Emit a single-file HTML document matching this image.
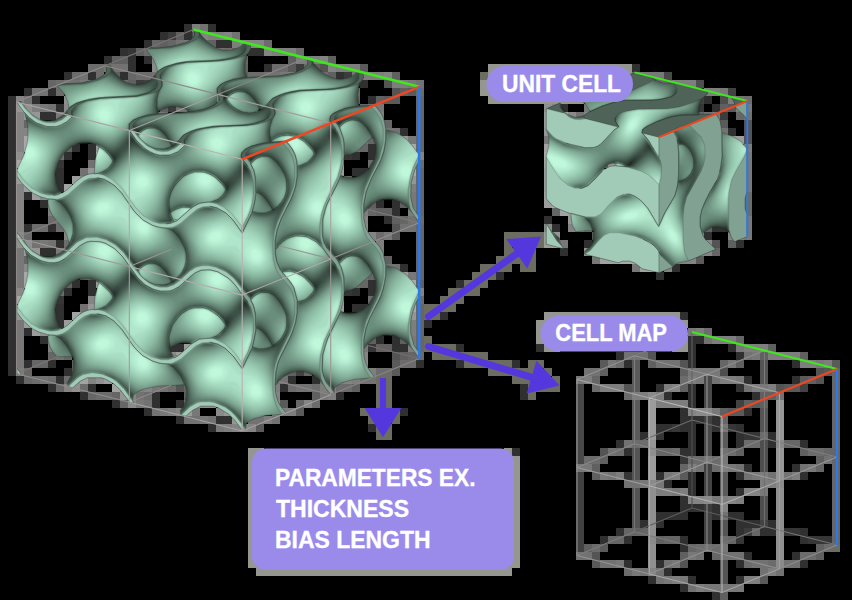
<!DOCTYPE html>
<html><head><meta charset="utf-8"><title>Gyroid lattice</title>
<style>html,body{margin:0;padding:0;background:#000;}body{width:852px;height:600px;overflow:hidden;}svg{display:block}</style>
</head><body>
<svg width="852" height="600" viewBox="0 0 852 600">
<rect width="852" height="600" fill="#000"/>
<g><path fill="#303030" d="M184 24h8v8h-8zM208 24h8v8h-8zM160 32h8v8h-8zM184 32h8v8h-8zM144 40h8v8h-8zM216 40h8v8h-8zM224 40h8v8h-8zM120 48h8v8h-8zM248 48h8v8h-8zM256 48h8v8h-8zM104 56h8v8h-8zM128 56h8v8h-8zM144 56h8v8h-8zM128 64h8v8h-8zM264 64h8v8h-8zM632 64h8v8h-8zM64 72h8v8h-8zM88 72h8v8h-8zM120 72h8v8h-8zM336 72h8v8h-8zM360 80h8v8h-8zM24 88h8v8h-8zM48 88h8v8h-8zM8 96h8v8h-8zM32 96h8v8h-8zM368 96h8v8h-8zM704 96h8v8h-8zM8 104h8v8h-8zM56 104h8v8h-8zM560 104h8v8h-8zM712 104h8v8h-8zM8 112h8v8h-8zM40 112h8v8h-8zM48 112h8v8h-8zM8 120h8v8h-8zM8 128h8v8h-8zM400 128h8v8h-8zM728 128h8v8h-8zM8 136h8v8h-8zM8 144h8v8h-8zM72 144h8v8h-8zM88 144h8v8h-8zM368 144h8v8h-8zM8 152h8v8h-8zM64 152h8v8h-8zM88 152h8v8h-8zM352 152h8v8h-8zM368 152h8v8h-8zM8 160h8v8h-8zM8 168h8v8h-8zM56 168h8v8h-8zM352 168h8v8h-8zM360 168h8v8h-8zM8 176h8v8h-8zM56 176h8v8h-8zM8 184h8v8h-8zM56 184h8v8h-8zM8 192h8v8h-8zM24 192h8v8h-8zM8 200h8v8h-8zM40 200h8v8h-8zM376 200h8v8h-8zM392 200h8v8h-8zM8 208h8v8h-8zM392 208h8v8h-8zM8 216h8v8h-8zM384 216h8v8h-8zM544 216h8v8h-8zM8 224h8v8h-8zM24 224h8v8h-8zM48 224h8v8h-8zM552 224h8v8h-8zM712 224h8v8h-8zM720 224h8v8h-8zM8 232h8v8h-8zM704 232h8v8h-8zM8 240h8v8h-8zM56 240h8v8h-8zM584 240h8v8h-8zM736 240h8v8h-8zM8 248h8v8h-8zM40 248h8v8h-8zM48 248h8v8h-8zM560 248h8v8h-8zM8 256h8v8h-8zM8 264h8v8h-8zM400 264h8v8h-8zM672 264h8v8h-8zM8 272h8v8h-8zM496 272h8v8h-8zM656 272h8v8h-8zM8 280h8v8h-8zM72 280h8v8h-8zM88 280h8v8h-8zM368 280h8v8h-8zM456 280h8v8h-8zM8 288h8v8h-8zM64 288h8v8h-8zM88 288h8v8h-8zM352 288h8v8h-8zM368 288h8v8h-8zM8 296h8v8h-8zM8 304h8v8h-8zM56 304h8v8h-8zM352 304h8v8h-8zM360 304h8v8h-8zM8 312h8v8h-8zM56 312h8v8h-8zM440 312h8v8h-8zM680 312h8v8h-8zM8 320h8v8h-8zM56 320h8v8h-8zM424 320h8v8h-8zM8 328h8v8h-8zM24 328h8v8h-8zM8 336h8v8h-8zM40 336h8v8h-8zM376 336h8v8h-8zM392 336h8v8h-8zM688 336h8v8h-8zM696 336h8v8h-8zM8 344h8v8h-8zM168 344h8v8h-8zM176 344h8v8h-8zM392 344h8v8h-8zM400 344h8v8h-8zM456 344h8v8h-8zM536 344h8v8h-8zM688 344h8v8h-8zM728 344h8v8h-8zM8 352h8v8h-8zM616 352h8v8h-8zM688 352h8v8h-8zM736 352h8v8h-8zM8 360h8v8h-8zM24 360h8v8h-8zM48 360h8v8h-8zM416 360h8v8h-8zM456 360h8v8h-8zM512 360h8v8h-8zM624 360h8v8h-8zM688 360h8v8h-8zM792 360h8v8h-8zM8 368h8v8h-8zM64 368h8v8h-8zM16 376h8v8h-8zM56 376h8v8h-8zM288 376h8v8h-8zM312 376h8v8h-8zM744 376h8v8h-8zM792 376h8v8h-8zM48 384h8v8h-8zM88 384h8v8h-8zM280 384h8v8h-8zM520 384h8v8h-8zM656 384h8v8h-8zM688 384h8v8h-8zM736 384h8v8h-8zM80 392h8v8h-8zM152 392h8v8h-8zM336 392h8v8h-8zM520 392h8v8h-8zM664 392h8v8h-8zM688 392h8v8h-8zM752 392h8v8h-8zM112 400h8v8h-8zM152 400h8v8h-8zM176 400h8v8h-8zM688 400h8v8h-8zM144 408h8v8h-8zM400 408h8v8h-8zM680 408h8v8h-8zM744 408h8v8h-8zM176 416h8v8h-8zM216 416h8v8h-8zM224 416h8v8h-8zM680 416h8v8h-8zM688 416h8v8h-8zM696 416h8v8h-8zM712 416h8v8h-8zM208 424h8v8h-8zM368 424h8v8h-8zM656 424h8v8h-8zM664 424h8v8h-8zM680 424h8v8h-8zM688 424h8v8h-8zM712 424h8v8h-8zM736 424h8v8h-8zM640 432h8v8h-8zM688 432h8v8h-8zM736 432h8v8h-8zM768 432h8v8h-8zM616 440h8v8h-8zM688 440h8v8h-8zM736 440h8v8h-8zM768 440h8v8h-8zM800 440h8v8h-8zM512 448h8v8h-8zM624 448h8v8h-8zM680 448h8v8h-8zM688 448h8v8h-8zM744 464h8v8h-8zM792 464h8v8h-8zM656 472h8v8h-8zM688 472h8v8h-8zM736 472h8v8h-8zM800 472h8v8h-8zM664 480h8v8h-8zM688 480h8v8h-8zM688 488h8v8h-8zM736 488h8v8h-8zM680 496h8v8h-8zM680 504h8v8h-8zM688 504h8v8h-8zM696 504h8v8h-8zM712 504h8v8h-8zM656 512h8v8h-8zM664 512h8v8h-8zM672 512h8v8h-8zM680 512h8v8h-8zM712 512h8v8h-8zM728 512h8v8h-8zM736 512h8v8h-8zM640 520h8v8h-8zM656 520h8v8h-8zM736 520h8v8h-8zM744 520h8v8h-8zM752 520h8v8h-8zM768 520h8v8h-8zM616 528h8v8h-8zM736 528h8v8h-8zM760 528h8v8h-8zM768 528h8v8h-8zM800 528h8v8h-8zM600 536h8v8h-8zM624 536h8v8h-8zM680 536h8v8h-8zM800 536h8v8h-8zM680 544h8v8h-8zM744 552h8v8h-8zM792 552h8v8h-8zM624 560h8v8h-8zM656 560h8v8h-8zM736 560h8v8h-8zM800 560h8v8h-8zM664 568h8v8h-8zM648 576h8v8h-8zM688 576h8v8h-8zM736 576h8v8h-8zM680 584h8v8h-8zM712 592h8v8h-8z"/><path fill="#7e7e7e" d="M192 24h8v8h-8zM208 32h8v8h-8zM216 32h8v8h-8zM232 40h8v8h-8zM272 48h8v8h-8zM280 48h8v8h-8zM288 48h8v8h-8zM296 56h8v8h-8zM304 56h8v8h-8zM312 56h8v8h-8zM336 64h8v8h-8zM344 64h8v8h-8zM352 64h8v8h-8zM288 72h8v8h-8zM360 72h8v8h-8zM368 72h8v8h-8zM376 72h8v8h-8zM88 80h8v8h-8zM392 80h8v8h-8zM400 80h8v8h-8zM672 80h8v8h-8zM680 80h8v8h-8zM688 80h8v8h-8zM704 88h8v8h-8zM712 88h8v8h-8zM728 96h8v8h-8zM32 104h8v8h-8zM736 104h8v8h-8zM376 112h8v8h-8zM408 184h8v8h-8zM48 200h8v8h-8zM48 208h8v8h-8zM360 208h8v8h-8zM408 208h8v8h-8zM64 224h8v8h-8zM576 224h8v8h-8zM376 240h8v8h-8zM376 248h8v8h-8zM672 256h8v8h-8zM408 320h8v8h-8zM408 328h8v8h-8zM696 328h8v8h-8zM48 336h8v8h-8zM712 336h8v8h-8zM720 336h8v8h-8zM728 336h8v8h-8zM48 344h8v8h-8zM408 344h8v8h-8zM744 344h8v8h-8zM752 344h8v8h-8zM760 344h8v8h-8zM768 352h8v8h-8zM776 352h8v8h-8zM784 352h8v8h-8zM792 352h8v8h-8zM800 360h8v8h-8zM808 360h8v8h-8zM824 360h8v8h-8zM16 368h8v8h-8zM368 368h8v8h-8zM336 376h8v8h-8zM352 376h8v8h-8zM584 376h8v8h-8zM688 376h8v8h-8zM720 376h8v8h-8zM728 376h8v8h-8zM136 384h8v8h-8zM272 384h8v8h-8zM320 384h8v8h-8zM328 384h8v8h-8zM600 384h8v8h-8zM608 384h8v8h-8zM616 384h8v8h-8zM664 384h8v8h-8zM752 384h8v8h-8zM768 384h8v8h-8zM328 392h8v8h-8zM632 392h8v8h-8zM640 392h8v8h-8zM656 392h8v8h-8zM184 400h8v8h-8zM656 400h8v8h-8zM664 400h8v8h-8zM672 400h8v8h-8zM680 400h8v8h-8zM168 408h8v8h-8zM272 408h8v8h-8zM280 408h8v8h-8zM288 408h8v8h-8zM264 416h8v8h-8zM224 424h8v8h-8zM688 464h8v8h-8zM720 464h8v8h-8zM616 472h8v8h-8zM672 472h8v8h-8zM760 472h8v8h-8zM792 472h8v8h-8zM760 480h8v8h-8zM768 480h8v8h-8zM656 488h8v8h-8zM664 488h8v8h-8zM680 488h8v8h-8zM720 496h8v8h-8zM736 496h8v8h-8zM768 568h8v8h-8zM672 576h8v8h-8zM744 576h8v8h-8zM752 576h8v8h-8zM696 584h8v8h-8z"/><path fill="#727272" d="M200 24h8v8h-8zM232 32h8v8h-8zM176 40h8v8h-8zM216 48h8v8h-8zM112 64h8v8h-8zM120 64h8v8h-8zM80 72h8v8h-8zM152 72h8v8h-8zM264 72h8v8h-8zM272 72h8v8h-8zM632 72h8v8h-8zM64 80h8v8h-8zM72 80h8v8h-8zM416 80h8v8h-8zM32 88h8v8h-8zM40 88h8v8h-8zM24 96h8v8h-8zM736 96h8v8h-8zM48 104h8v8h-8zM176 104h8v8h-8zM184 104h8v8h-8zM368 104h8v8h-8zM152 112h8v8h-8zM576 112h8v8h-8zM704 112h8v8h-8zM384 128h8v8h-8zM392 128h8v8h-8zM720 128h8v8h-8zM360 136h8v8h-8zM88 160h8v8h-8zM80 168h8v8h-8zM56 216h8v8h-8zM408 216h8v8h-8zM400 224h8v8h-8zM408 224h8v8h-8zM32 240h8v8h-8zM48 240h8v8h-8zM384 264h8v8h-8zM392 264h8v8h-8zM360 272h8v8h-8zM80 304h8v8h-8zM704 336h8v8h-8zM56 352h8v8h-8zM624 352h8v8h-8zM632 352h8v8h-8zM640 352h8v8h-8zM744 352h8v8h-8zM656 360h8v8h-8zM664 360h8v8h-8zM672 360h8v8h-8zM584 368h8v8h-8zM592 368h8v8h-8zM40 376h8v8h-8zM280 376h8v8h-8zM360 376h8v8h-8zM368 376h8v8h-8zM712 376h8v8h-8zM160 384h8v8h-8zM296 384h8v8h-8zM304 384h8v8h-8zM744 384h8v8h-8zM136 392h8v8h-8zM776 392h8v8h-8zM144 400h8v8h-8zM152 408h8v8h-8zM184 416h8v8h-8zM192 416h8v8h-8zM208 416h8v8h-8zM248 416h8v8h-8zM256 416h8v8h-8zM272 416h8v8h-8zM624 440h8v8h-8zM608 448h8v8h-8zM720 448h8v8h-8zM824 456h8v8h-8zM696 464h8v8h-8zM736 464h8v8h-8zM800 464h8v8h-8zM608 472h8v8h-8zM744 472h8v8h-8zM768 472h8v8h-8zM784 472h8v8h-8zM624 480h8v8h-8zM632 480h8v8h-8zM720 512h8v8h-8zM704 544h8v8h-8zM576 552h8v8h-8zM584 552h8v8h-8zM696 552h8v8h-8zM720 552h8v8h-8zM728 552h8v8h-8zM736 552h8v8h-8zM600 560h8v8h-8zM608 560h8v8h-8zM664 560h8v8h-8zM752 560h8v8h-8zM760 560h8v8h-8zM784 560h8v8h-8zM792 560h8v8h-8zM640 568h8v8h-8zM656 568h8v8h-8zM760 568h8v8h-8zM776 568h8v8h-8zM656 576h8v8h-8zM688 584h8v8h-8z"/><path fill="#3c3c3c" d="M168 32h8v8h-8zM296 64h8v8h-8zM344 72h8v8h-8zM136 80h8v8h-8zM168 104h8v8h-8zM720 112h8v8h-8zM704 504h8v8h-8zM744 528h8v8h-8z"/><path fill="#606060" d="M176 32h8v8h-8zM160 40h8v8h-8zM208 40h8v8h-8zM136 48h8v8h-8zM232 48h8v8h-8zM112 56h8v8h-8zM120 56h8v8h-8zM288 56h8v8h-8zM328 56h8v8h-8zM240 64h8v8h-8zM312 64h8v8h-8zM112 72h8v8h-8zM240 72h8v8h-8zM328 72h8v8h-8zM392 72h8v8h-8zM128 80h8v8h-8zM400 88h8v8h-8zM376 96h8v8h-8zM160 104h8v8h-8zM720 104h8v8h-8zM64 144h8v8h-8zM368 200h8v8h-8zM400 200h8v8h-8zM376 208h8v8h-8zM384 208h8v8h-8zM392 216h8v8h-8zM704 224h8v8h-8zM592 232h8v8h-8zM728 240h8v8h-8zM384 256h8v8h-8zM64 280h8v8h-8zM416 280h8v8h-8zM368 336h8v8h-8zM400 336h8v8h-8zM376 344h8v8h-8zM384 344h8v8h-8zM768 344h8v8h-8zM400 352h8v8h-8zM760 352h8v8h-8zM800 352h8v8h-8zM648 360h8v8h-8zM736 360h8v8h-8zM72 368h8v8h-8zM288 368h8v8h-8zM600 368h8v8h-8zM680 368h8v8h-8zM808 376h8v8h-8zM352 384h8v8h-8zM680 384h8v8h-8zM184 392h8v8h-8zM312 392h8v8h-8zM760 392h8v8h-8zM768 392h8v8h-8zM744 400h8v8h-8zM760 400h8v8h-8zM720 408h8v8h-8zM736 448h8v8h-8zM800 448h8v8h-8zM600 456h8v8h-8zM816 456h8v8h-8zM592 464h8v8h-8zM592 472h8v8h-8zM656 536h8v8h-8zM584 544h8v8h-8zM816 544h8v8h-8zM680 552h8v8h-8zM816 552h8v8h-8zM720 592h8v8h-8z"/><path fill="#484848" d="M192 32h8v8h-8zM664 72h8v8h-8zM704 376h8v8h-8zM576 384h8v8h-8zM704 384h8v8h-8zM576 392h8v8h-8zM704 392h8v8h-8zM576 400h8v8h-8zM704 400h8v8h-8zM576 408h8v8h-8zM576 416h8v8h-8zM576 424h8v8h-8zM704 424h8v8h-8zM576 432h8v8h-8zM704 432h8v8h-8zM576 440h8v8h-8zM704 440h8v8h-8zM576 448h8v8h-8zM704 448h8v8h-8zM576 456h8v8h-8z"/><path fill="#848484" d="M200 32h8v8h-8zM224 32h8v8h-8zM240 40h8v8h-8zM248 40h8v8h-8zM256 40h8v8h-8zM264 48h8v8h-8zM152 56h8v8h-8zM320 56h8v8h-8zM328 64h8v8h-8zM384 72h8v8h-8zM16 96h8v8h-8zM552 104h8v8h-8zM16 112h8v8h-8zM584 112h8v8h-8zM16 120h8v8h-8zM16 128h8v8h-8zM24 128h8v8h-8zM16 136h8v8h-8zM16 144h8v8h-8zM16 184h8v8h-8zM16 192h8v8h-8zM16 200h8v8h-8zM16 208h8v8h-8zM16 216h8v8h-8zM360 216h8v8h-8zM16 224h8v8h-8zM568 224h8v8h-8zM64 232h8v8h-8zM368 232h8v8h-8zM696 232h8v8h-8zM728 232h8v8h-8zM736 232h8v8h-8zM696 248h8v8h-8zM704 248h8v8h-8zM680 256h8v8h-8zM688 256h8v8h-8zM664 264h8v8h-8zM88 296h8v8h-8zM360 352h8v8h-8zM88 376h8v8h-8zM344 376h8v8h-8zM64 384h8v8h-8zM144 384h8v8h-8zM672 384h8v8h-8zM128 392h8v8h-8zM272 392h8v8h-8zM304 400h8v8h-8zM176 408h8v8h-8zM688 408h8v8h-8zM232 424h8v8h-8zM248 424h8v8h-8zM744 488h8v8h-8zM752 488h8v8h-8zM688 496h8v8h-8zM696 496h8v8h-8zM728 496h8v8h-8zM720 504h8v8h-8zM648 568h8v8h-8z"/><path fill="#666666" d="M152 40h8v8h-8zM168 40h8v8h-8zM240 56h8v8h-8zM304 64h8v8h-8zM128 72h8v8h-8zM48 80h8v8h-8zM352 96h8v8h-8zM416 96h8v8h-8zM360 104h8v8h-8zM416 104h8v8h-8zM416 112h8v8h-8zM696 112h8v8h-8zM736 112h8v8h-8zM24 120h8v8h-8zM384 120h8v8h-8zM416 120h8v8h-8zM416 128h8v8h-8zM368 136h8v8h-8zM416 136h8v8h-8zM360 144h8v8h-8zM416 144h8v8h-8zM600 160h8v8h-8zM416 168h8v8h-8zM416 176h8v8h-8zM416 184h8v8h-8zM416 192h8v8h-8zM416 200h8v8h-8zM368 208h8v8h-8zM416 208h8v8h-8zM552 208h8v8h-8zM400 216h8v8h-8zM416 224h8v8h-8zM416 232h8v8h-8zM416 240h8v8h-8zM416 248h8v8h-8zM712 248h8v8h-8zM24 256h8v8h-8zM416 256h8v8h-8zM416 264h8v8h-8zM80 272h8v8h-8zM368 272h8v8h-8zM416 272h8v8h-8zM360 280h8v8h-8zM416 304h8v8h-8zM416 312h8v8h-8zM416 320h8v8h-8zM416 328h8v8h-8zM416 336h8v8h-8zM736 336h8v8h-8zM416 344h8v8h-8zM48 352h8v8h-8zM64 352h8v8h-8zM408 352h8v8h-8zM32 360h8v8h-8zM40 360h8v8h-8zM72 360h8v8h-8zM720 360h8v8h-8zM24 368h8v8h-8zM280 368h8v8h-8zM304 368h8v8h-8zM832 368h8v8h-8zM24 376h8v8h-8zM592 376h8v8h-8zM832 376h8v8h-8zM56 384h8v8h-8zM184 384h8v8h-8zM832 384h8v8h-8zM88 392h8v8h-8zM112 392h8v8h-8zM832 392h8v8h-8zM120 400h8v8h-8zM296 400h8v8h-8zM832 400h8v8h-8zM832 408h8v8h-8zM720 416h8v8h-8zM832 416h8v8h-8zM832 424h8v8h-8zM832 432h8v8h-8zM784 440h8v8h-8zM792 440h8v8h-8zM832 440h8v8h-8zM656 448h8v8h-8zM664 448h8v8h-8zM824 448h8v8h-8zM832 448h8v8h-8zM832 456h8v8h-8zM680 464h8v8h-8zM816 464h8v8h-8zM832 464h8v8h-8zM832 472h8v8h-8zM832 480h8v8h-8zM832 488h8v8h-8zM832 496h8v8h-8zM832 504h8v8h-8zM832 512h8v8h-8zM832 520h8v8h-8zM624 528h8v8h-8zM632 528h8v8h-8zM640 528h8v8h-8zM752 528h8v8h-8zM832 528h8v8h-8zM608 536h8v8h-8zM616 536h8v8h-8zM664 536h8v8h-8zM672 536h8v8h-8zM728 536h8v8h-8zM832 536h8v8h-8zM688 544h8v8h-8zM712 552h8v8h-8z"/><path fill="#787878" d="M184 40h8v8h-8zM280 72h8v8h-8zM352 72h8v8h-8zM640 72h8v8h-8zM648 72h8v8h-8zM656 72h8v8h-8zM80 80h8v8h-8zM408 80h8v8h-8zM720 88h8v8h-8zM40 104h8v8h-8zM376 104h8v8h-8zM584 104h8v8h-8zM744 104h8v8h-8zM56 112h8v8h-8zM160 112h8v8h-8zM712 112h8v8h-8zM408 136h8v8h-8zM544 136h8v8h-8zM744 152h8v8h-8zM744 160h8v8h-8zM744 168h8v8h-8zM744 176h8v8h-8zM744 184h8v8h-8zM408 192h8v8h-8zM408 200h8v8h-8zM744 216h8v8h-8zM744 224h8v8h-8zM384 232h8v8h-8zM744 232h8v8h-8zM40 240h8v8h-8zM560 240h8v8h-8zM16 248h8v8h-8zM56 248h8v8h-8zM16 256h8v8h-8zM592 256h8v8h-8zM16 264h8v8h-8zM632 264h8v8h-8zM16 272h8v8h-8zM408 272h8v8h-8zM16 280h8v8h-8zM16 320h8v8h-8zM16 328h8v8h-8zM688 328h8v8h-8zM16 336h8v8h-8zM408 336h8v8h-8zM16 344h8v8h-8zM360 344h8v8h-8zM736 344h8v8h-8zM16 352h8v8h-8zM752 352h8v8h-8zM16 360h8v8h-8zM608 360h8v8h-8zM728 360h8v8h-8zM816 360h8v8h-8zM688 368h8v8h-8zM696 368h8v8h-8zM704 368h8v8h-8zM712 368h8v8h-8zM272 376h8v8h-8zM320 376h8v8h-8zM576 376h8v8h-8zM696 376h8v8h-8zM736 376h8v8h-8zM152 384h8v8h-8zM760 384h8v8h-8zM320 392h8v8h-8zM136 400h8v8h-8zM160 408h8v8h-8zM192 408h8v8h-8zM712 408h8v8h-8zM200 416h8v8h-8zM216 424h8v8h-8zM720 424h8v8h-8zM704 456h8v8h-8zM720 456h8v8h-8zM576 464h8v8h-8zM584 464h8v8h-8zM728 464h8v8h-8zM808 464h8v8h-8zM600 472h8v8h-8zM664 472h8v8h-8zM752 472h8v8h-8zM640 480h8v8h-8zM656 480h8v8h-8zM672 488h8v8h-8zM760 488h8v8h-8zM712 496h8v8h-8zM720 544h8v8h-8zM688 552h8v8h-8zM616 560h8v8h-8zM672 560h8v8h-8zM632 568h8v8h-8zM664 576h8v8h-8zM680 576h8v8h-8zM704 584h8v8h-8zM712 584h8v8h-8zM720 584h8v8h-8zM728 584h8v8h-8zM736 584h8v8h-8z"/><path fill="#6c6c6c" d="M200 40h8v8h-8zM264 40h8v8h-8zM144 48h8v8h-8zM224 48h8v8h-8zM296 48h8v8h-8zM88 64h8v8h-8zM96 64h8v8h-8zM104 64h8v8h-8zM272 64h8v8h-8zM280 64h8v8h-8zM72 72h8v8h-8zM96 72h8v8h-8zM136 72h8v8h-8zM144 72h8v8h-8zM248 72h8v8h-8zM256 72h8v8h-8zM320 72h8v8h-8zM56 80h8v8h-8zM120 80h8v8h-8zM656 80h8v8h-8zM664 80h8v8h-8zM56 88h8v8h-8zM352 88h8v8h-8zM744 96h8v8h-8zM352 144h8v8h-8zM56 152h8v8h-8zM368 160h8v8h-8zM344 176h8v8h-8zM48 216h8v8h-8zM32 224h8v8h-8zM40 224h8v8h-8zM56 224h8v8h-8zM584 224h8v8h-8zM24 232h8v8h-8zM376 232h8v8h-8zM64 240h8v8h-8zM88 272h8v8h-8zM352 280h8v8h-8zM56 288h8v8h-8zM368 296h8v8h-8zM704 328h8v8h-8zM400 360h8v8h-8zM408 360h8v8h-8zM616 360h8v8h-8zM376 368h8v8h-8zM384 368h8v8h-8zM32 376h8v8h-8zM48 376h8v8h-8zM64 376h8v8h-8zM680 376h8v8h-8zM80 384h8v8h-8zM168 384h8v8h-8zM288 384h8v8h-8zM312 384h8v8h-8zM336 384h8v8h-8zM344 384h8v8h-8zM592 384h8v8h-8zM96 392h8v8h-8zM104 392h8v8h-8zM144 392h8v8h-8zM624 392h8v8h-8zM312 400h8v8h-8zM760 432h8v8h-8zM632 440h8v8h-8zM640 440h8v8h-8zM744 440h8v8h-8zM752 440h8v8h-8zM616 448h8v8h-8zM672 448h8v8h-8zM728 448h8v8h-8zM808 448h8v8h-8zM816 448h8v8h-8zM584 456h8v8h-8zM592 456h8v8h-8zM688 456h8v8h-8zM696 456h8v8h-8zM712 456h8v8h-8zM712 464h8v8h-8zM720 536h8v8h-8zM592 544h8v8h-8zM696 544h8v8h-8zM712 544h8v8h-8zM824 544h8v8h-8zM800 552h8v8h-8zM808 552h8v8h-8zM744 560h8v8h-8zM768 560h8v8h-8zM624 568h8v8h-8z"/><path fill="#363636" d="M128 48h8v8h-8zM696 104h8v8h-8zM344 152h8v8h-8zM56 160h8v8h-8zM344 288h8v8h-8zM56 296h8v8h-8zM368 344h8v8h-8zM672 424h8v8h-8zM728 424h8v8h-8zM656 432h8v8h-8zM744 432h8v8h-8zM752 432h8v8h-8zM680 456h8v8h-8zM624 472h8v8h-8zM784 528h8v8h-8zM792 528h8v8h-8zM736 536h8v8h-8zM808 536h8v8h-8zM816 536h8v8h-8zM824 536h8v8h-8z"/><path fill="#8a8a8a" d="M152 64h8v8h-8zM64 104h8v8h-8zM568 112h8v8h-8zM80 176h8v8h-8zM40 192h8v8h-8zM360 224h8v8h-8zM544 224h8v8h-8zM16 232h8v8h-8zM704 240h8v8h-8zM24 264h8v8h-8zM16 288h8v8h-8zM80 312h8v8h-8zM168 352h8v8h-8zM360 360h8v8h-8zM120 384h8v8h-8zM648 392h8v8h-8zM128 400h8v8h-8zM192 400h8v8h-8zM272 400h8v8h-8zM216 408h8v8h-8zM696 408h8v8h-8zM704 408h8v8h-8zM240 424h8v8h-8zM776 440h8v8h-8zM648 480h8v8h-8zM776 480h8v8h-8zM704 496h8v8h-8zM648 536h8v8h-8zM776 560h8v8h-8z"/><path fill="#5a5a5a" d="M288 64h8v8h-8zM360 64h8v8h-8zM408 88h8v8h-8zM384 96h8v8h-8zM392 96h8v8h-8zM728 104h8v8h-8zM720 120h8v8h-8zM392 232h8v8h-8zM696 256h8v8h-8zM392 360h8v8h-8zM600 360h8v8h-8zM632 360h8v8h-8zM832 360h8v8h-8zM392 368h8v8h-8zM632 368h8v8h-8zM824 368h8v8h-8zM632 376h8v8h-8zM800 376h8v8h-8zM632 384h8v8h-8zM784 384h8v8h-8zM792 384h8v8h-8zM280 400h8v8h-8zM632 400h8v8h-8zM752 400h8v8h-8zM296 408h8v8h-8zM632 408h8v8h-8zM728 408h8v8h-8zM736 408h8v8h-8zM632 416h8v8h-8zM256 424h8v8h-8zM632 424h8v8h-8zM632 432h8v8h-8zM720 432h8v8h-8zM720 440h8v8h-8zM680 472h8v8h-8zM720 472h8v8h-8zM720 480h8v8h-8zM720 488h8v8h-8zM600 544h8v8h-8zM592 560h8v8h-8zM760 576h8v8h-8z"/><path fill="#545454" d="M320 64h8v8h-8zM384 80h8v8h-8zM392 88h8v8h-8zM744 120h8v8h-8zM744 128h8v8h-8zM744 136h8v8h-8zM392 224h8v8h-8zM712 240h8v8h-8zM392 352h8v8h-8zM648 352h8v8h-8zM680 360h8v8h-8zM760 360h8v8h-8zM760 368h8v8h-8zM816 368h8v8h-8zM760 376h8v8h-8zM816 376h8v8h-8zM176 384h8v8h-8zM624 384h8v8h-8zM776 384h8v8h-8zM760 408h8v8h-8zM760 416h8v8h-8zM760 424h8v8h-8zM600 448h8v8h-8zM632 448h8v8h-8zM632 456h8v8h-8zM632 464h8v8h-8zM632 472h8v8h-8zM632 488h8v8h-8zM632 496h8v8h-8zM632 504h8v8h-8zM632 512h8v8h-8zM632 520h8v8h-8zM720 520h8v8h-8zM720 528h8v8h-8zM592 552h8v8h-8zM680 560h8v8h-8zM720 560h8v8h-8zM720 568h8v8h-8zM720 576h8v8h-8z"/><path fill="#969690" d="M488 64h8v8h-8zM496 64h8v8h-8zM504 64h8v8h-8zM512 64h8v8h-8zM520 64h8v8h-8zM528 64h8v8h-8zM536 64h8v8h-8zM544 64h8v8h-8zM552 64h8v8h-8zM560 64h8v8h-8zM568 64h8v8h-8zM576 64h8v8h-8zM584 64h8v8h-8zM592 64h8v8h-8zM600 64h8v8h-8zM608 64h8v8h-8zM616 64h8v8h-8zM624 64h8v8h-8zM488 72h8v8h-8zM624 72h8v8h-8zM480 80h8v8h-8zM480 88h8v8h-8zM488 88h8v8h-8zM488 96h8v8h-8zM496 96h8v8h-8zM504 96h8v8h-8zM512 96h8v8h-8zM520 96h8v8h-8zM528 96h8v8h-8zM536 96h8v8h-8zM544 96h8v8h-8zM552 96h8v8h-8zM560 96h8v8h-8zM568 96h8v8h-8zM576 96h8v8h-8zM544 312h8v8h-8zM552 312h8v8h-8zM560 312h8v8h-8zM568 312h8v8h-8zM576 312h8v8h-8zM584 312h8v8h-8zM592 312h8v8h-8zM600 312h8v8h-8zM608 312h8v8h-8zM616 312h8v8h-8zM624 312h8v8h-8zM632 312h8v8h-8zM640 312h8v8h-8zM648 312h8v8h-8zM656 312h8v8h-8zM664 312h8v8h-8zM672 312h8v8h-8zM536 320h8v8h-8zM544 320h8v8h-8zM680 320h8v8h-8zM536 328h8v8h-8zM536 336h8v8h-8zM680 336h8v8h-8zM544 344h8v8h-8zM552 344h8v8h-8zM672 344h8v8h-8zM680 344h8v8h-8zM248 448h8v8h-8zM256 448h8v8h-8zM504 448h8v8h-8zM248 456h8v8h-8zM512 456h8v8h-8zM248 464h8v8h-8zM512 464h8v8h-8zM248 472h8v8h-8zM512 472h8v8h-8zM248 480h8v8h-8zM512 480h8v8h-8zM248 488h8v8h-8zM512 488h8v8h-8zM248 496h8v8h-8zM512 496h8v8h-8zM248 504h8v8h-8zM512 504h8v8h-8zM248 512h8v8h-8zM512 512h8v8h-8zM248 520h8v8h-8zM512 520h8v8h-8zM248 528h8v8h-8zM512 528h8v8h-8zM248 536h8v8h-8zM512 536h8v8h-8zM248 544h8v8h-8zM512 544h8v8h-8zM248 552h8v8h-8zM512 552h8v8h-8zM248 560h8v8h-8zM256 560h8v8h-8zM504 560h8v8h-8zM512 560h8v8h-8zM256 568h8v8h-8zM264 568h8v8h-8zM272 568h8v8h-8zM280 568h8v8h-8zM288 568h8v8h-8zM296 568h8v8h-8zM304 568h8v8h-8zM312 568h8v8h-8zM320 568h8v8h-8zM328 568h8v8h-8zM336 568h8v8h-8zM344 568h8v8h-8zM352 568h8v8h-8zM360 568h8v8h-8zM368 568h8v8h-8zM376 568h8v8h-8zM384 568h8v8h-8zM392 568h8v8h-8zM400 568h8v8h-8zM408 568h8v8h-8zM416 568h8v8h-8zM424 568h8v8h-8zM432 568h8v8h-8zM440 568h8v8h-8zM448 568h8v8h-8zM456 568h8v8h-8zM464 568h8v8h-8zM472 568h8v8h-8zM480 568h8v8h-8zM488 568h8v8h-8zM496 568h8v8h-8zM504 568h8v8h-8z"/><path fill="#6c6c60" d="M480 72h8v8h-8zM416 88h8v8h-8zM744 192h8v8h-8zM744 200h8v8h-8zM504 232h8v8h-8zM512 232h8v8h-8zM520 232h8v8h-8zM528 232h8v8h-8zM536 232h8v8h-8zM504 240h8v8h-8zM536 240h8v8h-8zM504 248h8v8h-8zM512 248h8v8h-8zM528 248h8v8h-8zM496 256h8v8h-8zM504 256h8v8h-8zM512 256h8v8h-8zM520 256h8v8h-8zM528 256h8v8h-8zM480 264h8v8h-8zM488 264h8v8h-8zM496 264h8v8h-8zM504 264h8v8h-8zM520 264h8v8h-8zM528 264h8v8h-8zM472 272h8v8h-8zM480 272h8v8h-8zM488 272h8v8h-8zM464 280h8v8h-8zM472 280h8v8h-8zM480 280h8v8h-8zM448 288h8v8h-8zM456 288h8v8h-8zM464 288h8v8h-8zM472 288h8v8h-8zM440 296h8v8h-8zM448 296h8v8h-8zM456 296h8v8h-8zM424 304h8v8h-8zM432 304h8v8h-8zM440 304h8v8h-8zM448 304h8v8h-8zM424 312h8v8h-8zM432 312h8v8h-8zM424 336h8v8h-8zM424 344h8v8h-8zM432 344h8v8h-8zM440 344h8v8h-8zM448 344h8v8h-8zM432 352h8v8h-8zM440 352h8v8h-8zM448 352h8v8h-8zM456 352h8v8h-8zM464 352h8v8h-8zM472 352h8v8h-8zM480 352h8v8h-8zM464 360h8v8h-8zM472 360h8v8h-8zM480 360h8v8h-8zM488 360h8v8h-8zM496 360h8v8h-8zM504 360h8v8h-8zM528 360h8v8h-8zM536 360h8v8h-8zM488 368h8v8h-8zM496 368h8v8h-8zM504 368h8v8h-8zM512 368h8v8h-8zM520 368h8v8h-8zM528 368h8v8h-8zM544 368h8v8h-8zM376 376h8v8h-8zM384 376h8v8h-8zM512 376h8v8h-8zM520 376h8v8h-8zM528 376h8v8h-8zM552 376h8v8h-8zM376 384h8v8h-8zM384 384h8v8h-8zM528 384h8v8h-8zM536 384h8v8h-8zM544 384h8v8h-8zM552 384h8v8h-8zM376 392h8v8h-8zM384 392h8v8h-8zM528 392h8v8h-8zM376 400h8v8h-8zM384 400h8v8h-8zM360 408h8v8h-8zM368 408h8v8h-8zM392 408h8v8h-8zM368 416h8v8h-8zM392 416h8v8h-8zM376 424h8v8h-8zM384 424h8v8h-8zM376 432h8v8h-8zM384 432h8v8h-8z"/><path fill="#424242" d="M144 80h8v8h-8zM728 88h8v8h-8zM696 96h8v8h-8zM296 368h8v8h-8zM800 384h8v8h-8zM736 400h8v8h-8zM704 416h8v8h-8zM704 464h8v8h-8zM576 472h8v8h-8zM704 472h8v8h-8zM576 480h8v8h-8zM704 480h8v8h-8zM576 488h8v8h-8zM704 488h8v8h-8zM576 496h8v8h-8zM576 504h8v8h-8zM576 512h8v8h-8zM704 512h8v8h-8zM576 520h8v8h-8zM704 520h8v8h-8zM760 520h8v8h-8zM576 528h8v8h-8zM704 528h8v8h-8zM576 536h8v8h-8zM704 536h8v8h-8zM576 544h8v8h-8z"/><path fill="#4e4e4e" d="M696 80h8v8h-8zM720 96h8v8h-8zM720 368h8v8h-8zM760 440h8v8h-8zM760 448h8v8h-8zM760 456h8v8h-8zM760 464h8v8h-8zM760 496h8v8h-8zM760 504h8v8h-8zM760 512h8v8h-8z"/><path fill="#909090" d="M64 96h8v8h-8zM24 104h8v8h-8zM544 104h8v8h-8zM64 112h8v8h-8zM16 152h8v8h-8zM16 240h8v8h-8zM24 240h8v8h-8zM64 248h8v8h-8zM584 248h8v8h-8zM40 328h8v8h-8zM72 376h8v8h-8zM96 376h8v8h-8zM72 384h8v8h-8zM200 400h8v8h-8zM208 400h8v8h-8zM648 448h8v8h-8zM648 488h8v8h-8zM776 488h8v8h-8zM648 496h8v8h-8zM776 496h8v8h-8zM648 504h8v8h-8zM776 504h8v8h-8zM648 512h8v8h-8zM776 512h8v8h-8zM648 520h8v8h-8zM776 520h8v8h-8zM648 528h8v8h-8zM776 528h8v8h-8zM776 536h8v8h-8zM648 544h8v8h-8zM776 544h8v8h-8zM648 552h8v8h-8zM776 552h8v8h-8zM648 560h8v8h-8z"/><path fill="#969696" d="M16 104h8v8h-8zM24 112h8v8h-8zM32 112h8v8h-8zM544 128h8v8h-8zM400 136h8v8h-8zM728 136h8v8h-8zM96 144h8v8h-8zM608 160h8v8h-8zM88 168h8v8h-8zM408 176h8v8h-8zM568 216h8v8h-8zM552 232h8v8h-8zM32 248h8v8h-8zM96 280h8v8h-8zM88 304h8v8h-8zM16 312h8v8h-8zM408 312h8v8h-8zM120 392h8v8h-8zM776 400h8v8h-8zM224 408h8v8h-8zM776 408h8v8h-8zM232 416h8v8h-8zM776 416h8v8h-8zM776 424h8v8h-8zM776 432h8v8h-8zM648 440h8v8h-8zM776 448h8v8h-8zM776 456h8v8h-8zM776 464h8v8h-8zM776 472h8v8h-8z"/><path fill="#9c9c9c" d="M544 112h8v8h-8zM544 120h8v8h-8zM736 136h8v8h-8zM336 168h8v8h-8zM544 168h8v8h-8zM16 176h8v8h-8zM72 176h8v8h-8zM544 176h8v8h-8zM24 184h8v8h-8zM544 184h8v8h-8zM32 192h8v8h-8zM544 200h8v8h-8zM568 208h8v8h-8zM544 232h8v8h-8zM544 240h8v8h-8zM24 248h8v8h-8zM400 272h8v8h-8zM336 304h8v8h-8zM24 320h8v8h-8zM64 320h8v8h-8zM32 328h8v8h-8zM184 344h8v8h-8zM176 352h8v8h-8zM104 376h8v8h-8zM648 400h8v8h-8zM184 408h8v8h-8zM648 408h8v8h-8zM648 416h8v8h-8zM648 424h8v8h-8zM648 432h8v8h-8zM648 456h8v8h-8zM648 464h8v8h-8zM648 472h8v8h-8z"/><path fill="#a2a2a2" d="M560 112h8v8h-8zM544 144h8v8h-8zM336 160h8v8h-8zM544 160h8v8h-8zM64 184h8v8h-8zM544 192h8v8h-8zM560 208h8v8h-8zM552 240h8v8h-8zM600 256h8v8h-8zM608 256h8v8h-8zM640 264h8v8h-8zM336 296h8v8h-8zM72 312h8v8h-8zM80 376h8v8h-8zM112 384h8v8h-8z"/><path fill="#727266" d="M744 112h8v8h-8z"/><path fill="#a8a8a8" d="M24 136h8v8h-8zM24 144h8v8h-8zM408 144h8v8h-8zM96 152h8v8h-8zM544 152h8v8h-8zM16 160h8v8h-8zM408 168h8v8h-8zM552 200h8v8h-8zM616 256h8v8h-8zM624 256h8v8h-8zM632 256h8v8h-8zM648 264h8v8h-8zM24 272h8v8h-8zM24 280h8v8h-8zM408 280h8v8h-8zM16 296h8v8h-8zM408 304h8v8h-8z"/><path fill="#7e7e78" d="M744 144h8v8h-8z"/><path fill="#848478" d="M416 152h8v8h-8zM416 288h8v8h-8z"/><path fill="#6c6c66" d="M416 160h8v8h-8zM744 208h8v8h-8zM416 216h8v8h-8zM416 296h8v8h-8zM416 352h8v8h-8zM832 544h8v8h-8z"/></g>
<defs><filter id="sm" x="-2%" y="-2%" width="104%" height="104%"><feGaussianBlur stdDeviation="1.0"/></filter></defs>
<clipPath id="cb"><path d="M16.8 368.2L16.8 373.8 21.2 374.8 19.8 371.2ZM193.8 29.8L194.8 31.8 194.2 36.2 190.8 39.8 186.2 42.2 172.2 46.2 157.8 47.8 149.2 47.8 145.8 49.2 153.2 58.8 156.8 67.2 157.2 72.2 149.8 80.2 145.2 82.8 140.2 84.2 132.8 84.2 128.8 83.2 123.8 80.8 115.8 73.8 108.8 64.2 105.2 65.8 106.2 68.2 106.2 71.2 105.2 73.2 102.8 75.8 97.2 78.8 81.8 82.8 64.2 83.8 57.2 85.8 62.2 91.2 66.2 97.8 68.2 103.2 68.8 108.2 62.8 115.2 56.2 119.2 49.8 120.8 46.2 120.8 39.8 119.2 32.8 115.2 26.2 108.8 20.8 100.8 16.8 102.2 24.8 113.2 27.8 125.2 27.8 138.2 26.8 144.8 23.2 156.8 16.8 169.8 16.8 176.2 22.2 183.8 31.2 192.2 39.8 196.8 46.2 198.2 47.8 199.2 47.8 202.8 49.8 210.2 52.8 216.2 64.8 230.8 66.8 234.8 68.8 241.8 68.8 244.2 63.8 250.2 59.8 253.2 52.2 256.2 43.8 256.2 38.8 254.8 32.2 250.8 26.8 245.2 23.8 240.2 16.8 232.2 16.8 237.8 25.2 250.2 27.8 261.2 27.8 274.2 26.2 282.8 22.8 293.8 16.8 305.8 16.8 312.2 22.8 320.2 30.8 327.8 37.8 331.8 46.8 334.2 47.8 335.2 48.2 340.8 50.2 347.2 53.2 352.8 56.8 356.8 72.2 356.8 73.2 360.2 73.2 368.8 71.8 374.2 67.2 382.8 68.2 386.8 72.8 387.8 80.2 381.2 87.2 377.8 101.2 377.8 105.8 379.2 114.2 384.2 120.2 389.8 129.8 402.2 134.2 403.2 132.8 400.2 133.2 395.8 136.8 392.2 143.2 389.2 157.8 386.2 184.8 384.8 186.2 389.8 186.2 396.2 184.2 403.8 180.2 410.8 180.8 415.2 185.8 416.2 192.8 410.2 200.8 406.2 213.2 406.2 218.2 407.8 228.2 413.8 234.8 420.2 242.8 430.8 245.8 429.2 246.2 424.2 249.2 421.2 252.8 419.2 264.8 415.8 282.8 414.2 286.2 412.8 281.8 407.8 278.2 401.8 275.8 393.2 275.2 385.8 282.8 377.2 289.8 373.2 295.2 371.8 303.2 371.8 308.8 373.2 318.2 379.2 323.8 385.2 327.8 391.2 330.8 394.2 334.2 393.2 334.2 388.8 335.2 387.2 341.8 382.8 354.8 379.2 370.8 378.2 374.2 376.8 368.8 369.2 366.2 364.2 364.2 357.2 363.8 349.2 367.2 344.8 373.8 339.2 377.8 337.2 385.8 335.2 394.8 336.2 403.2 340.2 411.8 348.2 418.8 357.8 418.8 351.8 413.8 344.8 410.8 333.2 410.8 322.2 411.8 315.8 414.8 305.8 418.8 297.2 418.8 290.2 412.8 281.8 405.8 274.2 396.2 268.2 385.8 265.2 383.2 253.2 379.8 246.8 372.2 238.2 367.8 231.8 365.8 227.2 363.8 217.8 364.2 212.8 373.2 203.8 376.8 201.8 383.2 199.8 392.2 199.8 399.8 202.2 405.8 206.2 410.8 211.2 418.8 221.8 418.8 216.2 413.2 207.8 410.8 197.2 411.2 182.8 414.8 169.8 418.8 161.8 418.8 154.2 408.8 141.2 402.2 135.8 395.8 132.2 385.8 129.8 384.8 122.8 382.8 116.2 379.2 110.2 374.8 105.2 360.2 105.8 359.2 104.8 357.8 95.2 359.2 86.8 363.8 77.2 362.8 72.8 357.8 71.2 353.2 75.2 348.2 77.8 341.2 79.2 335.8 78.8 329.8 76.8 323.8 73.2 316.2 66.2 311.2 59.8 306.8 58.8 307.8 61.2 307.2 64.8 303.2 68.8 294.2 72.8 278.8 75.8 247.2 77.2 245.2 71.8 245.2 62.8 247.2 55.8 250.8 49.2 250.2 44.8 249.2 43.8 244.8 42.8 239.2 47.2 231.8 50.2 223.8 50.2 219.8 49.2 214.2 46.8 209.2 43.2 202.2 36.2 198.2 30.8ZM191.8 343.8L178.8 355.2 174.8 357.8 173.2 356.2 170.2 349.2 171.8 347.2 177.8 344.2 181.8 343.2ZM99.2 282.8L96.8 288.8 94.8 297.8 94.2 309.2 87.8 310.2 82.8 312.2 77.8 315.8 67.8 325.2 61.8 328.8 60.2 327.2 56.8 318.8 55.8 309.8 57.2 301.8 62.8 291.2 70.2 283.8 78.2 279.8 87.8 278.8 92.8 279.8ZM372.8 273.2L375.2 280.8 375.2 289.8 373.2 296.2 368.2 304.2 363.2 308.8 356.2 312.2 345.8 312.8 341.2 311.2 340.8 310.2 343.2 301.8 344.2 291.8 349.2 290.8 355.2 288.2ZM97.8 145.8L98.8 146.8 98.8 148.2 95.2 159.2 94.2 173.2 88.2 174.2 82.2 176.8 76.8 180.8 67.2 189.8 61.8 193.2 58.2 187.2 56.8 182.8 55.8 173.8 58.2 163.2 63.2 154.8 69.8 148.2 78.8 143.8 90.2 143.2ZM372.8 137.8L375.2 144.8 375.2 153.8 373.8 159.2 368.8 167.8 364.2 172.2 355.2 176.8 347.8 177.2 341.8 175.8 340.8 174.2 343.2 165.8 344.2 155.8 349.8 154.8 354.8 152.8 360.2 148.8 367.8 141.2ZM259.8 108.8L260.2 109.8 258.8 110.8 258.2 110.2ZM158.2 113.2L158.2 112.2 161.8 109.8 171.2 106.8 179.8 107.2 185.8 109.2 187.8 110.8 186.8 112.2 168.2 112.8 159.8 113.8Z"/></clipPath><g clip-path="url(#cb)"><g filter="url(#sm)"><path fill="#141b18" d="M16.8 368.2L16.8 373.8 21.2 374.8 19.8 371.2ZM193.8 29.8L194.8 31.8 194.2 36.2 190.8 39.8 186.2 42.2 172.2 46.2 157.8 47.8 149.2 47.8 145.8 49.2 153.2 58.8 156.8 67.2 157.2 72.2 149.8 80.2 145.2 82.8 140.2 84.2 132.8 84.2 128.8 83.2 123.8 80.8 115.8 73.8 108.8 64.2 105.2 65.8 106.2 68.2 106.2 71.2 105.2 73.2 102.8 75.8 97.2 78.8 81.8 82.8 64.2 83.8 57.2 85.8 62.2 91.2 66.2 97.8 68.2 103.2 68.8 108.2 62.8 115.2 56.2 119.2 49.8 120.8 46.2 120.8 39.8 119.2 32.8 115.2 26.2 108.8 20.8 100.8 16.8 102.2 24.8 113.2 27.8 125.2 27.8 138.2 26.8 144.8 23.2 156.8 16.8 169.8 16.8 176.2 22.2 183.8 31.2 192.2 39.8 196.8 46.2 198.2 47.8 199.2 47.8 202.8 49.8 210.2 52.8 216.2 64.8 230.8 66.8 234.8 68.8 241.8 68.8 244.2 63.8 250.2 59.8 253.2 52.2 256.2 43.8 256.2 38.8 254.8 32.2 250.8 26.8 245.2 23.8 240.2 16.8 232.2 16.8 237.8 25.2 250.2 27.8 261.2 27.8 274.2 26.2 282.8 22.8 293.8 16.8 305.8 16.8 312.2 22.8 320.2 30.8 327.8 37.8 331.8 46.8 334.2 47.8 335.2 48.2 340.8 50.2 347.2 53.2 352.8 56.8 356.8 72.2 356.8 73.2 360.2 73.2 368.8 71.8 374.2 67.2 382.8 68.2 386.8 72.8 387.8 80.2 381.2 87.2 377.8 101.2 377.8 105.8 379.2 114.2 384.2 120.2 389.8 129.8 402.2 134.2 403.2 132.8 400.2 133.2 395.8 136.8 392.2 143.2 389.2 157.8 386.2 184.8 384.8 186.2 389.8 186.2 396.2 184.2 403.8 180.2 410.8 180.8 415.2 185.8 416.2 192.8 410.2 200.8 406.2 213.2 406.2 218.2 407.8 228.2 413.8 234.8 420.2 242.8 430.8 245.8 429.2 246.2 424.2 249.2 421.2 252.8 419.2 264.8 415.8 282.8 414.2 286.2 412.8 281.8 407.8 278.2 401.8 275.8 393.2 275.2 385.8 282.8 377.2 289.8 373.2 295.2 371.8 303.2 371.8 308.8 373.2 318.2 379.2 323.8 385.2 327.8 391.2 330.8 394.2 334.2 393.2 334.2 388.8 335.2 387.2 341.8 382.8 354.8 379.2 370.8 378.2 374.2 376.8 368.8 369.2 366.2 364.2 364.2 357.2 363.8 349.2 367.2 344.8 373.8 339.2 377.8 337.2 385.8 335.2 394.8 336.2 403.2 340.2 411.8 348.2 418.8 357.8 418.8 351.8 413.8 344.8 410.8 333.2 410.8 322.2 411.8 315.8 414.8 305.8 418.8 297.2 418.8 290.2 412.8 281.8 405.8 274.2 396.2 268.2 385.8 265.2 383.2 253.2 379.8 246.8 372.2 238.2 367.8 231.8 365.8 227.2 363.8 217.8 364.2 212.8 373.2 203.8 376.8 201.8 383.2 199.8 392.2 199.8 399.8 202.2 405.8 206.2 410.8 211.2 418.8 221.8 418.8 216.2 413.2 207.8 410.8 197.2 411.2 182.8 414.8 169.8 418.8 161.8 418.8 154.2 408.8 141.2 402.2 135.8 395.8 132.2 385.8 129.8 384.8 122.8 382.8 116.2 379.2 110.2 374.8 105.2 360.2 105.8 359.2 104.8 357.8 95.2 359.2 86.8 363.8 77.2 362.8 72.8 357.8 71.2 353.2 75.2 348.2 77.8 341.2 79.2 335.8 78.8 329.8 76.8 323.8 73.2 316.2 66.2 311.2 59.8 306.8 58.8 307.8 61.2 307.2 64.8 303.2 68.8 294.2 72.8 278.8 75.8 247.2 77.2 245.2 71.8 245.2 62.8 247.2 55.8 250.8 49.2 250.2 44.8 249.2 43.8 244.8 42.8 239.2 47.2 231.8 50.2 223.8 50.2 219.8 49.2 214.2 46.8 209.2 43.2 202.2 36.2 198.2 30.8ZM191.8 343.8L178.8 355.2 174.8 357.8 173.2 356.2 170.2 349.2 171.8 347.2 177.8 344.2 181.8 343.2ZM99.2 282.8L96.8 288.8 94.8 297.8 94.2 309.2 87.8 310.2 82.8 312.2 77.8 315.8 67.8 325.2 61.8 328.8 60.2 327.2 56.8 318.8 55.8 309.8 57.2 301.8 62.8 291.2 70.2 283.8 78.2 279.8 87.8 278.8 92.8 279.8ZM372.8 273.2L375.2 280.8 375.2 289.8 373.2 296.2 368.2 304.2 363.2 308.8 356.2 312.2 345.8 312.8 341.2 311.2 340.8 310.2 343.2 301.8 344.2 291.8 349.2 290.8 355.2 288.2ZM97.8 145.8L98.8 146.8 98.8 148.2 95.2 159.2 94.2 173.2 88.2 174.2 82.2 176.8 76.8 180.8 67.2 189.8 61.8 193.2 58.2 187.2 56.8 182.8 55.8 173.8 58.2 163.2 63.2 154.8 69.8 148.2 78.8 143.8 90.2 143.2ZM372.8 137.8L375.2 144.8 375.2 153.8 373.8 159.2 368.8 167.8 364.2 172.2 355.2 176.8 347.8 177.2 341.8 175.8 340.8 174.2 343.2 165.8 344.2 155.8 349.8 154.8 354.8 152.8 360.2 148.8 367.8 141.2ZM259.8 108.8L260.2 109.8 258.8 110.8 258.2 110.2ZM158.2 113.2L158.2 112.2 161.8 109.8 171.2 106.8 179.8 107.2 185.8 109.2 187.8 110.8 186.8 112.2 168.2 112.8 159.8 113.8Z"/><path fill="#1b2420" d="M16.8 368.2L16.8 373.8 21.2 374.8 19.8 371.2ZM193.8 29.8L194.8 31.8 194.2 36.2 186.2 42.2 172.2 46.2 149.2 47.8 145.8 49.2 153.2 58.8 156.8 67.2 157.2 72.2 152.8 77.8 145.2 82.8 140.2 84.2 132.8 84.2 125.2 81.8 114.8 72.8 108.8 64.2 105.2 65.8 106.2 68.2 105.2 73.2 97.2 78.8 81.8 82.8 64.2 83.8 57.8 85.2 66.2 97.8 68.8 108.2 62.2 115.8 56.2 119.2 45.8 120.8 37.2 118.2 27.8 110.8 20.8 100.8 16.8 102.2 24.8 113.2 27.8 125.2 26.8 144.8 23.2 156.8 16.8 169.8 16.8 176.2 22.2 183.8 31.2 192.2 39.8 196.8 47.8 199.2 49.8 210.2 52.8 216.2 64.8 230.8 68.8 241.8 68.8 244.2 66.2 247.8 59.8 253.2 52.2 256.2 43.8 256.2 32.8 251.2 25.8 244.2 23.8 240.2 16.8 232.2 16.8 237.8 25.2 250.2 27.8 261.2 27.8 274.2 26.2 282.8 22.8 293.8 16.8 305.8 16.8 312.2 22.8 320.2 30.8 327.8 37.8 331.8 47.8 335.2 50.2 347.2 56.8 356.8 72.2 356.8 73.2 368.8 70.8 376.8 67.2 382.8 68.2 386.8 72.8 387.8 80.2 381.2 87.2 377.8 101.2 377.8 114.2 384.2 120.2 389.8 129.8 402.2 134.2 403.2 132.8 400.2 133.2 395.8 136.8 392.2 143.2 389.2 157.8 386.2 184.8 384.8 186.2 389.8 186.2 396.8 184.8 402.8 180.2 410.8 180.8 415.2 185.8 416.2 192.8 410.2 200.8 406.2 213.2 406.2 218.2 407.8 228.2 413.8 242.8 430.8 245.8 429.2 246.2 424.2 252.8 419.2 264.8 415.8 282.8 414.2 286.2 412.8 278.2 401.8 275.8 393.2 275.2 385.8 282.8 377.2 289.8 373.2 295.2 371.8 303.2 371.8 308.8 373.2 317.8 378.8 327.8 391.2 331.8 394.2 334.2 393.2 335.2 387.2 341.8 382.8 354.8 379.2 370.8 378.2 374.2 376.8 366.2 364.2 364.2 357.2 363.8 349.2 373.8 339.2 378.8 336.8 385.8 335.2 393.2 335.8 404.8 341.2 412.2 348.8 418.8 357.8 418.8 351.8 413.8 344.8 410.8 333.2 411.8 315.8 418.8 297.2 418.8 290.2 405.8 274.2 396.2 268.2 385.8 265.2 383.2 253.2 379.8 246.8 367.8 231.8 363.8 217.8 363.8 213.8 365.2 211.2 374.8 202.8 383.2 199.8 392.2 199.8 398.8 201.8 405.8 206.2 418.8 221.8 418.8 216.2 413.2 207.8 410.8 197.2 411.2 182.8 414.8 169.8 418.8 161.8 418.8 154.2 408.8 141.2 402.2 135.8 395.8 132.2 385.8 129.8 382.8 116.2 374.8 105.2 359.2 105.2 357.8 94.8 359.8 85.2 363.8 77.2 362.8 72.8 357.8 71.2 353.2 75.2 348.2 77.8 341.2 79.2 335.8 78.8 323.8 73.2 311.2 59.8 306.8 58.8 307.8 61.2 307.2 64.8 303.2 68.8 294.2 72.8 278.8 75.8 247.2 77.2 245.2 71.8 245.2 62.8 247.2 55.8 250.8 49.2 249.2 43.8 244.8 42.8 239.2 47.2 231.8 50.2 219.8 49.2 209.2 43.2 198.2 30.8ZM191.8 343.8L180.8 353.8 174.8 357.8 173.8 357.2 170.2 349.2 171.8 347.2 181.2 343.2 186.8 342.8ZM112.2 295.2L113.2 295.8 112.8 297.8ZM98.8 282.2L94.8 297.8 94.2 309.2 82.8 312.2 67.8 325.2 61.2 328.8 56.8 318.8 55.8 309.2 57.8 300.2 64.8 288.8 71.8 282.8 80.2 279.2 88.2 278.8ZM372.8 273.2L375.2 280.2 375.2 289.8 373.2 296.2 368.2 304.2 362.8 309.2 354.8 312.8 349.8 313.2 341.2 311.2 344.2 291.8 355.2 288.2ZM137.8 269.8L138.8 270.8 138.2 272.2ZM334.8 264.8L336.2 265.2 335.2 265.8ZM250.2 163.2L251.2 162.8 251.8 163.8ZM98.8 146.2L95.2 159.2 94.2 173.2 82.2 176.8 61.8 193.2 56.8 182.8 55.8 173.2 58.2 163.2 63.2 154.8 72.8 146.2 80.8 143.2 90.2 143.2ZM372.8 137.8L375.2 144.8 375.2 153.8 373.8 159.2 369.2 167.2 362.2 173.8 355.2 176.8 347.8 177.2 341.8 175.8 340.8 174.2 343.2 165.8 344.2 155.8 354.8 152.8ZM137.8 133.8L139.2 134.8 138.2 136.2ZM259.8 108.8L260.2 109.8 258.8 110.8ZM158.2 113.2L160.8 110.2 170.8 106.8 180.2 107.2 187.8 110.8 186.8 112.2ZM225.8 98.8L226.2 97.8 227.8 98.2 226.8 99.8Z"/><path fill="#222d27" d="M16.8 368.2L16.8 373.8 21.2 374.8 19.8 371.2ZM193.8 29.8L194.8 31.8 194.2 36.2 186.2 42.2 172.2 46.2 149.2 47.8 145.8 49.2 153.2 58.8 157.2 69.8 157.2 72.2 155.2 75.2 146.8 82.2 140.8 84.2 132.2 84.2 127.2 82.8 118.8 77.2 112.8 70.8 108.8 64.2 105.2 65.8 106.2 68.2 105.2 73.2 97.2 78.8 81.8 82.8 64.2 83.8 57.8 85.2 64.8 94.8 68.8 105.8 67.8 110.2 57.8 118.8 50.8 120.8 44.8 120.8 39.2 119.2 31.8 114.8 25.2 108.2 20.8 100.8 16.8 102.2 24.8 113.2 27.8 125.2 26.8 144.8 23.2 156.8 16.8 169.8 16.8 176.2 22.2 183.8 31.2 192.2 39.8 196.8 47.8 199.2 49.8 210.2 52.8 216.2 64.8 230.8 69.2 243.8 62.2 251.8 56.2 255.2 49.8 256.8 43.2 256.2 34.8 252.8 30.8 249.8 16.8 232.2 16.8 237.8 25.2 250.2 27.8 261.2 27.8 274.2 26.2 282.8 22.8 293.8 16.8 305.8 16.8 312.2 22.8 320.2 30.8 327.8 37.8 331.8 47.8 335.2 50.2 347.2 56.8 356.8 71.8 356.2 72.8 357.2 73.8 363.2 73.2 369.8 67.2 382.8 68.2 386.8 72.8 387.8 80.2 381.2 87.2 377.8 101.2 377.8 114.2 384.2 120.2 389.8 129.8 402.2 134.2 403.2 132.8 400.2 133.2 395.8 136.8 392.2 143.2 389.2 157.8 386.2 184.2 385.2 184.8 384.2 186.2 388.8 186.2 397.2 184.2 404.2 180.2 410.8 180.8 415.2 185.8 416.2 192.8 410.2 200.8 406.2 213.2 406.2 218.2 407.8 228.2 413.8 242.8 430.8 245.8 429.2 246.2 424.2 252.8 419.2 264.8 415.8 282.8 414.2 286.2 412.8 278.2 401.8 275.8 393.2 275.2 385.2 283.2 376.8 288.2 373.8 294.8 371.8 303.8 371.8 310.2 373.8 316.8 377.8 323.8 384.8 327.8 391.2 331.8 394.2 334.2 393.2 335.2 387.2 341.8 382.8 354.8 379.2 370.8 378.2 374.2 376.8 366.2 364.2 364.2 357.2 363.8 349.2 372.8 339.8 377.2 337.2 384.8 335.2 393.2 335.8 402.8 339.8 411.8 347.8 418.8 357.8 418.8 352.2 413.8 344.8 410.8 333.2 411.8 315.8 418.8 297.2 418.8 290.2 405.8 274.2 396.2 268.2 385.8 265.2 383.2 253.2 379.8 246.8 367.8 231.8 363.8 217.8 363.8 213.2 372.2 204.2 380.8 200.2 388.8 199.2 397.8 201.2 404.8 205.2 412.8 213.2 418.8 221.8 418.8 216.2 413.2 207.8 410.8 197.2 411.2 182.8 414.8 169.8 418.8 161.8 418.8 154.2 408.8 141.2 402.2 135.8 395.8 132.2 385.8 129.8 382.8 116.2 374.8 105.2 359.2 105.2 357.8 93.2 359.2 86.2 363.8 77.2 362.8 72.8 357.8 71.2 353.2 75.2 348.2 77.8 341.2 79.2 335.8 78.8 323.8 73.2 311.2 59.8 306.8 58.8 307.8 61.2 307.2 64.8 303.2 68.8 294.2 72.8 278.8 75.8 247.2 77.2 245.2 72.2 245.2 62.2 247.8 54.2 250.8 49.2 249.2 43.8 244.8 42.8 239.2 47.2 231.8 50.2 219.8 49.2 209.2 43.2 198.2 30.8ZM191.8 343.8L178.8 355.2 174.8 357.8 173.2 356.8 170.2 349.8 171.8 347.2 181.2 343.2 188.2 342.8ZM223.2 320.8L226.8 323.8 225.8 326.8 222.8 321.8ZM246.2 299.8L248.8 303.2 248.2 304.2 245.8 302.2ZM249.2 297.2L251.8 297.8 252.8 296.8 253.2 297.8 251.2 300.2ZM111.2 293.2L113.8 294.8 112.8 298.2 110.8 294.2ZM312.2 285.2L315.2 287.2 314.2 290.8 311.8 286.2ZM99.2 282.2L94.8 297.8 94.2 309.2 82.8 312.2 67.8 325.2 61.2 329.2 56.8 319.2 55.8 308.2 58.2 298.8 63.8 289.8 72.2 282.2 79.8 279.2 88.8 278.8ZM372.8 273.2L375.2 279.8 375.8 286.8 373.8 295.2 369.2 303.2 362.2 309.8 356.8 312.2 348.2 313.2 341.8 311.8 340.8 310.2 343.2 301.8 344.2 291.8 355.2 288.2ZM132.8 272.2L135.2 274.2 133.2 274.2ZM135.2 266.8L137.8 268.8 140.2 268.8 138.8 270.8 138.8 273.2 134.8 268.2ZM334.8 263.2L337.2 266.8 336.8 267.8 334.2 266.2ZM336.8 260.2L341.8 261.2 339.8 263.8ZM224.2 186.2L226.8 187.8 225.8 190.8 223.8 187.2ZM246.2 163.8L248.8 167.2 248.2 168.2 245.8 166.8ZM248.8 160.8L253.8 161.2 251.2 164.2ZM110.8 156.8L113.8 158.8 112.8 162.8 110.2 157.8ZM311.8 148.8L315.2 151.8 314.2 154.8 311.2 149.8ZM98.8 146.2L95.2 159.2 94.2 173.2 82.2 176.8 67.2 189.8 61.2 193.2 56.8 183.2 55.8 172.2 57.8 164.2 62.8 155.2 70.2 147.8 78.2 143.8 87.2 142.8ZM372.8 137.2L374.8 141.8 375.8 150.8 374.2 158.2 369.8 166.8 363.8 172.8 355.8 176.8 346.8 177.2 341.2 175.8 344.2 155.8 354.8 152.8ZM133.2 135.8L135.2 138.2 134.8 139.2 132.8 137.8ZM135.2 131.2L138.8 133.2 140.8 132.8 138.2 136.8 134.8 132.2ZM334.8 127.8L336.8 131.8 334.2 130.2ZM337.8 124.2L341.2 125.8 339.8 128.2ZM261.2 109.8L257.8 111.8 256.8 111.2 259.8 108.2ZM157.8 112.8L164.8 108.2 170.2 106.8 180.2 107.2 188.2 110.8 186.8 112.2 159.8 113.8ZM223.8 94.8L228.2 97.2 226.8 100.2 223.8 96.8Z"/><path fill="#28362f" d="M16.8 368.2L16.8 373.8 21.2 374.8ZM193.8 29.8L194.8 31.8 194.2 36.2 186.2 42.2 172.2 46.2 149.2 47.8 145.8 49.2 153.2 58.8 156.8 67.2 157.2 72.2 153.2 77.8 144.8 83.2 134.2 84.8 124.8 81.8 120.2 78.8 110.8 69.2 108.8 64.2 105.2 65.8 106.2 68.2 105.2 73.2 97.2 78.8 81.8 82.8 64.2 83.8 57.8 85.2 66.2 97.8 68.8 108.2 62.8 115.8 55.8 119.8 44.2 120.8 38.8 119.2 30.8 114.2 25.2 108.8 20.2 100.8 16.8 102.2 25.2 113.2 27.8 125.2 26.8 144.8 23.2 156.8 16.8 169.8 16.8 176.2 22.2 183.8 31.2 192.2 39.8 196.8 47.8 199.2 49.8 210.2 52.8 216.2 64.8 230.8 69.2 243.8 63.8 250.8 57.8 254.8 51.2 256.8 42.2 256.2 35.2 253.2 29.8 249.2 16.8 232.2 16.8 237.8 25.2 249.2 27.8 261.2 27.8 274.2 26.2 282.8 22.8 293.8 16.8 305.8 16.8 312.2 22.8 320.2 30.8 327.8 37.8 331.8 47.8 335.2 50.2 347.2 56.8 356.8 72.8 356.8 73.8 367.8 71.8 375.2 67.2 382.8 68.2 386.8 72.8 387.8 80.2 381.2 87.2 377.8 101.2 377.8 114.2 384.2 120.2 389.8 129.8 402.2 133.8 403.2 128.2 395.2 128.8 394.2 132.8 399.2 133.2 395.8 136.8 392.2 143.2 389.2 157.8 386.2 184.2 385.2 184.8 383.8 186.2 387.8 186.8 394.8 185.2 402.2 180.2 411.2 180.8 415.2 185.8 416.2 192.8 410.2 200.8 406.2 213.2 406.2 218.2 407.8 228.2 413.8 242.8 430.8 245.8 429.2 244.2 427.2 245.8 427.8 246.2 424.2 252.8 419.2 264.8 415.8 282.8 414.2 286.2 412.8 278.2 401.8 275.8 393.2 275.2 385.2 281.8 377.8 290.2 372.8 297.2 371.2 308.2 372.8 317.8 378.2 323.2 383.8 326.2 389.2 330.8 394.2 334.2 393.2 335.2 387.2 341.8 382.8 354.8 379.2 370.8 378.2 374.2 376.8 366.2 364.2 364.2 357.2 363.8 348.8 371.8 340.2 383.8 335.2 394.2 335.8 402.2 339.2 411.8 347.2 418.8 357.8 418.8 352.2 413.8 344.8 410.8 333.2 411.8 315.8 418.8 297.2 418.8 290.2 405.8 274.2 396.2 268.2 385.8 265.2 383.2 253.2 379.8 246.8 367.8 231.8 363.8 217.8 364.2 212.2 372.8 203.8 381.8 199.8 390.8 199.2 398.2 201.2 405.8 205.8 412.2 212.2 414.8 217.2 418.8 221.8 418.8 216.2 413.2 207.8 410.8 197.2 411.2 182.8 414.8 169.8 418.8 161.8 418.8 154.2 408.8 141.2 402.2 135.8 395.8 132.2 385.8 129.8 382.8 116.2 374.8 105.2 359.2 105.8 357.8 99.8 357.8 92.2 360.2 83.2 363.8 77.2 362.8 72.8 357.8 71.2 353.2 75.2 348.2 77.8 341.2 79.2 335.8 78.8 323.8 73.2 311.2 59.8 306.8 58.8 307.8 61.2 307.2 64.8 303.2 68.8 294.2 72.8 278.8 75.8 246.8 77.2 244.8 70.2 244.8 64.8 246.8 56.2 250.8 49.2 249.2 43.8 244.8 42.8 239.2 47.2 231.8 50.2 219.8 49.2 209.2 43.2 198.2 30.8ZM328.2 384.2L331.2 387.8 330.8 388.8 327.8 385.2ZM271.8 345.2L273.2 346.2 272.2 346.8ZM191.8 343.8L178.8 355.2 174.8 357.8 173.2 357.2 169.8 348.8 170.2 347.8 182.8 342.8 189.8 342.8ZM261.2 330.8L262.2 330.2 263.8 331.8 262.8 332.2ZM223.2 329.8L223.8 330.8 220.8 333.2ZM220.2 317.2L223.8 320.8 227.8 322.8 224.2 329.8 225.2 325.2 219.8 318.2ZM110.2 301.2L110.8 302.2 107.8 304.8ZM245.8 299.8L248.2 302.2 248.8 305.2 244.8 303.2ZM245.8 293.2L246.8 292.8 250.8 296.2 256.2 293.8 257.2 294.2 251.2 300.2ZM312.8 292.2L313.2 293.2 311.8 294.8 311.2 293.8ZM105.8 287.2L111.2 292.2 114.8 293.8 112.2 299.8 111.8 295.2ZM171.2 282.2L171.8 280.8 173.2 281.8ZM307.8 280.2L316.2 286.8 313.2 292.8 313.8 288.8ZM99.2 282.2L94.8 297.8 94.2 309.2 82.8 312.2 67.8 325.2 61.2 329.2 56.8 319.8 55.8 307.2 57.8 299.8 62.8 290.8 72.8 281.8 81.2 278.8 89.8 278.8ZM372.8 272.8L375.8 281.8 375.8 288.2 373.2 297.2 368.8 304.2 361.8 310.2 355.8 312.8 346.8 313.2 341.2 311.8 344.2 291.8 355.2 288.2ZM132.8 271.2L137.8 277.2 137.2 278.2 131.8 274.8ZM160.8 266.8L161.8 266.2 165.8 270.8ZM334.2 263.2L337.2 266.8 337.8 269.8 333.2 267.2ZM129.8 259.8L138.2 267.8 143.2 265.2 144.2 265.8 138.8 270.8 140.8 274.2 140.2 275.2 129.2 260.8ZM362.8 259.8L363.8 259.2 366.8 262.8ZM333.8 256.2L339.8 260.2 345.2 257.2 346.2 257.8 339.8 263.8ZM327.8 247.8L330.8 251.2 330.2 252.2 327.2 248.8ZM317.8 243.8L318.8 243.2 323.2 248.2ZM170.8 211.8L170.2 213.8 169.8 212.2ZM60.8 203.2L61.8 202.8 64.8 206.2ZM56.8 200.8L58.2 200.2 59.2 201.2ZM262.2 195.8L263.2 195.2 265.8 198.2ZM218.2 179.8L224.2 185.2 227.8 186.8 224.2 193.8 225.2 189.2ZM245.8 163.8L248.8 167.2 249.2 170.2 244.8 167.8ZM256.2 158.2L257.2 157.2 258.8 157.8ZM246.2 157.8L250.8 160.2 256.8 158.8 251.2 164.2ZM108.8 154.2L114.8 157.8 114.8 159.8 111.8 164.8 112.2 160.2 108.2 155.2ZM309.8 146.2L316.2 150.8 315.2 154.2 312.2 158.2 311.8 157.2 313.8 153.2 309.2 147.2ZM171.2 145.8L172.8 146.2 171.8 146.8ZM99.2 146.2L95.2 159.2 94.2 173.2 82.2 176.8 67.2 189.8 60.8 193.2 56.2 182.2 55.8 171.2 57.8 163.8 63.2 154.2 69.2 148.2 79.8 143.2 88.8 142.8ZM270.2 140.2L271.8 140.8 270.8 141.2ZM372.8 136.8L375.8 145.8 375.8 152.8 373.8 160.2 369.2 167.8 364.2 172.8 356.2 176.8 345.8 177.2 341.2 175.8 344.2 155.8 354.8 152.8ZM132.8 135.2L136.8 140.2 136.2 141.2 131.8 138.8ZM161.8 131.8L162.8 131.2 164.2 133.2ZM133.8 128.2L138.2 131.8 145.2 128.2 146.8 128.8 142.2 131.2 138.8 135.2 142.2 141.2 134.2 132.2ZM334.2 127.2L337.8 131.8 337.8 133.8 333.2 131.2ZM344.2 122.2L345.2 121.2 346.8 121.8ZM334.2 120.8L339.8 124.2 343.8 122.2 344.8 122.8 339.8 128.2ZM259.8 107.8L261.2 109.8 257.2 111.8ZM157.8 113.2L160.2 110.2 169.2 106.8 181.2 107.2 188.8 110.8 186.8 112.2ZM266.2 104.8L266.8 105.8 265.2 106.8ZM248.8 94.2L249.8 93.8 251.2 95.2 250.2 95.8ZM222.2 92.2L227.2 95.8 233.2 92.2 234.8 92.8 229.8 95.8 227.2 98.8 230.2 103.2 229.8 104.2 223.2 97.2 221.8 93.8ZM234.2 92.2L235.8 91.2 238.2 91.8Z"/><path fill="#2f3e37" d="M16.8 368.2L16.8 373.8 21.2 374.8ZM193.8 29.8L194.8 31.8 194.2 36.2 186.2 42.2 172.2 46.2 149.2 47.8 145.8 49.2 153.2 58.8 157.2 69.8 157.2 72.2 154.8 76.8 146.8 82.8 140.2 84.8 132.8 84.8 127.2 83.2 119.8 78.8 110.8 70.2 108.8 64.2 105.2 65.8 106.2 68.2 105.2 73.2 97.2 78.8 81.8 82.8 64.2 83.8 57.8 85.2 64.8 94.8 68.8 105.8 67.2 111.8 57.8 119.2 49.8 121.2 38.2 119.2 32.2 115.8 25.2 108.8 20.2 100.8 16.8 102.2 27.2 115.8 25.2 115.2 27.8 125.2 26.8 144.8 23.2 156.8 16.8 169.8 16.8 176.2 22.2 183.8 31.2 192.2 39.8 196.8 47.8 199.2 49.8 210.2 52.8 216.2 64.8 230.8 68.8 243.2 72.8 232.8 72.2 221.8 73.2 221.8 73.8 233.8 69.8 244.2 61.8 252.8 52.2 256.8 41.8 256.2 31.8 251.2 24.2 243.2 16.8 232.2 17.2 238.8 29.2 253.2 28.2 253.8 25.2 250.8 27.8 261.2 27.8 274.2 23.8 291.2 16.8 305.8 16.8 312.2 22.8 320.2 30.8 327.8 37.8 331.8 47.8 335.2 50.2 347.2 56.8 356.8 71.8 356.2 68.2 348.2 63.2 341.2 59.2 337.8 54.8 335.8 58.2 335.8 66.8 343.8 71.8 352.8 73.8 359.8 73.2 371.8 70.2 379.2 67.2 383.2 68.2 386.8 72.8 387.8 80.2 381.2 87.2 377.8 101.2 377.8 114.2 384.2 120.2 389.8 129.8 402.2 133.8 403.2 124.2 389.8 124.8 388.8 132.8 397.8 133.2 395.8 136.8 392.2 148.8 387.8 163.2 385.8 184.2 385.2 183.8 382.2 177.2 371.2 173.2 367.2 166.8 364.2 169.8 363.8 173.2 365.8 180.2 373.2 186.2 386.8 186.8 397.2 185.2 403.2 180.2 411.8 180.8 415.2 185.8 416.2 192.8 410.2 200.8 406.2 213.2 406.2 218.2 407.8 228.2 413.8 242.8 430.8 245.8 429.2 235.2 416.2 235.8 415.2 245.8 426.8 246.2 424.2 249.2 421.2 255.2 418.2 264.8 415.8 282.8 414.2 286.2 412.8 281.8 407.8 277.2 399.2 275.2 384.8 280.2 378.8 287.2 373.8 295.2 371.2 302.8 371.2 311.2 373.8 321.8 381.2 327.8 391.2 331.8 394.2 334.2 392.8 328.8 386.8 326.2 382.8 326.8 381.8 334.2 390.2 335.2 387.2 341.8 382.8 354.8 379.2 370.8 378.2 374.2 376.8 366.2 364.2 364.2 357.2 363.8 348.8 373.8 338.8 380.2 335.8 386.2 334.8 394.8 335.8 405.8 341.2 411.2 346.2 413.2 350.8 418.8 357.8 418.8 352.2 413.8 344.8 410.8 333.2 411.8 315.8 418.8 297.2 418.8 290.2 410.2 278.8 401.8 271.2 396.2 268.2 385.8 265.8 383.2 253.2 379.8 246.8 367.8 231.8 363.8 217.8 364.2 211.8 372.2 203.8 380.8 199.8 392.2 199.2 401.8 202.8 409.2 208.2 418.8 221.8 418.8 216.2 413.2 207.8 410.8 197.2 411.2 182.8 414.8 169.8 418.8 161.8 418.8 154.2 408.8 141.2 402.2 135.8 395.8 132.2 385.8 129.8 382.8 116.2 374.8 105.2 358.8 105.8 357.2 96.8 357.8 90.8 360.2 82.8 363.8 77.2 362.8 72.8 357.8 71.2 353.2 75.2 348.2 77.8 341.2 79.2 335.8 78.8 323.8 73.2 311.8 62.2 311.2 59.8 306.8 58.8 307.8 61.2 307.2 64.8 303.2 68.8 294.2 72.8 278.8 75.8 246.8 77.2 244.8 71.8 244.8 63.2 246.8 55.8 250.8 49.2 249.2 43.8 244.8 42.8 239.2 47.2 231.8 50.2 219.8 49.2 207.2 41.8 199.2 33.8 198.2 30.8ZM117.8 382.8L118.8 382.2 124.8 388.8ZM269.2 348.2L264.8 349.8 258.2 349.2ZM253.8 348.2L258.8 348.8 255.8 349.2ZM252.2 347.2L254.2 347.8 252.8 348.2ZM215.8 336.8L210.2 338.2 214.2 336.2ZM168.2 336.8L169.2 336.8 170.2 347.8 175.2 344.8 181.8 342.8 191.2 342.8 191.8 343.8 180.8 353.8 173.2 358.2 168.8 346.2ZM219.2 334.8L217.2 336.2 216.2 335.8 218.2 334.2ZM49.2 330.8L50.2 329.8 54.2 330.2 53.8 331.2ZM177.8 316.8L178.2 317.8 176.8 319.2 176.2 318.2ZM212.8 311.2L223.2 319.2 228.8 321.2 226.8 327.2 219.8 334.8 218.8 334.2 223.8 329.2 225.2 325.2 219.8 317.8 213.2 312.8ZM285.2 310.8L287.2 316.2 287.2 326.8 285.2 333.2 281.8 339.2 275.8 345.2 269.2 348.2 269.2 347.2 271.8 346.2 271.8 344.8 268.8 339.2 263.2 332.2 255.8 327.8 258.8 327.8 262.8 330.2 268.2 336.2 272.8 345.2 273.8 345.2 280.2 339.2 284.8 331.2 286.2 325.8ZM208.2 309.8L209.8 309.2 212.8 311.2 211.8 311.8ZM101.2 308.8L99.2 309.8 96.2 309.2ZM302.2 301.2L297.2 302.2 297.8 301.2ZM245.2 299.2L248.2 302.2 250.2 306.2 249.8 307.2 243.8 305.2 243.2 303.8ZM308.8 297.8L306.2 299.8 305.2 299.2 307.8 297.2ZM101.8 283.8L110.8 290.8 115.8 292.2 115.2 296.2 110.8 302.8 102.2 308.8 101.2 307.8 106.2 305.2 110.8 300.8 112.2 296.2ZM150.8 283.2L152.2 282.8 155.8 284.2 153.8 284.8ZM237.2 282.2L251.2 295.2 261.8 291.2 267.8 291.2 272.8 293.2 280.8 301.2 285.2 310.8 284.2 310.8 277.8 299.2 274.2 295.8 268.2 292.8 258.2 293.8 253.8 296.8 251.2 300.2ZM143.8 278.8L144.8 278.2 149.2 281.8 147.2 281.8ZM99.8 282.2L95.8 292.8 94.2 309.2 82.8 312.2 67.8 325.2 60.2 329.8 56.2 319.2 55.2 310.2 56.8 301.8 63.2 289.8 70.8 282.8 80.2 278.8 90.8 278.8ZM303.2 276.2L312.2 283.2 317.2 284.8 315.8 290.2 309.2 297.8 308.2 297.2 312.8 292.2 313.8 288.8ZM141.2 276.2L143.2 277.2 142.2 277.8ZM230.2 275.2L231.2 274.8 232.8 276.2 231.8 276.8ZM297.2 273.8L298.8 273.2 301.8 275.2 300.8 275.8ZM132.2 270.8L140.8 281.8 136.8 278.2 130.8 276.2ZM334.2 262.8L337.2 266.8 338.8 271.2 332.2 268.8 331.8 267.2ZM123.2 252.2L137.8 266.2 140.2 266.2 148.2 262.8 155.2 262.8 160.2 264.8 167.2 271.8 172.2 281.2 174.2 281.2 171.8 282.8 165.8 271.8 160.2 266.2 153.8 263.8 146.2 264.8 140.8 268.2 138.8 270.8 140.8 274.2 140.2 275.2ZM119.2 248.2L120.2 247.8 123.2 251.2ZM326.8 245.8L338.2 258.2 341.8 258.8 351.8 254.8 357.2 255.2 363.8 258.8 371.2 268.2 375.2 277.8 375.8 290.2 370.8 302.2 362.2 310.2 354.8 313.2 345.8 313.2 340.8 311.2 343.2 301.8 344.2 291.2 352.2 289.8 361.2 283.8 372.2 273.8 370.2 268.8 361.8 258.8 355.8 256.2 350.8 256.2 346.2 257.8 339.8 263.8 328.2 250.2 326.2 246.8ZM278.2 245.2L278.8 246.2 277.2 247.8 276.8 246.8ZM314.2 240.8L315.2 240.2 319.2 243.2 323.2 248.2ZM308.2 237.8L309.8 237.2 314.8 240.2 313.8 240.8ZM291.2 236.8L293.2 235.8 296.2 236.2ZM166.2 227.8L172.2 229.2 178.2 234.8 184.2 244.8 186.8 253.2 186.8 261.2 184.2 269.8 179.8 276.8 174.8 281.2 173.8 280.8 180.2 274.2 184.2 266.8 185.8 260.8 185.8 253.8 184.2 247.8 179.8 238.8 173.8 231.8 166.2 228.8ZM168.8 200.8L169.8 209.8 174.2 220.8 173.8 222.2 171.8 219.8 168.8 210.2ZM54.2 199.2L59.8 200.8 64.8 205.2 71.2 215.8 72.8 219.8 72.2 221.8 65.2 207.8 59.8 202.2 54.2 200.2ZM218.8 199.2L213.2 202.2 208.8 202.2 217.8 198.8ZM256.2 191.2L261.2 193.2 265.8 197.2 273.8 210.2 265.8 213.8 257.2 213.2 265.2 212.8 272.2 210.2 266.2 199.8 261.2 194.8 256.2 192.8ZM181.2 177.8L177.2 182.8 176.8 181.8ZM214.2 176.2L223.8 183.8 228.8 185.2 227.8 189.8 221.2 197.8 220.2 197.2 224.8 191.8 225.2 189.2ZM211.2 175.2L212.2 174.8 214.2 176.2 213.2 176.8ZM189.2 173.8L185.8 175.8 184.8 175.2 187.8 173.2ZM104.8 171.2L102.8 172.8 97.2 173.8 97.8 172.8ZM302.8 165.2L298.8 166.8 297.2 166.2 300.8 164.8ZM245.8 163.2L248.8 167.2 249.8 171.2 243.8 169.2 243.2 167.8ZM308.2 162.2L303.8 165.2 302.2 164.8 307.2 161.8ZM246.2 155.8L250.8 159.2 262.8 155.2 269.2 155.8 274.8 158.8 282.2 167.8 286.8 178.2 287.2 190.8 282.2 202.8 275.2 209.8 273.2 209.8 281.8 201.2 286.2 189.8 285.8 178.8 281.8 169.2 276.8 162.2 270.8 157.8 261.8 156.8 255.2 159.8 251.2 164.2 246.2 158.2ZM102.2 148.2L111.2 155.2 115.8 156.2 115.8 158.8 113.2 163.8 105.2 171.2 104.2 170.8 111.2 164.2 112.2 160.2ZM151.8 147.8L155.2 148.2 153.2 148.8ZM147.8 145.8L148.8 145.2 152.2 147.2 150.8 147.8ZM100.8 147.2L98.8 147.2 95.8 156.8 94.2 173.2 82.2 176.8 67.2 189.8 60.2 193.8 56.8 185.2 55.2 174.2 57.8 163.2 64.2 152.8 71.8 146.2 81.2 142.8 90.2 142.8ZM303.8 140.8L312.8 147.8 317.2 148.8 315.2 155.2 308.8 162.2 307.8 161.8 311.8 157.8 313.8 153.2ZM299.2 138.8L300.2 138.2 302.2 139.8 301.2 140.2ZM277.2 137.8L273.8 139.8 272.8 139.2 275.8 137.2ZM132.2 135.2L141.2 146.2 135.8 141.8 130.8 140.2ZM269.8 132.8L271.2 142.2 269.2 137.8ZM334.2 126.8L338.8 133.8 338.2 135.2 331.8 132.2ZM132.8 127.2L138.8 130.8 148.8 126.8 156.8 127.2 164.2 132.2 169.8 139.8 172.2 145.8 179.8 138.8 180.2 140.2 175.8 144.8 169.8 148.2 164.2 149.8 157.8 149.8 157.8 148.8 163.8 148.8 171.2 146.2 166.8 137.2 160.8 130.8 155.2 128.2 148.2 128.2 143.8 130.2 139.2 134.2 138.8 136.2 148.2 145.2 147.2 145.8 137.2 136.2 134.2 132.2ZM334.8 119.2L340.2 123.2 349.8 119.2 358.2 119.8 362.2 121.8 368.2 127.8 373.2 136.2 375.8 144.2 375.8 154.2 374.2 159.8 369.8 167.8 364.8 172.8 359.8 175.8 347.8 177.8 340.8 175.2 343.2 165.8 344.2 155.2 347.8 155.2 354.8 152.8 371.2 138.8 372.2 136.8 366.8 127.8 358.8 121.2 354.8 120.2 347.8 121.2 342.8 124.2 339.8 128.2 334.2 121.2ZM269.8 114.2L269.2 116.8 268.8 115.2ZM235.8 109.2L236.8 108.8 241.2 111.2 239.8 111.8ZM156.2 99.2L157.2 99.2 158.2 111.8 163.8 108.2 171.2 106.2 181.8 107.2 189.8 111.2 187.2 111.2 186.8 112.2 158.2 113.8 156.2 108.2ZM221.2 90.8L226.2 94.2 239.2 90.2 245.8 91.2 250.2 93.8 254.8 98.2 260.8 109.2 268.2 102.8 268.8 103.8 263.2 109.2 256.2 112.2 259.2 109.2 259.2 107.8 252.8 97.8 246.2 92.8 238.2 91.8 231.8 94.2 227.2 98.8 230.2 103.8 236.2 108.8 235.2 109.2 223.2 98.2ZM157.2 84.8L157.8 86.2 156.8 87.2ZM358.8 76.8L359.2 78.2 357.8 80.2 357.2 79.2ZM245.8 48.8L246.2 49.8 244.8 51.8 244.2 50.8Z"/><path fill="#36473e" d="M16.8 368.2L16.8 373.8 21.2 374.8ZM138.8 135.2L144.8 142.8 152.2 147.2 157.8 148.8 163.8 148.8 171.2 146.2 165.2 135.2 158.2 129.2 148.2 128.2 142.2 131.2ZM227.2 98.8L231.8 105.2 242.8 111.8 253.8 112.2 259.2 109.2 258.8 106.8 252.8 97.8 244.8 92.2 238.2 91.8 234.8 92.8 229.8 95.8ZM193.8 29.8L194.8 31.8 194.2 36.2 186.2 42.2 172.2 46.2 149.2 47.8 145.8 49.2 153.2 58.8 156.8 67.2 157.2 72.2 155.8 76.2 152.2 79.8 145.2 83.8 134.2 85.2 122.8 81.2 110.8 70.8 108.8 64.2 105.2 65.8 106.2 68.2 105.2 73.2 97.2 78.8 84.8 82.2 60.2 84.2 57.2 85.8 64.8 94.8 68.8 105.8 67.2 112.8 57.2 119.8 52.2 121.2 44.2 121.2 38.8 119.8 32.2 115.8 25.2 108.8 20.2 100.8 16.8 102.2 23.2 111.2 31.8 119.8 30.8 120.2 25.8 116.2 27.8 125.2 27.2 141.8 23.2 156.8 16.8 169.8 16.8 176.2 22.2 183.8 31.2 192.2 39.8 196.8 47.8 199.2 49.8 210.2 52.8 216.2 64.8 230.8 68.8 243.2 72.8 232.8 72.8 224.2 71.2 218.8 65.2 207.8 59.8 202.2 53.8 199.8 57.8 199.2 65.2 205.2 70.8 213.8 74.2 224.8 73.8 235.8 68.8 246.8 60.2 254.2 51.2 257.2 42.2 256.8 33.8 252.8 26.2 245.8 16.8 232.2 17.2 238.8 23.8 247.8 31.2 255.2 30.2 255.8 25.8 252.2 27.8 261.2 27.2 277.8 23.8 291.2 16.8 305.8 16.8 312.2 22.8 320.2 30.8 327.8 37.8 331.8 47.8 335.2 50.2 347.2 56.8 356.8 71.8 356.2 68.2 348.2 63.2 341.2 59.2 337.8 54.8 335.8 56.2 334.8 59.2 335.8 67.2 343.8 71.2 350.8 74.2 360.8 73.8 371.2 72.2 376.2 67.2 384.2 68.2 386.8 72.8 387.8 80.2 381.2 87.2 377.8 101.2 377.8 114.2 384.2 120.2 389.8 129.8 402.2 133.8 403.2 124.2 389.2 116.2 381.2 117.2 380.8 132.8 396.8 136.8 392.2 148.8 387.8 163.2 385.8 184.2 385.2 183.8 382.2 177.2 371.2 173.2 367.2 166.8 364.2 170.8 363.8 179.2 371.2 184.2 379.8 186.8 387.2 186.8 399.2 184.8 405.8 180.2 412.8 180.8 415.2 185.8 416.2 192.8 410.2 200.8 406.2 213.2 406.2 218.2 407.8 228.2 413.8 242.8 430.8 245.8 429.2 235.2 415.8 228.2 409.2 229.2 408.8 245.8 425.8 249.2 421.2 258.2 417.2 271.8 414.8 282.8 414.2 286.2 412.8 281.8 407.8 277.2 399.2 275.2 384.2 282.8 376.2 288.8 372.8 301.2 370.8 310.8 373.2 322.2 381.2 325.2 387.8 330.8 394.2 334.2 393.2 326.8 383.8 326.2 380.8 334.2 389.2 338.8 384.2 347.8 380.8 358.2 378.8 370.8 378.2 374.2 376.8 366.2 364.2 364.2 357.2 363.8 348.2 372.2 339.2 383.2 334.8 394.2 335.2 402.8 338.8 410.8 344.8 413.2 350.8 418.8 357.8 418.8 352.2 413.8 344.8 410.8 333.2 411.8 315.8 418.8 297.2 418.8 290.2 410.2 278.8 401.8 271.2 391.8 266.8 385.8 266.2 383.2 253.2 379.8 246.8 367.8 231.8 363.8 217.8 363.8 212.2 371.8 203.8 379.8 199.8 390.8 198.8 398.2 200.8 408.2 206.8 418.8 221.8 418.8 216.2 413.2 207.8 410.8 197.2 411.2 182.8 414.8 169.8 418.8 161.8 418.8 154.2 408.8 141.2 402.2 135.8 395.8 132.2 385.8 130.2 382.8 116.2 374.8 105.2 359.8 106.2 358.2 105.2 357.2 92.2 359.8 83.2 363.8 77.2 362.8 72.8 357.8 71.2 353.2 75.2 348.2 77.8 341.2 79.2 335.8 78.8 329.8 76.8 321.2 71.8 311.8 63.2 311.2 59.8 306.8 58.8 307.8 61.2 307.2 64.8 303.2 68.8 294.2 72.8 278.8 75.8 246.2 77.2 244.8 73.8 244.2 64.8 246.2 56.2 250.8 49.2 249.2 43.8 244.8 42.8 239.2 47.2 231.8 50.2 219.8 49.2 209.2 43.8 199.2 34.8 198.2 30.8ZM160.8 359.2L161.8 358.2 170.8 358.8 168.2 359.8ZM204.2 342.8L211.8 342.8 208.8 343.8 205.2 343.8ZM47.2 330.2L51.8 329.2 57.8 330.2 53.8 331.2ZM230.2 319.2L230.2 321.8 224.2 331.2 217.2 336.8 210.8 338.8 210.8 337.2 218.8 334.2 225.2 326.2 219.8 317.8 212.2 311.8 203.2 308.2 193.8 308.2 184.8 311.8 178.2 317.2 172.8 325.2 169.2 336.8 170.2 347.8 180.2 342.8 189.8 342.2 192.2 343.2 178.8 355.2 172.2 358.8 170.8 358.2 171.2 355.8 168.2 345.2 169.2 330.8 174.8 319.8 183.2 311.2 192.2 307.2 201.8 306.8 213.2 310.8 224.8 318.8 229.2 318.2ZM245.2 298.2L248.2 302.2 250.8 308.8 248.2 307.2 242.8 307.2 241.8 306.2ZM117.2 290.2L117.8 291.8 115.8 296.8 109.8 304.2 101.8 309.2 96.8 309.8 96.8 308.8 100.8 308.2 106.2 305.2 112.2 298.2 112.2 296.2 109.2 291.8 103.2 285.8 98.8 283.2 94.8 297.8 94.2 309.2 82.8 312.2 65.8 326.8 60.2 329.8 57.2 329.8 58.2 329.2 58.2 326.2 55.2 315.8 56.2 302.8 60.8 292.8 71.8 281.8 81.2 278.2 89.8 278.2 100.8 282.2 110.8 289.8ZM141.2 276.2L143.2 277.2 142.2 277.8ZM227.8 272.2L232.2 275.2 249.8 293.2 253.8 293.8 261.8 290.8 269.8 291.2 274.2 293.8 282.8 303.8 287.2 314.8 287.8 325.8 283.8 337.2 274.2 346.8 268.2 349.2 261.8 350.2 254.8 349.2 252.2 347.2 264.2 348.8 271.8 346.2 266.8 336.2 260.8 330.2 256.8 328.8 256.2 326.8 262.2 329.2 267.2 334.2 273.2 345.2 280.2 339.2 284.8 331.2 286.2 325.8 286.2 316.8 281.2 304.2 274.2 295.8 268.2 292.8 258.2 293.8 253.8 296.8 251.2 300.2 237.2 282.2ZM281.8 271.2L291.8 270.8 297.2 272.2 312.8 282.2 318.2 282.2 318.2 286.8 314.2 293.2 309.2 298.2 301.8 302.2 297.8 302.8 297.8 301.2 301.8 300.8 308.2 297.2 312.8 292.2 313.8 288.8 310.2 283.8 301.2 275.8 292.8 272.2 282.2 272.2ZM132.2 270.2L144.8 285.2 135.8 278.8 129.2 278.2 129.8 273.8ZM333.8 262.2L339.2 270.8 338.8 272.2 335.8 270.8 331.2 271.2 330.2 270.2ZM326.2 244.8L334.8 254.2 339.8 257.8 351.8 254.2 357.2 254.8 361.8 256.8 367.2 261.8 372.2 269.2 376.2 281.2 375.8 292.2 370.8 303.2 362.2 310.8 353.2 313.8 346.8 313.8 340.8 311.8 343.2 301.8 344.2 290.8 352.2 289.8 361.2 283.8 372.2 273.8 370.2 268.8 361.8 258.8 355.8 256.2 350.8 256.2 346.2 257.8 339.8 263.8 328.2 250.2 325.8 245.8ZM275.2 249.2L276.8 246.2 283.8 239.8 294.2 235.2 303.8 235.2 309.2 236.8 320.8 243.8 323.2 247.8 322.8 248.8 316.2 242.2 308.2 237.8 296.2 236.2 286.8 239.2ZM170.2 227.8L178.8 234.8 185.2 246.2 187.2 254.8 186.2 265.8 181.8 275.2 174.2 282.2 165.2 285.8 154.8 285.2 149.2 283.2 143.8 278.8 144.8 278.2 149.2 281.8 155.8 284.2 162.8 284.8 171.2 282.2 165.8 271.8 160.2 266.2 156.2 264.2 150.2 263.8 146.2 264.8 140.2 268.8 138.8 270.8 140.8 274.2 140.2 275.2 123.2 252.2 115.2 244.8 116.2 244.2 121.8 248.8 138.2 265.2 147.8 262.2 155.8 262.2 160.2 264.2 167.8 271.8 172.8 281.2 180.2 274.2 184.2 266.8 185.8 260.8 185.8 253.8 183.2 245.2 176.8 234.8 170.8 229.8 165.8 228.2ZM203.2 207.2L205.8 206.2 210.8 206.8 210.2 207.8ZM47.8 194.8L48.8 193.8 58.2 194.2 55.2 195.2ZM91.2 178.2L99.2 178.2 96.2 179.2 92.2 179.2ZM230.2 183.2L228.8 189.2 221.2 198.2 214.2 202.2 209.2 202.8 209.2 201.8 218.2 198.8 222.8 194.8 225.2 189.2 222.2 184.8 213.8 176.8 204.8 172.8 194.8 172.2 184.2 176.2 176.8 183.2 171.2 192.8 169.2 200.8 170.2 211.8 174.8 208.8 180.8 206.8 188.2 206.2 192.2 207.2 191.2 208.2 182.2 207.8 171.2 212.2 171.8 216.2 174.2 220.8 172.8 222.8 168.8 223.8 159.8 223.2 171.2 221.8 168.2 209.8 168.8 196.8 171.2 189.8 175.2 183.2 184.2 174.8 193.2 171.2 203.8 171.2 214.8 175.8 224.2 182.8 228.8 182.2ZM245.2 162.8L250.8 171.2 250.2 172.8 247.8 171.2 243.2 171.8 241.8 170.8 242.8 166.2ZM246.2 154.2L251.8 158.2 262.2 154.8 271.8 156.2 279.2 162.8 284.8 171.8 287.8 181.8 287.2 192.8 282.2 203.8 272.8 211.8 264.2 214.2 259.2 214.2 252.2 212.2 253.2 211.2 257.8 212.8 265.2 212.8 272.2 210.2 266.2 199.8 261.2 194.8 256.2 192.8 255.8 191.2 261.2 192.8 266.2 197.2 270.2 202.8 273.2 209.8 280.8 202.8 285.8 192.2 286.2 181.2 284.2 174.2 278.8 164.8 271.8 158.2 267.8 156.8 261.8 156.8 255.2 159.8 251.2 164.2 246.2 158.2ZM117.8 155.2L115.2 161.8 108.8 169.2 102.2 173.2 97.8 174.2 97.8 172.8 102.2 171.8 107.8 168.2 112.2 162.2 112.2 160.2 108.2 154.8 98.8 147.2 95.2 159.2 94.2 173.2 82.2 176.8 65.2 191.2 60.8 193.8 57.8 193.8 58.2 190.8 55.2 179.8 56.2 166.8 62.2 154.8 71.2 146.2 82.2 142.2 91.8 142.8 101.2 146.8 110.8 153.8 116.2 153.8ZM186.8 136.2L187.2 137.2 185.2 140.2 184.8 138.8ZM131.2 135.2L132.2 134.8 136.8 140.8 145.8 149.2 144.8 149.8 135.2 142.8 129.8 142.8 128.8 141.2ZM333.8 126.2L337.8 131.8 339.2 136.8 336.8 135.2 331.2 135.2 330.2 134.2ZM132.8 126.2L137.8 129.2 140.8 129.2 148.8 126.2 156.8 126.8 165.2 132.8 172.8 145.2 179.8 138.8 180.2 141.2 175.2 145.8 167.8 149.2 161.8 150.2 154.2 149.2 146.8 145.8 139.2 138.8 134.2 132.2ZM334.8 118.2L339.2 121.8 349.8 118.8 359.8 119.8 368.8 127.8 373.8 136.8 376.2 145.2 375.2 158.2 369.8 168.8 360.8 175.8 354.2 177.8 345.8 177.8 340.2 175.8 343.2 165.8 344.2 154.8 347.8 155.2 354.8 152.8 371.2 138.8 372.2 136.8 366.8 127.8 358.8 121.2 354.8 120.2 347.8 121.2 342.8 124.2 339.8 128.2 334.2 121.2ZM273.2 116.8L269.8 131.2 270.8 139.8 278.8 135.8 290.8 134.8 302.8 139.2 312.2 146.2 317.8 146.2 318.8 147.2 316.8 153.8 308.8 162.8 303.2 165.8 297.2 166.8 298.2 165.2 302.2 164.8 307.8 161.8 313.8 154.2 309.2 146.8 299.2 138.8 292.2 136.2 285.8 135.8 278.2 137.2 271.8 140.8 271.2 142.2 269.8 141.8 268.8 128.8 270.8 120.8ZM270.2 112.2L270.8 114.2 268.2 117.8 268.2 115.2ZM73.8 107.8L74.2 108.8 72.2 111.8 71.8 110.2ZM274.8 100.8L275.2 101.8 273.8 103.8 273.2 102.8ZM221.2 89.8L227.2 93.2 238.8 89.8 245.8 90.8 250.2 93.2 255.2 98.2 261.2 109.2 268.2 102.8 268.8 104.8 264.8 108.8 257.2 112.8 252.8 113.8 241.8 112.8 233.8 108.8 223.2 99.2ZM159.2 89.2L160.2 88.2 160.8 89.2 157.2 99.2 158.2 111.2 169.2 106.2 181.2 106.8 190.8 111.2 157.8 113.8 156.2 110.2 155.8 101.2ZM157.8 82.8L157.8 86.2 155.2 89.2 154.8 88.2ZM358.8 75.8L359.2 78.2 356.8 81.2 356.2 80.2ZM162.2 71.8L162.8 72.8 160.8 75.8 160.2 74.2ZM246.2 46.8L246.2 49.8 243.8 52.8 243.2 51.8Z"/><path fill="#3c5046" d="M16.8 368.2L16.8 373.8 21.2 374.8ZM138.8 135.2L144.8 142.8 152.2 147.2 157.8 148.8 163.8 148.8 171.2 146.2 165.2 135.2 158.2 129.2 148.2 128.2 142.2 131.2ZM227.2 98.8L231.8 105.2 242.8 111.8 253.8 112.2 259.2 109.2 258.8 106.8 252.8 97.8 244.8 92.2 238.2 91.8 234.8 92.8 229.8 95.8ZM193.8 29.8L194.8 31.8 194.2 36.2 186.2 42.2 172.2 46.2 149.2 47.8 145.8 49.2 153.2 58.8 157.2 69.8 155.8 74.8 156.2 77.2 146.8 83.8 141.2 85.2 132.2 85.2 122.8 81.8 110.2 71.8 110.8 69.8 108.8 64.2 105.2 65.8 106.2 68.2 105.2 73.2 97.2 78.8 84.8 82.2 60.2 84.2 57.2 85.8 64.8 94.8 68.8 105.8 67.2 110.8 67.8 113.8 58.8 119.8 51.2 121.8 39.2 120.2 32.2 115.8 25.2 108.8 20.2 100.8 16.8 102.2 26.2 114.8 36.2 122.8 35.2 123.2 26.2 117.8 27.8 125.2 27.2 141.8 23.2 156.8 16.8 169.8 16.8 176.2 22.2 183.8 31.2 192.2 39.8 196.8 47.8 199.2 49.8 210.2 52.8 216.2 64.8 230.8 68.8 243.2 72.8 232.8 72.8 224.2 71.2 218.8 65.2 207.8 59.8 202.2 53.8 199.8 58.2 198.8 66.2 205.8 72.2 216.2 74.8 225.8 74.2 235.8 69.8 247.2 63.2 253.2 50.2 257.8 39.8 256.2 31.8 251.2 24.2 243.2 16.8 232.2 16.8 237.8 23.8 247.8 31.2 255.2 37.8 259.2 36.2 259.8 26.2 253.2 27.8 261.2 27.2 277.8 23.8 291.2 16.8 305.8 16.8 312.2 22.8 320.2 30.8 327.8 37.8 331.8 47.8 335.2 50.2 347.2 56.8 356.8 71.8 356.2 68.2 348.2 63.2 341.2 59.2 337.8 54.8 335.8 56.2 334.8 60.2 335.8 66.8 342.2 72.8 353.2 74.8 361.8 73.2 375.8 67.8 385.2 68.2 386.8 72.8 387.8 80.2 381.2 87.2 377.8 101.2 377.8 114.2 384.2 120.2 389.8 129.8 402.2 133.8 403.2 124.2 389.2 116.2 381.2 109.8 377.2 113.2 377.8 120.2 382.8 133.2 396.2 136.8 392.2 148.8 387.8 163.2 385.8 184.2 385.2 183.8 382.2 177.2 371.2 173.2 367.2 166.8 364.2 171.2 363.2 181.2 373.2 187.2 387.8 187.2 399.8 185.2 406.8 180.8 415.2 185.8 416.2 192.8 410.2 200.8 406.2 213.2 406.2 218.2 407.8 228.2 413.8 242.8 430.8 245.8 429.2 237.8 418.8 230.8 411.2 222.2 405.8 223.8 405.2 231.8 410.2 245.8 424.8 250.8 420.2 258.2 417.2 271.8 414.8 282.8 414.2 286.2 412.8 281.8 407.8 277.2 399.2 275.2 389.8 275.2 383.8 282.2 376.2 287.8 372.8 294.2 370.8 303.8 370.8 311.8 373.2 321.8 379.8 326.2 389.2 331.8 394.2 334.2 392.8 326.8 383.8 324.8 379.8 325.2 378.8 334.8 388.2 338.8 384.2 347.8 380.8 358.2 378.8 370.8 378.2 374.2 376.8 366.2 364.2 364.2 357.2 363.8 347.8 369.8 340.8 374.8 337.2 384.2 334.2 395.8 335.2 408.8 342.2 410.8 344.2 413.2 350.8 418.8 357.8 418.8 352.2 413.8 344.8 410.8 333.2 411.8 315.8 418.8 297.2 418.8 290.2 410.2 278.8 401.8 271.2 391.8 266.8 385.8 266.8 383.2 253.2 379.8 246.8 367.8 231.8 363.8 217.8 364.2 210.8 371.2 203.8 380.2 199.2 389.2 198.2 398.2 200.2 409.2 206.8 413.8 215.8 418.8 221.8 418.8 216.2 413.2 207.8 410.8 197.2 411.2 182.8 414.8 169.8 418.8 161.8 418.8 154.2 408.8 141.2 402.2 135.8 391.2 130.8 385.8 130.8 382.8 116.2 374.8 105.2 357.8 105.8 356.8 99.8 357.2 90.2 359.2 83.8 363.8 77.2 362.8 72.8 357.8 71.2 353.2 75.2 348.2 77.8 341.2 79.2 335.8 78.8 321.2 72.2 311.8 64.2 311.2 59.8 306.8 58.8 307.8 61.2 307.2 64.8 303.2 68.8 294.2 72.8 278.8 75.8 245.8 77.2 244.2 73.8 244.2 62.8 246.8 54.2 250.8 49.2 249.2 43.8 244.8 42.8 239.2 47.2 231.8 50.2 219.8 49.2 209.2 44.2 198.8 35.2 198.2 30.8ZM201.8 343.2L204.8 342.2 211.2 342.2 212.2 343.2 207.2 344.2ZM89.8 314.8L90.8 313.8 99.8 314.2 97.8 315.2ZM232.8 316.2L231.8 321.2 226.2 329.8 218.8 336.2 213.8 338.8 210.8 338.8 210.8 337.2 218.8 334.2 225.2 326.2 219.8 317.8 212.2 311.8 203.2 308.2 193.8 308.2 184.8 311.8 178.2 317.2 172.8 325.2 169.2 336.8 170.2 347.2 175.8 343.8 183.8 341.8 191.8 342.2 192.2 343.2 174.8 357.8 168.2 359.8 161.2 359.8 159.2 358.8 169.8 356.2 167.8 344.8 168.8 331.2 174.8 319.2 184.2 310.2 190.8 307.2 200.2 306.2 210.2 308.8 224.2 317.2 230.2 315.8ZM244.8 297.8L248.2 302.2 251.2 308.2 250.8 309.8 244.8 308.8 240.2 310.2 239.2 309.2 239.8 306.2ZM120.2 287.8L117.8 294.8 113.2 301.2 105.8 307.8 98.8 310.2 96.8 309.8 96.8 308.8 100.8 308.2 106.2 305.2 112.2 298.2 112.2 296.2 109.2 291.8 103.2 285.8 98.8 283.2 94.8 297.8 93.8 309.8 89.8 309.8 82.8 312.2 67.8 325.2 60.2 329.8 53.8 331.2 45.8 330.2 56.8 327.8 54.8 308.8 57.2 298.8 63.8 288.2 72.8 280.8 79.2 278.2 88.8 277.8 97.8 280.2 111.8 288.8 117.2 287.2ZM141.2 276.2L143.2 277.2 142.2 277.8ZM281.2 271.2L282.8 270.2 295.2 271.2 302.2 274.2 311.8 280.8 320.8 279.8 321.8 280.8 315.8 292.2 309.2 298.8 302.8 302.2 297.8 303.2 297.8 301.2 301.8 300.8 308.2 297.2 312.8 292.2 313.8 288.8 310.2 283.8 301.2 275.8 292.8 272.2 282.2 272.2ZM130.2 271.2L131.8 269.8 142.8 282.8 150.2 287.8 146.8 287.2 134.8 279.8 127.2 281.2 126.2 279.8ZM222.8 269.2L232.8 275.2 249.2 291.8 253.8 292.8 260.8 290.2 268.2 290.2 275.2 293.8 280.8 299.8 287.2 313.2 288.2 325.8 286.8 332.8 283.8 339.2 277.2 345.8 265.8 350.2 257.8 350.2 251.8 348.2 252.8 346.8 258.8 348.8 264.2 348.8 271.8 346.2 266.8 336.2 260.8 330.2 255.8 327.8 256.2 325.8 260.2 327.2 265.8 331.8 273.8 345.2 282.2 336.2 285.8 328.2 286.2 316.8 284.8 311.2 279.2 301.2 274.2 295.8 268.2 292.8 258.2 293.8 253.8 296.8 251.2 300.2 233.8 278.2 223.2 270.8ZM333.2 261.8L337.2 266.8 339.8 272.2 339.2 273.8 336.8 272.2 330.2 273.8 327.8 273.2 328.8 268.8ZM325.2 242.8L338.2 255.8 342.8 256.2 350.8 253.8 357.8 254.2 362.8 256.8 370.8 265.8 376.2 279.2 376.2 292.8 371.8 303.8 362.8 311.2 352.2 314.2 344.8 313.8 340.2 311.8 343.2 301.8 344.2 290.2 349.2 290.8 358.2 286.2 372.2 273.8 370.2 268.8 361.8 258.8 355.8 256.2 350.8 256.2 346.2 257.8 339.8 263.8 328.2 250.2 324.8 243.8ZM275.2 249.2L276.8 245.8 283.8 239.2 289.2 236.2 295.2 234.8 303.2 234.8 310.2 236.8 319.8 242.2 322.2 244.8 323.2 247.8 322.8 248.8 316.2 242.2 308.2 237.8 296.2 236.2 286.8 239.2ZM185.2 270.8L182.8 275.8 177.8 280.8 172.8 283.8 164.2 286.2 153.2 285.2 145.8 280.8 144.2 278.2 151.2 282.8 158.8 284.8 165.8 284.2 171.2 282.2 167.2 273.8 160.2 266.2 153.8 263.8 146.2 264.8 138.8 270.8 140.8 274.2 140.2 275.2 123.2 252.2 117.2 246.2 108.2 240.8 109.8 240.2 118.2 245.2 137.8 263.8 139.8 264.2 149.8 261.2 153.8 261.2 159.8 263.2 167.2 270.2 172.8 280.8 173.8 280.8 180.2 274.2 184.2 266.8 185.8 260.8 185.8 253.8 183.2 245.2 176.8 234.8 170.8 229.8 165.8 228.2 171.8 227.8 179.8 235.2 186.8 249.8 187.8 259.8ZM202.2 207.2L205.8 206.2 212.8 207.2 209.2 208.2ZM88.8 178.8L91.8 177.8 99.2 178.2 98.8 179.2 94.8 179.8ZM232.8 180.2L232.2 184.2 229.2 189.8 221.2 198.8 215.2 202.2 209.2 202.8 209.2 201.8 218.2 198.8 222.8 194.8 225.2 189.2 222.2 184.8 213.8 176.8 204.8 172.8 194.8 172.2 184.2 176.2 176.8 183.2 171.2 192.8 169.2 200.8 170.2 211.2 181.2 206.2 191.2 206.2 192.2 207.2 191.2 208.2 182.2 207.8 171.2 212.2 171.8 216.2 174.2 220.8 172.8 222.8 168.8 223.8 159.8 223.2 160.2 222.2 166.8 221.8 169.8 220.2 167.8 209.2 168.8 195.8 173.8 184.8 179.8 177.8 185.2 173.8 193.8 170.8 203.2 170.8 214.8 175.2 223.8 181.2ZM244.8 162.2L248.8 167.2 251.2 172.8 250.8 174.2 248.2 172.8 241.2 174.2 239.2 173.2 239.8 170.2ZM246.2 153.2L250.8 156.8 254.2 156.8 261.2 154.2 269.8 154.8 277.8 160.2 284.8 170.8 288.2 182.2 287.2 195.2 283.2 204.2 278.8 208.8 271.8 212.8 261.8 214.8 251.8 212.2 253.2 211.2 257.8 212.8 265.2 212.8 272.2 210.2 266.2 199.8 261.2 194.8 256.2 192.8 255.8 190.8 257.2 190.2 262.2 192.8 268.8 199.8 273.2 208.8 274.8 208.8 280.8 202.8 285.8 192.2 286.2 181.2 284.2 174.2 278.8 164.8 271.8 158.2 267.8 156.8 261.8 156.8 255.2 159.8 251.2 164.2 245.8 157.2ZM120.2 152.2L117.2 159.8 108.8 169.8 103.2 173.2 97.8 174.2 97.8 172.8 102.2 171.8 107.8 168.2 112.2 162.2 112.2 160.2 108.2 154.8 98.8 147.2 95.2 159.2 93.8 173.8 88.2 174.2 82.2 176.8 67.2 189.8 60.8 193.8 55.2 195.2 48.2 195.2 46.2 194.2 56.8 191.8 54.8 179.2 56.2 165.8 62.2 154.2 71.2 145.8 80.2 142.2 87.8 141.8 96.2 143.8 111.2 152.8 117.8 151.2ZM187.2 135.8L187.8 136.8 185.2 140.8 184.8 138.8ZM131.8 133.8L136.8 140.8 143.8 147.8 149.8 151.8 148.8 152.2 135.8 144.2 126.8 145.2 126.8 142.2ZM333.2 125.8L337.8 131.8 339.8 136.2 339.2 137.8 335.8 136.2 330.8 137.8 327.8 137.2 328.2 134.2ZM132.8 125.2L133.8 124.8 138.8 128.2 147.8 125.8 157.2 126.2 161.8 128.8 166.8 133.8 172.8 144.8 175.2 143.8 179.8 138.8 180.2 142.8 175.8 146.2 167.8 149.8 156.8 150.2 151.8 148.8 146.8 145.8 139.2 138.8 133.8 131.2ZM334.8 117.2L340.2 120.8 351.8 117.8 358.8 118.8 363.2 121.2 367.8 125.8 374.2 136.8 376.8 146.2 376.8 153.8 374.2 163.2 368.2 171.8 360.8 176.2 353.8 178.2 346.8 178.2 340.2 175.8 343.2 165.8 344.2 154.2 349.8 154.8 354.8 152.8 371.2 138.8 372.2 136.8 366.8 127.8 360.8 122.2 354.8 120.2 349.2 120.8 342.8 124.2 339.8 128.2 334.2 121.2ZM273.2 116.8L269.8 131.2 270.8 139.8 280.8 134.8 289.8 134.2 297.8 136.2 312.8 145.2 318.8 143.8 321.8 144.8 318.2 152.8 311.2 161.2 303.2 166.2 297.2 167.2 298.2 165.2 302.2 164.8 307.8 161.8 313.8 154.2 309.2 146.8 298.2 138.2 292.2 136.2 285.8 135.8 278.2 137.2 271.8 140.8 271.2 142.2 269.2 141.8 268.2 135.8 268.8 126.8 271.2 118.8ZM270.2 110.2L270.8 114.2 267.2 118.2 266.8 117.2ZM74.8 106.8L75.2 107.8 72.2 112.2 71.8 110.2ZM275.8 99.8L276.2 100.8 273.2 105.2 273.2 102.8ZM221.2 88.8L226.2 91.8 230.2 91.8 237.8 89.2 246.2 90.2 253.8 95.8 258.8 102.8 261.2 108.8 268.2 102.8 268.8 106.2 263.8 110.2 255.2 113.8 247.2 114.2 240.8 112.8 233.8 109.2 223.2 100.2ZM158.8 89.8L160.2 88.2 160.8 89.2 157.2 99.2 158.2 110.8 167.2 106.2 178.2 105.8 185.2 107.8 191.2 111.2 157.2 113.8 155.8 109.8 155.8 98.8ZM157.2 81.8L158.2 84.8 154.8 89.2 154.2 87.8ZM358.8 74.2L359.2 78.2 355.8 82.2 355.8 79.8ZM162.8 71.2L163.2 72.2 160.8 76.2 160.2 74.2ZM245.8 45.8L246.8 47.2 246.2 49.8 242.8 53.8 242.2 52.8Z"/><path fill="#43594e" d="M16.8 368.2L16.8 373.8 21.2 374.8ZM138.8 135.2L144.8 142.8 152.2 147.2 157.8 148.8 163.8 148.8 171.2 146.2 166.8 137.2 158.2 129.2 148.2 128.2 142.2 131.2ZM227.2 98.8L231.8 105.2 242.8 111.8 253.8 112.2 259.2 109.2 256.8 103.2 251.8 96.8 244.8 92.2 238.2 91.8 234.8 92.8 229.8 95.8ZM193.8 29.8L194.8 31.8 194.2 36.2 186.2 42.2 172.2 46.2 149.2 47.8 145.8 49.2 153.2 58.8 157.2 69.8 155.8 76.8 158.2 84.8 153.8 90.2 152.8 89.8 154.8 83.8 154.2 81.8 141.8 85.8 132.8 85.8 122.8 82.2 110.2 72.8 110.8 69.8 108.8 64.2 105.2 65.8 106.2 68.2 105.2 73.2 97.2 78.8 84.8 82.2 60.2 84.2 57.2 85.8 64.8 94.8 68.8 105.8 67.2 110.8 67.8 115.2 62.2 119.2 51.2 122.2 42.8 121.8 32.2 115.8 25.2 108.8 20.2 100.8 16.8 102.2 28.8 117.2 36.2 122.8 42.2 125.2 37.2 124.8 26.2 118.8 27.8 125.2 27.2 141.8 23.2 156.8 16.8 169.8 16.8 176.2 22.2 183.8 31.2 192.2 39.8 196.8 47.8 199.2 49.8 210.2 52.8 216.2 64.8 230.8 68.8 243.2 72.8 232.8 72.8 224.2 71.2 218.8 63.8 206.2 59.8 202.2 53.8 199.8 59.8 198.8 65.8 204.2 71.2 212.8 75.2 225.8 74.2 245.2 64.2 254.2 53.8 257.8 43.8 257.8 33.8 252.8 26.2 245.8 16.8 232.2 16.8 237.8 23.8 247.8 31.2 255.2 42.2 261.2 36.2 260.2 26.2 254.2 27.8 261.2 27.2 277.8 23.8 291.2 16.8 305.8 16.8 312.2 22.8 320.2 30.8 327.8 37.8 331.8 47.8 335.2 50.2 347.2 56.8 356.8 71.8 356.2 64.8 343.2 61.2 339.2 54.8 335.8 59.2 334.2 67.8 342.8 72.2 350.8 75.2 361.8 74.2 380.8 68.2 386.8 72.8 387.8 80.2 381.2 87.2 377.8 101.2 377.8 114.2 384.2 120.2 389.8 129.8 402.2 133.8 403.2 124.2 389.2 116.2 381.2 105.2 375.2 109.8 375.8 117.8 380.2 133.8 395.2 140.8 390.2 151.2 387.2 163.2 385.8 184.2 385.2 183.8 382.2 178.8 373.2 173.2 367.2 166.8 364.2 172.8 363.2 178.2 368.2 182.8 374.8 187.8 388.2 188.2 397.2 186.2 407.2 186.8 409.8 181.2 415.2 185.8 416.2 192.8 410.2 200.8 406.2 210.8 405.8 215.2 406.8 228.2 413.8 242.8 430.8 245.8 429.2 235.2 415.8 228.2 409.2 217.8 403.8 222.2 404.2 231.8 409.8 246.2 423.8 250.8 420.2 258.2 417.2 284.2 413.8 286.2 412.8 279.8 404.8 276.8 397.8 275.2 383.2 279.8 377.8 287.8 372.2 294.2 370.2 303.8 370.2 311.8 372.8 321.8 379.2 325.2 387.8 331.8 394.2 334.2 392.8 326.8 383.8 324.8 379.8 325.2 378.2 335.2 387.8 338.8 384.2 347.8 380.8 358.2 378.8 370.8 378.2 374.2 376.8 366.2 364.2 364.2 357.2 363.8 346.8 372.2 338.2 376.8 335.8 384.2 333.8 395.2 334.8 409.2 341.8 413.2 350.8 418.8 357.8 418.8 352.2 413.8 344.8 410.8 333.2 411.8 315.8 418.8 297.2 418.8 290.2 410.2 278.8 401.8 271.2 391.8 266.8 385.8 267.2 383.2 253.2 379.8 246.8 367.8 231.8 363.8 217.8 363.8 210.8 369.2 204.8 377.2 199.8 388.2 197.8 396.8 199.2 409.2 205.8 413.8 215.8 418.8 221.8 418.8 216.2 413.2 207.8 410.8 197.2 411.2 182.8 414.8 169.8 418.8 161.8 418.8 154.2 408.8 141.2 402.2 135.8 391.2 130.8 385.8 131.2 382.8 116.2 374.8 105.2 357.2 105.8 356.2 99.2 356.8 91.2 359.2 82.8 362.8 79.8 363.8 77.2 362.8 72.8 357.8 71.2 359.2 74.2 359.2 78.2 354.8 82.8 355.8 74.2 345.2 78.8 335.8 78.8 321.8 73.2 311.2 64.8 311.2 59.8 306.8 58.8 307.8 61.2 307.2 64.8 303.2 68.8 294.2 72.8 278.8 75.8 244.8 77.8 243.8 74.2 243.8 63.2 245.8 55.8 250.8 49.2 249.2 43.8 245.2 42.8 246.8 48.2 245.8 50.8 241.8 54.2 243.2 45.8 231.8 50.2 223.8 50.2 217.8 48.8 206.2 42.8 198.8 36.2 198.8 31.2ZM201.2 343.8L204.8 342.2 214.2 343.2 207.2 344.8ZM88.2 314.8L90.8 313.8 99.2 313.8 100.8 314.8 97.8 315.8 89.8 315.8ZM248.2 302.2L251.8 310.8 246.8 309.8 239.2 313.2 235.2 317.2 227.8 328.8 221.8 334.8 213.8 339.2 210.2 337.8 218.8 334.2 225.2 326.2 222.8 321.2 218.2 316.2 212.2 311.8 203.2 308.2 193.8 308.2 184.8 311.8 178.2 317.2 172.8 325.2 169.2 336.8 170.2 346.8 175.8 343.2 184.2 341.2 191.8 341.8 192.8 342.8 180.8 353.8 174.8 357.8 168.2 359.8 158.2 358.8 168.2 355.2 167.2 345.2 168.2 331.8 174.2 319.2 183.2 310.2 192.8 306.2 203.8 306.2 210.2 308.2 223.2 315.8 226.8 315.8 232.8 312.8 236.8 308.8 244.2 297.8ZM141.2 276.2L143.2 277.2 142.2 277.8ZM154.8 289.8L148.8 288.8 135.8 281.2 130.2 282.2 122.2 288.8 115.2 299.8 108.8 306.2 101.8 310.2 96.8 309.8 96.8 308.8 100.8 308.2 106.2 305.2 112.2 298.2 112.2 296.2 109.2 291.8 103.2 285.8 98.8 283.2 94.8 297.8 93.8 309.8 89.8 309.8 82.8 312.2 67.8 325.2 60.2 329.8 53.8 331.2 45.8 330.2 46.2 329.2 55.2 326.8 54.2 309.8 57.8 296.8 62.8 288.8 68.2 283.2 74.8 279.2 82.2 277.2 91.2 277.8 97.8 279.8 110.8 287.2 113.2 287.2 119.8 284.2 124.2 279.8 131.2 269.2 142.8 282.8ZM219.2 267.8L225.2 269.8 232.8 274.8 248.8 290.2 255.2 291.2 261.8 289.2 269.2 289.8 273.8 291.8 280.2 298.2 287.8 313.2 288.8 327.2 287.2 337.8 278.8 354.8 279.8 346.8 265.8 350.8 258.2 350.8 251.8 348.2 252.8 346.8 258.8 348.8 264.2 348.8 271.8 346.2 270.2 341.8 263.8 332.8 255.8 327.8 256.2 325.2 262.2 327.8 267.8 333.2 274.2 344.8 282.2 336.2 285.8 328.2 286.2 316.8 284.8 311.2 279.2 301.2 274.2 295.8 268.2 292.8 258.2 293.8 253.8 296.8 251.2 300.2 233.8 278.2 225.8 271.8 219.2 268.8ZM332.8 261.2L337.2 266.8 340.2 274.8 334.2 273.8 327.2 277.2 311.2 297.8 302.8 302.8 297.8 303.8 297.8 301.2 301.8 300.8 308.2 297.2 312.8 292.2 313.8 288.8 310.2 283.8 301.2 275.8 294.8 272.8 290.2 271.8 282.2 272.2 281.2 270.8 282.8 269.8 295.2 270.8 311.2 279.2 314.2 279.8 322.2 275.8ZM324.8 241.8L336.2 253.2 339.8 255.2 348.8 253.2 357.2 253.2 361.8 255.2 367.8 260.8 372.8 268.2 376.8 279.2 377.2 290.8 375.8 301.8 367.2 318.2 367.8 310.2 351.8 314.8 343.2 313.8 340.2 311.8 343.2 301.8 344.2 289.2 345.2 288.8 349.2 290.8 358.2 286.2 372.2 273.8 370.2 268.8 361.8 258.8 355.8 256.2 350.8 256.2 346.2 257.8 339.8 263.8 328.2 250.2 324.2 242.8ZM275.2 249.2L276.2 245.8 282.2 239.8 289.2 235.8 295.2 234.2 302.8 234.2 310.2 236.2 320.2 241.8 323.2 247.8 322.8 248.8 316.2 242.2 308.2 237.8 296.2 236.2 286.8 239.2ZM187.2 273.8L179.2 281.2 173.8 284.2 164.2 286.8 154.2 285.8 147.8 282.2 144.2 278.2 151.2 282.8 158.8 284.8 165.8 284.2 171.2 282.2 167.2 273.8 160.2 266.2 153.8 263.8 146.2 264.8 138.8 270.8 140.8 274.2 140.2 275.2 123.2 252.2 115.2 244.8 106.2 239.8 109.2 239.8 118.2 244.8 134.8 260.8 138.2 262.8 148.2 260.8 155.2 260.8 160.2 262.8 166.8 268.8 173.8 280.8 180.2 274.2 184.2 266.8 185.8 260.8 185.8 253.8 183.2 245.2 178.2 236.8 173.8 231.8 165.8 228.2 172.2 227.2 180.8 235.8 186.8 248.2 188.2 255.8 186.2 271.2ZM200.8 207.8L205.8 206.2 213.8 207.2 209.2 208.8ZM88.2 179.2L91.8 177.8 101.2 178.8 94.2 180.2ZM248.8 167.2L251.8 174.8 245.2 174.2 238.8 177.8 225.8 195.2 221.2 199.2 213.8 203.2 208.8 202.2 218.2 198.8 222.8 194.8 225.2 190.2 222.2 184.8 215.8 178.2 209.2 174.2 202.2 172.2 192.2 172.8 184.2 176.2 176.8 183.2 171.2 192.8 169.2 200.8 170.2 210.8 181.2 205.8 190.8 205.8 193.2 206.8 191.2 208.2 182.2 207.8 171.2 212.2 171.8 216.2 174.2 220.8 172.8 222.8 168.8 223.8 160.2 223.8 157.8 222.8 166.2 220.8 168.2 219.2 167.2 201.2 169.2 192.8 176.2 180.8 184.2 173.8 193.8 170.2 202.8 170.2 209.8 172.2 222.8 179.8 227.2 179.8 235.8 174.2 244.2 161.8ZM246.2 152.8L251.8 155.8 263.2 153.2 271.8 154.8 279.8 161.8 285.2 170.8 288.2 179.8 288.8 191.2 287.2 202.2 278.8 218.8 279.2 210.8 266.8 214.8 257.2 214.8 251.8 212.2 253.2 211.2 257.8 212.8 265.2 212.8 272.2 210.2 264.8 198.2 261.2 194.8 255.8 192.2 256.2 189.2 262.8 192.2 267.2 196.8 273.8 208.8 278.2 205.8 283.2 198.8 286.2 189.8 286.2 181.2 284.2 174.2 280.2 166.8 271.8 158.2 267.8 156.8 261.8 156.8 255.2 159.8 251.2 164.2 245.8 157.2ZM188.2 135.2L187.2 138.8 184.8 141.2 185.2 137.8ZM154.2 153.8L149.8 153.2 136.8 145.8 131.8 145.8 126.2 148.8 122.8 152.2 111.2 168.2 100.8 174.8 97.2 173.2 102.2 171.8 107.8 168.2 111.2 164.2 112.2 160.2 103.8 150.2 98.8 147.2 95.2 159.2 93.8 173.8 88.2 174.2 82.2 176.8 67.2 189.8 60.8 193.8 55.2 195.2 45.2 194.2 55.2 190.8 54.2 174.2 56.8 163.2 63.8 151.8 69.8 146.2 75.2 143.2 83.8 141.2 90.8 141.8 96.2 143.2 110.2 151.2 113.8 151.2 122.8 145.8 131.2 133.2 143.8 147.8ZM132.8 125.2L133.8 123.8 137.8 126.8 142.2 126.8 149.2 124.8 156.8 125.2 162.2 128.2 166.2 132.2 173.2 144.8 179.8 138.8 180.8 143.8 176.8 147.2 165.2 150.8 155.2 150.2 146.8 145.8 139.2 138.8 133.8 131.2ZM268.2 127.2L270.2 120.2 273.2 116.8 273.8 117.8 270.2 126.8 270.8 139.2 280.8 134.2 289.2 133.8 297.8 135.8 310.8 143.2 314.8 143.8 320.2 141.2 325.2 136.8 332.8 125.2 337.8 131.8 340.2 138.8 334.8 137.8 328.2 140.8 310.8 162.2 303.2 166.8 297.8 168.2 297.2 166.2 298.2 165.2 306.2 162.8 311.8 157.8 313.8 154.2 312.8 151.2 303.2 141.2 292.2 136.2 285.8 135.8 279.8 136.8 273.2 139.8 271.2 142.2 269.2 142.2 267.8 135.8ZM335.2 116.2L339.2 119.2 349.8 117.2 356.2 117.2 360.8 118.8 369.2 126.8 374.8 136.8 377.2 146.2 375.8 165.8 367.2 182.2 368.2 174.8 353.2 178.8 344.8 178.2 341.2 177.2 340.2 175.8 343.2 165.8 344.2 153.8 346.2 153.2 349.8 154.8 354.8 152.8 371.2 138.8 372.2 136.8 365.2 126.2 362.2 123.2 357.2 120.8 351.8 120.2 347.8 121.2 342.8 124.2 339.8 128.2 334.2 121.2 334.2 117.2ZM75.2 106.2L75.8 107.2 72.2 113.2 71.8 110.2ZM276.2 99.2L276.8 100.2 273.2 105.2 273.2 102.8ZM218.8 98.2L219.2 99.8 215.8 104.2 215.2 103.2ZM157.8 90.8L160.8 88.8 157.2 99.2 157.8 110.2 167.2 105.8 177.8 105.2 185.2 107.2 192.2 111.2 156.2 113.8 155.2 99.8ZM221.2 88.8L222.2 87.8 227.2 90.8 236.2 88.8 244.2 88.8 248.2 90.2 255.8 97.2 261.8 108.8 268.8 103.2 270.8 110.8 269.8 116.2 266.8 118.8 265.8 118.2 267.2 110.2 251.2 114.8 244.8 114.2 236.2 111.2 223.2 101.2ZM163.8 70.2L164.2 71.2 160.8 76.8 160.2 74.2Z"/><path fill="#4a6256" d="M16.8 368.2L16.8 373.8 21.2 374.8ZM138.8 135.2L144.8 142.8 152.2 147.2 157.8 148.8 163.8 148.8 171.2 146.2 168.8 140.2 161.2 131.2 158.2 129.2 148.2 128.2 142.2 131.2ZM264.8 113.8L261.8 113.2 252.2 115.2 242.8 114.2 235.2 111.2 222.8 102.2 213.8 108.2 202.8 111.8 188.8 113.8 152.8 115.8 140.2 119.2 134.2 123.2 138.8 125.8 154.2 123.8 160.2 125.8 168.2 133.8 173.8 144.8 183.2 134.8 190.8 130.8 208.8 126.2 241.2 124.8 255.2 122.8 264.2 119.8ZM227.2 98.8L231.8 105.2 242.8 111.8 253.8 112.2 259.2 109.2 256.8 103.2 248.8 94.2 244.8 92.2 238.2 91.8 234.8 92.8 229.8 95.8ZM408.8 141.2L402.2 135.8 392.8 131.2 385.8 132.2 385.2 125.2 382.8 116.2 374.8 105.2 371.2 106.8 348.8 109.2 337.8 113.8 335.8 115.8 340.2 118.2 350.8 116.2 356.2 116.2 361.8 118.2 369.2 125.8 375.2 136.8 377.8 145.8 377.8 161.8 365.2 187.2 365.2 177.8 347.8 179.2 341.2 177.8 340.2 175.8 343.2 165.8 344.2 152.8 346.2 152.2 349.8 154.2 354.8 152.8 372.2 137.8 371.2 134.8 362.2 123.2 358.8 121.2 354.8 120.2 347.8 121.2 342.8 124.2 339.8 128.2 334.8 121.8 330.8 123.2 329.2 119.8 330.2 115.8 334.2 112.2 345.2 107.8 356.2 105.8 355.8 95.2 358.8 83.2 354.2 85.8 341.2 89.2 300.8 91.8 287.8 94.2 279.8 97.2 277.8 98.8 273.8 106.2 275.8 113.2 270.2 126.8 269.8 132.8 270.8 138.2 280.2 133.8 289.8 133.2 299.2 135.8 311.2 142.2 315.2 142.2 322.2 137.8 332.8 125.2 337.8 131.8 340.8 139.8 334.2 139.2 330.2 141.2 324.2 146.8 312.8 161.2 308.2 164.8 298.8 168.8 297.2 168.2 297.2 166.2 307.8 161.8 311.8 157.8 313.8 153.2 305.8 143.2 294.2 136.8 288.2 135.8 279.8 136.8 273.2 139.8 271.8 141.8 286.2 140.8 286.2 141.8 282.2 143.2 270.2 143.8 257.8 146.2 251.2 148.8 247.2 151.8 251.2 154.2 260.8 152.8 268.8 152.8 272.8 154.2 280.2 161.2 286.2 171.8 289.2 182.2 289.2 197.8 276.8 223.8 277.2 214.8 276.2 213.8 267.8 215.2 257.8 215.2 252.2 213.8 251.8 212.2 253.2 211.2 257.8 212.8 265.2 212.8 272.2 210.2 269.2 204.2 261.8 195.2 255.8 192.2 256.2 188.2 262.2 190.8 267.2 195.8 274.8 208.8 280.8 202.8 284.2 196.8 286.2 189.8 285.8 178.8 281.8 169.2 273.2 159.2 267.8 156.8 258.8 157.8 255.2 159.8 251.2 164.2 246.2 157.8 242.2 159.8 240.8 155.8 241.2 152.8 245.2 148.8 254.2 144.8 267.8 142.2 267.2 131.8 270.2 119.8 262.2 123.2 251.2 125.8 214.8 127.8 200.2 130.2 190.8 133.8 185.2 142.2 185.2 145.2 180.8 143.8 171.2 150.2 158.8 151.2 146.8 145.8 134.2 132.2 129.8 131.2 128.2 128.8 128.8 123.8 133.8 119.2 142.8 115.8 155.2 113.2 154.8 99.8 157.8 90.8 147.2 95.2 137.2 97.2 100.2 99.2 86.8 101.8 76.8 105.8 72.2 113.8 72.2 116.2 67.8 115.2 59.2 121.2 51.8 122.8 46.8 122.8 37.2 119.2 32.2 115.8 21.2 103.2 16.8 102.2 28.8 117.2 36.2 122.8 45.2 126.2 42.2 126.8 35.8 124.8 26.8 119.8 27.8 125.2 26.8 144.8 23.2 156.8 16.8 169.8 16.8 176.2 22.2 183.8 31.2 192.2 39.8 196.8 47.8 199.2 49.8 210.2 52.8 216.2 64.8 230.8 68.8 243.2 72.8 232.8 72.8 224.2 71.2 218.8 67.8 211.8 60.8 203.2 53.8 199.8 60.8 198.2 66.2 203.8 70.2 209.8 74.8 220.8 75.8 225.2 75.8 240.2 78.2 241.8 66.2 252.8 60.2 256.8 48.2 258.8 41.8 257.2 31.8 251.2 24.2 243.2 16.8 232.2 16.8 237.8 23.8 247.8 35.8 258.2 46.2 262.2 40.8 262.2 26.8 255.8 27.8 261.2 27.2 277.8 23.8 291.2 16.8 305.8 16.8 312.2 22.8 320.2 30.8 327.8 37.8 331.8 47.8 335.2 50.2 347.2 56.8 356.8 71.8 356.2 67.2 346.8 59.2 337.8 54.8 335.8 60.8 334.2 66.8 340.2 74.2 354.8 75.8 361.2 75.8 376.2 77.8 377.8 68.2 386.8 72.8 387.8 80.2 381.2 87.2 377.8 101.2 377.8 114.2 384.2 120.2 389.8 129.8 402.2 133.8 403.2 124.2 389.2 116.2 381.2 102.2 374.2 106.2 374.2 116.2 378.8 134.2 394.8 140.8 390.2 151.2 387.2 163.2 385.8 184.2 385.2 180.8 376.2 173.2 367.2 166.8 364.2 173.2 362.8 180.2 369.8 185.8 379.8 188.8 391.2 188.8 405.2 191.2 406.2 181.2 415.2 185.8 416.2 192.8 410.2 200.8 406.2 213.2 406.2 226.2 412.2 234.8 420.2 242.2 430.8 245.2 429.8 237.8 418.8 230.8 411.2 225.2 407.2 216.2 403.2 218.8 402.8 227.2 406.2 234.2 411.2 246.8 423.2 250.8 420.2 258.2 417.2 284.2 413.8 286.2 412.8 279.8 404.8 276.8 397.8 275.2 382.2 281.8 375.2 289.8 370.8 303.8 369.8 318.8 375.8 321.2 377.8 323.2 384.2 326.2 389.2 331.8 394.2 334.2 392.8 326.8 383.8 324.2 378.2 324.8 376.8 334.8 386.8 347.8 380.8 358.2 378.8 370.8 378.2 374.2 376.8 366.2 364.2 363.8 353.8 363.8 346.2 372.8 337.2 383.8 333.2 395.8 334.2 409.2 340.8 413.2 350.8 418.8 357.8 418.8 352.2 413.8 344.8 410.8 333.2 411.8 315.8 418.8 297.2 418.8 290.2 410.2 278.8 401.8 271.2 391.8 266.8 385.8 268.2 383.2 253.2 379.8 246.8 367.8 231.8 363.8 217.8 363.8 210.2 370.2 203.2 379.8 198.2 389.2 197.2 398.2 199.2 408.2 204.2 413.8 215.8 418.8 221.8 418.8 216.2 413.2 207.8 410.8 197.2 410.8 186.2 412.2 177.8 418.8 161.8 418.8 154.2ZM200.2 344.2L204.8 342.2 214.2 343.2 213.8 344.2 208.2 345.2ZM87.2 315.2L90.8 313.8 99.2 313.8 101.8 314.8 98.2 316.2 88.8 316.2ZM248.2 302.2L252.2 312.2 246.2 311.2 241.2 313.8 236.2 318.2 223.2 334.2 215.2 339.2 210.8 338.8 210.2 337.8 218.8 334.2 225.2 326.2 222.8 321.2 218.2 316.2 212.2 311.8 203.2 308.2 193.8 308.2 184.8 311.8 178.2 317.2 172.8 325.2 169.2 336.8 169.8 345.8 175.2 342.8 183.2 340.8 193.8 342.2 174.8 357.8 168.2 359.8 161.2 359.8 157.2 358.2 166.8 354.2 166.8 337.2 168.8 328.8 174.8 317.8 183.8 309.2 192.2 305.8 200.2 305.2 209.2 307.2 221.2 313.8 226.8 314.2 232.8 310.8 243.8 297.2ZM141.2 276.2L143.2 277.2 142.2 277.8ZM160.8 291.2L157.8 291.8 151.2 290.2 137.8 283.2 132.8 282.8 123.2 289.8 110.2 305.8 101.2 310.8 96.2 309.2 106.2 305.2 110.8 300.8 112.2 296.2 103.2 285.8 98.8 283.2 94.8 297.8 93.8 309.8 89.8 309.8 82.8 312.2 67.8 325.2 60.2 329.8 53.8 331.2 44.2 329.8 51.8 327.2 54.2 325.2 54.2 306.2 59.8 292.2 69.2 281.8 78.8 277.2 91.8 277.2 96.8 278.8 108.8 285.2 113.8 285.8 119.8 282.2 130.8 268.8 137.8 277.8 145.2 284.8 152.2 288.8ZM216.2 266.8L222.8 268.2 232.2 273.8 245.2 286.2 251.2 290.2 262.8 288.2 272.2 289.8 278.8 295.2 282.8 300.8 288.8 315.2 289.2 333.8 276.8 359.8 276.8 349.8 258.8 351.2 252.8 349.8 251.8 348.2 252.8 346.8 258.8 348.8 264.2 348.8 271.8 346.2 268.8 339.2 260.8 330.2 255.8 327.8 256.2 324.2 261.8 326.2 265.2 329.2 270.2 335.8 274.2 344.2 280.2 339.2 284.8 331.2 286.2 325.8 286.2 316.8 281.2 304.2 272.8 294.8 268.2 292.8 258.2 293.8 253.8 296.8 251.2 300.2 232.2 276.8 222.2 269.8 216.2 267.8ZM332.8 260.8L337.2 266.8 340.8 275.8 333.8 275.2 329.2 277.8 310.8 298.8 304.2 302.8 297.8 304.8 297.2 301.8 304.2 299.8 308.2 297.2 312.8 292.2 313.8 288.8 310.2 283.8 301.2 275.8 290.2 271.8 282.2 272.2 280.8 270.2 282.2 269.2 293.2 269.8 300.8 272.2 310.2 277.8 314.8 278.2 320.2 275.2ZM324.8 241.2L339.2 253.8 356.8 252.2 362.8 254.8 369.8 262.2 374.8 271.2 377.8 281.8 377.8 297.2 365.2 323.2 365.8 314.8 364.8 313.2 349.8 315.2 341.8 313.8 340.2 311.8 343.2 301.8 344.2 288.2 346.8 288.2 350.2 290.2 355.2 288.2 371.8 274.2 372.2 272.8 362.8 259.8 357.8 256.8 348.8 256.8 343.2 259.8 339.8 263.8 328.2 250.2 324.2 242.8ZM275.2 246.2L280.8 240.2 287.8 235.8 294.8 233.8 302.8 233.8 311.8 236.2 320.2 240.8 323.2 248.2 314.2 240.8 308.2 237.8 301.8 236.2 296.2 236.2 286.8 239.2 281.8 242.8 275.8 249.8ZM190.8 270.8L179.2 281.2 172.2 285.8 164.8 287.2 154.2 285.8 147.8 282.2 144.2 278.2 151.2 282.8 158.8 284.8 165.8 284.2 171.2 282.2 168.8 276.2 160.2 266.2 153.8 263.8 146.2 264.8 138.8 270.8 140.8 274.2 140.2 275.2 125.2 254.8 117.2 246.2 112.2 242.8 101.8 238.2 105.8 238.2 115.2 242.2 137.8 261.2 141.2 261.8 148.8 259.8 155.2 259.8 161.2 262.2 167.2 268.2 173.8 280.8 180.2 274.2 184.2 266.8 185.8 260.8 185.8 253.8 184.2 247.8 180.2 239.8 172.2 230.8 165.8 228.2 173.2 226.8 179.8 233.2 186.2 245.2 188.8 255.2 188.8 269.2ZM199.8 208.2L205.8 206.2 214.8 207.8 209.8 209.2ZM87.2 179.8L91.8 177.8 101.2 178.8 100.8 179.8 95.8 180.8ZM248.8 167.2L252.2 176.2 247.2 175.2 240.8 178.2 222.8 198.8 215.2 203.2 208.8 202.2 218.2 198.8 222.8 194.8 225.2 190.2 222.2 184.8 215.8 178.2 209.2 174.2 202.2 172.2 192.2 172.8 184.2 176.2 176.8 183.2 171.2 192.8 169.2 200.8 169.8 209.8 180.8 205.2 190.8 205.2 193.8 206.2 191.2 208.2 182.2 207.8 178.2 208.8 171.2 212.2 171.8 216.2 174.2 220.8 172.8 222.8 168.8 223.8 157.2 222.8 166.8 218.2 166.8 201.8 169.2 191.8 175.2 181.2 184.8 172.8 193.2 169.8 202.8 169.8 211.2 172.2 222.2 178.2 225.8 178.8 232.2 175.2 243.8 161.2ZM159.8 155.2L156.8 155.8 150.8 154.2 137.2 147.2 133.2 146.8 125.2 151.8 109.8 170.2 100.8 174.8 97.2 173.2 102.2 171.8 107.8 168.2 111.2 164.2 112.2 160.2 103.8 150.2 98.8 147.2 95.2 159.2 93.8 173.8 88.2 174.2 82.2 176.8 67.2 189.8 60.8 193.8 55.2 195.2 48.2 195.2 44.2 193.8 52.2 191.2 54.2 189.2 53.8 174.2 56.8 162.2 62.8 152.2 68.8 146.2 74.8 142.8 82.8 140.8 90.8 141.2 98.8 143.8 108.2 149.2 113.8 149.8 119.2 146.8 130.8 132.8 143.8 147.8 150.8 152.2ZM152.2 88.2L151.2 84.8 142.2 86.2 132.8 86.2 125.8 84.2 110.2 73.8 101.8 79.2 91.2 82.8 79.8 84.8 57.2 85.8 64.8 94.8 68.2 103.2 68.8 107.8 76.2 102.8 89.2 98.8 105.2 96.8 136.2 95.2 151.8 90.8ZM353.2 77.8L349.2 77.2 341.2 79.2 330.2 77.8 320.8 73.2 311.2 65.8 307.8 69.2 292.2 75.2 280.2 77.2 242.8 79.2 229.2 82.8 223.2 87.2 228.8 89.8 236.8 87.8 244.2 87.8 248.2 89.2 255.8 96.2 262.8 108.2 270.8 99.2 281.2 93.8 299.2 89.8 326.2 88.8 344.8 86.2 352.8 83.2ZM245.8 54.8L239.8 57.8 230.2 60.2 186.8 63.2 176.2 65.2 165.8 69.2 160.8 77.8 162.8 85.2 157.8 96.8 157.8 109.8 163.8 106.2 169.2 104.8 180.8 105.2 192.8 110.8 204.8 108.8 212.2 105.8 218.2 97.8 216.8 88.2 220.2 84.2 230.2 79.8 243.8 77.2 243.2 63.8ZM240.8 49.8L239.2 48.2 231.8 50.2 223.2 50.2 216.2 48.8 209.8 45.8 198.2 37.2 189.8 43.2 178.8 46.8 165.8 48.8 145.8 49.2 153.2 58.8 157.2 71.2 164.2 66.8 176.8 62.8 190.2 60.8 226.2 58.8 237.8 55.8 240.2 54.2Z"/><path fill="#506b5d" d="M16.8 368.2L16.8 373.8 21.2 374.8ZM138.8 135.2L144.8 142.8 152.2 147.2 157.8 148.8 163.8 148.8 171.2 146.2 169.8 142.2 158.2 129.2 148.2 128.2 142.2 131.2ZM263.2 117.2L261.8 115.2 247.8 115.8 239.2 113.8 221.8 103.2 213.8 108.2 202.8 111.8 188.8 113.8 152.8 115.8 142.8 118.2 135.2 122.8 140.2 124.8 150.2 122.8 154.8 122.8 160.8 124.8 167.8 131.8 174.2 144.2 183.2 134.8 196.8 128.8 213.2 125.8 241.2 124.8 252.8 123.2 262.8 120.2ZM227.2 98.8L231.8 105.2 242.8 111.8 253.8 112.2 259.2 109.2 257.8 105.2 253.2 101.2 249.2 95.2 244.8 92.2 238.2 91.8 234.8 92.8 229.8 95.8ZM408.8 141.2L399.8 134.2 392.8 131.2 385.8 133.2 383.8 118.8 381.2 113.2 374.8 105.2 371.2 106.8 348.8 109.2 337.8 113.8 336.8 115.2 339.8 116.8 356.8 115.2 363.8 118.2 371.8 128.2 377.2 140.8 379.2 158.2 367.2 182.2 363.8 192.2 363.8 180.8 362.8 179.8 347.2 179.8 339.8 177.2 343.2 165.8 344.2 151.2 348.2 151.8 351.2 153.8 354.8 152.8 371.2 138.8 372.2 136.8 361.2 122.8 354.8 120.2 347.8 121.2 342.8 124.2 339.8 128.2 334.8 121.8 330.8 123.2 329.2 119.8 330.2 115.8 334.2 112.2 345.2 107.8 355.2 106.2 355.2 94.8 358.2 83.8 341.2 89.2 300.8 91.8 287.8 94.2 279.8 97.2 273.8 106.8 275.8 113.2 270.2 126.8 270.2 137.2 279.2 133.2 290.8 132.8 300.8 135.8 310.2 140.8 315.2 140.8 320.2 137.8 332.2 124.8 337.8 131.8 340.8 141.2 334.2 140.8 329.8 143.2 311.2 163.2 298.8 169.8 297.2 169.2 297.2 166.2 307.8 161.8 311.8 157.8 313.8 153.2 305.8 143.2 295.8 137.2 288.2 135.8 279.8 136.8 273.2 139.8 271.8 141.8 286.2 140.8 286.2 141.8 282.2 143.2 263.8 144.8 252.2 148.2 247.8 151.2 251.8 153.2 269.8 151.8 274.2 153.8 279.8 159.2 287.2 172.8 289.8 181.2 290.8 194.2 279.8 216.2 275.2 228.2 274.8 216.2 261.8 216.2 251.2 213.8 252.8 211.2 257.8 212.8 265.2 212.8 272.2 210.2 270.8 206.8 264.2 200.2 260.8 194.8 255.8 192.2 256.2 187.2 261.2 188.8 266.8 193.8 271.2 200.2 274.8 208.2 278.2 205.8 283.2 198.8 286.2 189.8 286.2 181.2 282.2 170.2 270.8 157.8 261.8 156.8 255.2 159.8 251.2 164.2 246.2 157.8 242.2 159.8 240.8 155.8 241.2 152.8 245.2 148.8 254.2 144.8 266.8 142.2 266.8 131.2 269.8 119.8 262.2 123.2 251.2 125.8 214.8 127.8 196.8 131.2 190.2 134.2 185.2 143.2 185.2 145.2 180.8 143.8 171.2 150.2 162.8 151.8 155.2 150.2 148.2 146.8 139.2 138.8 134.2 132.2 129.8 131.2 128.2 128.8 128.8 123.8 133.8 119.2 142.8 115.8 153.8 113.8 154.2 99.8 156.8 91.2 147.2 95.2 137.2 97.2 100.2 99.2 86.8 101.8 77.8 105.2 72.2 116.2 67.8 115.2 62.2 119.8 54.8 122.8 46.8 122.8 37.2 119.2 32.2 115.8 21.2 103.2 16.8 102.2 23.2 111.2 31.8 119.8 40.8 124.8 53.8 127.2 41.8 127.2 26.8 120.8 27.8 125.2 26.8 144.8 23.2 156.8 16.8 169.8 16.8 176.2 22.2 183.8 31.2 192.2 39.8 196.8 47.8 199.2 49.8 210.2 52.8 216.2 64.8 230.8 68.8 243.2 72.8 232.8 72.8 224.2 68.8 213.2 63.2 208.2 59.8 202.8 53.8 199.8 61.8 197.8 67.2 203.8 72.2 212.2 75.8 222.2 77.2 237.2 78.8 239.2 81.2 239.8 60.2 256.8 53.8 258.8 47.8 258.8 41.8 257.2 31.8 251.2 24.2 243.2 16.8 232.2 17.2 238.8 23.8 247.8 31.2 255.2 42.2 261.2 52.8 263.2 42.2 263.2 26.8 256.8 27.8 261.2 27.2 277.8 23.8 291.2 16.8 305.8 16.8 312.2 22.8 320.2 30.8 327.8 37.8 331.8 47.8 335.2 50.2 347.2 56.8 356.8 71.8 356.2 68.8 349.2 63.8 344.8 58.2 337.2 54.8 335.8 61.8 333.8 66.2 338.2 70.8 345.2 75.2 356.2 77.2 373.2 80.8 375.8 68.2 386.8 72.8 387.8 80.2 381.2 87.2 377.8 101.2 377.8 114.2 384.2 120.2 389.8 129.8 402.2 133.8 403.2 124.2 389.2 116.2 381.2 107.8 376.2 97.8 373.2 106.2 373.8 113.8 376.8 135.2 393.8 140.8 390.2 151.2 387.2 163.2 385.8 184.2 385.2 181.8 378.2 175.8 372.2 172.2 366.8 166.8 364.2 174.8 362.2 179.8 367.8 185.8 378.2 189.2 389.8 190.2 402.2 194.2 404.2 187.8 408.8 181.2 415.2 185.8 416.2 192.8 410.2 200.8 406.2 213.2 406.2 226.2 412.2 234.8 420.2 242.2 430.8 245.2 429.8 237.8 418.8 230.8 411.2 225.2 407.2 217.8 403.8 212.8 402.8 212.8 401.8 220.2 402.8 227.2 405.8 233.2 409.8 247.8 422.8 252.8 419.2 262.2 416.2 284.2 413.8 286.2 412.8 279.8 404.8 276.8 397.8 275.2 389.8 275.2 381.2 284.8 372.2 295.8 368.8 306.8 369.8 320.2 375.8 323.2 384.2 327.8 391.2 330.8 394.2 334.2 393.2 326.8 383.8 323.8 376.8 324.2 375.8 335.8 386.2 341.8 382.8 349.8 380.2 370.8 378.2 374.2 376.8 366.2 364.2 363.8 353.8 363.8 345.2 370.8 337.8 379.8 333.2 394.2 333.2 408.2 339.2 409.8 340.8 413.2 350.8 418.8 357.8 418.8 352.2 413.8 344.8 410.8 333.2 411.8 315.8 418.8 297.2 418.8 290.2 410.2 278.8 401.8 271.2 393.2 267.2 385.8 269.2 385.2 260.8 383.2 253.2 379.8 246.8 367.8 231.8 363.8 217.8 363.8 209.2 369.8 202.8 378.8 197.8 390.2 196.8 398.8 198.8 408.2 203.2 409.8 204.8 410.8 209.8 413.8 215.8 418.8 221.8 418.8 216.2 413.2 207.8 410.8 197.2 410.8 186.2 412.2 177.8 418.8 161.8 418.8 154.2ZM198.8 344.8L204.8 342.2 211.2 342.2 215.8 343.8 209.8 345.8ZM85.8 315.8L90.8 313.8 99.2 313.8 102.8 315.2 95.8 317.2 89.8 317.2ZM248.2 302.2L251.2 308.2 252.2 313.2 246.2 312.8 240.8 315.8 224.8 333.8 215.2 339.8 210.2 337.8 218.8 334.2 225.2 326.2 222.8 321.2 218.2 316.2 212.2 311.8 203.2 308.2 193.8 308.2 184.8 311.8 178.2 317.2 172.8 325.2 169.2 336.8 169.8 345.2 175.8 341.8 181.8 340.2 189.2 340.2 194.2 341.8 174.8 357.8 168.2 359.8 161.2 359.8 156.2 358.2 165.2 353.8 166.2 351.2 166.2 337.2 169.2 326.2 175.2 316.2 184.8 307.8 193.8 304.8 201.2 304.8 210.8 307.2 220.2 312.2 225.2 313.2 231.2 310.2 243.2 296.8ZM141.2 276.2L143.2 277.2 142.2 277.8ZM166.8 291.8L154.2 291.8 138.8 284.8 132.8 284.2 127.8 287.2 112.2 304.8 106.2 309.2 101.2 310.8 96.2 309.2 106.2 305.2 110.8 300.8 112.2 296.2 103.2 285.8 98.8 283.2 94.8 297.8 93.8 309.8 89.8 309.8 82.8 312.2 67.8 325.2 60.2 329.8 53.8 331.2 43.8 329.8 51.8 325.8 53.2 323.2 53.8 306.2 59.8 291.2 68.8 281.2 77.8 276.8 92.2 276.8 107.8 283.8 113.8 284.2 118.8 281.2 130.8 268.2 137.8 277.8 148.2 286.8 156.2 290.2ZM212.2 265.8L219.8 266.8 228.8 270.8 250.8 288.8 253.8 289.2 263.2 287.2 271.8 288.2 275.8 290.8 282.2 298.8 288.8 312.8 290.8 330.2 279.2 353.2 275.2 364.2 275.2 352.8 274.2 351.8 258.2 351.8 251.2 349.2 252.8 346.8 258.8 348.8 264.2 348.8 271.8 346.2 270.2 341.8 265.2 337.2 261.2 331.2 255.8 327.8 256.2 323.2 262.2 325.2 267.2 330.2 274.8 344.2 280.2 339.2 284.8 331.2 286.2 325.8 286.2 316.8 282.2 306.2 275.8 299.8 272.8 294.8 268.2 292.8 258.2 293.8 253.8 296.8 251.2 300.2 232.2 276.8 222.2 269.8 212.2 266.8ZM332.2 260.2L337.2 266.8 340.8 276.8 335.8 276.2 330.2 278.8 311.8 298.8 297.8 305.8 297.2 301.8 304.2 299.8 308.2 297.2 312.8 292.2 313.8 288.8 310.2 283.8 301.2 275.8 290.2 271.8 282.2 272.2 280.2 269.2 285.2 268.2 291.8 268.8 298.8 270.8 310.8 276.8 314.8 276.8 321.2 272.8ZM324.2 239.8L338.8 252.2 344.2 252.8 349.8 251.2 357.8 251.2 361.8 252.8 367.8 258.2 374.2 268.8 378.2 280.8 379.2 293.8 368.8 314.8 363.8 327.8 363.2 315.8 348.8 315.8 339.8 313.2 343.2 301.8 344.2 287.2 347.2 287.2 351.2 289.8 355.2 288.2 371.8 274.2 372.2 272.8 361.8 259.2 357.8 256.8 348.8 256.8 343.2 259.8 339.8 263.8 327.2 248.8 324.2 242.8ZM275.2 245.8L282.8 237.8 288.2 234.8 293.2 233.2 303.8 233.2 320.2 239.8 323.2 248.2 314.2 240.8 308.2 237.8 301.8 236.2 296.2 236.2 286.8 239.2 281.8 242.8 275.8 249.8ZM193.2 268.8L174.2 284.8 167.2 287.2 157.2 286.8 149.2 283.2 143.8 278.8 144.8 278.2 151.2 282.8 158.8 284.8 165.8 284.2 171.2 282.2 169.2 277.2 164.2 272.8 159.2 265.8 153.8 263.8 146.2 264.8 138.8 270.8 140.8 274.2 140.2 275.2 125.2 254.8 117.2 246.2 106.2 239.8 99.8 237.8 107.2 238.2 115.2 241.8 138.2 260.2 149.2 258.8 155.8 258.8 160.2 260.2 167.8 267.8 174.2 280.2 181.2 272.8 185.8 260.8 185.2 251.2 181.8 242.2 170.8 229.8 165.8 228.2 174.8 226.8 179.2 231.2 185.2 241.2 188.2 249.2 190.2 266.2ZM198.2 208.8L205.8 206.2 215.8 207.8 210.8 209.8 200.8 209.8ZM85.8 180.2L91.8 177.8 98.8 177.8 103.2 179.2 96.8 181.2ZM248.8 167.2L252.2 177.2 246.8 176.8 242.2 178.8 223.8 198.8 215.8 203.8 208.8 202.2 218.2 198.8 222.8 194.8 225.2 190.2 222.2 184.8 215.8 178.2 209.2 174.2 202.2 172.2 192.2 172.8 184.2 176.2 176.8 183.2 171.2 192.8 169.2 200.8 169.8 209.2 176.2 205.8 182.8 204.2 194.2 205.8 191.2 208.2 182.2 207.8 171.2 212.2 171.8 216.2 174.2 220.8 172.8 222.8 160.2 223.8 155.8 222.2 165.2 217.8 166.2 215.2 166.2 201.2 169.8 189.2 175.8 179.8 184.2 172.2 191.8 169.2 200.2 168.8 207.8 170.2 221.2 176.8 225.8 177.2 230.8 174.8 243.2 160.8ZM167.8 155.8L163.2 156.8 153.8 155.8 138.2 148.8 133.2 148.2 127.2 151.8 110.8 170.2 102.8 175.2 97.8 174.2 97.2 173.2 102.2 171.8 107.8 168.2 111.2 164.2 112.2 160.2 103.8 150.2 98.8 147.2 95.2 159.2 93.8 173.8 88.2 174.2 82.2 176.8 67.2 189.8 60.8 193.8 55.2 195.2 48.2 195.2 43.2 193.8 52.8 188.8 53.8 170.8 59.2 156.2 68.2 145.8 78.2 140.8 91.2 140.8 99.2 143.2 108.8 148.2 112.2 148.8 117.8 146.2 130.8 132.2 136.8 140.8 147.2 150.2 155.8 154.2ZM150.2 91.2L150.2 88.2 148.8 86.8 137.2 87.2 128.2 85.8 119.8 81.8 109.2 74.2 101.8 79.2 86.8 83.8 57.2 85.8 64.8 94.8 68.2 103.2 68.8 107.8 76.2 102.8 89.2 98.8 105.2 96.8 132.2 95.8 141.8 94.2ZM351.8 80.8L348.8 78.8 334.2 79.2 327.2 77.2 310.8 66.8 301.8 72.2 292.2 75.2 280.2 77.2 242.8 79.2 229.2 82.8 223.8 86.2 227.2 88.2 244.8 86.8 249.8 88.8 256.8 96.2 262.8 108.2 272.8 97.8 284.2 92.8 299.2 89.8 339.8 87.2 351.8 83.8ZM245.2 55.2L234.8 59.2 223.8 61.2 183.2 63.8 172.8 66.2 165.8 69.2 161.2 77.8 162.8 85.2 157.8 96.8 157.8 108.8 164.2 105.2 172.2 103.8 181.2 104.8 194.8 110.8 209.2 107.2 218.2 96.8 216.8 88.2 220.2 84.2 227.2 80.8 242.8 76.8 242.8 63.8ZM238.8 55.2L238.8 51.8 236.8 50.2 222.8 50.8 217.8 49.8 208.8 45.8 198.2 38.2 189.8 43.2 178.8 46.8 165.8 48.8 145.8 49.2 153.2 58.8 157.2 71.2 166.8 65.8 181.8 61.8 222.8 59.2Z"/><path fill="#577365" d="M16.8 368.2L16.8 373.8 21.2 374.8ZM138.8 135.2L144.8 142.8 152.2 147.2 157.8 148.8 163.8 148.8 171.2 146.2 170.8 144.2 163.8 137.8 158.2 129.2 148.2 128.2 142.2 131.2ZM261.8 119.2L259.2 116.8 246.8 116.2 237.8 113.8 221.2 103.8 213.8 108.2 202.8 111.8 188.8 113.8 152.8 115.8 142.8 118.2 136.2 121.8 138.8 123.2 156.8 121.8 161.8 123.8 166.8 128.8 175.2 143.8 183.2 134.8 196.8 128.8 213.2 125.8 249.8 123.8 261.8 120.8ZM227.2 98.8L231.8 105.2 242.8 111.8 253.8 112.2 259.2 109.2 259.2 107.8 253.2 102.8 247.8 94.2 244.8 92.2 238.2 91.8 234.8 92.8 229.8 95.8ZM408.8 141.2L399.8 134.2 392.8 131.8 385.8 134.8 383.8 118.8 381.2 113.2 374.8 105.2 371.2 106.8 348.8 109.2 337.8 113.8 340.8 115.8 350.2 114.2 361.8 115.2 365.8 118.2 370.2 124.2 377.8 140.2 380.2 155.2 367.2 182.2 363.2 194.2 362.8 185.2 360.8 181.2 346.8 180.2 340.8 178.8 339.8 177.2 343.2 165.8 344.2 150.2 348.2 150.2 353.8 153.2 360.2 148.8 372.2 136.8 367.2 132.8 358.8 121.2 354.8 120.2 347.8 121.2 342.8 124.2 339.8 128.2 334.8 121.8 330.8 123.2 329.2 119.8 330.2 115.8 334.2 112.2 345.2 107.8 354.2 106.2 354.8 93.8 357.8 83.8 354.2 85.8 341.2 89.2 300.8 91.8 287.8 94.2 279.8 97.2 274.2 107.2 275.8 113.2 270.2 126.8 270.2 136.8 277.8 132.8 288.8 131.8 294.2 132.8 308.2 138.8 313.2 139.8 321.2 135.2 331.8 123.8 337.8 131.8 341.2 142.2 336.2 141.8 331.2 143.8 311.8 163.8 297.8 171.2 297.2 166.2 307.8 161.8 313.8 154.2 309.2 146.8 298.2 138.2 288.2 135.8 281.8 136.2 271.2 141.2 286.2 140.8 286.2 141.8 282.2 143.2 263.8 144.8 254.8 147.2 249.2 150.2 251.2 151.8 268.2 150.2 275.2 152.8 284.2 164.8 289.8 178.2 291.8 191.8 279.8 216.2 274.8 230.2 274.2 221.2 272.8 217.8 269.8 216.8 259.8 216.8 251.2 214.2 252.8 211.2 257.8 212.8 265.2 212.8 272.2 210.2 264.8 202.2 259.8 194.2 255.8 192.2 255.8 186.2 260.2 186.8 265.8 190.8 275.8 207.8 281.8 201.2 285.8 192.2 286.2 181.2 284.2 174.2 277.2 167.2 270.8 157.8 261.8 156.8 255.2 159.8 251.2 164.2 246.2 157.8 242.2 159.8 240.8 155.8 241.2 152.8 245.2 148.8 254.2 144.8 265.8 142.2 266.2 130.2 268.8 120.2 262.2 123.2 251.2 125.8 214.8 127.8 196.8 131.2 190.8 133.8 185.2 145.2 180.8 143.8 171.2 150.2 162.8 151.8 155.2 150.2 148.2 146.8 139.2 138.8 134.2 132.2 129.8 131.2 128.2 128.8 128.8 123.8 133.8 119.2 142.8 115.8 152.8 113.8 153.8 99.2 156.2 91.8 147.2 95.2 137.2 97.2 100.2 99.2 86.8 101.8 78.8 104.8 72.2 116.2 67.8 115.2 62.2 119.8 54.8 122.8 46.8 122.8 37.2 119.2 32.2 115.8 21.2 103.2 16.8 102.2 26.2 114.8 36.2 122.8 47.8 126.8 55.8 126.8 62.2 125.2 55.8 128.2 46.2 128.8 34.8 125.8 27.2 122.2 27.8 138.2 26.8 144.8 23.2 156.8 16.8 169.8 16.8 176.2 22.2 183.8 31.2 192.2 39.8 196.8 47.8 199.2 49.8 210.2 52.8 216.2 64.8 230.8 68.8 243.2 72.8 232.8 72.8 224.2 70.2 216.2 63.2 209.8 58.2 201.8 53.8 199.8 63.2 197.2 69.2 205.2 74.2 215.2 78.8 235.8 81.2 237.8 84.8 238.2 77.2 242.2 66.2 252.8 60.2 256.8 53.8 258.8 47.8 258.8 41.8 257.2 31.8 251.2 24.2 243.2 16.8 232.2 16.8 237.8 23.8 247.8 35.8 258.2 42.2 261.2 49.2 262.8 54.8 262.8 63.8 260.2 56.8 263.8 48.2 264.8 37.8 262.8 27.2 257.8 27.2 277.8 23.8 291.2 16.8 305.8 16.8 312.2 22.8 320.2 30.8 327.8 37.8 331.8 47.8 335.2 50.2 347.2 56.8 356.8 71.8 356.2 69.8 351.2 63.8 346.2 58.8 338.2 54.8 335.8 63.2 333.2 66.8 337.2 74.2 351.2 78.8 371.8 84.2 374.2 77.8 377.8 68.2 386.8 72.8 387.8 80.2 381.2 87.2 377.8 101.2 377.8 114.2 384.2 120.2 389.8 129.8 402.2 133.8 403.2 124.2 389.2 116.2 381.2 105.2 375.2 93.2 373.2 93.2 372.2 100.8 372.2 111.8 375.2 120.2 380.2 135.8 393.2 143.2 389.2 154.2 386.8 184.2 385.2 182.8 380.2 177.8 376.2 170.8 365.8 166.8 364.2 176.2 361.8 186.2 377.8 192.2 401.2 197.2 402.8 190.2 406.8 181.2 415.2 185.8 416.2 192.8 410.2 200.8 406.2 213.2 406.2 226.2 412.2 234.8 420.2 242.2 430.8 245.2 429.8 237.8 418.8 228.2 409.2 217.8 403.8 206.8 401.8 206.8 400.8 218.2 401.8 228.2 405.8 248.2 421.8 262.2 416.2 284.2 413.8 286.2 412.8 278.2 401.8 275.2 389.8 275.2 380.2 281.2 373.8 287.8 369.8 292.8 368.2 302.8 368.2 314.2 371.8 320.8 375.2 323.8 385.2 330.8 394.2 334.2 392.8 326.8 383.8 323.8 374.8 336.8 385.8 341.8 382.8 349.8 380.2 373.2 377.2 374.2 376.2 368.8 369.2 365.2 361.2 363.8 353.8 363.8 344.2 371.2 336.2 380.2 332.2 392.8 332.2 408.8 338.2 413.2 350.8 418.8 357.8 418.8 352.2 413.8 344.8 410.8 333.2 411.8 315.8 418.8 297.2 418.8 290.2 410.2 278.8 401.8 271.2 394.8 267.8 385.8 270.2 385.2 260.8 383.2 253.2 379.8 246.8 367.8 231.8 363.8 217.8 363.8 208.2 370.2 201.2 378.8 196.8 387.2 195.8 396.2 197.2 408.2 202.2 413.8 215.8 418.8 221.8 418.8 216.2 413.2 207.8 410.8 197.2 410.8 186.2 412.2 177.8 418.8 161.8 418.8 154.2ZM197.2 345.2L204.8 342.2 211.2 342.2 216.8 344.2 207.8 346.8 201.8 346.8ZM84.2 316.8L90.8 313.8 99.2 313.8 103.8 315.2 99.8 317.2 92.2 318.2ZM248.2 302.2L252.8 314.2 246.2 314.2 242.2 316.2 226.2 333.2 217.2 339.8 210.8 338.8 210.2 337.8 218.8 334.2 225.2 326.2 222.8 321.2 218.2 316.2 212.2 311.8 203.2 308.2 193.8 308.2 184.8 311.8 178.2 317.2 172.8 325.2 169.2 336.8 169.8 344.2 175.8 340.8 182.8 339.2 190.8 339.8 195.2 341.2 174.8 357.8 168.2 359.8 161.2 359.8 154.8 357.8 164.2 352.2 165.8 336.8 168.2 327.2 175.2 315.2 183.8 307.2 189.2 304.8 198.8 303.8 207.2 305.2 220.8 311.2 225.2 311.8 231.8 308.2 242.8 296.2ZM141.2 276.2L143.2 277.2 142.2 277.8ZM174.2 290.2L168.2 292.8 159.2 293.2 150.2 291.2 138.2 285.8 132.8 285.8 127.2 289.2 113.2 304.8 103.2 311.2 96.2 309.2 106.2 305.2 110.8 300.8 112.2 296.2 103.2 285.8 98.8 283.2 94.8 297.8 93.8 309.8 89.8 309.8 82.8 312.2 67.8 325.2 60.2 329.8 49.8 331.2 42.2 329.2 49.2 325.8 51.8 322.8 53.8 303.8 59.8 290.2 69.2 279.8 77.8 275.8 90.8 275.8 111.8 283.2 119.2 279.2 130.2 267.8 137.8 277.8 148.2 286.8 160.8 291.2ZM209.2 265.2L219.8 266.2 229.8 270.8 250.2 287.2 256.2 287.8 262.8 286.2 272.8 287.2 279.2 292.8 282.2 297.2 289.2 312.2 291.8 327.2 279.2 353.2 274.8 366.2 274.2 357.2 272.2 353.2 257.8 352.2 252.2 350.8 251.2 349.2 252.8 346.8 258.8 348.8 264.2 348.8 271.8 346.2 271.2 343.8 265.2 338.8 259.8 330.2 255.8 327.8 256.2 321.8 261.8 323.2 266.8 327.8 275.2 343.8 280.2 339.2 284.8 331.2 286.2 325.8 286.2 316.8 283.2 308.2 277.8 303.8 272.2 295.2 268.2 292.8 258.2 293.8 253.8 296.8 251.2 300.2 232.2 276.8 222.2 269.8 209.2 266.2ZM331.8 259.8L337.2 266.8 341.2 278.2 335.2 277.8 331.8 279.2 312.8 298.8 297.8 307.2 297.2 301.8 304.2 299.8 308.2 297.2 312.8 292.2 313.8 288.8 310.2 283.8 301.2 275.8 290.2 271.8 282.2 272.2 279.8 268.8 281.2 267.8 292.8 268.2 310.2 275.2 314.8 275.2 319.2 272.8ZM324.2 239.2L339.2 251.2 342.8 251.8 355.8 249.8 362.8 251.8 368.2 257.2 374.8 268.2 378.8 279.8 380.2 291.2 366.8 319.2 363.2 329.8 362.8 320.8 360.2 316.8 344.8 315.8 339.8 313.2 343.2 301.8 344.2 286.2 347.2 285.8 353.2 289.2 361.2 283.8 372.2 272.8 365.2 266.2 360.2 258.2 357.8 256.8 348.8 256.8 343.2 259.8 339.8 263.8 327.2 248.8 323.8 241.2ZM275.2 244.8L280.2 238.8 286.8 234.2 293.8 232.2 301.8 232.2 312.8 235.2 320.2 238.8 323.2 248.2 314.2 240.8 308.2 237.8 301.8 236.2 296.2 236.2 286.8 239.2 281.8 242.8 275.8 249.8ZM197.8 266.8L191.8 269.8 179.2 281.2 172.2 285.8 167.2 287.2 157.2 286.8 149.2 283.2 143.8 278.8 144.8 278.2 151.2 282.8 158.8 284.8 165.8 284.2 171.2 282.2 170.8 280.2 164.2 274.2 158.2 265.2 150.2 263.8 144.2 265.8 138.8 270.8 140.8 274.2 140.2 275.2 125.2 254.8 117.2 246.2 106.2 239.8 93.2 236.8 99.2 236.2 110.2 238.8 119.2 243.8 137.8 258.8 142.8 259.2 148.8 257.8 157.2 257.8 161.2 259.2 169.2 268.2 174.8 279.8 181.2 272.8 185.8 260.8 185.8 253.8 182.8 244.2 177.2 239.8 170.8 229.8 165.8 228.2 176.2 226.2 180.8 231.8 187.2 244.2 191.8 264.8 193.8 266.2ZM197.2 209.2L205.8 206.2 213.2 206.8 217.2 208.2 208.8 210.8 200.8 210.8ZM84.2 180.8L91.8 177.8 98.8 177.8 103.8 179.8 94.8 182.2 88.8 182.2ZM248.8 167.2L252.8 178.8 246.2 178.2 241.8 180.8 224.8 198.8 217.2 203.8 208.8 202.2 214.2 200.8 220.2 197.2 224.8 191.8 225.2 189.2 215.8 178.2 209.2 174.2 202.2 172.2 192.2 172.8 184.2 176.2 176.8 183.2 171.2 192.8 169.2 200.8 169.8 208.2 179.8 203.8 189.8 203.8 194.8 205.8 191.2 208.2 182.2 207.8 178.2 208.8 171.2 212.2 171.8 216.2 174.2 220.8 172.8 222.8 160.2 223.8 155.2 221.8 163.8 217.2 165.2 213.2 165.8 200.8 168.8 190.2 175.8 178.8 183.2 171.8 192.2 168.2 201.8 168.2 209.8 170.2 221.8 175.8 225.8 175.8 231.2 172.8 242.8 160.2ZM176.2 153.2L169.2 156.8 157.8 157.2 149.8 155.2 137.8 149.8 133.2 149.8 126.2 154.2 111.8 170.2 105.2 174.8 102.8 175.2 97.8 174.2 97.2 173.2 102.2 171.8 107.8 168.2 111.2 164.2 112.2 160.2 103.8 150.2 98.8 147.2 95.2 159.2 93.8 173.8 88.2 174.2 82.2 176.8 67.2 189.8 60.8 193.8 55.2 195.2 48.2 195.2 42.2 193.2 48.8 190.2 51.8 187.2 53.2 170.2 59.2 155.2 68.8 144.2 76.8 140.2 82.2 139.2 90.2 139.8 107.8 146.8 112.8 147.2 118.2 144.2 130.2 131.8 136.8 140.8 143.8 147.8 150.8 152.2 159.8 155.2 169.2 155.2 175.2 152.8ZM148.8 91.8L148.2 89.2 146.8 88.2 135.2 87.8 125.2 85.2 108.8 75.2 99.2 80.2 86.8 83.8 57.2 85.8 64.8 94.8 68.2 103.2 68.8 107.8 76.2 102.8 89.2 98.8 105.2 96.8 132.2 95.8 141.8 94.2ZM350.2 83.2L349.2 81.2 346.8 80.2 337.2 80.2 326.8 77.8 309.2 67.8 301.8 72.2 292.2 75.2 280.2 77.2 242.8 79.2 229.2 82.8 224.8 85.8 230.2 87.2 242.8 85.2 250.8 87.8 257.8 96.2 263.2 107.8 272.8 97.8 284.2 92.8 299.2 89.8 336.8 87.8 348.2 85.2ZM244.8 55.2L230.2 60.2 186.8 63.2 176.2 65.2 166.8 68.8 161.2 78.8 162.8 85.2 157.8 96.8 157.2 107.8 166.2 103.8 176.8 103.2 185.2 105.2 195.8 110.2 206.2 108.2 217.8 96.2 216.8 88.2 220.2 84.2 230.2 79.8 241.2 77.8 241.8 66.2ZM237.2 55.8L236.8 53.2 234.8 51.8 221.8 51.2 213.2 48.8 196.8 38.8 189.8 43.2 178.8 46.8 165.8 48.8 145.8 49.2 153.2 58.8 157.2 71.2 166.8 65.8 181.8 61.8 218.2 59.8Z"/><path fill="#5e7c6d" d="M181.2 415.2L185.8 416.2 192.8 410.2 200.8 406.2 213.2 406.2 218.2 407.8 228.2 413.8 234.8 420.2 242.2 430.8 245.8 429.2 230.8 411.2 225.2 407.2 214.8 402.8 209.8 401.8 197.2 402.8 190.2 406.8ZM68.2 386.8L72.8 387.8 80.2 381.2 87.2 377.8 101.2 377.8 114.2 384.2 120.2 389.8 129.8 402.2 133.8 403.2 124.2 389.2 116.2 381.2 102.2 374.2 92.2 372.8 82.8 374.8 77.8 377.8ZM16.8 368.2L16.8 373.8 21.2 374.8ZM138.8 135.2L144.8 142.8 152.2 147.2 157.8 148.8 163.8 148.8 171.2 146.2 165.2 141.8 156.8 128.8 146.8 128.8 142.2 131.2ZM260.2 120.8L256.2 117.8 239.8 115.2 219.8 104.8 213.8 108.2 202.8 111.8 188.8 113.8 152.8 115.8 142.8 118.2 137.2 121.2 141.8 122.2 156.2 120.2 162.8 122.2 167.8 127.8 175.8 143.2 183.2 134.8 196.8 128.8 213.2 125.8 246.2 124.2ZM227.2 98.8L231.8 105.2 242.8 111.8 253.8 112.2 259.2 109.2 252.8 104.2 244.8 92.2 238.2 91.8 234.8 92.8 229.8 95.8ZM418.8 154.2L408.8 141.2 399.8 134.2 393.8 132.2 385.8 136.2 385.8 128.8 383.8 118.8 381.2 113.2 374.8 105.2 371.2 106.8 348.8 109.2 338.8 113.2 339.8 114.2 358.8 112.8 364.2 114.8 368.2 118.8 372.2 125.8 379.2 142.8 381.2 152.2 377.8 161.8 367.2 182.2 362.8 196.2 361.8 195.2 361.2 185.8 359.2 182.8 340.2 179.2 339.8 177.2 343.8 162.8 344.2 148.8 350.2 149.2 354.8 152.8 371.8 137.8 366.2 133.8 358.8 121.2 354.8 120.2 347.8 121.2 342.8 124.2 339.8 128.2 334.8 121.8 330.8 123.2 329.2 119.8 330.2 115.8 334.2 112.2 345.2 107.8 352.8 106.2 354.2 92.8 356.8 84.2 341.2 89.2 300.8 91.8 287.8 94.2 280.2 97.2 274.8 107.8 275.8 113.2 270.8 124.8 270.2 135.2 276.8 131.8 287.2 130.8 295.2 132.2 310.2 138.2 313.8 138.2 318.8 135.8 331.2 123.2 338.8 133.8 341.2 143.8 335.8 143.2 330.8 145.8 312.2 164.2 297.8 173.2 297.2 166.2 307.8 161.8 313.8 154.2 309.2 146.8 298.2 138.2 288.2 135.8 281.8 136.2 271.2 141.2 286.2 140.8 286.2 141.8 282.2 143.2 263.8 144.8 249.8 149.8 256.2 150.8 262.8 149.2 271.8 149.2 276.2 151.2 282.2 159.2 290.2 177.2 292.8 187.8 292.2 190.2 279.8 216.2 274.2 232.2 273.2 231.2 272.8 222.2 270.2 218.8 255.8 216.8 250.8 214.8 252.8 211.2 257.8 212.8 265.2 212.8 272.2 210.2 266.2 206.2 258.2 193.2 255.8 192.2 255.8 185.2 261.2 185.2 266.2 188.8 276.2 207.2 281.8 201.2 285.8 192.2 286.2 181.2 284.2 174.2 281.2 173.2 277.2 169.2 269.2 157.2 261.8 156.8 255.2 159.8 251.2 164.2 246.2 157.8 242.2 159.8 240.8 155.8 241.2 152.8 245.2 148.8 251.2 145.8 264.2 142.2 265.8 129.2 268.2 120.8 251.2 125.8 214.8 127.8 196.8 131.2 191.8 133.2 185.2 145.2 180.8 143.8 171.2 150.2 164.2 151.8 156.8 150.8 148.2 146.8 139.2 138.8 134.2 132.2 130.2 131.2 136.8 140.8 143.8 147.8 149.8 151.8 159.8 155.2 169.2 155.2 177.8 151.8 182.8 147.8 181.8 150.2 176.8 154.8 169.8 157.8 159.2 158.2 147.8 155.2 138.8 151.2 133.2 151.2 128.8 153.8 112.2 170.8 104.2 175.8 97.8 174.2 97.2 173.2 102.2 171.8 107.8 168.2 111.2 164.2 112.2 160.2 103.8 150.2 98.8 147.2 95.2 159.2 93.8 173.8 88.2 174.2 82.2 176.8 67.2 189.8 60.8 193.8 55.2 195.2 48.2 195.2 41.2 192.8 50.2 186.8 52.2 171.8 55.2 161.8 61.8 150.2 68.2 143.2 75.8 139.2 83.8 138.2 95.2 140.2 108.8 145.8 115.2 144.8 129.2 131.2 128.2 124.8 132.2 120.2 142.8 115.8 151.2 114.2 152.8 101.2 155.2 92.2 137.2 97.2 100.2 99.2 86.8 101.8 78.8 104.8 72.8 116.8 67.8 115.2 62.2 119.8 54.8 122.8 46.8 122.8 37.2 119.2 32.2 115.8 21.2 103.2 16.8 102.2 28.8 117.2 36.2 122.8 45.2 126.2 57.8 126.2 63.8 123.8 69.2 119.2 70.2 119.8 62.8 126.8 53.2 129.8 43.8 129.2 27.2 123.2 27.8 138.2 25.8 149.2 21.8 160.2 16.8 169.8 16.8 176.2 29.2 190.8 39.8 196.8 47.8 199.2 49.8 210.2 52.8 216.2 64.8 230.8 68.8 243.2 72.8 232.8 72.8 224.2 71.2 218.8 63.2 211.8 57.2 201.2 53.8 199.8 61.2 198.2 64.8 196.2 73.8 212.2 79.8 233.8 81.8 235.8 99.8 235.8 111.8 238.8 121.8 244.8 133.2 254.8 138.8 257.8 151.2 256.2 161.2 257.2 167.2 262.8 175.2 279.2 180.2 274.2 184.2 266.8 185.8 260.8 185.8 253.8 183.8 246.8 176.8 241.2 170.2 230.2 165.8 228.2 177.8 225.2 186.8 241.2 191.8 259.8 194.2 264.2 210.8 264.2 224.2 267.2 232.2 271.8 245.2 282.8 251.2 286.2 254.8 286.8 268.8 284.8 275.8 286.8 280.2 291.8 286.2 302.8 292.8 323.8 289.8 332.8 277.8 356.8 274.2 368.2 273.2 367.2 272.8 358.2 271.2 355.2 250.8 350.8 252.8 346.8 258.8 348.8 264.2 348.8 271.8 346.2 264.8 340.2 258.8 329.8 255.8 327.8 256.2 320.2 261.8 321.2 266.8 325.2 276.2 343.2 282.2 336.2 285.8 328.2 286.2 316.8 284.8 311.2 277.8 305.8 269.8 293.2 261.2 292.8 253.8 296.8 251.2 300.2 237.2 282.2 229.2 274.2 218.8 268.2 208.8 265.8 202.2 265.8 193.2 268.8 179.2 281.2 172.2 285.8 167.2 287.2 157.2 286.8 149.2 283.2 144.2 278.2 151.2 282.8 158.8 284.8 165.8 284.2 171.2 282.2 164.2 276.2 157.2 264.8 150.2 263.8 144.2 265.8 138.8 270.8 140.8 274.2 140.2 275.2 123.2 252.2 115.2 244.8 106.2 239.8 96.8 237.2 86.2 237.8 77.2 242.2 66.2 252.8 60.2 256.8 53.8 258.8 47.8 258.8 41.8 257.2 31.8 251.2 24.2 243.2 16.8 232.2 16.8 237.8 23.8 247.8 31.2 255.2 39.8 260.2 46.2 262.2 54.8 262.8 59.2 261.8 70.8 254.8 64.8 261.2 55.8 265.2 42.2 264.8 27.2 259.2 27.2 277.8 23.8 291.2 16.8 305.8 16.8 312.2 22.8 320.2 30.8 327.8 37.8 331.8 47.8 335.2 50.2 347.2 56.8 356.8 71.8 356.2 70.8 353.2 67.2 351.8 63.8 348.2 57.2 337.2 54.8 335.8 64.8 332.2 74.2 349.2 78.8 366.8 81.2 371.2 83.8 372.2 101.2 371.8 110.8 374.2 121.2 380.2 135.8 392.2 154.2 386.8 184.2 385.2 183.8 382.2 177.2 377.8 169.8 365.2 166.8 364.2 177.8 361.2 187.2 378.2 192.2 397.2 195.8 400.8 212.8 400.2 223.2 402.8 233.2 408.2 249.2 421.2 262.2 416.2 284.2 413.8 286.2 412.8 279.8 404.8 276.8 397.8 275.2 389.8 275.2 379.2 281.2 372.2 286.8 368.8 291.8 367.2 301.8 367.2 319.8 373.2 323.8 385.2 327.8 391.2 331.8 394.2 334.2 392.8 326.8 383.8 323.2 375.2 323.8 373.8 337.2 384.8 349.8 380.2 370.8 378.2 374.2 376.8 368.8 369.2 365.2 361.2 363.8 353.8 363.8 342.8 372.8 333.8 382.2 330.8 394.2 331.8 408.8 337.2 411.2 346.8 418.8 357.8 418.8 352.2 413.8 344.8 410.8 333.2 411.8 315.8 418.8 297.2 418.8 290.2 410.2 278.8 399.2 269.8 394.2 267.8 385.8 272.2 385.2 260.8 383.2 253.2 379.8 246.8 367.8 231.8 363.8 217.8 363.8 206.8 370.2 199.8 379.8 195.2 390.8 195.2 408.2 201.2 413.8 215.8 418.8 221.8 418.8 216.2 413.2 207.8 410.8 197.2 411.2 182.8 414.8 169.8 418.8 161.8ZM195.2 346.2L204.8 342.2 211.2 342.2 217.8 344.8 206.2 347.8ZM82.8 317.8L90.8 313.8 99.2 313.8 104.8 315.8 96.2 318.8 85.2 318.8ZM248.2 302.2L251.2 308.2 252.8 315.8 247.8 315.2 242.2 317.8 226.2 334.2 217.8 340.2 210.8 338.8 210.2 337.8 218.8 334.2 225.2 326.2 222.8 321.2 218.2 316.2 212.2 311.8 203.2 308.2 193.8 308.2 184.8 311.8 178.2 317.2 172.8 325.2 169.8 333.8 169.2 342.8 174.8 339.8 182.2 338.2 189.8 338.8 196.2 340.8 190.8 344.2 180.8 353.8 172.2 358.8 161.2 359.8 154.2 357.2 162.8 351.8 164.2 347.2 165.8 333.2 168.2 325.8 175.8 313.2 184.8 305.2 190.8 303.2 201.8 303.2 209.8 305.2 221.2 310.2 225.8 310.2 232.8 305.8 242.2 295.2ZM141.2 276.2L143.2 277.2 142.2 277.8ZM183.8 283.2L175.8 291.2 166.2 294.2 154.2 293.2 139.2 287.2 132.8 287.2 126.8 291.2 113.2 305.8 104.8 311.8 96.2 309.2 106.2 305.2 110.8 300.8 112.2 296.2 103.2 285.8 98.8 283.2 94.8 297.8 93.8 309.8 89.8 309.8 82.8 312.2 67.8 325.2 60.2 329.8 49.8 331.2 41.2 328.8 47.8 325.2 50.8 321.2 53.2 303.2 59.2 289.8 69.2 278.2 75.2 275.2 80.2 274.2 89.8 274.8 107.2 281.2 112.2 281.8 119.8 277.2 129.8 266.8 142.8 282.8 148.2 286.8 156.2 290.2 160.8 291.2 170.8 290.8 175.8 288.8ZM331.2 259.2L337.2 266.8 341.2 279.2 335.2 279.2 329.8 282.2 313.2 299.2 297.8 309.2 297.2 301.8 304.2 299.8 308.2 297.2 312.8 292.2 313.8 288.8 310.2 283.8 301.2 275.8 290.2 271.8 282.2 272.2 279.2 267.8 280.8 266.8 291.8 267.2 312.8 274.2 319.8 270.8ZM323.8 237.8L334.8 247.2 340.8 250.2 351.8 248.8 359.8 248.8 363.8 250.2 369.2 256.2 375.8 268.8 381.2 287.8 377.2 298.8 366.8 319.2 362.8 332.2 361.8 330.8 361.2 321.8 358.8 318.2 343.8 316.2 339.8 314.2 343.8 298.8 344.2 284.8 349.2 284.8 355.2 288.2 372.2 273.8 369.8 272.8 365.2 268.2 357.8 256.8 348.8 256.8 343.2 259.8 339.8 263.8 327.2 248.8 323.8 241.2ZM275.2 243.2L282.8 235.2 287.2 232.8 292.8 231.2 300.8 231.2 307.8 232.8 320.2 237.8 323.2 248.2 314.2 240.8 308.2 237.8 301.8 236.2 296.2 236.2 286.8 239.2 281.8 242.8 275.8 249.8ZM195.8 210.2L199.8 207.8 205.8 206.2 213.2 206.8 217.8 208.8 207.8 211.8 199.2 211.8ZM82.8 181.8L91.8 177.8 98.8 177.8 104.8 179.8 101.2 181.8 93.2 183.2 87.8 183.2ZM248.8 167.2L252.8 179.8 246.2 179.8 241.8 182.2 225.2 199.2 217.8 204.2 208.8 202.2 218.2 198.8 222.8 194.8 225.2 190.2 222.2 184.8 215.8 178.2 209.2 174.2 202.2 172.2 192.2 172.8 184.2 176.2 176.8 183.2 171.2 192.8 169.2 200.8 169.2 206.8 179.2 202.8 188.8 202.8 195.8 204.8 191.2 208.2 182.2 207.8 171.2 212.2 171.8 216.2 174.2 220.8 172.8 222.8 160.2 223.8 154.2 221.8 162.8 215.8 164.2 211.8 165.2 199.8 168.8 188.8 176.2 176.8 183.2 170.2 191.2 167.2 200.8 167.2 209.2 169.2 220.8 174.2 226.2 174.2 231.8 170.8 242.2 159.8ZM147.2 92.8L144.2 89.2 133.2 88.2 124.8 85.8 108.2 76.2 99.2 80.2 86.8 83.8 57.2 85.8 64.8 94.8 68.2 103.2 68.8 107.8 76.2 102.8 91.8 98.2 132.2 95.8ZM348.8 84.8L345.8 81.8 335.2 80.8 326.2 78.2 308.8 68.2 301.8 72.2 287.2 76.2 242.8 79.2 233.8 81.2 225.8 84.8 232.8 85.8 239.2 84.2 246.8 84.2 251.8 86.2 257.2 93.2 263.8 107.2 272.8 97.8 284.2 92.8 299.2 89.8 332.8 88.2ZM243.8 55.8L238.2 58.2 227.2 60.8 186.8 63.2 167.8 68.2 161.8 79.2 162.8 85.2 158.2 94.8 157.2 106.8 165.2 102.8 175.8 102.2 181.2 103.2 198.2 109.8 203.2 108.8 209.8 103.8 217.8 94.8 216.8 88.2 220.2 84.2 227.2 80.8 239.8 77.8 241.8 62.2ZM235.8 56.2L234.2 53.8 231.8 52.8 223.2 52.2 213.8 49.8 196.2 39.8 187.2 44.2 173.8 47.8 145.8 49.2 153.2 58.8 157.2 71.2 166.8 65.8 181.8 61.8 218.2 59.8Z"/><path fill="#648575" d="M181.2 415.2L185.8 416.2 192.8 410.2 200.8 406.2 213.2 406.2 218.2 407.8 228.2 413.8 234.8 420.2 242.2 430.8 245.8 429.2 230.8 411.2 225.2 407.2 214.8 402.8 209.8 401.8 197.2 402.8 190.2 406.8ZM68.2 386.8L72.8 387.8 80.2 381.2 87.2 377.8 101.2 377.8 114.2 384.2 120.2 389.8 129.8 402.2 133.8 403.2 124.2 389.2 116.2 381.2 102.2 374.2 92.2 372.8 82.8 374.8 77.8 377.8ZM16.8 368.2L16.8 373.8 21.2 374.8ZM130.2 131.2L136.8 140.8 143.8 147.8 155.8 154.2 159.8 155.2 171.2 154.8 177.8 151.8 185.2 145.2 180.8 143.8 175.2 148.2 168.2 151.2 156.8 150.8 146.8 145.8 134.2 132.2ZM138.8 135.2L144.8 142.8 152.2 147.2 157.8 148.8 163.8 148.8 169.2 147.2 166.2 145.8 163.2 142.2 158.8 132.8 155.2 128.2 146.8 128.8 142.2 131.2ZM258.2 121.8L254.2 118.8 246.2 117.8 235.2 114.2 219.8 105.8 200.2 112.2 156.2 115.2 144.2 117.8 138.2 120.2 144.2 120.8 155.8 118.8 164.2 120.2 168.2 124.8 175.8 142.8 183.2 134.8 196.8 128.8 208.8 126.2 241.2 124.8ZM16.8 102.2L28.8 117.2 36.2 122.8 45.2 126.2 55.8 126.8 60.8 125.2 66.8 121.8 72.2 116.8 67.8 115.2 62.2 119.8 54.8 122.8 42.8 121.8 32.2 115.8 21.2 103.2ZM27.2 124.2L27.8 138.2 26.8 144.8 23.2 156.8 16.8 169.8 16.8 176.2 22.2 183.8 31.2 192.2 39.8 196.8 47.8 199.2 49.8 210.2 52.8 216.2 64.8 230.8 68.8 243.2 72.8 232.8 71.8 220.2 66.8 218.2 62.8 214.2 55.8 200.2 53.8 199.8 61.2 198.2 66.8 195.8 75.2 213.8 80.2 230.8 82.2 233.8 86.2 235.2 101.2 235.2 113.2 238.8 138.2 256.2 143.2 256.8 153.8 254.8 162.2 255.2 167.8 259.8 176.2 278.8 181.2 272.8 184.8 265.2 185.8 260.8 185.2 251.2 184.2 248.2 178.8 246.2 176.2 243.8 168.8 229.2 165.8 228.2 172.8 227.2 179.8 224.2 188.2 242.8 193.2 259.8 195.8 262.8 198.2 263.8 212.8 263.8 223.2 266.2 231.2 270.2 246.2 282.2 252.2 285.2 268.8 283.2 277.8 285.2 280.2 287.8 288.2 305.2 293.2 320.8 289.8 332.8 277.8 356.8 273.8 370.8 272.8 369.8 271.8 360.2 269.2 356.2 255.2 353.2 250.8 351.2 252.8 346.8 258.8 348.8 269.8 347.2 264.2 342.8 257.2 328.8 255.8 327.8 256.2 318.8 263.8 319.8 267.8 322.8 276.8 342.8 282.2 336.2 285.8 328.2 286.2 316.8 285.2 312.8 280.8 311.2 276.8 307.8 269.2 293.2 261.2 292.8 253.8 296.8 251.2 300.2 237.2 282.2 229.2 274.2 218.8 268.2 208.8 265.8 202.2 265.8 193.2 268.8 179.2 281.2 172.2 285.8 167.2 287.2 157.2 286.8 149.2 283.2 143.8 278.8 144.8 278.2 151.2 282.8 158.8 284.8 165.8 284.2 169.2 282.8 167.2 282.2 163.8 278.8 156.2 264.2 150.2 263.8 142.8 266.8 138.8 270.8 140.8 274.2 140.2 275.2 123.2 252.2 115.2 244.8 106.2 239.8 96.8 237.2 86.2 237.8 77.2 242.2 66.2 252.8 60.2 256.8 53.8 258.8 47.8 258.8 41.8 257.2 31.8 251.2 24.2 243.2 16.8 232.2 16.8 237.8 23.8 247.8 31.2 255.2 42.2 261.2 49.2 262.8 59.2 261.8 73.2 252.8 69.8 258.2 64.2 263.8 55.8 266.8 42.8 265.8 27.2 260.2 27.8 274.2 26.2 282.8 22.8 293.8 16.8 305.8 16.8 312.2 28.2 325.8 37.8 331.8 47.8 335.2 50.2 347.2 56.8 356.8 71.8 356.2 66.2 353.8 63.2 350.8 54.8 335.8 62.2 333.8 66.8 331.2 76.2 352.2 80.2 366.8 83.2 370.2 102.2 371.2 111.2 373.8 121.8 379.8 137.2 391.8 146.8 388.2 157.8 386.2 184.2 385.2 184.2 383.8 180.8 383.2 176.8 380.2 169.8 366.8 166.8 364.2 175.2 362.2 179.2 359.8 189.2 381.2 193.2 395.8 195.8 398.8 199.2 399.8 213.8 399.8 223.8 402.2 233.8 407.8 249.8 420.2 262.2 416.2 282.8 414.2 286.2 412.8 278.2 401.8 275.2 389.8 275.2 377.2 281.8 369.8 285.8 367.2 292.8 365.8 301.2 366.2 319.8 372.2 323.2 384.2 330.8 394.2 334.2 392.8 326.8 383.8 323.2 375.2 323.8 372.8 335.2 382.2 339.2 384.2 349.8 380.2 370.8 378.2 374.2 376.8 366.2 364.2 363.8 353.8 363.8 341.2 373.8 331.2 378.8 329.8 388.2 329.8 395.8 331.2 407.8 335.8 409.2 337.8 411.2 346.8 418.8 357.8 418.8 352.2 413.8 344.8 410.8 333.2 411.8 315.8 418.8 297.2 418.8 290.2 405.8 274.2 396.2 268.2 391.8 270.2 385.8 275.2 385.8 264.8 383.2 253.2 379.8 246.8 367.8 231.8 363.8 217.8 363.8 205.2 366.8 201.2 375.2 194.8 386.8 193.8 395.2 195.2 407.8 199.8 410.8 209.8 413.8 215.8 418.8 221.8 418.8 216.2 413.2 207.8 410.8 197.2 411.2 182.8 414.8 169.8 418.8 161.8 418.8 154.2 408.8 141.2 402.2 135.8 395.8 132.2 385.8 139.2 385.8 128.8 383.8 118.8 381.2 113.2 374.8 105.2 371.2 106.8 348.8 109.2 339.8 112.8 344.8 113.2 355.8 111.2 365.8 112.8 368.8 115.8 375.2 129.8 381.8 148.8 379.2 158.2 365.2 187.2 362.2 198.8 361.2 197.8 360.2 188.2 357.8 184.2 339.2 179.2 343.8 162.8 344.2 147.2 351.2 147.2 356.8 151.2 370.2 139.2 365.8 136.2 357.2 120.8 351.8 120.2 347.8 121.2 342.8 124.2 339.8 128.2 334.8 121.8 331.8 122.8 338.8 133.8 341.8 144.8 335.8 144.8 330.8 147.2 315.2 162.8 300.8 172.2 297.8 176.2 297.2 166.2 307.8 161.8 313.8 154.2 309.2 146.8 299.2 138.8 292.2 136.2 281.8 136.2 271.2 141.2 286.2 140.8 286.2 141.8 282.2 143.2 263.8 144.8 251.2 148.8 258.2 149.2 264.8 147.8 273.8 147.8 277.8 149.2 281.2 153.8 292.2 181.2 293.2 186.8 291.8 191.8 278.2 219.8 273.8 235.2 271.8 224.8 269.8 220.8 264.8 218.8 254.8 217.2 250.8 215.2 252.8 211.2 257.8 212.8 265.2 212.8 270.2 211.2 265.2 208.2 257.2 192.8 255.8 192.2 256.2 183.2 264.8 184.2 268.2 187.8 276.8 206.8 281.8 201.2 285.8 192.2 286.2 181.2 284.8 176.2 279.8 174.8 276.8 171.8 269.2 157.2 267.8 156.8 258.8 157.8 255.2 159.8 251.2 164.2 246.2 157.8 242.8 159.2 250.8 171.2 253.2 181.2 249.2 180.8 243.2 182.8 225.2 200.2 218.8 204.8 208.8 202.2 218.2 198.8 222.8 194.8 225.2 190.2 222.2 184.8 215.8 178.2 209.2 174.2 202.2 172.2 192.2 172.8 184.2 176.2 174.2 186.8 170.2 195.8 169.2 205.2 174.2 202.2 179.8 201.2 188.8 201.8 197.2 204.2 191.2 208.2 182.2 207.8 171.2 212.2 171.8 216.2 174.2 220.8 172.8 222.8 160.2 223.8 152.8 221.2 161.2 215.2 163.2 210.2 165.2 196.8 168.2 188.2 174.2 177.8 181.8 169.2 188.8 166.2 196.2 165.8 207.2 167.8 222.2 173.2 228.2 171.8 241.8 158.8 241.2 152.8 245.2 148.8 262.8 142.2 267.2 121.2 251.2 125.8 214.8 127.8 196.8 131.2 192.2 133.8 188.2 142.8 181.2 152.8 176.8 156.8 170.8 159.2 156.2 158.8 139.8 152.8 133.2 152.8 128.8 155.2 112.2 171.8 105.8 176.2 97.8 174.2 97.2 173.2 102.2 171.8 107.8 168.2 111.2 164.2 112.2 160.2 103.8 150.2 98.8 147.2 95.2 159.2 94.2 173.2 82.2 176.8 65.2 191.2 55.2 195.2 48.2 195.2 40.8 193.2 40.2 192.2 48.8 186.2 54.2 162.2 64.2 145.2 70.2 139.8 77.8 137.2 91.2 138.2 107.8 144.2 114.2 143.8 119.2 140.2 128.8 130.2 128.2 124.8 132.2 120.2 149.8 113.8 154.8 92.2 147.2 95.2 137.2 97.2 100.2 99.2 79.8 104.2 74.8 115.2 68.2 124.2 63.8 128.2 59.2 130.2 44.2 130.2ZM193.8 347.8L195.8 345.8 204.8 342.2 211.2 342.2 218.8 344.8 213.8 347.2 205.8 348.8ZM293.8 328.8L294.2 330.8 291.8 337.2 286.8 345.8 286.2 344.8ZM80.8 318.8L90.8 313.8 99.2 313.8 106.2 316.2 100.2 318.8 91.8 320.2 85.2 320.2ZM248.2 302.2L251.2 308.2 253.2 317.2 247.8 316.8 241.8 319.8 225.8 335.8 218.8 340.8 210.2 338.2 218.8 334.2 225.2 326.2 222.8 321.2 218.2 316.2 212.2 311.8 203.2 308.2 193.8 308.2 184.8 311.8 178.2 317.2 172.8 325.2 169.8 333.8 169.2 341.2 173.8 338.2 178.2 337.2 186.2 337.2 197.2 340.2 190.8 344.2 178.8 355.2 172.2 358.8 161.2 359.8 153.2 357.2 161.2 351.2 167.8 325.2 175.2 312.2 183.8 303.8 190.8 301.8 197.8 301.8 207.8 303.8 218.8 308.2 225.8 308.8 233.2 303.8 241.8 294.8ZM382.8 290.8L383.2 292.8 381.2 298.8 374.8 310.2 374.2 309.2ZM141.2 276.2L143.2 277.2 142.2 277.8ZM186.2 281.2L182.8 286.8 177.2 292.2 169.8 295.2 157.2 294.8 138.2 288.2 132.8 288.8 126.2 293.2 113.2 306.8 106.2 311.8 96.2 309.2 106.2 305.2 110.8 300.8 112.2 296.2 103.2 285.8 98.8 283.2 94.8 297.8 93.8 309.8 89.8 309.8 82.8 312.2 67.8 325.2 60.2 329.8 49.8 331.2 40.2 328.2 46.8 324.2 49.8 319.8 52.8 302.8 59.2 288.2 69.2 276.2 74.2 273.8 89.2 273.8 106.2 279.8 112.2 280.2 117.2 277.8 129.2 266.2 137.8 277.8 145.2 284.8 152.2 288.8 160.8 291.2 168.8 291.2 173.8 289.8ZM330.2 258.2L337.2 266.8 341.8 280.8 335.2 280.8 331.2 282.8 317.2 296.8 309.2 303.2 301.2 307.8 297.8 312.2 297.2 301.8 304.2 299.8 308.2 297.2 312.8 292.2 313.8 288.8 310.2 283.8 301.2 275.8 290.2 271.8 282.2 272.2 278.8 266.2 291.2 266.2 308.2 272.2 313.2 272.8 319.8 269.2ZM323.2 236.8L339.8 248.8 347.2 248.8 354.2 247.2 365.2 248.2 368.8 251.8 378.2 272.8 381.8 286.2 377.2 298.8 366.8 319.2 362.2 334.8 360.2 324.2 357.2 319.8 342.8 316.8 339.2 314.8 343.8 298.8 344.2 283.2 351.8 283.2 356.8 287.2 370.2 275.2 364.8 270.8 357.8 256.8 348.8 256.8 343.2 259.8 339.8 263.8 327.2 248.8 324.2 242.8ZM275.2 241.8L283.2 232.8 286.2 231.2 300.2 230.2 319.8 236.2 323.2 248.2 314.2 240.8 308.2 237.8 301.8 236.2 296.2 236.2 286.8 239.2 281.8 242.8 275.8 249.8ZM193.8 211.8L199.8 207.8 205.8 206.2 213.2 206.8 218.8 209.2 207.2 212.8 195.8 212.8ZM293.8 192.8L294.2 194.8 292.2 200.2 286.8 209.8 286.2 208.8ZM81.2 183.2L83.8 180.8 91.8 177.8 98.8 177.8 105.8 180.2 100.8 182.8 93.2 184.2 83.8 184.2ZM382.8 154.8L383.2 156.8 381.2 162.8 375.8 172.8 375.2 171.8ZM227.2 98.8L231.8 105.2 241.2 111.2 249.8 112.8 257.2 110.8 252.2 106.8 244.8 92.2 238.2 91.8 234.8 92.8 229.8 95.8ZM355.8 84.8L341.2 89.2 300.8 91.8 287.8 94.2 281.2 96.8 274.8 109.2 275.8 113.2 270.8 124.8 269.8 132.8 278.2 129.8 287.2 129.8 294.8 131.2 309.2 136.8 316.2 135.8 330.2 122.8 329.2 118.2 332.8 113.2 339.2 109.8 350.8 106.8ZM145.2 93.2L143.2 90.8 131.8 88.8 122.8 85.8 107.2 77.2 86.8 83.8 57.2 85.8 64.8 94.8 68.2 103.2 68.8 107.8 76.2 102.8 91.8 98.2 132.2 95.8ZM346.8 85.2L341.8 82.2 326.8 79.2 307.2 69.2 301.8 72.2 287.2 76.2 246.8 78.8 233.8 81.2 227.2 83.8 234.2 84.2 241.2 82.8 248.8 82.8 253.2 84.2 255.8 86.8 264.2 106.2 272.8 97.8 284.2 92.8 299.2 89.8 332.8 88.2ZM242.8 56.2L227.2 60.8 186.8 63.2 168.8 67.8 161.8 80.8 162.8 85.2 158.2 94.8 157.2 104.8 164.8 101.2 175.8 101.2 197.2 108.2 203.2 107.2 217.2 94.2 216.8 88.2 220.2 84.2 227.2 80.8 237.8 78.2ZM234.2 56.8L229.2 53.8 214.2 50.8 195.2 40.8 184.2 45.2 173.8 47.8 145.8 49.2 153.2 58.8 157.2 71.2 166.8 65.8 181.8 61.8 218.2 59.8Z"/><path fill="#6b8e7c" d="M181.2 415.2L185.8 416.2 192.8 410.2 200.8 406.2 213.2 406.2 218.2 407.8 228.2 413.8 234.8 420.2 242.2 430.8 245.8 429.2 230.8 411.2 225.2 407.2 214.8 402.8 209.8 401.8 197.2 402.8 190.2 406.8ZM68.2 386.8L72.8 387.8 80.2 381.2 87.2 377.8 101.2 377.8 114.2 384.2 120.2 389.8 129.8 402.2 133.8 403.2 124.2 389.2 116.2 381.2 102.2 374.2 92.2 372.8 82.8 374.8 77.8 377.8ZM16.8 368.2L16.8 373.8 21.2 374.8ZM130.2 131.2L136.8 140.8 143.8 147.8 155.8 154.2 159.8 155.2 171.2 154.8 177.8 151.8 185.2 145.2 180.8 143.8 175.2 148.2 168.2 151.2 156.8 150.8 146.8 145.8 134.2 132.2ZM139.2 134.2L138.8 136.2 148.2 145.2 157.8 148.8 164.2 148.2 161.8 145.8 159.8 137.8 155.2 128.2 146.8 128.8ZM256.2 122.2L253.8 120.2 236.8 115.8 221.8 107.8 217.8 106.8 204.8 111.2 192.8 113.8 160.8 114.8 150.2 116.2 140.2 119.2 155.2 117.2 167.2 117.8 169.8 120.2 171.8 130.2 176.8 142.2 183.2 134.8 196.8 128.8 213.2 125.8 241.2 124.8ZM16.8 102.2L28.8 117.2 36.2 122.8 45.2 126.2 55.8 126.8 60.8 125.2 66.8 121.8 72.2 116.8 67.8 115.2 62.2 119.8 54.8 122.8 42.8 121.8 32.2 115.8 21.2 103.2ZM27.8 125.8L26.8 144.8 23.2 156.8 16.8 169.8 16.8 176.2 22.2 183.8 31.2 192.2 39.8 196.8 47.8 199.2 49.8 210.2 52.8 216.2 64.8 230.8 68.8 243.2 72.8 232.8 72.2 221.8 64.2 220.8 61.8 218.8 57.8 206.2 53.8 199.8 61.2 198.2 69.2 193.8 70.8 200.8 80.8 228.2 84.2 232.8 89.8 234.2 102.8 234.8 112.8 237.8 120.8 242.2 135.8 253.8 139.8 255.2 158.8 252.8 166.2 253.2 169.8 256.2 171.2 264.2 176.8 278.2 181.2 272.8 184.8 265.2 185.8 260.8 184.8 250.2 176.8 249.2 174.2 246.8 170.8 235.2 167.8 229.2 165.8 228.2 175.8 226.2 181.8 222.2 192.8 254.8 196.8 261.2 201.2 262.8 217.2 263.8 225.2 266.2 251.8 283.8 258.8 283.8 268.2 281.8 280.2 282.2 282.8 285.2 284.8 295.2 293.8 318.8 289.8 332.8 276.2 360.8 273.2 374.2 270.2 360.8 267.2 357.2 250.2 352.2 252.8 346.8 258.8 348.8 264.8 348.2 262.2 345.2 260.2 337.2 255.8 328.2 256.2 317.2 266.8 317.2 269.8 319.2 272.8 331.2 277.2 342.2 282.2 336.2 285.8 328.2 285.8 314.8 278.8 313.8 275.2 311.2 268.2 292.8 258.2 293.8 253.8 296.8 251.2 300.2 237.2 282.2 229.2 274.2 218.8 268.2 208.8 265.8 202.2 265.8 193.2 268.8 179.2 281.2 172.2 285.8 167.2 287.2 157.2 286.8 149.2 283.2 143.8 278.8 144.8 278.2 149.2 281.8 155.8 284.2 164.2 284.2 161.8 281.8 159.8 273.8 155.2 264.2 150.2 263.8 142.8 266.8 138.8 270.8 140.8 274.2 140.2 275.2 123.2 252.2 115.2 244.8 106.2 239.8 96.8 237.2 86.2 237.8 77.2 242.2 66.2 252.8 60.2 256.8 53.8 258.8 47.8 258.8 41.8 257.2 31.8 251.2 24.2 243.2 16.8 232.2 16.8 237.8 23.8 247.8 31.2 255.2 42.2 261.2 49.2 262.8 59.2 261.8 65.8 258.2 76.2 249.8 67.2 264.8 61.2 268.2 47.2 267.8 27.8 261.8 27.8 274.2 26.2 282.8 22.8 293.8 16.8 305.8 16.8 312.2 28.2 325.8 37.8 331.8 47.8 335.2 50.2 347.2 56.8 356.8 66.8 356.8 63.8 356.2 61.2 353.8 54.8 335.8 62.2 333.8 69.2 329.8 70.8 336.8 80.2 362.8 84.2 368.8 100.2 370.2 110.8 372.8 120.2 377.8 138.2 390.8 157.8 386.2 178.8 385.2 176.2 384.8 174.2 382.8 171.2 372.2 166.8 364.2 175.2 362.2 181.8 358.2 193.2 391.8 196.2 396.8 202.2 398.8 215.2 399.2 226.8 402.8 250.8 419.2 264.8 415.8 282.8 414.2 286.2 412.8 278.2 401.8 275.2 389.8 275.8 374.2 279.2 368.8 284.2 364.8 299.2 364.8 319.2 370.8 323.2 384.2 330.8 394.2 334.2 392.8 326.8 383.8 323.2 375.2 323.2 371.8 335.8 381.2 340.2 383.2 354.8 379.2 370.8 378.2 374.2 376.8 366.2 364.2 363.8 353.8 364.2 337.8 372.2 328.8 377.8 327.8 386.2 328.2 395.8 330.2 408.2 334.8 411.2 346.8 418.8 357.8 418.8 352.2 413.8 344.8 410.8 333.2 411.8 315.8 418.8 297.2 418.8 290.2 405.8 274.2 396.2 268.8 388.2 275.2 380.8 301.8 372.8 316.2 370.2 318.2 383.2 289.2 385.8 275.8 385.8 264.8 384.2 256.2 380.8 248.2 369.2 234.2 365.8 227.2 363.8 217.8 363.8 204.8 364.8 201.2 370.8 193.8 374.8 192.2 388.2 192.8 408.2 198.8 410.8 209.8 413.8 215.8 418.8 221.8 418.8 216.2 413.2 207.8 410.8 197.2 411.2 182.8 414.8 169.8 418.8 161.8 418.8 154.2 412.2 145.2 404.2 137.2 396.8 132.8 388.8 138.8 386.8 142.8 384.8 154.2 381.2 164.8 372.2 181.2 369.8 183.2 381.2 159.2 385.8 140.2 385.8 128.8 383.8 118.8 381.2 113.2 374.8 105.2 371.2 106.8 353.8 108.2 341.8 111.8 361.2 109.2 368.8 110.2 371.2 113.2 372.8 121.2 382.2 146.8 379.2 158.2 365.2 187.2 361.8 202.2 359.2 190.2 356.8 185.8 338.8 179.8 341.8 172.2 343.8 162.8 344.2 145.8 348.2 144.8 355.8 145.2 359.2 149.2 367.2 141.8 363.8 139.2 356.8 120.8 351.8 120.2 347.8 121.2 342.8 124.2 339.8 128.2 334.8 121.8 331.2 123.2 338.8 133.8 341.8 146.2 335.8 146.2 330.8 148.8 314.2 164.8 301.2 173.8 298.2 179.2 293.2 199.8 281.8 220.2 281.2 218.8 291.2 199.2 294.8 189.8 297.2 176.2 297.2 166.2 307.8 161.8 311.8 157.8 313.8 153.2 309.2 146.8 303.2 141.2 295.8 137.2 288.2 135.8 279.8 136.8 271.2 141.2 286.2 140.8 286.2 141.8 283.8 142.8 266.8 144.2 253.8 147.8 269.8 145.8 278.2 145.8 280.8 146.8 282.8 149.2 284.2 157.8 293.8 182.8 290.2 195.8 277.2 222.2 273.2 238.2 271.2 228.2 267.8 221.8 250.2 216.2 252.8 211.2 257.8 212.8 265.2 212.8 262.2 209.2 259.8 200.2 255.8 192.2 256.2 181.8 266.2 181.2 269.8 183.2 272.2 193.8 277.2 206.2 281.8 201.2 285.8 192.2 285.8 178.8 280.2 178.2 275.8 176.2 271.8 164.2 267.8 156.8 258.8 157.8 255.2 159.8 251.2 164.2 246.2 157.8 242.8 159.2 250.8 171.2 253.2 182.2 248.2 182.2 242.8 184.8 227.2 199.8 219.8 205.2 208.8 202.2 218.2 198.8 222.8 194.8 225.2 190.2 222.2 184.8 215.8 178.2 209.2 174.2 202.2 172.2 192.2 172.8 184.2 176.2 174.2 186.8 171.2 192.8 169.2 201.8 173.8 199.8 182.8 199.8 198.8 203.8 191.2 208.2 182.2 207.8 171.2 212.2 171.8 216.2 174.2 220.8 172.8 222.8 160.2 223.8 151.8 220.8 159.8 214.8 161.8 210.8 163.8 199.2 167.2 188.8 175.2 173.8 181.8 165.8 186.2 164.2 194.2 164.2 207.2 166.8 221.2 171.8 227.2 170.8 241.2 158.2 241.2 152.8 245.2 148.8 251.2 145.8 260.2 143.2 262.8 137.8 266.2 121.8 251.2 125.8 214.8 127.8 196.8 131.2 193.2 132.8 186.8 147.2 180.8 156.8 176.8 160.2 172.8 161.2 161.2 160.8 150.8 158.2 140.8 154.2 134.8 153.8 128.2 157.2 114.8 170.8 106.8 176.8 97.8 174.2 97.2 173.2 102.2 171.8 107.8 168.2 111.2 164.2 112.2 160.2 103.8 150.2 98.8 147.2 95.2 159.2 94.2 173.2 82.2 176.8 65.2 191.2 55.2 195.2 45.8 194.8 39.2 191.8 47.8 184.8 52.8 164.2 58.2 152.2 65.2 140.8 68.8 137.2 72.2 135.8 83.2 135.8 93.2 137.8 106.8 142.8 110.2 143.2 115.8 141.2 128.8 129.2 128.2 124.8 132.2 120.2 138.2 117.2 147.2 114.8 149.8 109.8 153.8 92.8 137.2 97.2 100.2 99.2 82.2 103.2 80.2 104.8 75.2 116.2 69.2 126.2 65.2 130.8 61.8 132.2 46.8 131.8ZM190.8 349.8L195.8 345.8 204.8 342.2 211.2 342.2 219.8 345.2 216.8 347.2 206.8 349.8ZM78.2 320.8L84.2 316.2 90.8 313.8 99.2 313.8 107.2 316.8 101.8 319.2 92.8 321.2 79.2 321.8ZM248.2 302.2L251.8 309.8 253.2 318.2 247.8 318.2 241.8 321.2 229.2 333.8 219.8 341.2 210.2 338.2 218.8 334.2 225.2 326.2 222.8 321.2 218.2 316.2 212.2 311.8 203.2 308.2 193.8 308.2 184.8 311.8 178.2 317.2 174.2 322.8 171.2 328.8 169.2 337.2 172.8 335.8 183.8 335.8 198.2 339.8 190.8 344.2 178.8 355.2 172.2 358.8 161.2 359.8 152.2 356.8 160.2 349.8 165.2 329.8 168.2 322.2 176.8 307.2 182.2 301.2 185.2 300.2 199.2 300.8 222.8 307.8 230.8 304.2 241.2 293.8ZM141.2 276.2L143.2 277.2 142.2 277.8ZM188.8 278.8L181.8 291.2 176.2 296.2 170.8 297.2 162.2 296.8 151.2 294.2 141.2 290.2 134.2 289.8 128.8 292.8 116.2 305.2 107.2 312.2 96.2 309.2 106.2 305.2 112.2 298.2 112.2 296.2 109.2 291.8 103.2 285.8 98.8 283.2 94.8 297.8 93.8 309.8 89.8 309.8 82.8 312.2 65.8 326.8 57.2 330.8 46.2 330.8 39.2 327.8 47.2 321.2 54.2 296.2 64.8 277.2 67.8 273.8 71.8 271.8 87.2 272.2 107.2 278.8 112.2 278.8 117.8 275.8 128.8 265.2 133.8 272.8 142.8 282.8 152.2 288.8 160.8 291.2 168.8 291.2 173.8 289.8ZM329.8 257.8L337.2 266.8 340.8 275.2 341.8 281.8 335.2 282.2 331.2 284.2 315.2 299.8 300.2 310.8 298.2 314.8 293.2 335.8 281.8 355.8 281.2 354.8 294.2 327.2 297.2 312.2 297.2 301.8 304.2 299.8 308.2 297.2 312.8 292.2 313.8 288.8 310.2 283.8 301.2 275.8 290.2 271.8 282.2 272.2 277.8 264.2 289.2 264.8 307.2 270.8 313.2 271.2 320.2 267.2ZM323.2 235.8L339.8 247.2 345.2 247.8 354.8 245.8 366.2 245.2 369.8 246.8 371.2 248.8 372.8 257.2 378.8 271.8 382.2 284.2 377.2 298.8 365.8 321.8 361.8 337.8 359.2 326.2 356.2 321.2 338.8 315.8 341.8 308.2 343.8 298.8 344.2 281.8 354.2 280.8 356.8 281.8 359.2 285.2 367.8 277.2 363.8 275.2 359.8 262.8 355.8 256.2 350.8 256.2 346.2 257.8 339.8 263.8 327.2 248.8 323.8 241.2ZM275.2 240.8L277.2 235.8 281.8 230.2 287.8 228.2 298.2 228.8 319.8 235.2 323.2 248.2 314.2 240.8 308.2 237.8 296.2 236.2 286.8 239.2 281.8 242.8 275.8 249.8ZM220.2 209.8L204.2 214.2 194.2 214.8 191.2 213.8 196.8 209.2 205.8 206.2 213.2 206.8ZM78.2 185.2L83.8 180.8 91.8 177.8 98.8 177.8 106.8 180.8 105.2 182.2 93.8 185.2ZM227.2 98.8L230.2 103.8 236.2 108.8 244.8 112.2 253.2 112.2 249.8 108.2 247.8 100.2 243.8 92.2 238.2 91.8 234.8 92.8 229.8 95.8ZM354.8 85.2L341.2 89.2 300.8 91.8 282.2 96.2 275.2 110.2 275.2 115.2 272.2 120.2 270.2 129.8 273.2 128.2 285.2 128.2 294.8 130.2 308.2 135.2 316.2 134.2 329.8 121.8 329.8 116.8 332.8 113.2 349.2 106.2ZM143.8 93.8L141.2 91.8 121.8 86.2 106.2 78.2 103.2 78.2 93.2 82.2 82.2 84.8 57.2 85.8 64.8 94.8 68.2 103.2 68.8 107.8 76.2 102.8 91.8 98.2 126.8 96.2ZM344.8 86.2L342.8 84.2 325.8 79.8 307.8 70.8 304.2 70.8 294.2 74.8 283.2 77.2 246.8 78.8 228.8 83.2 246.2 80.8 256.2 81.8 258.8 85.2 259.8 92.2 265.2 105.8 272.8 97.8 281.2 93.8 290.2 91.2 304.8 89.2 332.8 88.2ZM241.8 56.8L223.8 61.2 183.2 63.8 169.2 67.8 162.2 82.2 162.8 85.2 158.8 93.2 157.2 101.2 159.8 99.8 168.8 99.2 180.8 101.2 196.2 106.8 200.2 106.8 204.8 104.8 217.2 92.8 216.8 88.2 220.2 84.2 236.2 77.8 238.2 73.2ZM232.2 57.2L227.8 54.8 213.2 51.2 195.8 42.2 191.2 42.2 184.2 45.2 169.2 48.8 145.8 49.2 153.2 58.8 157.2 71.2 166.8 65.8 181.8 61.8 218.2 59.8Z"/><path fill="#729784" d="M181.2 415.2L185.8 416.2 192.8 410.2 200.8 406.2 213.2 406.2 218.2 407.8 228.2 413.8 234.8 420.2 241.8 430.2 241.8 424.2 235.2 415.8 225.2 407.2 214.8 402.8 209.8 401.8 197.2 402.8 190.2 406.8ZM68.2 386.8L72.8 387.8 80.2 381.2 87.2 377.8 101.2 377.8 114.2 384.2 120.2 389.8 129.8 402.2 133.8 403.2 124.2 389.2 116.2 381.2 102.2 374.2 92.2 372.8 82.8 374.8 77.8 377.8ZM16.8 368.2L16.8 373.8 21.2 374.8ZM256.2 330.8L252.8 346.2 254.2 347.8 256.2 347.8 258.8 343.8 258.8 338.2ZM338.8 317.2L325.2 346.2 322.8 358.8 322.8 369.8 335.8 379.8 342.2 382.2 366.8 377.8 368.8 375.8 364.8 370.2 361.8 361.2 360.8 353.2 361.2 339.2 358.2 327.8 353.8 321.8ZM285.8 316.2L276.8 318.8 274.2 323.2 274.2 330.8 278.2 341.2 282.2 336.2 285.8 328.2ZM267.2 292.8L258.2 293.8 251.2 300.2 254.8 307.8 255.8 315.8 265.8 313.8 270.2 310.2 270.8 302.2ZM287.2 285.2L286.2 294.2 293.8 316.2 293.8 298.2 292.2 292.8ZM341.2 283.8L335.2 283.8 330.8 286.2 317.2 299.2 301.2 312.2 295.2 332.8 285.8 353.8 285.2 357.8 286.8 360.2 319.8 369.8 319.2 361.8 320.8 350.8 324.8 338.2 333.8 320.8 338.8 308.2 341.2 296.2ZM282.8 272.2L293.8 286.2 297.8 301.2 305.2 299.2 312.8 292.2 313.8 288.8 310.2 283.8 302.8 276.8 292.8 272.2ZM397.8 269.2L393.2 272.2 388.2 278.8 383.2 297.8 375.2 314.8 373.8 321.8 377.8 325.2 394.2 328.8 408.2 333.8 407.8 325.2 409.8 312.2 418.8 290.2 410.2 278.8 405.8 274.2ZM27.8 262.8L27.8 274.2 26.2 282.8 22.8 293.8 16.8 305.8 16.8 312.2 22.8 320.2 30.8 327.8 37.8 331.8 47.8 335.2 50.2 347.2 54.8 354.8 57.2 351.8 57.2 345.2 53.8 336.8 54.2 335.2 65.2 332.2 78.8 320.2 86.2 315.2 90.8 313.8 103.2 314.8 107.8 316.8 107.8 318.2 96.2 321.8 80.2 324.2 76.2 325.8 73.2 329.8 73.2 339.8 82.2 363.8 85.2 367.2 89.2 368.8 102.2 369.8 112.8 372.8 121.8 377.8 134.2 387.2 138.2 389.2 142.8 389.8 166.8 384.8 170.2 379.8 170.2 374.8 166.8 363.8 172.2 363.2 178.2 360.8 193.8 347.2 200.8 343.2 204.8 342.2 213.8 342.8 220.2 345.2 220.8 346.8 209.8 350.2 191.8 353.2 186.2 357.8 185.2 362.8 186.2 368.8 196.2 394.2 201.8 397.2 217.2 398.8 225.2 401.2 237.2 408.2 246.8 415.8 252.2 418.2 275.8 414.8 280.2 412.8 275.2 404.2 273.2 397.2 272.2 389.8 272.8 375.8 268.2 360.8 264.8 357.8 250.2 353.2 242.8 368.8 241.8 368.8 241.8 363.2 248.2 350.2 251.8 338.8 253.2 325.8 252.2 319.8 247.8 319.8 243.2 321.8 220.8 341.8 210.2 338.2 218.8 334.2 225.2 326.2 219.8 317.8 212.2 311.8 205.2 308.8 193.8 308.2 188.8 309.8 183.2 312.8 176.2 319.8 172.8 325.8 172.8 330.2 176.2 332.8 190.8 335.8 199.2 339.2 190.8 344.2 180.8 353.8 174.8 357.8 168.2 359.8 158.8 359.2 150.8 355.8 155.2 352.8 160.2 346.2 165.2 327.2 174.2 307.8 174.2 302.2 170.8 299.8 154.2 296.2 140.2 291.2 134.2 291.2 128.2 294.8 113.8 308.8 107.2 312.8 96.2 309.2 106.2 305.2 112.2 298.2 112.2 296.2 109.2 291.8 103.2 285.8 98.8 283.2 94.8 297.8 93.8 309.8 89.8 309.8 82.8 312.2 67.8 325.2 60.2 329.8 53.8 331.2 44.2 330.2 37.8 327.2 45.8 320.8 47.8 316.8 50.8 303.8 60.8 280.8 61.8 274.2 58.2 271.2 43.8 268.2ZM355.2 256.2L346.2 257.8 339.8 263.8 343.2 271.8 344.2 279.8 354.8 277.2 359.2 272.8 359.2 265.8ZM185.2 251.8L176.8 254.2 173.8 258.2 173.2 264.8 177.2 277.2 181.2 272.8 184.8 265.2 185.8 260.8ZM376.2 248.8L374.8 252.2 374.8 258.2 382.2 279.8 382.2 261.8 379.8 254.2ZM275.8 249.8L276.2 257.2 277.8 261.2 292.2 264.2 308.2 269.8 313.2 269.8 318.2 267.2 328.8 257.2 322.8 248.8 316.2 242.2 308.2 237.8 301.8 236.2 296.2 236.2 286.8 239.2 281.8 242.8ZM16.8 232.2L16.8 237.8 23.8 247.8 31.2 255.2 42.2 261.2 49.2 262.8 59.2 261.8 67.8 256.8 77.8 247.8 71.8 263.2 72.2 266.2 75.8 268.8 92.2 272.2 106.2 277.2 112.2 277.2 118.2 273.8 128.2 264.8 137.8 277.8 142.8 282.8 152.2 288.8 160.8 291.2 168.8 291.2 173.8 289.8 180.2 285.8 190.8 276.2 184.8 291.2 184.8 294.2 186.2 296.2 204.8 300.8 221.2 306.2 227.8 304.8 240.8 293.2 241.8 294.2 241.8 288.8 233.8 278.2 225.8 271.8 215.8 267.2 208.8 265.8 202.2 265.8 196.2 267.2 189.8 271.2 174.2 284.8 167.2 287.2 159.8 287.2 149.2 283.2 143.8 278.8 144.8 278.2 149.2 281.8 154.2 283.8 157.2 281.8 158.2 275.2 153.8 263.8 146.2 264.8 140.8 268.2 138.8 270.8 140.8 274.2 140.2 275.2 123.2 252.2 115.2 244.8 106.2 239.8 96.8 237.2 86.2 237.8 77.2 242.2 66.2 252.8 60.2 256.8 53.8 258.8 47.8 258.8 41.8 257.2 31.8 251.2 24.2 243.2ZM141.2 276.2L143.2 277.2 142.2 277.8ZM72.2 223.2L65.2 224.8 62.2 227.2 66.8 234.8 68.8 243.2 72.8 232.8ZM256.2 195.2L252.8 210.8 255.2 212.2 258.8 207.8 258.8 202.8ZM338.8 181.2L325.8 208.8 322.8 222.8 322.8 233.8 333.2 242.2 341.2 246.2 349.8 245.8 367.2 241.8 368.8 240.2 364.2 233.2 361.8 225.2 360.8 217.2 361.2 203.8 358.2 191.8 354.2 186.2ZM285.8 180.2L277.8 182.2 274.2 187.2 274.2 194.8 278.2 205.8 283.2 198.8 285.8 192.2ZM267.2 156.8L258.8 157.8 255.2 159.8 251.2 164.2 254.2 170.2 255.8 180.2 266.2 177.8 270.2 174.2 270.8 166.2ZM287.8 149.2L286.2 152.2 286.2 158.2 293.8 180.2 293.8 162.2 291.8 155.8ZM341.2 147.8L335.8 147.8 330.2 150.8 315.8 164.8 301.8 175.8 298.8 182.2 294.8 198.2 285.8 218.2 285.2 221.8 287.2 224.8 319.8 233.8 319.2 225.8 320.8 214.8 325.2 201.2 334.8 182.8 339.2 170.8 341.2 160.8ZM271.2 141.2L286.2 140.8 290.8 145.8 295.2 153.8 297.8 165.8 307.8 161.8 313.8 154.2 312.8 151.2 305.8 143.2 294.2 136.8 288.2 135.8 281.8 136.2ZM397.8 133.2L392.2 137.2 388.8 141.8 382.8 163.2 375.8 177.8 373.8 185.8 377.2 189.2 393.8 192.8 408.2 197.8 407.8 189.8 409.2 178.8 412.8 167.2 418.8 154.2 408.8 141.2ZM130.2 131.2L136.8 140.8 143.8 147.8 155.8 154.2 159.8 155.2 171.2 154.8 177.8 151.8 185.2 145.2 180.8 143.8 175.2 148.2 168.2 151.2 156.8 150.8 146.8 145.8 134.2 132.2ZM142.2 131.2L138.8 135.2 140.2 138.2 148.2 145.2 155.8 147.8 157.8 144.8 158.2 139.2 154.2 128.2 148.2 128.2ZM27.8 127.2L27.8 138.2 25.8 149.2 21.8 160.2 16.8 169.8 16.8 176.2 22.2 183.8 31.2 192.2 39.8 196.8 47.8 199.2 49.8 210.2 55.2 219.2 57.2 215.8 57.2 209.2 53.8 199.2 61.2 198.2 66.2 195.8 80.8 182.8 87.8 178.8 98.8 177.8 108.2 181.2 108.2 182.2 94.8 186.2 79.2 188.8 75.8 190.2 73.2 193.8 73.2 203.8 82.8 228.8 88.8 232.8 101.2 233.8 111.2 236.2 119.2 240.2 134.8 251.8 139.2 253.8 145.8 253.8 164.8 249.8 168.8 247.2 170.2 244.2 170.2 238.8 166.2 227.8 170.8 227.8 177.8 225.2 193.2 211.8 199.8 207.8 205.8 206.2 215.2 207.2 220.8 209.8 220.8 210.8 208.2 214.8 190.8 217.8 187.2 220.2 185.8 223.2 185.2 227.2 186.8 234.8 195.8 257.8 201.2 261.2 216.2 262.8 227.2 266.2 247.2 280.2 251.8 282.2 259.8 282.2 276.2 278.8 280.8 276.8 277.8 273.2 273.8 263.8 272.2 253.8 272.8 239.8 267.8 224.2 263.2 221.2 250.2 217.8 242.8 233.2 241.8 233.2 241.8 227.2 247.2 216.8 251.8 202.8 253.2 189.8 252.8 184.2 248.2 183.8 242.8 186.2 225.8 202.2 220.2 205.8 208.8 202.2 218.2 198.8 222.8 194.8 225.2 189.2 222.2 184.8 215.8 178.2 209.2 174.2 202.2 172.2 194.8 172.2 189.2 173.8 182.8 177.2 176.8 183.2 172.8 189.8 172.8 194.2 175.8 196.8 190.2 199.8 199.8 203.2 191.2 208.2 182.2 207.8 171.2 212.2 171.8 216.2 174.2 220.8 172.8 222.8 168.8 223.8 157.8 223.2 150.8 220.2 158.8 213.2 160.2 210.2 165.8 190.2 174.2 171.8 174.8 167.2 172.8 164.8 153.8 160.2 143.2 156.2 134.8 155.2 127.8 159.2 116.8 170.2 107.8 177.2 102.2 174.8 97.8 174.2 97.2 173.2 102.2 171.8 107.8 168.2 111.2 164.2 112.2 160.2 103.8 150.2 98.8 147.2 95.2 159.2 93.8 173.8 88.2 174.2 82.2 176.8 67.2 189.8 60.8 193.8 55.2 195.2 43.8 194.2 38.2 191.2 47.2 182.2 50.8 167.8 60.2 146.2 61.8 138.2 59.2 135.8 43.2 132.2ZM265.2 122.2L251.2 125.8 214.8 127.8 196.8 131.2 193.8 133.8 185.8 151.8 184.8 158.2 189.2 161.8 202.2 164.2 220.2 170.2 225.8 169.8 233.2 164.8 241.2 156.8 241.2 152.8 245.2 148.8 255.8 144.8 259.2 141.8 261.8 136.2ZM354.8 120.2L347.8 121.2 342.8 124.2 340.2 127.2 343.8 137.8 344.2 143.8 355.2 141.2 359.2 136.8 359.2 129.8ZM376.2 112.8L374.8 116.2 374.8 122.2 382.2 143.8 382.8 128.8 380.8 120.8ZM254.2 122.8L250.8 120.8 237.8 117.2 221.8 109.2 215.2 108.2 198.8 113.8 177.8 117.8 173.8 122.2 173.2 128.8 177.8 141.2 184.8 133.8 190.8 130.8 202.8 127.2 220.8 125.2 241.2 124.8ZM16.8 102.2L28.8 117.2 36.2 122.8 45.2 126.2 55.8 126.8 60.8 125.2 66.8 121.8 72.2 116.8 67.8 115.2 62.2 119.8 54.8 122.8 42.8 121.8 32.2 115.8 21.2 103.2ZM152.8 93.2L137.2 97.2 100.2 99.2 82.2 103.2 73.2 122.2 71.8 129.2 72.8 131.2 77.2 133.2 91.8 136.2 105.8 141.2 112.8 141.2 120.2 136.2 128.2 128.2 128.2 124.8 132.2 120.2 143.8 115.8 146.2 113.2 148.8 108.2ZM229.8 95.8L227.2 99.8 230.2 103.8 236.2 108.8 243.8 111.8 245.8 109.8 246.8 103.2 242.8 91.8 236.2 92.2ZM353.8 85.8L337.8 89.8 300.8 91.8 283.2 95.8 273.8 117.2 273.2 122.2 275.8 124.8 291.8 128.2 307.8 133.8 313.8 133.8 320.2 129.8 329.8 120.2 329.8 116.8 332.8 113.2 347.2 106.2 349.8 101.8ZM141.8 94.2L121.8 87.2 106.2 79.8 101.8 79.8 85.2 85.2 67.2 88.2 62.2 91.2 67.2 100.2 68.8 107.8 76.2 102.8 91.8 98.2 126.8 96.2ZM342.2 86.2L323.2 79.8 309.8 72.8 302.8 72.2 286.2 77.8 266.8 81.2 262.2 86.2 261.8 92.8 265.8 105.2 272.8 97.8 281.2 93.8 290.2 91.2 304.8 89.2 332.8 88.2ZM241.2 56.8L227.2 60.8 191.2 62.8 171.2 66.8 162.8 83.8 160.2 93.2 163.2 96.2 181.2 100.2 193.2 104.8 201.8 104.8 207.2 101.2 216.8 91.8 216.8 88.2 220.2 84.2 231.8 79.8 234.2 77.8 236.8 73.2ZM229.8 57.8L213.2 52.2 193.2 43.2 172.8 49.2 156.8 51.8 150.8 55.2 155.2 62.8 157.2 71.2 166.8 65.8 181.8 61.8 218.2 59.8Z"/><path fill="#78a08c" d="M181.2 415.2L185.8 416.2 192.8 410.2 200.8 406.2 213.2 406.2 218.2 407.8 228.2 413.8 234.8 420.2 241.8 430.2 241.8 424.2 235.2 415.8 225.2 407.2 214.8 402.8 209.8 401.8 197.2 402.8 190.2 406.8ZM68.2 386.8L72.8 387.8 80.2 381.2 87.2 377.8 101.2 377.8 114.2 384.2 120.2 389.8 129.8 402.2 133.8 403.2 124.2 389.2 116.2 381.2 102.2 374.2 92.2 372.8 82.8 374.8 77.8 377.8ZM16.8 368.2L16.8 373.8 21.2 374.8ZM255.8 332.8L253.2 345.8 255.8 342.8 256.8 338.8ZM338.2 318.2L325.2 346.2 322.8 358.8 322.8 368.8 334.8 377.8 341.8 380.8 349.2 380.2 361.8 376.8 366.8 373.2 361.8 361.2 360.8 353.2 361.2 342.2 357.2 329.2 352.8 323.2ZM286.2 318.2L280.8 320.2 276.8 325.2 276.2 332.2 278.8 340.8 284.8 331.2 286.2 325.8ZM266.2 292.8L258.2 293.8 253.8 296.8 251.2 300.2 254.8 307.8 255.8 314.2 264.8 310.8 268.2 306.2 268.8 300.8ZM289.8 288.2L288.2 295.8 294.2 313.8 293.8 298.2ZM341.2 285.2L335.8 285.2 330.2 288.2 302.2 313.8 288.8 351.8 289.2 356.2 292.8 359.8 319.2 368.2 319.8 356.2 321.8 346.8 326.8 333.8 336.2 315.2 339.8 304.8 341.2 296.2ZM282.8 272.2L293.8 286.2 297.8 301.2 305.2 299.2 312.8 292.2 313.8 288.8 310.2 283.8 302.8 276.8 292.8 272.2ZM398.8 269.8L391.2 276.8 388.8 281.8 384.2 297.8 377.8 313.2 377.2 318.8 381.8 323.8 407.8 332.2 409.8 312.2 418.8 290.2 410.2 278.8 405.8 274.2ZM27.8 264.2L27.8 274.2 26.2 282.8 22.8 293.8 16.8 305.8 16.8 312.2 22.8 320.2 30.8 327.8 37.8 331.8 47.8 335.2 48.8 342.8 52.8 351.8 55.2 347.8 52.8 335.2 58.8 334.8 65.2 332.2 78.8 320.2 86.2 315.2 90.8 313.8 103.2 314.8 108.8 317.2 109.2 318.8 83.8 325.8 78.8 328.2 75.8 331.8 74.8 334.8 75.2 341.8 82.2 360.8 88.2 366.8 104.8 369.2 112.8 371.8 121.2 376.2 135.8 386.8 139.8 388.2 145.8 388.2 160.8 384.2 166.8 379.8 168.2 374.2 165.8 363.8 172.2 363.2 178.2 360.8 193.8 347.2 200.8 343.2 204.8 342.2 213.8 342.8 222.2 346.8 221.2 347.8 195.8 354.8 191.8 356.8 187.8 362.8 188.2 370.8 193.8 386.2 197.2 392.8 201.8 395.8 214.2 397.2 225.2 400.2 252.2 416.8 259.2 416.8 269.8 414.2 278.2 409.8 273.2 397.2 272.2 389.8 272.8 378.8 268.8 365.8 266.2 361.2 261.8 358.2 249.8 354.2 242.8 368.8 241.8 368.8 241.8 363.2 248.2 350.2 251.8 338.8 253.2 325.8 252.8 321.2 248.2 321.2 242.8 323.8 221.8 342.2 210.2 338.2 218.8 334.2 225.2 326.2 222.8 321.2 218.2 316.2 212.2 311.8 203.2 308.2 193.8 308.2 188.8 309.8 183.2 312.8 178.2 317.2 176.2 321.8 176.2 327.2 181.2 331.8 200.8 337.8 201.2 338.8 192.8 342.8 180.8 353.8 174.8 357.8 168.2 359.8 156.8 358.8 149.8 355.2 158.8 345.8 163.8 328.8 169.8 314.8 171.2 306.2 167.8 301.8 142.8 293.2 134.8 292.8 127.8 296.8 109.2 313.8 96.2 309.2 106.2 305.2 112.2 298.2 112.2 296.2 109.2 291.8 103.2 285.8 98.8 283.2 94.8 297.8 93.8 309.8 89.8 309.8 82.8 312.2 67.8 325.2 60.2 329.8 53.8 331.2 44.2 330.2 36.8 326.8 44.2 319.8 46.2 316.2 51.8 297.8 57.8 283.8 58.2 277.2 54.2 272.8ZM354.2 256.2L346.2 257.8 339.8 263.8 343.2 271.8 344.2 277.8 352.8 274.8 356.8 270.2 357.2 264.8ZM185.8 253.8L179.8 256.2 175.8 261.8 175.8 269.2 178.2 276.8 184.8 265.2ZM378.2 251.8L376.8 259.8 382.8 277.8 382.2 261.8ZM276.8 250.8L276.8 255.2 279.8 258.8 307.8 268.2 312.8 268.2 317.2 266.2 328.2 256.2 316.2 242.2 308.2 237.8 301.8 236.2 296.2 236.2 286.8 239.2 278.8 245.8ZM16.8 232.2L16.8 237.8 23.8 247.8 31.2 255.2 42.2 261.2 49.2 262.8 59.2 261.8 67.8 256.8 79.2 246.2 79.8 247.2 75.2 258.8 75.8 263.8 79.8 267.2 103.8 275.2 113.2 275.2 127.8 263.8 133.8 272.8 142.8 282.8 148.2 286.8 156.2 290.2 168.8 291.2 173.8 289.8 180.2 285.8 192.2 274.8 192.8 275.8 188.2 286.8 188.2 291.2 190.8 294.8 194.8 296.8 216.2 303.8 222.8 304.8 229.8 301.8 240.2 292.2 241.8 294.2 241.8 288.8 233.8 278.2 225.8 271.8 215.8 267.2 208.8 265.8 202.2 265.8 196.2 267.2 189.8 271.2 174.2 284.8 167.2 287.2 159.8 287.2 149.2 283.2 143.8 278.8 144.8 278.2 150.2 282.2 151.8 282.2 154.8 279.2 155.8 271.2 153.2 263.8 146.2 264.8 140.8 268.2 138.8 270.8 140.8 274.2 140.2 275.2 123.2 252.2 115.2 244.8 106.2 239.8 96.8 237.2 86.2 237.8 77.2 242.2 66.2 252.8 60.2 256.8 53.8 258.8 47.8 258.8 41.8 257.2 31.8 251.2 24.2 243.2ZM141.2 276.2L143.2 277.2 142.2 277.8ZM72.8 225.2L66.8 227.8 64.2 230.2 66.8 234.8 68.8 243.2 72.2 235.2ZM255.8 197.2L253.2 209.8 256.2 205.8ZM338.2 182.2L325.8 208.8 322.8 222.8 322.8 233.2 335.2 242.2 341.2 244.8 347.2 244.8 362.2 240.8 366.8 237.2 364.2 233.2 361.8 225.2 360.8 217.2 361.2 206.8 356.8 192.2 353.2 187.8ZM286.2 182.2L280.2 184.8 276.8 189.2 276.2 196.8 278.8 204.8 284.2 196.8 286.2 189.8ZM265.8 156.8L261.8 156.8 256.8 158.8 251.2 164.2 254.2 170.2 255.8 178.2 264.2 175.2 268.2 170.8 268.8 164.8ZM289.8 152.2L288.2 159.8 294.2 178.2 293.8 162.2ZM341.2 149.2L336.2 149.2 331.2 151.8 302.8 177.2 289.2 213.8 288.8 219.2 291.8 223.2 319.2 232.2 319.8 220.8 321.8 210.8 339.2 170.8 341.2 160.8ZM271.2 141.2L286.2 140.8 290.8 145.8 295.2 153.8 297.8 165.8 307.8 161.8 313.8 154.2 312.8 151.2 305.8 143.2 294.2 136.8 288.2 135.8 281.8 136.2ZM398.8 134.2L391.8 140.2 389.2 144.8 383.8 163.2 377.8 177.8 377.2 182.8 379.2 186.2 383.8 188.8 407.8 196.2 408.2 184.2 410.2 174.8 418.8 154.2 408.8 141.2 402.2 135.8ZM130.2 131.2L136.8 140.8 143.8 147.8 155.8 154.2 159.8 155.2 171.2 154.8 177.8 151.8 185.2 145.2 180.8 143.8 175.2 148.2 168.2 151.2 156.8 150.8 146.8 145.8 134.2 132.2ZM148.2 128.2L142.2 131.2 138.8 136.2 144.8 142.8 151.2 146.8 155.2 142.2 155.8 135.8 153.2 128.2ZM27.8 128.2L27.8 138.2 25.8 149.2 21.8 160.2 16.8 169.8 16.8 176.2 22.2 183.8 31.2 192.2 39.8 196.8 47.8 199.2 48.8 207.2 52.8 216.2 55.2 211.8 52.8 199.2 57.2 199.2 63.8 197.2 70.2 192.8 80.8 182.8 87.8 178.8 98.8 177.8 104.2 179.2 109.2 181.8 108.8 183.2 82.8 190.2 78.2 192.8 75.2 197.2 75.2 205.8 82.8 225.8 87.8 230.8 106.2 233.8 114.8 236.8 137.8 251.8 146.2 252.2 159.8 248.8 166.2 244.8 168.2 238.2 165.8 227.8 170.8 227.8 177.8 225.2 193.2 211.8 199.8 207.8 205.8 206.2 215.2 207.2 221.8 210.2 221.8 211.8 194.8 219.2 191.2 221.2 188.2 225.2 187.8 232.8 196.8 256.2 203.2 260.2 216.2 261.8 227.2 265.2 251.8 280.8 256.8 281.2 264.8 279.8 274.2 276.8 278.2 274.2 273.8 263.8 272.2 253.8 272.8 242.8 267.2 226.8 260.2 221.8 249.8 218.8 242.8 233.2 241.8 233.2 241.8 227.2 247.2 216.8 251.8 202.8 253.2 189.8 252.2 185.2 246.8 185.8 242.2 188.2 226.2 203.2 221.2 206.2 216.2 203.8 208.8 202.2 218.2 198.8 222.8 194.8 225.2 189.2 222.2 184.8 215.8 178.2 209.2 174.2 202.2 172.2 194.8 172.2 189.2 173.8 182.8 177.2 177.2 182.8 175.8 188.8 177.8 193.8 182.2 196.2 201.8 202.8 195.2 205.2 191.2 208.2 182.2 207.8 171.2 212.2 171.8 216.2 174.2 220.8 172.8 222.8 168.8 223.8 157.8 223.2 149.8 219.2 157.8 211.8 164.8 190.2 169.2 180.2 171.2 170.2 168.2 166.2 142.2 157.2 135.2 156.8 129.2 159.8 108.8 177.8 97.2 173.8 107.8 168.2 112.2 162.2 112.2 160.2 108.2 154.8 98.8 147.2 95.2 159.2 93.8 173.8 88.2 174.2 82.2 176.8 67.2 189.8 60.8 193.8 55.2 195.2 43.8 194.2 36.8 190.8 43.8 184.8 46.8 179.2 51.2 163.2 57.8 147.8 58.2 141.2 56.2 138.2 52.8 136.2ZM264.2 122.2L251.2 125.8 214.8 127.8 196.8 131.2 195.2 132.2 189.8 146.2 188.2 155.8 191.2 159.2 217.2 168.2 225.8 168.2 234.8 161.8 240.8 155.8 241.2 152.8 245.2 148.8 253.2 145.2 256.8 142.2 260.2 136.2ZM354.2 120.2L347.8 121.2 342.8 124.2 340.2 127.2 344.2 142.2 352.2 139.2 356.8 134.2 357.2 128.8ZM378.2 115.8L376.8 123.8 382.8 141.8 382.8 128.8ZM251.8 123.2L233.8 116.8 223.2 111.2 214.8 109.8 180.8 119.8 176.8 123.8 175.2 129.8 178.2 140.8 184.8 133.8 190.8 130.8 202.8 127.2ZM16.8 102.2L28.8 117.2 36.2 122.8 45.2 126.2 55.8 126.8 60.8 125.2 66.8 121.8 72.2 116.8 67.8 115.2 62.2 119.8 54.8 122.8 42.8 121.8 32.2 115.8 21.2 103.2ZM151.2 93.8L137.2 97.2 100.2 99.2 83.8 102.8 82.2 104.2 75.8 120.8 75.8 127.8 78.8 130.8 105.2 139.8 112.2 139.8 121.8 133.2 128.2 126.8 128.8 123.8 132.2 120.2 140.2 116.8 143.8 113.8 147.2 107.8ZM241.8 91.8L234.8 92.8 229.8 95.8 227.2 98.8 231.8 105.2 239.2 110.2 242.8 107.8 244.2 104.8 244.2 99.2ZM352.8 86.2L337.8 89.8 300.8 91.8 284.8 95.2 277.8 111.2 276.8 119.2 278.8 122.2 282.2 124.2 306.8 132.2 314.8 131.8 320.8 127.8 329.2 119.2 330.2 115.8 332.8 113.2 341.8 109.2 346.2 104.8ZM139.2 94.8L121.2 88.2 106.2 81.2 101.2 81.2 74.2 88.8 67.8 91.2 64.8 93.8 68.2 103.2 68.8 107.8 76.2 102.8 91.8 98.2ZM339.8 86.8L325.2 81.8 309.8 74.2 301.8 73.8 269.8 83.2 264.8 88.2 263.8 93.2 266.8 104.2 272.8 97.8 281.2 93.8 290.2 91.2 304.8 89.2 332.8 88.2ZM239.8 57.8L223.8 61.2 186.8 63.2 171.2 66.8 164.2 84.8 163.8 90.2 166.8 94.2 194.8 103.8 201.2 103.2 208.2 98.8 216.8 90.8 217.2 87.2 220.2 84.2 229.2 80.2 233.2 76.2 235.8 71.8ZM227.2 58.2L193.2 44.8 161.8 52.8 155.8 55.2 152.8 58.2 155.2 62.8 157.2 71.2 166.8 65.8 181.8 61.8 218.2 59.8Z"/><path fill="#7fa894" d="M181.2 415.2L185.8 416.2 192.8 410.2 200.8 406.2 213.2 406.2 218.2 407.8 228.2 413.8 234.8 420.2 241.8 430.2 241.8 424.2 235.2 415.8 225.2 407.2 214.8 402.8 209.8 401.8 197.2 402.8 190.2 406.8ZM68.2 386.8L72.8 387.8 80.2 381.2 87.2 377.8 101.2 377.8 114.2 384.2 120.2 389.8 129.8 402.2 133.8 403.2 124.2 389.2 116.2 381.2 102.2 374.2 92.2 372.8 82.8 374.8 77.8 377.8ZM16.8 368.2L16.8 373.8 21.2 374.8ZM286.2 320.2L281.8 322.8 278.2 328.2 278.2 334.2 279.8 339.8 284.8 331.2ZM337.8 319.2L325.2 346.2 322.8 358.8 322.8 367.8 338.8 378.2 342.2 379.2 349.2 378.8 358.8 375.8 365.2 371.2 361.2 358.2 360.8 343.8 353.8 326.8 346.8 322.2ZM264.8 292.8L257.2 294.2 251.2 300.2 253.8 304.8 255.2 312.2 261.8 309.8 266.2 304.2 266.8 299.2ZM291.2 290.8L290.2 297.8 294.2 310.8 294.2 301.2ZM341.2 286.8L336.2 286.8 331.2 289.2 303.8 314.8 291.8 347.2 291.8 354.2 295.2 358.2 311.2 364.8 319.2 366.8 319.8 356.2 321.8 346.8 326.8 333.8 336.2 315.2 339.8 304.8 341.2 296.2ZM282.8 272.2L293.8 286.2 297.8 301.2 305.2 299.2 312.8 292.2 313.8 288.8 310.2 283.8 302.8 276.8 292.8 272.2ZM399.8 270.8L394.8 275.2 390.2 282.2 380.8 309.2 379.8 315.8 381.8 320.2 384.2 322.2 407.8 330.8 409.8 312.2 418.8 290.2 410.2 278.8 405.8 274.2ZM27.8 265.8L26.2 282.8 22.8 293.8 16.8 305.8 16.8 312.2 22.8 320.2 30.8 327.8 37.8 331.8 47.8 335.2 48.2 340.8 51.2 349.2 53.2 345.8 51.8 335.2 58.8 334.8 65.2 332.2 81.2 318.2 88.8 314.2 99.2 313.8 108.8 317.2 110.8 319.8 85.8 327.2 81.2 329.8 77.2 334.8 77.2 343.8 83.8 360.2 87.2 364.2 90.2 365.8 111.8 370.2 119.2 373.8 138.2 386.2 145.8 386.8 157.8 383.2 163.8 379.2 166.2 372.8 164.8 363.8 172.2 363.2 178.2 360.8 193.8 347.2 200.8 343.2 204.8 342.2 213.8 342.8 221.2 345.8 223.8 348.2 197.8 356.2 191.2 361.2 189.8 364.8 189.8 370.8 191.2 376.2 198.2 391.2 204.2 394.8 217.2 396.8 226.8 399.8 252.2 415.2 263.8 414.2 269.8 412.2 276.8 407.8 272.8 394.2 272.2 380.2 265.8 363.8 262.8 360.8 249.2 355.2 242.8 368.8 241.8 368.8 241.8 363.2 248.2 350.2 251.8 338.8 252.8 322.8 246.8 323.2 241.8 326.2 223.2 343.2 219.2 340.8 210.2 338.2 218.8 334.2 225.2 326.2 222.8 321.2 218.2 316.2 212.2 311.8 203.2 308.2 193.8 308.2 188.8 309.8 179.8 315.8 178.8 319.2 179.2 326.2 182.8 329.8 187.8 332.2 203.2 337.2 203.8 338.2 199.2 339.2 192.8 342.8 180.8 353.8 174.8 357.8 168.2 359.8 156.8 358.8 148.2 354.8 156.8 345.8 166.2 320.2 168.8 308.8 165.8 303.8 143.2 294.8 135.2 294.2 128.8 297.8 109.8 314.2 104.2 311.2 96.2 309.2 106.2 305.2 112.2 298.2 112.2 296.2 109.2 291.8 103.2 285.8 98.8 283.2 94.8 297.8 93.8 309.8 89.8 309.8 82.8 312.2 67.8 325.2 60.2 329.8 53.8 331.2 44.2 330.2 36.8 327.2 35.8 325.8 41.2 320.8 45.8 313.2 54.8 287.8 55.8 279.8 51.8 274.2 42.8 270.2ZM353.2 256.2L346.2 257.8 339.8 263.8 344.2 276.2 351.2 272.8 354.8 268.2 355.2 262.8ZM185.8 255.8L182.2 257.8 178.2 262.2 177.2 267.8 179.2 275.2 184.2 266.8ZM379.8 254.8L378.8 261.8 382.8 274.2 382.8 264.8ZM279.2 248.2L279.8 254.2 283.8 258.2 307.2 266.8 312.2 266.8 316.8 264.8 327.2 255.8 322.8 248.8 316.2 242.2 308.2 237.8 301.8 236.2 296.2 236.2 286.8 239.2 280.8 243.8ZM16.8 232.2L16.8 237.8 23.8 247.8 31.2 255.2 42.2 261.2 49.2 262.8 59.2 261.8 67.8 256.8 80.8 245.2 81.2 246.8 78.2 254.2 77.8 259.2 79.2 263.2 82.2 265.8 103.2 273.8 111.2 274.2 117.8 270.8 126.8 262.2 133.8 272.8 142.8 282.8 148.2 286.8 156.2 290.2 168.8 291.2 173.8 289.8 180.2 285.8 193.8 273.8 190.8 284.8 190.8 288.8 194.2 293.8 198.8 296.2 215.8 302.2 222.2 303.2 230.2 299.8 239.2 291.2 241.8 294.2 241.8 288.8 233.8 278.2 225.8 271.8 215.8 267.2 208.8 265.8 202.2 265.8 196.2 267.2 189.8 271.2 174.2 284.8 167.2 287.2 159.8 287.2 149.2 283.2 143.8 278.8 144.8 278.2 149.2 280.8 152.8 277.2 153.8 269.8 151.8 263.8 146.2 264.8 140.8 268.2 138.8 270.8 140.8 274.2 140.2 275.2 123.2 252.2 115.2 244.8 106.2 239.8 96.8 237.2 86.2 237.8 77.2 242.2 66.2 252.8 60.2 256.8 53.8 258.8 47.8 258.8 41.8 257.2 31.8 251.2 24.2 243.2ZM141.2 276.2L143.2 277.2 142.2 277.8ZM72.8 227.2L69.2 229.2 65.8 233.2 68.8 243.2 72.2 235.2ZM286.2 184.2L283.2 185.8 278.8 191.2 278.2 198.8 279.8 203.8 284.2 196.8 286.2 189.8ZM337.8 183.2L325.8 208.8 323.2 218.8 322.8 231.8 338.2 242.2 347.2 243.2 359.2 239.8 365.2 234.8 361.8 225.2 360.8 208.2 354.8 192.2 349.8 187.8ZM264.8 156.8L256.8 158.8 251.2 164.2 254.2 170.2 255.2 176.2 262.8 173.2 266.2 168.8 266.8 163.2ZM291.2 154.8L290.2 162.2 294.2 174.8 294.2 165.2ZM341.2 150.8L336.8 150.8 330.8 153.8 308.2 173.8 303.2 179.8 291.2 214.2 292.2 219.2 296.8 223.2 319.2 231.2 319.8 220.8 321.8 210.8 339.2 170.8 341.2 160.8ZM271.2 141.2L286.2 140.8 290.8 145.8 295.2 153.8 297.8 165.8 307.8 161.8 313.8 154.2 312.8 151.2 305.8 143.2 294.2 136.8 288.2 135.8 281.8 136.2ZM400.2 134.8L393.2 141.2 389.8 147.8 381.2 171.8 379.8 179.8 381.2 183.8 384.8 186.8 407.8 194.8 408.2 184.2 410.2 174.8 418.8 154.2 408.8 141.2ZM130.2 131.2L136.8 140.8 143.8 147.8 155.8 154.2 159.8 155.2 171.2 154.8 177.8 151.8 185.2 145.2 180.8 143.8 175.2 148.2 168.2 151.2 156.8 150.8 146.8 145.8 134.2 132.2ZM27.8 129.8L27.8 138.2 25.8 149.2 21.8 160.2 16.8 169.8 16.8 176.2 22.2 183.8 31.2 192.2 39.8 196.8 47.8 199.2 48.8 207.2 51.2 213.2 53.2 209.8 51.8 199.2 57.2 199.2 63.8 197.2 70.2 192.8 80.8 182.8 87.8 178.8 98.8 177.8 104.2 179.2 110.8 182.8 110.8 183.8 83.8 192.2 78.8 196.2 77.2 199.2 77.2 207.8 84.2 225.2 89.8 229.8 112.8 234.8 122.2 239.8 136.8 249.8 146.2 250.8 156.8 247.8 164.2 242.8 165.8 239.8 164.8 227.8 170.8 227.8 177.8 225.2 193.2 211.8 199.8 207.8 205.8 206.2 215.2 207.2 222.8 210.8 223.2 212.8 199.2 219.8 193.8 222.8 190.2 227.2 189.8 234.8 190.8 238.8 197.8 254.8 201.2 257.8 205.2 259.2 218.8 261.2 228.8 264.8 251.8 279.2 256.8 279.8 264.2 278.2 272.2 275.2 276.8 271.8 272.8 258.8 272.2 244.2 265.8 227.8 260.8 223.8 249.2 219.8 242.8 233.2 241.8 233.2 241.8 227.2 247.2 216.8 251.8 202.8 253.2 189.8 252.2 186.8 247.2 187.2 241.2 190.8 223.2 207.2 216.2 203.8 208.8 202.2 218.2 198.8 222.8 194.8 225.2 190.2 222.2 184.8 215.8 178.2 209.2 174.2 202.2 172.2 194.8 172.2 189.2 173.8 182.8 177.2 179.8 180.2 178.8 183.2 179.8 191.2 186.2 195.8 204.8 202.2 197.2 204.2 191.2 208.2 182.2 207.8 171.2 212.2 171.8 216.2 174.2 220.8 172.8 222.8 168.8 223.8 157.8 223.2 148.2 218.8 154.8 212.8 158.8 205.8 168.2 178.2 168.2 171.2 164.8 167.2 142.8 158.8 135.8 158.2 128.2 162.2 112.2 177.2 109.8 178.2 103.8 175.2 97.2 173.8 107.8 168.2 112.2 162.2 112.2 160.2 108.2 154.8 98.8 147.2 95.2 159.2 93.8 173.8 88.2 174.2 82.2 176.8 67.2 189.8 60.8 193.8 55.2 195.2 43.8 194.2 35.2 190.2 42.2 183.8 44.8 179.8 55.2 150.2 55.8 143.8 54.8 141.2 49.8 137.2ZM151.8 128.2L148.2 128.2 143.8 130.2 138.8 135.2 140.2 138.2 148.2 145.2 151.8 142.8 153.8 138.8 153.8 133.8ZM262.8 122.8L251.2 125.8 214.8 127.8 196.8 131.2 191.2 146.8 190.8 153.2 193.2 157.2 200.8 161.2 216.8 166.8 225.2 166.8 232.2 162.2 245.2 148.8 248.8 147.2 255.2 141.2 258.2 136.8ZM353.2 120.2L344.8 122.8 340.2 127.2 343.8 140.2 350.8 137.2 354.8 132.2 355.2 126.8ZM379.8 118.8L378.8 125.8 382.8 138.8 382.8 128.8ZM249.2 123.8L221.8 112.2 214.8 111.2 191.8 117.8 183.2 121.2 179.2 124.8 177.2 131.8 179.2 139.2 184.8 133.8 190.8 130.8 202.8 127.2ZM16.8 102.2L28.8 117.2 36.2 122.8 45.2 126.2 55.8 126.8 60.8 125.2 66.8 121.8 72.2 116.8 67.8 115.2 62.2 119.8 54.8 122.8 42.8 121.8 32.2 115.8 21.2 103.2ZM150.2 94.2L133.2 97.8 100.2 99.2 85.2 102.2 83.8 103.2 78.8 116.8 78.2 125.2 82.8 130.2 95.2 135.2 107.8 138.8 113.2 137.8 119.2 133.8 132.2 120.2 136.2 118.2 142.8 112.2 145.8 107.2ZM240.2 91.8L231.8 94.2 227.2 98.8 230.2 103.8 236.2 108.8 237.8 108.8 242.2 102.8 242.2 97.2ZM351.8 86.2L337.8 89.8 300.8 91.8 286.2 94.8 279.8 110.2 279.8 118.2 285.2 123.2 306.2 130.8 314.2 130.2 322.8 124.2 332.8 113.2 338.8 109.8 344.8 103.8ZM136.2 95.2L109.2 83.8 100.8 82.8 74.2 90.8 68.8 93.8 65.8 97.2 68.2 103.2 68.8 107.8 76.2 102.8 91.8 98.2ZM337.2 87.2L323.2 82.2 307.8 75.2 301.8 75.2 271.2 85.2 267.2 89.2 265.8 95.8 267.8 103.2 272.8 97.8 281.2 93.8 290.2 91.2 304.8 89.2 326.2 88.8ZM238.8 57.8L223.8 61.2 191.2 62.8 172.8 66.2 166.8 82.2 166.8 89.2 171.8 94.2 194.2 102.2 202.2 101.2 209.8 95.8 220.2 84.2 225.8 81.2 231.8 75.2ZM224.8 58.8L210.8 53.8 197.2 47.2 188.2 46.8 163.2 54.2 158.2 56.8 154.2 61.2 157.2 71.2 166.8 65.8 181.8 61.8Z"/><path fill="#86b19b" d="M181.2 415.2L185.8 416.2 192.8 410.2 200.8 406.2 213.2 406.2 218.2 407.8 228.2 413.8 234.8 420.2 241.8 430.2 241.8 424.2 235.2 415.8 225.2 407.2 214.8 402.8 209.8 401.8 197.2 402.8 190.2 406.8ZM68.2 386.8L72.8 387.8 80.2 381.2 87.2 377.8 101.2 377.8 114.2 384.2 120.2 389.8 129.8 402.2 133.8 403.2 124.2 389.2 116.2 381.2 102.2 374.2 92.2 372.8 82.8 374.8 77.8 377.8ZM16.8 368.2L16.8 373.8 21.2 374.8ZM286.2 322.8L280.8 328.2 280.8 338.2 284.8 331.2ZM337.2 320.8L325.2 346.2 323.2 354.8 322.8 366.2 337.8 376.2 343.8 377.8 348.8 377.2 359.2 373.2 364.2 368.2 361.8 361.2 360.8 347.2 353.2 329.2 348.8 325.2ZM181.8 314.2L180.8 321.8 182.2 325.8 188.8 330.8 203.2 336.2 213.2 336.2 218.2 333.2 225.2 326.2 222.8 321.2 218.2 316.2 212.2 311.8 205.2 308.8 193.8 308.2 188.8 309.8ZM292.8 294.2L292.2 299.8 294.2 307.2ZM263.8 292.8L257.2 294.2 251.2 300.2 255.2 310.8 261.2 307.2 264.2 303.2 264.8 296.8ZM341.8 288.2L336.8 288.2 330.2 291.8 312.2 308.2 304.8 316.8 293.8 346.8 294.2 352.8 298.8 357.8 309.8 362.8 319.2 365.2 321.8 346.8 326.8 333.8 337.2 312.8 340.8 299.8ZM99.8 283.2L98.2 284.2 95.8 292.8 94.2 308.2 101.2 307.2 112.2 298.2 112.2 296.2 109.2 291.8ZM282.8 272.2L293.8 286.2 297.8 300.8 304.2 298.8 313.2 291.2 313.8 288.8 310.2 283.8 301.2 275.8 290.2 271.8ZM401.8 271.2L394.8 278.2 391.2 284.2 383.2 306.2 382.2 314.8 383.8 318.2 387.8 321.8 398.8 326.8 407.8 329.2 409.8 312.2 418.8 290.2 410.2 278.8ZM27.8 267.2L26.2 282.8 22.8 293.8 16.8 305.8 16.8 312.2 22.8 320.2 30.8 327.8 37.8 331.8 47.8 335.2 50.2 347.2 51.2 344.2 50.2 334.8 55.8 335.2 65.2 332.2 81.2 318.2 88.8 314.2 99.2 313.8 105.8 315.8 111.8 319.2 112.2 320.8 89.2 327.8 83.8 330.8 80.2 334.2 78.8 338.2 78.8 343.2 83.8 357.2 88.2 362.8 92.2 364.8 112.8 369.2 123.2 374.8 135.2 383.2 144.8 385.2 155.2 382.2 162.2 377.2 164.2 372.2 163.2 363.8 169.8 363.8 178.2 360.8 193.8 347.2 200.8 343.2 204.8 342.2 213.8 342.8 221.2 345.8 225.8 349.2 200.2 357.2 193.2 362.8 191.8 366.2 192.2 374.8 195.8 384.2 199.8 390.2 206.2 393.8 216.2 395.2 228.8 399.2 248.8 412.2 253.2 413.8 258.8 413.8 267.2 411.2 273.2 407.8 275.8 404.8 272.8 394.2 272.2 383.2 268.2 372.2 263.8 364.2 260.8 361.8 248.8 356.8 242.8 368.8 241.8 368.8 241.8 363.2 246.8 353.8 250.8 342.8 253.2 324.2 247.8 324.8 242.2 327.8 224.8 343.8 212.8 338.8 201.2 338.8 192.8 342.8 180.8 353.8 174.8 357.8 168.2 359.8 156.8 358.8 146.8 353.8 155.8 343.8 165.8 317.2 166.2 309.8 161.8 303.8 145.2 296.8 136.2 295.8 129.8 298.8 111.8 315.2 102.8 310.8 89.8 309.8 79.8 314.2 67.8 325.2 60.2 329.8 53.8 331.2 44.2 330.2 33.8 325.2 40.8 318.2 44.8 311.2 52.2 290.8 53.2 280.8 51.8 277.8 48.2 274.8 37.2 269.8ZM381.2 258.2L380.8 263.8 382.8 270.8ZM185.8 258.2L180.2 263.8 179.2 267.2 180.2 274.2 184.2 266.8ZM351.8 256.2L346.2 257.8 339.8 263.8 343.8 274.2 348.8 271.8 352.8 266.8 353.2 260.8ZM281.8 245.2L281.8 251.8 285.8 256.8 304.8 264.8 313.2 264.8 319.2 261.2 326.8 254.2 316.2 242.2 304.8 236.8 296.2 236.2 290.2 237.8 283.8 241.2ZM16.8 232.2L16.8 237.8 23.8 247.8 31.2 255.2 42.2 261.2 49.2 262.8 59.2 261.8 65.8 258.2 77.2 247.8 82.8 244.2 80.2 253.8 80.2 258.8 81.8 261.8 85.8 265.2 101.2 271.8 110.2 272.8 116.8 269.8 126.2 261.8 133.8 272.8 142.8 282.8 148.2 286.8 156.2 290.2 168.8 291.2 173.8 289.8 180.2 285.8 190.2 276.2 195.8 272.8 193.2 281.8 193.2 287.8 196.2 292.2 204.2 296.8 217.2 301.2 223.8 301.2 229.8 298.2 238.8 290.2 241.8 294.2 241.8 288.8 233.8 278.2 225.8 271.8 215.8 267.2 208.8 265.8 202.2 265.8 196.2 267.2 189.8 271.2 174.2 284.8 167.2 287.2 159.8 287.2 149.2 283.2 143.8 278.8 144.8 278.2 146.8 279.8 151.2 274.8 151.8 267.2 150.8 263.8 146.2 264.8 140.2 268.8 138.8 270.8 140.8 274.2 140.2 275.2 123.2 252.2 115.2 244.8 106.2 239.8 96.8 237.2 86.2 237.8 77.2 242.2 66.2 252.8 60.2 256.8 53.8 258.8 47.8 258.8 41.8 257.2 31.8 251.2 24.2 243.2ZM141.2 276.2L143.2 277.2 142.2 277.8ZM72.8 229.8L67.2 235.8 68.8 243.2 72.2 235.2ZM286.2 186.8L281.8 190.8 280.2 193.8 280.8 202.8 284.2 196.8ZM337.2 184.8L325.8 208.8 323.2 218.8 322.8 230.2 338.8 240.8 342.2 241.8 349.2 241.2 358.8 237.8 364.2 232.8 361.2 222.2 360.8 211.2 355.8 197.8 352.8 192.8 349.2 189.8ZM181.2 180.2L181.2 187.8 185.2 192.8 191.8 196.2 204.8 200.8 209.8 201.2 216.2 198.8 225.2 190.2 222.2 184.8 215.8 178.2 204.8 172.8 192.2 172.8 182.8 177.2ZM292.8 158.8L292.2 164.2 294.2 171.2ZM263.2 156.8L256.8 158.8 251.2 164.2 255.2 174.8 260.8 171.8 264.2 167.2 264.8 161.2ZM341.8 152.2L335.8 152.8 329.2 156.8 310.2 174.2 304.2 181.8 293.8 210.8 294.2 216.8 299.2 222.2 319.2 229.8 321.8 210.8 325.2 201.2 337.2 176.8 340.2 166.8ZM99.2 147.2L95.8 156.8 94.2 172.2 98.8 172.2 103.2 170.2 112.2 162.2 112.2 160.2 108.2 154.8ZM401.2 135.8L394.2 143.2 390.2 150.8 382.8 172.2 382.2 179.2 383.2 181.8 388.2 186.2 399.8 191.2 407.8 193.2 410.2 174.8 418.8 154.2 408.8 141.2ZM271.2 141.2L286.2 140.8 290.8 145.8 295.2 153.8 297.2 164.8 305.2 162.2 313.8 154.2 312.8 151.2 305.8 143.2 294.2 136.8 288.2 135.8 281.8 136.2ZM130.2 131.2L136.8 140.8 143.8 147.8 155.8 154.2 159.8 155.2 171.2 154.8 177.8 151.8 185.2 145.2 180.8 143.8 175.2 148.2 168.2 151.2 156.8 150.8 146.8 145.8 134.2 132.2ZM27.8 131.2L27.8 138.2 25.8 149.2 21.8 160.2 16.8 169.8 16.8 176.2 22.2 183.8 31.2 192.2 39.8 196.8 47.8 199.2 50.2 211.2 51.2 208.8 50.2 199.2 57.2 199.2 63.8 197.2 70.2 192.8 80.8 182.8 87.8 178.8 98.8 177.8 104.2 179.2 112.2 183.8 112.2 185.2 89.8 191.8 83.2 195.2 79.8 199.2 78.8 207.2 84.2 222.2 90.8 228.2 112.2 233.2 119.8 236.8 137.2 248.2 145.8 249.2 153.2 247.2 162.2 241.2 164.2 236.2 163.2 227.8 170.8 227.8 177.8 225.2 193.2 211.8 199.8 207.8 205.8 206.2 215.2 207.2 222.8 210.8 225.2 213.8 201.8 220.8 196.2 223.8 192.2 228.8 192.2 238.8 198.8 253.2 204.2 257.2 227.2 262.8 246.8 275.2 252.8 277.8 259.8 277.8 266.2 275.8 275.2 269.8 272.8 258.8 272.2 247.2 264.8 229.8 261.2 226.2 248.8 220.8 242.8 233.2 241.8 233.2 241.8 227.2 250.2 208.8 253.2 188.8 248.2 188.8 243.8 190.8 225.2 207.8 216.2 203.8 204.8 202.2 197.2 204.2 191.2 208.2 182.2 207.8 175.8 209.8 170.8 212.8 174.2 221.8 168.8 223.8 157.8 223.2 146.8 217.8 154.2 210.2 157.8 203.8 165.8 181.2 166.2 173.8 164.8 170.8 160.8 167.2 142.8 160.2 136.8 159.8 130.8 162.2 112.2 179.2 100.2 174.2 88.2 174.2 79.2 178.8 67.2 189.8 60.8 193.8 55.2 195.2 43.8 194.2 33.8 189.2 41.2 181.8 45.2 174.2 52.8 153.2 53.2 144.8 51.2 141.2 47.2 138.2ZM150.8 128.2L143.8 130.2 138.8 135.2 140.2 138.2 146.2 143.8 150.2 140.8 151.8 137.8ZM261.8 123.2L247.2 126.2 214.8 127.8 198.8 130.8 193.2 145.8 193.8 153.2 198.8 158.2 210.2 163.2 219.8 165.8 225.8 164.8 234.8 158.2 252.8 141.2 255.8 137.2ZM381.2 122.2L380.8 127.8 382.8 134.8ZM351.8 120.2L344.8 122.8 340.2 127.2 343.8 138.2 348.2 136.2 352.8 130.8 353.2 124.8ZM246.2 124.2L219.2 113.2 212.2 113.2 193.8 118.8 184.2 123.2 179.8 129.2 180.2 138.2 183.2 134.8 190.8 130.8 202.8 127.2 213.2 125.8ZM16.8 102.2L28.8 117.2 36.2 122.8 45.2 126.2 55.8 126.8 60.8 125.2 66.8 121.8 72.2 116.8 67.8 115.2 62.2 119.8 54.8 122.8 42.8 121.8 32.2 115.8 21.2 103.2ZM148.8 94.8L133.2 97.8 100.2 99.2 86.8 101.8 84.8 103.8 80.2 117.8 80.8 124.2 86.2 129.8 99.2 135.2 104.8 136.8 113.8 135.8 122.2 129.2 139.8 112.8 143.8 107.2ZM239.2 91.8L231.8 94.2 227.2 98.8 230.2 103.8 235.2 107.8 240.2 101.2ZM350.2 86.8L337.8 89.8 306.2 91.2 287.8 94.2 286.2 95.8 281.8 109.2 281.8 115.8 284.2 119.8 291.8 124.2 306.2 129.2 313.8 128.8 321.2 123.8 342.2 103.8 346.8 96.2ZM132.2 95.2L108.8 85.2 101.8 84.2 77.8 91.2 71.2 94.8 68.2 97.8 67.2 101.2 68.8 107.8 76.2 102.8 91.8 98.2ZM334.2 87.8L311.8 78.2 302.2 76.8 274.8 85.8 269.2 90.8 267.8 98.2 268.8 101.8 272.8 97.8 278.8 94.8 290.2 91.2 304.8 89.2ZM237.2 58.2L223.8 61.2 191.2 62.8 174.8 65.8 169.2 79.2 169.2 87.8 172.8 92.2 184.2 97.8 194.2 100.8 201.8 99.8 208.2 95.2 229.8 74.8 234.2 66.8ZM221.2 59.2L194.2 48.2 188.2 48.2 168.2 54.2 160.8 57.8 157.8 60.2 155.8 65.2 157.2 71.2 166.8 65.8 181.8 61.8Z"/><path fill="#8cbaa3" d="M194.8 364.8L193.8 374.2 196.2 381.8 198.8 386.2 205.8 391.8 226.8 396.8 252.2 411.8 256.2 412.2 264.8 410.2 270.2 407.2 274.2 402.8 272.2 386.8 267.2 373.8 261.8 365.2 248.2 358.2 242.2 369.2 233.2 356.8 227.8 351.2 223.8 351.2 205.8 356.8 197.8 361.2ZM47.8 335.2L49.2 343.2 49.2 338.2ZM252.8 326.2L248.8 326.2 242.8 329.2 226.2 344.8 234.2 351.8 242.2 362.8 250.8 342.8 252.8 332.8ZM286.2 325.2L282.8 329.8 282.2 336.2ZM336.2 322.2L325.2 346.2 323.2 354.8 322.8 364.2 338.8 374.8 347.2 375.8 357.8 371.8 362.2 367.2 362.8 363.8 360.8 350.2 352.2 331.2 347.2 326.8ZM82.2 335.8L80.8 339.2 82.2 350.2 87.2 359.2 92.2 362.8 114.2 368.2 121.2 371.8 133.2 380.2 140.2 383.2 146.2 383.2 152.8 381.2 157.2 378.8 161.8 373.2 162.2 367.8 161.2 363.8 150.2 360.8 139.8 353.8 133.8 347.2 121.8 329.8 114.8 322.2 105.8 323.8 92.8 328.2 86.8 331.2ZM183.8 313.2L183.2 321.8 184.8 324.8 191.8 330.2 205.8 335.2 212.2 334.8 218.2 331.2 224.8 325.2 218.2 316.2 212.2 311.8 205.2 308.8 193.8 308.2 188.8 309.8ZM137.8 297.2L127.8 302.2 113.8 316.2 122.8 324.8 138.2 346.2 145.8 352.2 153.2 343.8 157.8 335.2 163.2 320.2 164.2 312.2 162.8 308.2 155.2 302.2 145.2 298.2ZM262.2 292.8L255.8 295.2 251.2 300.2 254.8 308.8 258.2 306.8 262.2 301.8ZM341.2 289.8L336.2 290.2 327.2 296.2 309.2 314.2 304.2 321.8 299.2 333.8 295.8 346.2 297.2 352.8 301.8 357.2 311.2 361.8 319.2 363.8 320.2 353.2 323.8 340.8 338.8 308.2 341.2 296.2ZM99.8 283.2L98.2 284.2 95.8 292.8 94.2 306.8 102.2 304.8 112.2 296.2 109.2 291.8ZM402.8 272.8L395.2 281.2 391.2 288.8 385.8 303.2 384.2 312.2 385.8 316.8 390.8 321.2 401.8 326.2 407.8 327.2 410.8 308.8 418.8 290.2 410.2 278.8ZM282.8 272.2L293.8 286.2 297.2 298.8 304.2 296.8 313.8 288.8 310.2 283.8 301.2 275.8 290.2 271.8ZM195.2 280.8L195.8 287.2 199.2 291.8 208.2 296.8 217.8 299.8 222.8 299.8 229.8 296.2 237.2 289.2 229.2 279.2 217.8 272.2 209.8 270.2 204.2 270.2 198.2 271.8ZM27.8 268.8L27.8 274.2 25.2 286.8 16.8 305.8 24.2 316.2 32.8 323.8 39.2 316.8 43.2 310.2 50.2 292.2 51.2 282.8 49.2 278.8 45.2 275.2 35.8 270.8ZM149.2 264.2L144.2 265.8 138.8 270.8 139.2 272.8 144.2 278.2 148.2 275.2 149.8 272.2ZM185.8 260.8L181.8 266.2 181.2 271.8 184.2 266.8ZM350.8 256.2L343.2 259.8 339.8 263.8 343.2 272.2 347.8 269.8 350.8 265.8ZM84.8 243.8L82.2 253.2 82.8 258.2 87.2 263.8 95.8 268.2 106.2 271.2 111.2 270.8 118.8 266.2 124.8 260.2 114.8 249.2 105.2 243.8 97.8 241.8 90.2 241.8ZM283.8 244.2L284.2 250.8 288.8 256.2 296.2 260.2 305.2 263.2 313.8 262.8 325.8 253.2 316.2 242.2 304.8 236.8 296.2 236.2 290.2 237.8 285.2 240.2ZM72.8 232.2L69.2 236.8 68.8 243.2ZM195.2 228.2L193.8 231.2 193.8 238.2 195.8 244.8 200.2 252.2 206.8 256.2 228.8 261.8 247.2 273.8 253.8 276.2 258.2 276.2 265.2 274.2 271.8 270.2 274.2 266.8 272.2 250.8 266.8 236.8 263.8 231.8 256.2 225.8 247.8 222.8 242.2 233.8 232.8 220.2 227.8 215.2 224.2 215.2 202.8 222.2ZM190.8 208.2L182.2 207.8 172.2 211.8 171.2 214.8 174.2 221.2 180.2 217.8ZM47.8 199.2L49.2 207.2 49.2 202.2ZM252.8 190.2L249.2 190.2 242.2 193.8 226.8 208.8 232.8 214.2 242.2 226.8 250.2 208.8 252.8 196.8ZM286.2 189.2L282.8 193.8 282.2 200.2ZM82.2 199.8L80.8 203.2 82.2 214.2 86.8 222.8 91.8 226.8 116.2 233.2 139.2 247.2 143.8 247.8 153.2 245.2 158.8 241.8 161.8 237.2 162.2 231.8 161.2 228.2 152.2 225.8 140.8 218.8 133.2 210.8 122.8 195.2 115.2 186.8 108.2 187.2 94.2 191.8 86.2 195.8ZM336.8 186.2L325.8 208.8 323.2 218.8 322.8 228.8 338.2 238.8 348.2 239.8 357.2 236.2 362.8 230.2 360.8 214.2 351.8 194.8 345.2 189.8ZM183.8 177.2L183.2 185.8 184.2 188.2 189.8 193.2 205.2 199.2 212.8 198.8 219.8 194.2 224.8 189.2 222.2 184.8 215.8 178.2 204.8 172.8 192.2 172.8ZM135.8 161.8L126.8 167.2 113.8 180.2 122.2 188.2 137.2 209.2 145.2 216.8 150.8 211.2 156.2 202.8 163.2 184.2 164.2 176.8 162.2 171.8 156.8 167.2 144.8 162.2ZM262.2 156.8L255.2 159.8 251.2 164.2 254.8 172.8 257.8 171.2 262.2 165.8ZM341.2 153.8L336.8 154.2 329.8 158.2 310.2 177.2 305.8 183.2 298.8 199.2 295.8 210.2 296.8 216.2 303.2 222.2 310.8 225.8 319.2 227.8 320.2 217.2 323.2 206.2 334.8 182.8 339.2 170.8 341.2 160.8ZM99.2 147.2L95.8 156.8 94.2 170.8 101.8 169.2 112.2 160.2 108.2 154.8ZM403.2 136.8L397.2 142.8 391.8 151.8 386.2 165.8 384.2 176.2 386.8 182.2 391.2 185.8 401.2 190.2 407.8 191.8 410.2 174.8 418.8 154.2 408.8 141.2ZM272.2 141.2L286.2 140.8 290.8 145.8 295.2 153.8 297.2 163.2 303.8 161.2 313.2 153.2 312.8 151.2 305.8 143.2 294.2 136.8 288.2 135.8 281.8 136.2 273.2 139.8ZM27.8 132.8L25.8 149.2 16.8 170.2 23.8 179.8 32.8 187.8 39.8 180.2 44.2 172.2 50.2 156.2 51.2 147.2 48.8 142.2 44.2 138.8ZM149.2 128.2L143.8 130.2 138.8 135.2 144.8 142.8 149.8 136.2ZM259.8 123.8L247.2 126.2 214.8 127.8 200.2 130.2 195.2 144.8 195.8 151.2 199.8 156.2 206.8 160.2 217.2 163.8 224.8 163.2 234.8 156.2 250.8 140.2 255.8 133.2ZM350.8 120.8L344.8 122.8 340.2 127.2 343.2 136.8 346.8 134.8 350.8 129.8ZM241.2 124.2L219.8 115.2 210.2 115.2 194.2 120.2 186.8 124.2 182.2 129.2 181.2 136.2 190.8 130.8 202.8 127.2ZM146.8 95.2L133.2 97.8 100.2 99.2 87.2 101.8 82.8 114.2 82.8 122.2 85.8 126.8 94.2 131.8 105.2 135.2 111.8 134.8 122.2 127.2 138.2 111.2 142.2 105.8ZM237.8 92.2L231.8 94.2 227.2 98.8 227.8 100.8 233.2 106.2 236.8 103.2 238.2 100.2ZM348.2 87.8L333.2 90.2 306.2 91.2 289.8 93.8 287.8 95.8 284.2 106.2 283.8 113.2 284.8 116.2 289.2 120.8 298.2 125.2 307.2 127.8 312.8 127.2 320.8 122.2 340.8 102.2ZM128.8 95.8L107.2 86.8 99.2 86.2 83.8 90.8 74.2 95.2 68.8 102.2 68.8 107.8 76.2 102.8 89.2 98.8 105.2 96.8ZM330.2 88.2L308.8 79.2 300.2 78.8 284.8 83.2 274.8 88.2 270.2 94.2 269.8 99.8 281.2 93.8 292.8 90.8ZM235.8 58.8L223.8 61.2 191.2 62.8 176.2 65.2 171.2 78.2 170.8 83.8 171.8 87.2 175.2 91.2 185.8 96.8 192.2 98.8 200.8 98.2 208.2 93.2 227.8 73.8ZM217.8 59.8L196.8 50.8 186.2 50.2 170.2 55.2 161.8 59.8 157.8 64.8 157.2 71.2 166.8 65.8 181.8 61.8Z"/><path fill="#93c3ab" d="M197.2 365.2L195.8 368.8 195.8 375.2 197.2 379.8 200.8 385.8 207.2 390.2 227.8 395.2 234.8 398.8 245.8 406.8 254.2 410.2 260.2 409.8 267.2 406.8 271.2 403.2 272.8 400.2 272.2 390.8 264.8 372.8 258.8 365.8 247.2 360.2 242.2 369.2 229.8 353.2 222.2 353.2 206.8 358.2ZM252.8 327.8L247.2 328.8 242.2 331.8 228.2 345.8 234.2 351.8 242.2 362.8 250.8 342.8ZM84.2 336.8L82.8 340.2 82.8 345.8 84.2 350.8 87.2 356.2 94.8 361.8 114.2 366.2 139.8 381.2 150.2 380.2 155.8 377.2 159.2 373.2 160.2 370.2 159.8 363.8 150.2 360.8 139.8 353.8 133.8 347.2 117.2 324.8 108.8 324.8 97.2 328.2 89.8 331.8ZM335.8 323.8L326.2 343.2 323.2 354.8 322.8 362.2 339.8 373.2 349.8 373.2 356.2 370.2 360.2 366.2 361.8 361.8 361.2 356.2 357.2 344.8 352.2 334.8 346.8 329.2ZM185.8 312.2L185.2 319.8 188.2 325.2 193.8 329.2 202.2 332.8 212.2 332.8 218.8 328.8 223.8 323.8 222.8 321.2 215.2 313.8 205.2 308.8 193.8 308.2 188.8 309.8ZM137.2 299.2L129.2 303.2 115.2 317.2 124.8 327.2 138.2 346.2 143.8 351.2 151.8 341.8 158.2 329.8 161.8 319.2 161.8 312.2 159.8 308.2 153.2 303.2 146.2 300.2ZM260.8 293.2L255.8 295.2 251.2 300.2 254.2 306.8 260.2 300.8ZM341.2 291.8L336.2 292.2 329.2 296.8 310.8 316.2 303.2 328.2 298.2 342.2 298.2 348.8 299.8 352.2 308.2 358.8 316.8 361.8 319.8 361.2 320.2 353.2 323.8 340.8 338.8 308.2ZM99.8 283.2L98.8 283.2 96.8 288.8 94.2 304.8 102.2 302.8 111.2 294.8ZM404.8 273.8L395.8 284.8 390.8 294.2 386.8 306.2 386.8 312.8 389.2 317.2 393.8 320.8 399.8 323.8 407.8 325.8 410.8 308.8 418.8 290.2 410.2 278.8ZM282.8 272.2L293.8 286.2 297.2 297.2 304.2 294.8 312.8 287.2 301.2 275.8 290.2 271.8ZM27.8 270.8L25.2 286.8 16.8 305.8 24.2 316.2 30.8 322.8 38.8 313.2 44.2 303.8 48.8 291.2 49.2 285.2 48.2 281.8 43.8 276.8 35.2 272.2ZM199.2 272.2L197.2 280.2 198.2 286.8 202.8 291.8 210.2 295.8 216.8 297.8 222.8 297.8 229.8 294.2 236.8 287.8 229.2 279.2 217.8 272.2 209.8 270.2 201.2 270.8ZM147.8 264.2L142.8 266.8 138.8 270.8 142.8 276.8 145.8 274.8 147.8 271.2ZM349.2 256.8L343.2 259.8 339.8 263.8 342.8 270.2 347.8 266.2 349.2 263.2ZM86.8 242.8L84.8 249.8 85.2 257.8 88.2 261.8 97.8 267.2 104.2 269.2 111.2 268.8 117.2 265.2 123.8 259.2 114.8 249.2 105.2 243.8 97.8 241.8ZM286.8 239.2L285.8 246.8 288.2 252.8 293.2 256.8 303.8 261.2 310.2 261.8 313.8 260.8 324.8 251.8 316.2 242.2 306.8 237.2 296.2 236.2ZM196.8 230.2L195.8 232.8 196.8 242.8 200.2 249.2 205.8 253.8 228.8 259.8 247.2 271.8 253.8 274.2 263.8 272.8 268.2 270.2 272.2 265.8 273.2 262.2 272.8 256.8 267.8 242.8 262.2 233.2 253.2 226.8 247.2 224.2 242.2 233.8 229.8 217.2 223.2 217.2 208.2 221.8 202.2 224.8ZM190.8 208.2L182.2 207.8 174.8 210.2 173.2 213.2 174.2 221.2 180.2 217.8ZM252.8 192.2L249.2 192.2 243.8 194.8 228.2 210.2 235.8 217.8 242.2 226.8 250.2 208.8ZM83.8 201.8L82.8 204.8 83.8 213.8 86.8 219.8 93.2 225.2 116.2 231.2 133.8 242.8 141.8 245.8 147.2 245.2 153.8 242.8 159.8 236.2 159.8 227.8 152.2 225.8 140.8 218.8 133.2 210.8 117.2 188.8 109.8 188.8 96.2 192.8 87.8 197.2ZM335.8 188.2L325.8 208.8 323.2 218.8 322.8 226.8 339.2 237.2 344.2 238.2 350.2 237.2 355.8 234.8 360.2 230.2 361.8 225.8 360.8 218.8 356.8 207.8 351.8 198.2 344.2 191.8ZM185.8 176.2L185.2 183.8 187.2 188.2 192.8 192.8 201.8 196.8 206.8 197.8 212.8 196.8 224.2 187.8 215.8 178.2 204.8 172.8 194.8 172.2 189.2 173.8ZM137.8 163.2L128.8 167.8 115.8 181.8 124.2 190.8 137.2 209.2 143.8 215.2 150.8 207.2 156.8 197.2 161.8 183.2 161.8 176.2 160.2 173.2 154.8 168.2 145.8 164.2ZM260.8 157.2L255.2 159.8 251.2 164.2 254.2 170.8 260.2 164.8ZM341.2 155.8L336.8 156.2 328.2 161.8 315.2 175.2 306.2 186.8 301.8 195.8 298.2 206.8 298.2 213.2 299.8 216.2 305.2 221.2 312.8 224.8 319.2 226.2 320.2 217.2 323.2 206.2 334.8 182.8 339.2 170.8ZM99.2 147.2L95.8 156.8 94.2 168.8 97.8 168.8 103.2 166.2 111.2 159.2 108.2 154.8ZM404.8 138.2L397.2 146.8 391.2 157.2 386.8 170.2 386.8 176.8 388.8 180.8 394.2 185.2 399.2 187.8 407.8 189.8 410.2 174.8 418.8 154.2 412.2 145.2ZM274.2 141.8L286.2 140.8 292.8 148.8 297.2 161.2 302.8 159.8 312.8 151.2 303.2 141.2 294.2 136.8 288.2 135.8 281.8 136.2 275.2 138.8ZM27.8 134.8L25.8 149.2 16.8 170.2 23.8 179.8 30.8 186.8 39.2 176.8 44.8 166.8 48.2 157.2 49.2 149.2 47.2 144.2 44.2 141.2 34.8 136.2ZM147.8 128.8L142.2 131.2 138.8 135.2 143.2 141.2 147.8 135.2ZM257.8 124.2L247.2 126.2 214.8 127.8 202.2 129.8 197.8 141.8 197.2 147.2 198.2 150.8 203.2 156.2 209.8 159.8 218.8 162.2 224.8 161.2 231.8 156.8 246.2 141.8 253.8 132.2ZM349.2 120.8L344.8 122.8 340.2 127.2 342.8 134.8 348.8 128.8ZM237.2 124.8L219.2 117.2 209.2 117.2 195.2 121.8 188.2 125.8 185.2 128.8 183.2 134.8 190.8 130.8 202.8 127.2ZM144.8 95.8L133.2 97.8 100.2 99.2 89.2 101.2 84.8 113.8 85.2 121.8 89.2 126.8 97.2 131.2 103.8 133.2 111.8 132.8 119.2 127.8 133.2 113.2 141.8 102.2ZM236.2 92.2L231.8 94.2 227.2 98.8 231.2 104.8 233.8 103.2 236.2 99.2ZM346.2 88.2L333.2 90.2 306.2 91.2 291.8 93.2 290.2 94.2 286.8 103.2 286.2 113.2 290.8 119.2 297.8 123.2 305.8 125.8 312.8 125.2 318.8 121.8 332.2 108.2 341.8 96.8ZM124.8 96.2L106.8 88.8 98.2 88.2 85.8 91.8 77.2 95.8 72.2 100.2 70.8 105.8 78.8 101.8 91.8 98.2ZM326.2 88.8L308.8 81.2 298.8 80.8 286.8 84.2 279.2 87.8 273.2 93.2 271.8 98.8 281.2 93.8 292.8 90.8 304.8 89.2ZM233.2 59.2L223.8 61.2 191.2 62.8 178.2 64.8 173.8 75.2 173.2 84.2 178.8 91.2 185.2 94.8 193.8 97.2 200.8 96.2 206.2 92.8 223.8 74.8 229.8 66.8ZM212.8 59.8L196.2 52.8 191.2 51.8 185.2 52.2 172.2 56.2 164.8 60.2 159.8 65.8 159.2 69.8 166.8 65.8 181.8 61.8Z"/><path fill="#9accb3" d="M198.8 367.2L197.8 369.8 198.8 378.8 201.2 383.2 206.8 387.8 227.8 392.8 234.8 396.2 247.8 405.8 254.8 408.2 260.2 407.8 265.8 405.2 270.8 399.2 270.8 391.2 265.2 377.2 257.8 368.2 246.2 362.2 242.2 369.2 233.2 356.8 228.8 355.2 222.2 355.2 207.8 359.8 202.8 362.8ZM252.8 329.8L248.8 330.2 242.8 333.8 230.2 347.2 242.2 362.8 250.8 342.8ZM86.8 337.2L84.8 341.8 85.8 349.8 88.2 354.2 94.2 359.2 115.2 364.2 121.2 367.2 132.8 375.8 140.2 379.2 149.8 378.2 155.2 374.8 157.8 370.8 157.8 363.2 148.2 359.8 139.8 353.8 133.8 347.2 121.8 329.8 118.8 327.2 108.2 326.8 102.2 328.2 92.8 332.2ZM334.2 326.2L326.2 343.2 322.8 359.8 338.8 370.8 347.8 371.8 353.8 369.2 357.8 365.8 359.8 360.8 359.2 354.8 356.2 346.2 350.2 335.8 343.8 330.2ZM187.8 311.8L187.2 317.2 189.2 322.8 194.2 327.2 201.8 330.8 210.2 331.2 213.2 330.2 222.8 322.2 215.2 313.8 205.2 308.8 193.8 308.2 188.8 309.8ZM137.2 301.2L130.2 304.8 117.2 319.2 124.8 327.2 135.8 343.2 141.8 349.2 153.8 334.2 159.2 321.8 159.8 314.2 158.2 310.2 152.8 305.2 144.8 301.8ZM341.2 293.8L338.2 293.8 333.8 295.8 325.2 303.2 307.8 324.8 303.2 332.8 300.2 342.2 300.8 348.8 304.8 354.2 312.8 358.8 319.8 360.2 321.8 346.8 326.8 333.8 337.2 312.8 339.8 304.8ZM258.8 293.8L253.8 296.8 251.2 300.2 253.8 304.8 258.2 299.8ZM99.8 283.2L98.8 283.2 96.8 288.8 94.2 302.8 101.8 300.8 110.2 293.2ZM406.8 275.8L394.2 291.8 389.8 301.8 388.8 310.8 390.8 315.2 394.2 318.8 400.8 322.2 408.2 323.8 410.8 308.8 418.8 290.2 412.8 281.8ZM30.8 272.8L27.8 272.8 25.2 286.8 16.8 305.8 28.8 320.8 40.8 305.8 46.8 291.2 46.8 284.8 44.8 280.8 40.2 276.8ZM282.8 272.2L292.2 283.8 296.8 295.2 302.2 293.8 311.2 285.8 304.8 278.2 296.2 273.2 290.2 271.8ZM201.8 270.8L199.8 277.2 200.8 286.2 204.2 290.2 211.2 294.2 215.8 295.8 222.8 295.8 229.2 292.2 235.2 286.2 229.2 279.2 217.8 272.2 209.8 270.2ZM146.2 265.2L142.8 266.8 138.8 270.8 141.2 275.2 144.8 272.2ZM347.2 257.8L343.2 259.8 339.8 263.8 341.8 268.2 345.8 265.2 347.2 261.8ZM88.2 243.8L86.8 249.2 87.8 257.2 92.2 262.2 98.8 265.8 103.8 267.2 112.2 266.2 122.2 257.8 114.8 249.2 105.2 243.8 97.8 241.8 90.2 241.8ZM288.8 238.8L288.2 247.2 289.8 250.8 295.2 255.8 303.2 259.2 310.2 259.8 313.2 258.8 323.8 250.2 316.2 242.2 306.8 237.2 296.2 236.2ZM199.2 230.8L197.8 234.2 198.8 242.8 201.2 247.2 204.8 250.8 208.8 252.8 229.8 257.8 246.8 269.2 253.8 272.2 258.8 272.2 265.2 269.8 269.2 266.2 270.8 263.2 270.8 255.2 264.2 239.8 258.2 232.8 248.2 227.2 245.8 226.8 242.2 233.8 232.2 220.2 223.2 219.2 209.2 223.2 203.8 226.2ZM190.8 208.2L182.2 207.8 176.2 209.8 175.2 213.2 175.8 219.8 176.8 220.2ZM252.8 193.8L247.8 194.8 242.2 198.2 230.2 211.8 242.2 226.8 250.2 208.8ZM86.2 202.2L84.8 206.2 85.8 213.8 89.2 219.8 96.2 224.2 117.2 229.2 133.2 240.2 141.8 243.8 151.2 241.8 157.8 235.2 157.8 227.2 152.2 225.8 140.8 218.8 133.2 210.8 119.8 191.8 109.2 190.8 102.8 192.2 92.2 196.8ZM334.2 190.2L325.8 208.8 322.8 224.2 339.8 235.2 348.2 235.8 354.8 232.8 359.2 227.2 359.8 221.8 357.2 212.8 353.2 204.2 348.2 197.8 344.2 194.8ZM188.2 174.2L187.2 179.2 188.2 185.2 193.2 190.8 201.2 194.8 205.8 195.8 212.2 194.8 217.2 191.8 222.8 186.2 215.8 178.2 209.2 174.2 202.2 172.2 194.8 172.2ZM137.8 165.2L129.2 169.8 117.2 183.2 122.2 188.2 135.2 206.8 141.8 213.8 155.2 195.8 159.2 185.8 159.8 178.2 157.8 173.8 151.8 168.8 146.2 166.2ZM341.2 157.8L334.8 159.2 326.8 165.8 308.2 188.2 302.8 198.2 300.2 206.2 300.8 212.8 305.2 218.8 311.2 222.2 319.8 224.2 321.8 210.8 325.2 201.2 337.2 176.8 340.2 166.8ZM258.8 157.8L251.8 163.2 253.2 168.8 257.8 164.8ZM99.2 147.2L96.2 154.8 94.2 166.8 101.2 165.2 110.2 157.2 103.8 150.2ZM406.8 139.8L393.8 156.8 389.2 167.8 388.8 174.8 390.2 178.8 394.8 183.2 400.2 186.2 408.2 188.2 410.2 174.8 418.8 154.2ZM27.8 136.8L25.8 149.2 16.8 170.2 23.8 179.8 29.2 184.8 39.2 172.2 44.2 163.2 46.8 155.8 46.8 148.8 44.2 144.2 40.8 141.2 33.8 137.8ZM276.2 141.2L286.2 140.8 292.8 148.8 296.8 159.2 303.2 157.2 311.2 150.2 309.2 146.8 303.2 141.2 294.2 136.8 288.2 135.8 281.8 136.2 277.2 137.8ZM146.2 129.2L139.2 134.2 138.8 136.2 141.2 139.2 144.8 136.2ZM255.2 124.8L241.8 126.8 221.2 127.2 204.8 129.2 199.8 141.2 200.2 149.2 204.8 154.8 210.8 158.2 217.8 160.2 224.8 159.2 234.8 151.2 249.8 133.2ZM347.2 121.8L342.8 124.2 340.2 127.2 341.8 132.2 345.8 129.2 347.2 126.2ZM232.2 125.2L217.8 119.2 208.8 119.2 199.8 121.8 191.8 125.8 187.8 129.2 185.8 133.2 202.8 127.2 213.2 125.8ZM142.2 96.2L91.8 100.8 87.2 111.2 87.2 120.2 90.2 124.8 98.2 129.8 102.8 131.2 111.2 130.8 121.8 122.8 136.8 104.8ZM234.8 93.2L231.8 94.2 227.2 98.8 230.2 103.2 233.8 99.2ZM118.8 96.2L105.2 90.8 95.2 90.8 80.2 96.2 74.8 100.8 72.8 104.8 78.8 101.8 91.8 98.2ZM343.8 88.8L326.2 90.8 306.2 91.2 292.8 93.2 288.2 105.2 288.8 112.8 292.2 117.8 298.8 121.8 304.8 123.8 313.8 122.8 325.2 112.8ZM320.2 88.8L307.2 83.2 295.8 83.2 282.2 88.2 275.8 93.8 274.2 97.2 281.2 93.8 292.8 90.8ZM231.2 59.8L218.8 61.8 198.8 62.2 180.8 64.2 175.8 74.8 175.8 83.8 180.2 89.8 186.2 93.2 192.8 95.2 199.2 94.8 205.2 91.2 212.2 84.2ZM207.8 60.2L194.8 54.8 184.8 54.2 168.2 60.2 162.8 65.2 161.8 68.2 172.8 63.8 181.8 61.8Z"/><path fill="#a1d4bb" d="M201.8 366.8L199.8 371.2 200.8 378.2 202.8 381.8 208.8 386.2 230.2 390.8 249.2 404.2 253.2 405.8 261.2 405.2 264.8 403.2 268.8 398.2 269.2 392.8 268.2 388.2 262.2 376.2 255.8 370.2 244.2 365.2 242.2 369.2 236.2 360.8 224.8 357.2 219.2 357.8 207.2 362.2ZM252.8 331.8L249.2 332.2 242.2 336.8 232.2 349.8 242.2 362.8 248.2 350.2ZM333.2 328.8L326.2 343.2 323.2 357.2 339.2 368.8 342.8 369.8 350.2 368.8 355.8 364.8 357.8 360.2 355.8 349.2 352.2 342.2 346.8 335.8ZM88.2 339.2L86.8 343.8 87.8 349.2 89.2 352.2 96.2 357.8 117.8 362.2 135.8 375.2 140.8 377.2 149.2 376.2 155.8 369.8 156.2 362.8 148.2 359.8 139.8 353.8 121.8 331.2 113.8 328.8 105.8 329.2 93.2 334.2ZM190.2 310.2L189.8 317.8 190.8 320.8 194.2 324.8 203.2 329.2 211.2 328.8 215.8 326.2 221.2 320.8 218.2 316.2 208.2 309.8 203.2 308.2 193.8 308.2ZM143.2 303.2L137.8 303.2 132.2 305.8 127.8 309.8 119.8 320.8 139.2 347.2 153.8 329.8 157.8 318.2 155.8 310.8 150.8 306.2ZM341.2 295.8L334.2 297.8 327.2 304.2 319.2 316.2 307.8 329.2 303.8 336.8 302.2 343.8 302.8 347.2 305.8 352.2 312.8 356.8 319.8 358.2 323.8 340.8 337.2 312.8ZM256.8 294.8L251.2 300.2 252.8 302.8 256.2 298.8ZM99.8 283.2L98.8 283.2 96.8 288.8 94.8 300.8 98.2 300.2 102.8 297.8 108.8 291.2ZM409.2 277.8L394.8 295.2 390.8 307.2 393.2 314.8 397.8 318.8 405.2 321.8 408.2 321.8 411.8 305.8 418.8 291.2ZM27.8 274.2L23.8 291.2 16.8 305.8 26.2 318.2 40.2 302.2 44.8 290.8 44.2 284.8 40.2 279.2 34.2 275.8ZM282.8 272.2L292.2 283.8 296.2 293.2 303.2 290.8 310.2 283.8 304.8 278.2 296.2 273.2 290.2 271.8ZM201.8 277.8L202.2 283.8 205.8 288.8 212.2 292.8 215.8 293.8 223.8 293.2 229.8 289.2 233.8 284.8 226.8 277.2 217.8 272.2 209.8 270.2 204.2 270.2ZM144.2 265.8L138.8 270.8 140.2 273.8 142.8 271.2ZM345.2 258.8L339.8 263.8 341.2 266.2 344.2 263.2ZM89.8 245.2L88.8 251.8 90.2 256.8 93.8 260.8 101.2 264.8 108.8 265.2 111.8 264.2 121.2 255.8 114.8 249.2 105.2 243.8 97.8 241.8 91.2 241.8ZM290.8 239.2L290.2 245.2 292.2 250.2 298.2 255.2 303.2 257.2 309.8 257.8 316.8 254.2 322.2 248.2 314.2 240.8 306.8 237.2 296.2 236.2 291.8 237.2ZM201.2 231.8L199.8 235.2 200.2 241.2 202.2 245.2 205.8 248.8 209.8 250.8 231.2 255.2 248.2 267.8 254.8 270.2 262.8 268.8 266.8 265.8 268.8 262.2 269.2 256.8 268.2 252.2 261.8 239.8 254.8 233.8 244.8 229.2 242.2 233.8 237.2 226.2 232.8 223.2 227.8 221.8 215.8 222.8 205.8 227.2ZM190.8 208.2L182.2 207.8 178.8 208.8 177.2 214.2 178.2 219.2ZM252.8 195.8L248.2 196.8 244.2 199.2 238.8 204.8 232.8 213.2 232.8 214.8 242.2 226.8 249.2 211.8ZM332.8 193.2L325.8 208.8 323.2 221.2 340.2 233.2 349.2 233.2 353.2 231.2 357.2 226.2 357.8 220.2 355.8 213.2 348.2 201.2 342.8 197.2ZM88.2 203.2L86.8 207.8 87.8 213.2 90.2 217.8 94.8 221.2 118.8 226.8 133.2 237.8 140.2 241.2 148.2 240.8 155.2 235.2 156.2 227.2 146.2 222.8 140.8 218.8 133.2 210.8 123.8 196.8 120.2 194.8 111.8 192.8 104.2 193.8 94.2 197.8ZM190.2 174.2L189.8 182.2 190.8 184.8 194.8 189.2 202.8 193.2 208.2 193.8 211.8 192.8 218.2 188.2 221.8 184.2 213.8 176.8 204.8 172.8 194.8 172.2ZM142.8 167.2L136.2 167.8 131.8 170.2 125.8 176.2 119.8 184.8 139.2 211.2 153.2 194.8 157.8 182.8 157.2 178.2 155.2 174.2 151.2 170.8ZM341.2 159.8L335.2 161.2 328.2 167.2 317.8 182.2 308.2 192.8 304.2 199.8 302.2 207.8 303.2 212.8 307.2 217.8 311.2 220.2 319.8 222.2 323.2 206.2 337.2 176.8ZM256.8 158.8L251.2 164.2 252.8 166.8 255.8 163.8ZM99.2 147.2L96.2 154.8 94.8 164.8 100.8 163.2 108.8 155.8 103.8 150.2ZM409.2 142.2L395.2 158.8 392.2 164.8 390.8 171.2 392.8 178.2 396.8 182.2 402.8 185.2 408.2 186.2 409.2 178.8 412.8 167.2 418.8 155.2ZM30.2 138.8L27.2 138.8 26.8 144.8 23.2 156.8 16.8 169.8 26.8 182.8 40.2 166.2 44.8 155.2 44.8 150.8 43.2 146.8 37.8 141.8ZM278.2 141.2L286.2 140.8 292.8 148.8 296.2 157.2 302.8 155.2 309.8 148.2 303.2 141.2 294.2 136.8 285.8 135.8 279.8 136.8ZM144.2 130.2L139.2 134.2 138.8 136.2 140.2 137.8 142.8 135.2ZM252.2 125.2L207.8 128.8 202.2 139.2 202.2 147.8 206.8 153.8 213.2 157.2 217.2 158.2 222.8 157.8 226.8 155.8 232.8 150.2 241.2 137.8ZM345.2 122.8L340.2 127.2 341.2 130.8 343.8 128.2ZM225.2 125.2L217.2 121.8 208.8 121.2 199.8 123.8 193.8 126.8 188.8 131.8 202.8 127.2ZM139.2 96.8L94.8 100.2 89.2 111.2 89.2 118.8 90.8 121.8 97.2 127.2 102.8 129.2 110.8 128.8 119.8 121.8 130.2 106.8ZM232.8 93.8L227.2 98.8 228.8 101.8 231.8 98.2ZM112.8 96.8L102.8 92.8 95.2 92.8 83.2 96.8 76.2 102.8 94.8 97.8ZM340.8 89.2L295.8 92.8 290.8 103.2 290.2 109.8 291.2 112.8 295.8 117.8 304.2 121.8 313.2 120.8 322.2 112.8 330.8 100.2ZM314.2 89.2L304.8 85.2 295.8 85.2 282.8 90.2 277.2 95.8 292.8 90.8ZM227.8 60.2L218.8 61.8 183.2 63.8 178.2 73.2 177.2 78.2 178.2 83.8 181.8 88.2 186.2 91.2 192.2 93.2 198.8 92.8 203.2 90.2 209.8 83.8 217.8 71.8ZM200.8 60.2L189.8 56.2 182.2 56.8 171.2 60.8 164.8 66.8 181.8 61.8Z"/><path fill="#a8ddc3" d="M202.2 370.8L202.8 377.8 207.8 383.2 212.8 385.2 231.8 387.2 236.8 390.2 247.8 400.8 252.2 403.2 260.2 403.2 263.2 401.8 266.8 397.2 267.2 391.2 263.2 381.2 257.2 374.8 243.8 368.8 242.2 369.2 230.2 361.2 219.8 359.8 212.2 361.8 206.2 365.2ZM252.2 333.8L246.8 335.8 243.2 338.8 235.2 352.2 242.2 362.8 248.2 350.2ZM331.2 332.2L326.2 343.2 323.8 353.2 335.2 363.8 340.2 366.8 345.8 367.8 351.2 365.8 353.8 363.8 355.8 359.2 355.2 352.8 352.8 346.8 346.8 339.2ZM89.2 342.2L89.8 348.8 94.2 354.2 100.8 356.8 119.2 358.8 125.2 362.8 133.8 371.2 139.8 374.8 147.2 374.8 150.2 373.2 154.2 367.8 153.8 361.8 142.8 356.2 136.8 350.8 127.8 338.8 117.8 332.8 112.8 331.2 101.8 332.2 93.8 336.2ZM192.2 310.8L191.8 316.2 193.8 321.2 199.2 325.8 203.2 327.2 209.2 327.2 212.8 325.8 219.8 318.8 215.2 313.8 205.2 308.8 193.8 308.2ZM143.2 305.2L138.2 305.2 131.2 309.2 126.2 315.8 122.2 324.2 136.8 344.2 138.2 341.2 151.2 329.2 155.2 320.8 155.2 315.2 153.8 311.8 150.2 308.2ZM340.8 297.8L335.8 299.2 330.2 304.2 320.8 321.2 312.2 328.2 306.8 335.2 304.8 340.8 304.8 345.8 306.2 349.2 310.2 353.2 315.8 355.8 320.2 355.8 323.8 340.8 337.2 312.8ZM254.8 296.2L251.8 299.2 251.8 300.8ZM99.8 283.2L98.8 283.2 96.8 288.8 94.8 298.8 101.2 296.2 106.8 290.2ZM411.8 280.8L410.2 283.8 397.8 295.2 393.2 304.2 393.2 309.8 395.2 313.8 399.2 317.2 405.2 319.8 408.8 319.8 411.8 305.8 418.8 291.2ZM31.2 276.8L27.2 276.8 23.8 291.2 16.8 305.8 23.8 315.2 38.2 300.8 42.2 292.8 42.8 288.8 40.2 282.2ZM282.8 272.2L291.2 282.2 295.8 291.2 301.8 289.2 308.2 282.2 304.8 278.2 296.2 273.2 290.2 271.8ZM204.2 275.8L205.2 284.8 209.8 289.2 215.2 291.8 224.2 290.8 232.2 282.8 223.8 275.2 214.8 271.2 206.8 270.2ZM91.2 247.8L91.2 253.2 93.2 257.2 97.2 260.8 103.2 263.2 108.2 263.2 112.8 261.2 119.2 254.2 111.2 246.8 100.2 242.2 93.8 241.8ZM293.2 237.8L292.8 246.2 297.2 252.2 305.2 255.8 312.2 254.8 320.2 247.2 316.2 242.2 308.2 237.8 301.8 236.2 296.2 236.2ZM202.2 234.8L202.8 241.8 208.2 247.8 214.8 249.8 231.2 251.2 235.2 253.2 246.2 263.8 251.8 267.2 260.8 267.2 266.8 261.2 267.2 255.2 265.8 250.2 261.8 243.2 257.8 239.2 243.2 232.8 242.2 233.8 240.2 231.2 229.8 225.2 221.2 223.8 212.8 225.8 205.8 229.8ZM190.8 208.2L180.8 208.2 179.8 211.8 180.2 217.8ZM252.2 198.2L246.2 200.2 241.8 204.8 235.2 216.8 242.2 226.8 249.2 211.8ZM331.2 196.2L325.8 208.8 323.8 217.2 333.2 226.2 339.8 230.8 346.8 231.8 350.8 230.2 354.2 227.2 355.8 223.8 355.2 217.2 351.8 209.2 344.2 201.8ZM89.8 205.2L89.8 212.8 94.8 218.8 102.8 221.2 118.8 222.8 123.2 225.2 131.2 233.2 138.2 238.2 141.2 239.2 147.8 238.8 153.8 233.2 154.2 226.2 143.2 220.8 135.8 213.8 127.8 202.8 117.2 196.8 112.2 195.2 102.2 196.2 94.8 199.8ZM192.2 174.8L191.8 180.8 192.8 183.8 196.8 188.2 202.8 191.2 207.8 191.8 211.2 190.8 219.8 182.8 213.8 176.8 204.8 172.8 194.8 172.2ZM142.8 169.2L138.8 169.2 133.2 171.8 128.8 176.2 122.2 188.2 136.8 208.2 139.2 204.2 151.8 192.8 155.2 184.8 155.2 179.2 153.2 175.2 149.2 171.8ZM340.8 161.8L335.2 163.8 331.2 167.2 321.2 184.8 307.8 197.8 304.8 204.8 304.8 209.8 306.8 214.2 310.8 217.8 315.2 219.8 320.2 220.2 323.2 206.2 337.2 176.8ZM254.8 160.2L251.8 163.2 251.8 164.8ZM99.2 147.2L96.2 154.8 94.8 162.8 100.8 160.8 107.2 153.8ZM412.2 145.2L398.2 158.8 393.2 168.8 393.2 173.8 394.8 177.2 399.8 181.8 404.8 183.8 408.8 183.8 412.8 167.2 418.8 155.2ZM30.8 140.8L27.2 140.8 23.2 156.8 16.8 169.8 23.8 179.8 26.2 175.8 36.8 166.8 42.2 156.8 42.8 153.2 40.8 147.2 35.8 142.8ZM280.2 140.8L286.2 140.8 292.8 148.8 295.8 155.2 301.2 153.8 308.2 146.2 301.8 140.2 292.2 136.2 281.8 136.2ZM247.8 125.8L211.8 128.2 207.2 133.2 204.8 138.2 204.2 146.2 205.2 148.8 208.8 152.8 214.8 155.8 219.8 156.2 225.2 154.2 231.2 148.2 239.2 133.2ZM343.2 124.2L341.2 125.8 340.2 128.8ZM219.2 125.8L214.2 123.8 206.2 123.8 199.8 125.8 192.8 130.2 202.8 127.2ZM134.8 97.2L98.8 99.8 95.8 102.8 91.8 110.2 91.2 117.2 92.8 120.8 100.8 126.8 108.8 127.2 112.2 125.8 118.8 119.2 126.8 104.2ZM105.8 96.8L98.8 94.8 92.8 95.2 87.8 96.8 79.8 101.8 91.8 98.2ZM336.2 89.8L300.8 91.8 296.2 96.2 292.8 103.8 292.8 110.2 294.2 113.2 299.2 117.8 304.2 119.8 309.8 119.8 314.2 117.8 321.2 109.8 327.2 97.8ZM307.2 89.2L301.2 87.2 296.2 87.2 288.8 89.2 281.8 93.8 292.8 90.8ZM223.2 61.2L187.8 63.2 183.8 67.2 180.2 73.8 179.8 81.2 180.8 83.8 185.8 88.8 190.2 90.8 196.2 91.2 200.2 89.8 207.8 82.2 214.2 69.2ZM194.8 60.8L189.2 58.8 182.2 58.8 176.8 60.2 168.8 65.2 181.8 61.8Z"/><path fill="#b0e6cb" d="M204.8 370.2L204.2 375.8 208.8 381.2 214.8 383.2 230.8 381.2 235.8 381.8 239.2 385.2 245.8 395.8 253.2 401.2 259.8 401.2 264.8 396.8 265.2 390.2 262.2 383.2 259.2 379.8 253.2 376.2 238.8 374.2 230.2 365.2 225.8 362.8 217.2 362.2 208.8 365.8ZM328.2 338.2L325.2 346.2 333.2 358.2 338.2 363.2 342.2 365.2 347.2 365.2 351.2 363.2 353.8 359.2 353.8 354.2 349.8 345.8 343.8 340.8ZM252.2 335.8L247.8 337.8 241.8 345.8 239.8 359.2 242.2 362.8 248.2 350.2ZM91.8 342.2L91.2 346.2 92.8 349.8 98.2 353.8 105.2 354.8 116.8 352.8 123.2 353.2 131.8 365.8 136.8 370.8 140.8 372.8 147.8 372.2 152.2 367.2 152.2 361.2 142.8 356.2 133.8 346.8 129.2 346.8 124.8 344.8 118.8 337.8 113.2 334.2 107.2 333.2 100.2 334.8 95.8 337.2ZM194.2 311.8L194.8 318.8 198.2 322.8 203.2 325.2 211.2 324.2 217.8 316.8 212.2 311.8 203.2 308.2 195.8 308.2ZM148.2 309.2L143.2 307.2 138.8 307.2 134.8 309.2 130.2 314.2 127.8 321.8 127.2 331.2 131.8 337.8 133.2 335.8 145.2 330.8 150.8 325.8 152.8 321.8 153.2 316.8 151.8 312.8ZM340.8 299.8L335.2 302.2 332.2 305.8 329.2 313.2 327.8 324.2 324.8 326.8 315.2 330.2 308.2 337.2 306.8 341.8 307.2 346.2 312.2 352.2 318.2 354.2 320.2 353.8 323.8 340.8 336.2 315.2ZM416.8 287.2L413.8 290.2 401.8 295.2 395.8 303.2 395.2 308.2 396.8 312.2 403.2 317.2 408.8 317.8 411.8 305.8 418.8 291.2ZM99.8 283.2L98.2 284.2 95.2 296.8 100.2 294.2 104.8 288.2ZM32.8 279.2L26.8 278.8 23.8 291.2 16.8 305.8 19.2 309.2 21.8 306.2 33.8 301.2 39.2 294.8 40.2 291.8 39.8 285.8 36.2 281.2ZM283.8 272.8L291.2 282.2 294.8 289.2 300.8 287.2 306.2 280.2 302.8 276.8 296.2 273.2 290.2 271.8 284.2 271.8ZM207.8 272.8L206.2 276.8 206.8 282.8 210.2 287.2 213.8 289.2 220.8 289.8 224.2 288.2 228.2 284.2 230.2 280.2 217.8 272.2 209.8 270.2ZM95.8 242.8L93.8 246.8 93.2 251.8 94.8 255.8 99.2 259.8 103.2 261.2 107.8 261.2 111.8 259.2 116.2 254.2 117.2 251.8 111.2 246.8 102.2 242.8 97.8 241.8ZM294.8 240.8L294.8 244.8 296.2 248.2 300.8 252.2 305.2 253.8 312.2 252.2 318.2 245.2 314.2 240.8 304.8 236.8 296.8 236.2ZM204.8 234.2L204.8 241.2 209.2 245.8 213.8 247.2 235.2 245.8 238.8 248.8 245.2 259.2 252.8 265.2 260.2 265.2 264.8 260.8 265.2 254.2 264.2 251.2 257.8 242.8 250.8 239.8 239.2 238.8 227.8 227.8 223.2 226.2 215.8 226.8 208.2 230.2ZM190.8 208.2L183.8 207.8 181.8 215.8ZM328.2 202.8L325.8 210.8 334.8 224.2 338.8 227.8 344.2 229.8 350.8 227.8 353.8 223.2 353.8 218.2 349.8 209.8 345.2 205.8 340.2 203.8ZM252.2 200.2L247.2 202.2 242.2 208.8 239.8 222.8 242.2 226.8 249.2 211.8ZM91.8 206.2L91.2 210.2 92.2 213.2 97.8 217.8 102.2 218.8 117.8 216.8 123.8 217.8 134.2 232.8 140.2 236.8 146.8 236.8 152.2 231.2 151.8 225.2 143.2 220.8 133.2 210.8 125.8 209.8 116.8 200.2 112.8 198.2 104.2 197.8 95.2 201.8ZM194.2 175.8L195.2 183.8 198.8 187.2 202.8 189.2 206.8 189.8 212.2 187.8 217.8 180.8 213.8 176.8 204.8 172.8 195.8 172.2ZM148.8 173.8L144.8 171.8 139.8 171.2 134.2 173.8 130.8 177.8 128.2 183.2 126.8 194.8 131.8 201.8 134.2 199.2 146.2 194.2 151.8 188.2 153.2 180.8 152.2 177.8ZM340.8 163.8L336.8 165.2 332.2 169.8 329.2 177.2 328.2 187.8 325.8 190.2 314.8 194.8 309.2 199.8 307.2 203.8 306.8 208.8 307.8 211.8 311.2 215.8 315.2 217.8 320.2 218.2 323.2 206.2 336.2 179.2ZM416.8 151.2L414.8 153.8 402.8 158.8 397.2 164.2 395.2 169.8 395.8 174.2 398.2 178.2 401.8 180.8 408.8 181.8 412.8 167.2 418.8 155.2ZM99.2 147.2L95.2 160.8 99.8 158.8 104.8 152.2 103.8 150.2ZM32.2 143.2L26.8 142.8 23.2 156.8 16.8 169.8 19.2 173.2 21.2 170.8 35.2 164.2 39.8 157.8 40.2 151.2 36.8 145.8ZM283.8 136.8L282.8 141.2 286.2 140.8 290.8 145.8 294.8 153.2 301.8 150.8 306.2 144.2 303.2 141.2 295.8 137.2 288.2 135.8ZM237.2 126.8L221.8 127.2 212.2 131.8 209.2 134.8 206.2 140.8 206.2 145.2 207.8 148.8 214.8 153.8 219.2 154.2 223.8 152.8 226.8 150.2 230.2 144.8 232.8 129.8ZM212.8 126.2L206.8 125.8 197.8 128.8ZM124.2 98.2L108.8 98.8 99.2 103.2 95.2 107.8 93.2 113.2 93.8 117.8 96.2 121.8 102.8 125.2 108.2 125.2 113.2 122.2 118.2 113.2 119.8 101.2ZM98.2 97.2L92.8 97.2 85.8 99.8ZM325.2 90.8L309.8 91.2 301.2 95.2 297.2 99.2 294.8 104.8 294.8 109.2 297.2 113.8 304.2 117.8 309.2 117.8 313.2 115.8 318.8 108.2 320.8 94.2ZM300.2 89.8L293.8 89.8 286.8 92.2ZM213.2 61.8L198.8 62.2 188.8 66.2 184.2 70.8 182.2 74.8 181.8 79.8 183.8 84.2 186.2 86.8 192.2 89.2 195.8 89.2 200.2 87.2 206.2 78.8 208.8 64.2ZM173.8 63.8L187.8 61.2 180.2 61.2Z"/><path fill="#b8efd3" d="M248.2 381.2L245.8 384.8 245.8 388.8 248.8 395.2 254.2 399.2 260.8 398.2 263.2 394.8 263.2 389.8 260.8 384.8 255.8 380.8 250.8 380.2ZM206.8 371.2L207.2 376.8 209.8 379.2 214.8 380.8 223.8 378.8 228.2 373.8 227.8 369.2 222.2 364.8 213.8 365.2 208.8 368.2ZM135.2 352.8L132.8 356.8 133.2 361.8 135.2 365.8 138.8 369.2 142.2 370.8 147.8 369.8 150.2 366.2 150.2 360.8 137.8 351.8ZM335.8 345.8L334.2 348.8 334.2 352.8 336.8 358.2 342.2 362.8 346.2 363.2 348.8 362.2 351.2 359.8 351.8 353.8 348.2 347.2 343.2 344.2 338.2 344.2ZM251.8 338.2L247.8 340.8 245.2 345.2 245.2 351.2 246.8 353.8ZM114.2 339.8L111.8 337.2 107.8 335.8 100.8 336.8 94.2 341.8 93.8 346.8 95.8 349.8 99.8 351.8 108.2 351.2 114.2 347.2 115.2 345.2ZM318.2 333.2L311.2 337.2 309.2 341.2 309.2 345.2 313.8 350.8 320.8 351.8 325.8 335.8 323.2 333.8ZM139.8 309.2L133.8 313.8 132.2 317.2 132.2 321.8 133.8 325.2 136.2 327.2 142.8 327.8 146.2 326.2 149.8 322.8 150.8 315.8 146.8 310.8ZM196.2 313.2L196.8 317.8 202.2 322.8 209.2 322.8 213.2 319.2 214.8 316.2 214.8 313.8 208.2 309.8 198.8 308.2ZM340.2 302.2L337.8 303.2 334.2 307.8 333.8 314.8 335.2 317.2ZM405.8 297.2L402.2 298.8 399.2 301.8 397.8 304.8 397.8 308.8 401.8 314.2 408.8 315.8 414.2 299.2 410.8 297.2ZM99.8 283.2L98.2 284.2 95.8 294.2 100.2 290.8 102.2 285.2ZM26.8 280.8L21.2 296.8 25.2 299.2 29.2 299.2 33.2 297.8 36.8 294.2 38.2 289.2 36.8 284.8 34.8 282.8 30.8 280.8ZM287.8 271.8L285.2 275.2 293.8 286.8 299.8 285.2 302.8 281.2 303.2 277.2 296.2 273.2ZM212.8 271.2L208.8 276.2 208.8 281.8 210.2 284.2 215.8 287.8 219.8 287.8 223.8 285.8 226.8 281.2 227.2 277.8 217.8 272.2ZM247.8 245.8L245.8 248.8 245.8 253.2 248.2 258.8 253.8 263.2 257.2 263.8 260.2 262.8 263.2 258.8 263.2 254.2 260.2 248.2 253.2 244.2ZM100.2 242.2L95.8 248.2 96.8 254.8 101.8 258.8 106.2 259.2 109.2 258.2 112.8 254.8 114.2 249.2 111.2 246.8ZM299.8 236.2L297.2 240.2 298.2 247.2 301.2 250.2 305.8 251.8 311.2 250.2 313.8 247.8 315.8 242.2 308.2 237.8ZM226.2 231.2L221.8 228.8 214.2 229.2 207.2 234.2 206.8 239.8 208.8 242.8 213.2 244.8 221.8 243.8 224.8 242.2 228.2 237.8 228.2 234.8ZM136.2 216.2L132.8 220.8 134.2 228.2 140.2 234.2 145.8 234.8 147.8 233.8 150.2 230.8 150.2 224.8 143.2 220.8 137.8 215.8ZM336.8 209.2L334.8 211.2 334.2 216.8 337.8 223.8 343.2 227.2 346.8 227.2 349.8 225.8 351.8 222.8 351.8 217.8 349.8 213.2 346.2 209.8 342.8 208.2ZM190.8 208.2L186.8 207.8 184.8 210.8 184.2 214.2ZM251.8 202.8L249.8 203.2 245.8 208.2 245.2 215.2 246.8 217.8ZM93.8 207.2L94.8 212.8 97.8 215.2 101.8 216.2 108.8 215.2 111.8 213.8 115.2 209.8 114.2 203.8 109.2 200.2 99.8 201.2ZM322.8 197.8L315.2 198.2 309.8 203.8 309.8 210.8 314.2 215.2 320.8 215.8 325.8 200.8ZM141.2 173.2L136.8 174.8 132.8 179.8 132.8 187.8 137.2 191.8 141.2 192.2 144.8 191.2 150.2 185.8 150.2 178.8 147.2 175.2ZM198.8 172.2L196.2 177.2 196.2 180.2 200.8 186.2 208.2 187.2 213.2 183.2 214.8 180.2 213.8 176.8 204.8 172.8ZM340.2 166.2L337.2 167.8 334.2 171.8 333.8 178.8 334.8 181.2 337.2 176.8ZM406.2 161.2L403.2 162.2 399.2 165.8 397.8 169.2 397.8 173.2 401.8 178.2 404.8 179.8 409.2 179.8 414.2 163.8 410.2 161.2ZM99.2 147.2L95.8 158.2 100.8 154.2 102.2 150.2ZM26.2 145.2L25.8 149.2 21.2 160.8 24.8 163.2 30.2 163.2 35.8 159.8 38.2 153.2 35.2 147.2 30.2 144.8ZM287.8 135.8L285.2 140.8 288.8 143.2 293.8 151.2 299.2 149.8 302.8 145.2 303.2 141.2 295.8 137.2ZM222.2 133.8L215.8 133.8 212.8 135.2 209.2 139.2 208.8 145.8 212.2 150.2 215.2 151.8 221.8 151.2 225.2 148.2 226.8 145.2 226.8 138.2ZM104.2 104.8L101.2 105.8 97.2 109.2 95.8 112.2 95.8 116.8 99.8 121.8 103.2 123.2 107.2 123.2 110.2 121.8 113.2 118.2 114.2 110.8 110.8 105.8ZM305.2 97.2L299.2 100.8 297.2 104.2 297.2 109.2 301.2 114.2 308.2 115.8 314.2 111.2 315.8 103.8 314.8 100.8 312.2 98.2ZM197.8 68.8L190.2 69.2 184.8 74.8 184.8 81.8 187.8 85.2 190.8 86.8 194.2 87.2 198.2 85.8 202.2 80.8 202.2 72.8Z"/><path fill="#c0f8dc" d="M252.8 384.8L250.2 387.2 251.2 393.8 255.2 396.8 259.8 395.8 261.2 392.8 259.8 387.2 256.8 384.8ZM221.2 368.2L215.2 367.2 211.8 368.8 209.2 371.8 209.8 375.8 213.2 377.8 220.2 376.2 222.8 372.8 222.8 370.2ZM139.2 356.2L137.2 359.2 138.2 364.8 142.8 368.2 146.8 367.2 148.2 364.8 147.2 359.2 142.2 355.8ZM340.8 348.8L338.8 351.2 339.8 357.2 343.2 360.2 347.2 360.2 349.8 356.8 348.2 351.2 345.8 348.8ZM106.8 338.8L101.8 338.8 98.8 340.2 96.2 343.8 96.8 346.8 100.8 349.2 107.2 347.8 109.8 344.8 109.8 341.2ZM314.8 338.2L311.8 342.2 312.8 346.8 316.2 349.2 321.2 348.8 323.8 341.8 323.2 340.2 320.2 337.8ZM140.8 311.8L137.2 313.8 136.2 319.8 139.2 323.2 143.2 323.8 147.2 321.2 148.2 316.8 146.2 313.2ZM202.8 309.2L199.2 312.8 199.2 316.8 202.2 320.2 208.2 320.2 211.2 316.2 210.8 312.2 208.2 309.8ZM405.2 301.2L401.8 303.2 400.2 308.2 403.2 312.2 408.2 313.2 410.2 311.8 412.2 304.8 409.2 301.8ZM98.2 284.2L96.2 290.8 98.2 287.8ZM27.2 283.2L25.2 285.2 23.8 291.8 26.8 294.8 31.2 294.8 34.2 292.8 35.2 287.2 32.8 284.2ZM215.2 273.8L211.2 277.8 211.8 282.2 215.8 285.2 219.2 285.2 223.2 281.2 222.8 276.2 219.8 273.8ZM291.8 272.8L288.8 274.8 287.8 278.2 292.2 284.2 296.2 284.2 299.2 281.2 299.2 275.8 296.2 273.2ZM252.8 248.8L250.2 251.8 251.2 257.8 254.8 260.8 259.2 260.2 261.2 257.2 260.2 252.2 256.2 248.8ZM103.2 244.8L99.2 247.2 98.2 251.8 101.2 255.8 105.8 256.8 109.2 254.8 110.8 250.8 110.2 248.2 107.2 245.2ZM304.2 237.2L300.2 240.2 299.8 244.8 301.8 247.8 306.8 249.2 311.2 246.2 311.8 241.2 310.2 238.8ZM221.8 232.8L218.8 231.2 212.8 232.2 209.2 236.2 209.8 239.8 212.8 241.8 219.8 240.8 222.8 237.2ZM138.8 220.8L137.2 223.2 137.2 226.8 138.8 229.8 142.2 232.2 146.2 231.8 148.2 228.8 146.8 222.8 142.2 219.8ZM340.8 212.8L338.8 215.2 339.2 220.8 342.8 224.2 347.2 224.2 349.8 220.8 348.2 215.2 345.2 212.8ZM107.8 203.2L102.2 202.8 98.2 204.8 96.2 207.8 96.8 210.8 100.2 213.2 106.8 212.2 109.8 208.8 109.8 205.8ZM316.2 201.8L312.8 204.2 311.8 208.8 314.8 212.8 319.2 213.8 321.8 212.2 323.8 205.2 319.8 201.8ZM141.2 175.8L136.8 178.8 136.2 184.2 140.2 187.8 143.8 187.8 147.2 185.2 148.2 180.8 145.2 176.8ZM203.2 173.2L199.8 175.8 199.2 181.2 203.2 184.8 207.2 184.8 210.8 181.8 210.8 176.2 207.8 173.8ZM403.2 166.2L400.2 170.2 401.2 174.8 404.8 177.2 409.8 176.8 412.2 169.8 411.8 168.2 408.8 165.8ZM98.2 148.8L96.2 154.8 98.2 152.2ZM27.8 147.2L25.8 148.2 23.8 156.2 26.8 158.8 30.2 159.2 34.8 156.2 35.2 151.8 32.8 148.2ZM215.2 137.8L211.8 140.8 211.2 145.2 215.2 149.2 219.8 149.2 223.2 145.2 223.2 141.8 221.2 138.8ZM292.8 136.8L288.2 139.8 287.8 142.2 292.8 148.8 295.2 148.8 298.8 146.2 299.8 141.2 297.8 138.2ZM102.2 109.2L98.8 112.2 98.8 117.2 102.8 120.8 106.2 120.8 109.8 118.2 110.2 112.8 106.8 109.2ZM304.8 101.2L300.8 103.8 299.8 108.8 302.2 112.2 307.2 113.2 311.2 110.2 311.8 105.2 309.2 102.2ZM191.2 72.8L187.8 75.2 186.8 79.8 189.8 83.8 192.2 84.8 195.8 84.2 198.8 80.8 198.8 76.2 194.8 72.8Z"/></g><path fill="#a2cbb7" stroke="#26342d" stroke-opacity="0.35" stroke-width="0.5" d="M181.2 415.2L185.8 416.2 192.8 410.2 200.8 406.2 213.2 406.2 218.2 407.8 228.2 413.8 234.8 420.2 241.8 430.2 241.8 424.2 235.2 415.8 230.8 411.2 225.2 407.2 214.8 402.8 209.8 401.8 201.2 401.8 197.2 402.8 190.2 406.8ZM68.2 386.8L72.8 387.8 80.2 381.2 87.2 377.8 101.2 377.8 105.8 379.2 114.2 384.2 120.2 389.8 129.8 402.2 133.8 403.2 124.2 389.2 116.2 381.2 111.8 378.2 102.2 374.2 92.2 372.8 82.8 374.8 77.8 377.8ZM16.8 368.2L16.8 373.8 21.2 374.8ZM16.8 306.2L16.8 312.2 22.8 320.2 32.2 328.8 43.2 333.8 50.8 335.2 55.8 335.2 62.2 333.8 68.2 330.2 78.8 320.2 84.2 316.2 90.8 313.8 99.2 313.8 105.8 315.8 113.8 320.8 122.2 329.8 131.2 343.2 137.2 350.8 142.8 355.8 152.8 361.2 162.2 363.8 172.2 363.2 181.2 358.8 195.8 345.8 202.2 342.8 211.2 342.2 218.2 344.2 225.8 348.8 233.8 356.8 241.8 368.2 241.8 362.8 233.8 351.8 224.8 343.8 214.8 339.2 210.2 338.2 203.8 338.2 199.2 339.2 190.8 344.2 180.8 353.8 174.8 357.8 168.2 359.8 161.2 359.8 151.2 356.8 142.2 350.8 135.2 343.2 122.2 324.8 114.2 316.8 104.2 311.2 98.2 309.8 89.8 309.8 84.8 311.2 77.8 315.8 64.2 327.8 57.2 330.8 49.8 331.2 38.8 328.2 30.8 323.2 23.8 316.2ZM16.8 232.2L16.8 237.8 23.8 247.8 31.2 255.2 42.2 261.2 49.2 262.8 54.8 262.8 59.2 261.8 67.8 256.8 81.2 244.8 87.8 241.8 97.8 241.2 105.2 243.2 114.8 248.8 122.8 256.8 137.8 277.8 145.2 284.8 154.8 289.8 160.8 291.2 168.8 291.2 173.8 289.8 180.2 285.8 190.2 276.2 195.2 272.8 201.2 270.2 209.8 269.8 217.8 271.8 226.8 276.8 233.8 283.2 241.8 294.2 241.8 288.8 233.8 278.2 225.8 271.8 215.8 267.2 208.8 265.8 202.2 265.8 196.2 267.2 189.8 271.2 179.2 281.2 174.2 284.8 167.2 287.2 159.8 287.2 154.2 285.8 149.2 283.2 142.2 277.8 135.8 270.2 123.2 252.2 115.2 244.8 106.2 239.8 96.8 237.2 86.2 237.8 77.2 242.2 66.2 252.8 60.2 256.8 53.8 258.8 47.8 258.8 41.8 257.2 31.8 251.2 24.2 243.2ZM16.8 170.8L16.8 176.2 22.2 183.8 32.8 193.2 44.2 198.2 49.2 199.2 57.2 199.2 61.2 198.2 67.8 194.8 83.8 180.8 89.2 178.2 98.8 177.8 104.2 179.2 109.2 181.8 114.8 185.8 121.8 193.2 136.2 213.8 143.2 220.2 152.2 225.2 161.2 227.8 172.8 227.2 180.8 223.2 196.8 209.2 202.8 206.8 210.2 206.2 216.8 207.8 226.2 213.2 233.2 220.2 241.8 232.2 241.8 226.8 232.2 214.2 223.8 207.2 216.2 203.8 208.8 202.2 199.8 203.2 192.2 207.2 176.8 220.8 168.8 223.8 160.2 223.8 153.2 221.8 143.2 215.8 134.8 206.8 121.8 188.2 113.2 180.2 103.8 175.2 97.2 173.8 90.8 173.8 85.2 175.2 79.2 178.8 63.8 192.2 55.2 195.2 48.2 195.2 40.8 193.2 31.2 187.8 23.2 179.8ZM130.2 131.2L136.8 140.8 143.8 147.8 149.8 151.8 155.8 154.2 159.8 155.2 171.2 154.8 177.8 151.8 185.2 145.2 180.8 143.8 175.2 148.2 168.2 151.2 162.8 151.8 156.8 150.8 146.8 145.8 139.2 138.8 134.2 132.2ZM16.8 102.2L23.2 111.2 28.8 117.2 36.2 122.8 45.2 126.2 55.8 126.8 60.8 125.2 66.8 121.8 72.2 116.8 67.8 115.2 62.2 119.8 54.8 122.8 46.8 122.8 42.8 121.8 37.2 119.2 32.2 115.8 25.2 108.8 21.2 103.2Z"/><path fill="#81a292" stroke="#26342d" stroke-opacity="0.35" stroke-width="0.5" d="M242.2 425.2L242.8 430.8 245.8 429.2ZM418.8 291.8L411.2 308.8 408.2 325.2 408.2 332.8 409.8 342.2 413.2 350.8 418.8 357.8 418.8 352.2 413.8 344.8 410.8 333.2 410.8 322.2 411.8 315.8 414.8 305.8 418.8 297.2ZM242.2 289.2L242.2 294.8 247.2 300.8 251.2 308.2 253.2 316.8 253.8 323.8 253.2 332.8 251.2 342.8 247.2 353.8 242.2 363.2 242.2 368.8 252.2 347.8 255.8 330.8 255.8 316.8 254.2 307.8 250.2 298.8ZM246.2 157.8L242.8 159.8 246.8 164.2 250.8 171.2 253.2 181.2 253.8 189.8 252.8 200.2 250.8 208.8 247.8 216.8 242.2 227.2 242.2 233.2 251.8 213.2 254.2 204.8 255.8 194.8 255.8 180.8 253.8 170.2 250.8 163.8ZM418.8 155.8L413.2 167.2 410.8 174.8 408.2 189.8 408.8 201.8 410.2 208.2 413.8 215.8 418.8 221.8 418.8 216.2 413.2 207.8 410.8 197.2 411.2 182.8 414.8 169.8 418.8 161.8ZM286.8 141.8L282.8 142.8 288.8 149.8 292.2 155.8 294.8 165.2 294.8 178.8 293.2 186.8 290.2 195.8 277.2 222.2 274.2 232.2 272.8 243.8 273.2 258.8 275.8 268.2 278.2 273.2 290.2 287.8 292.8 292.8 294.8 301.2 294.8 314.8 292.8 324.2 289.8 332.8 277.8 356.8 275.2 364.2 273.2 374.2 272.8 389.8 273.8 397.2 275.8 404.2 277.8 408.2 282.2 414.2 286.2 412.8 279.8 404.8 276.8 397.8 275.2 389.8 275.8 372.8 278.2 362.2 280.8 355.8 290.8 336.2 293.8 328.8 295.8 321.8 297.2 312.2 297.2 300.8 294.2 288.2 290.8 282.2 280.2 269.8 276.8 261.8 275.2 254.2 275.2 240.8 277.2 229.8 281.2 218.8 293.2 194.2 295.8 185.8 297.2 176.2 297.2 165.2 295.8 156.8 292.2 148.8ZM334.8 121.8L331.2 123.2 337.8 131.8 340.2 137.8 342.2 151.2 341.8 160.8 337.8 176.8 323.8 206.2 321.2 214.8 319.8 225.8 320.2 237.8 322.8 247.2 327.2 254.8 335.2 263.8 339.2 270.8 341.2 277.8 342.2 287.2 341.8 296.2 339.2 308.2 334.2 320.8 324.2 340.8 320.2 356.2 319.8 368.8 321.2 378.8 325.2 387.8 330.8 394.2 334.2 392.8 326.8 383.8 323.2 375.2 322.2 369.8 322.8 354.8 324.8 346.2 327.8 338.2 339.8 314.2 342.8 304.2 344.2 294.2 344.2 280.2 341.2 267.2 336.8 259.8 327.2 248.8 324.2 242.8 322.2 233.8 322.2 222.8 325.2 208.8 328.2 201.2 338.8 180.8 341.8 172.2 343.8 162.8 344.2 144.2 343.2 137.8 339.8 128.2ZM374.8 105.2L371.2 106.8 376.8 112.8 381.2 120.8 383.2 128.8 383.2 142.2 379.2 158.2 365.2 187.2 362.8 196.2 361.2 207.2 361.8 222.2 363.8 230.8 367.2 237.8 375.2 246.8 379.8 253.2 383.2 264.8 383.2 278.2 380.8 289.8 377.2 298.8 365.8 321.8 361.8 337.8 361.2 353.2 362.2 361.2 365.2 370.2 370.8 377.8 373.2 377.2 374.2 376.2 368.8 369.2 365.2 361.2 363.8 353.8 364.2 336.8 366.2 327.8 368.8 320.8 381.2 295.2 384.8 283.2 385.8 275.8 385.8 264.8 383.2 253.2 379.8 246.8 372.2 238.2 367.8 231.8 365.8 227.2 363.8 217.8 363.8 204.8 366.2 191.8 371.2 179.2 381.2 159.2 384.2 149.8 385.8 140.2 385.8 128.8 383.8 118.8 381.2 113.2Z"/><path fill="#4f6359" stroke="#26342d" stroke-opacity="0.35" stroke-width="0.5" d="M286.2 141.2L269.2 142.2 257.8 144.2 251.2 146.2 245.2 149.2 241.8 152.8 241.2 155.8 242.2 159.2 245.8 157.8 245.8 153.2 248.2 150.2 252.2 147.8 263.8 144.2 275.2 142.8 282.2 142.8ZM373.8 105.2L352.2 106.8 339.2 110.2 334.2 112.8 330.8 115.8 329.8 118.2 330.8 122.8 333.8 121.8 334.8 116.2 337.8 113.2 345.2 109.8 356.8 107.2 367.2 106.8ZM21.2 102.8L20.2 100.8 17.2 101.8ZM362.8 72.8L357.8 71.2 359.2 74.2 358.8 79.2 353.2 83.8 344.8 86.8 332.8 88.8 299.2 90.2 290.2 91.8 278.8 95.2 272.8 98.2 269.2 101.8 268.8 105.8 270.8 110.8 270.8 114.2 268.2 117.8 261.8 121.2 255.2 123.2 246.2 124.8 213.2 126.2 196.8 129.2 190.8 131.2 183.2 135.2 180.8 137.8 180.2 142.2 181.2 143.8 185.2 144.8 184.2 140.8 184.8 138.8 187.8 135.2 196.8 130.8 204.2 128.8 221.2 126.8 247.2 125.8 256.8 124.2 265.2 121.8 271.2 118.8 274.8 115.2 275.2 112.2 272.8 104.2 273.8 101.8 279.8 96.8 287.8 93.8 300.8 91.2 333.2 89.8 348.2 87.2 354.2 85.2 360.8 81.8 362.8 79.8 363.8 77.2ZM109.8 66.2L108.8 64.2 105.2 65.8 106.2 68.2 106.2 71.2 105.2 73.2 102.8 75.8 97.2 78.8 81.8 82.8 64.2 83.8 57.8 85.2 83.8 83.8 99.2 79.8 105.8 76.8 109.8 73.2 110.8 70.8ZM311.8 60.8L310.2 59.2 306.8 58.8 307.8 61.2 307.2 64.8 303.2 68.8 295.8 72.2 288.2 74.2 272.8 76.2 245.8 77.2 233.8 79.2 227.2 81.2 220.2 84.8 217.8 87.2 217.2 92.2 218.8 95.8 219.2 99.8 218.2 101.8 214.2 105.2 204.8 109.2 195.8 111.2 180.2 112.8 160.2 113.2 142.8 116.2 133.8 119.8 129.2 123.8 129.2 130.2 134.2 131.8 132.8 128.2 132.8 125.2 133.8 123.2 137.2 120.2 144.2 117.2 160.8 114.2 193.8 112.8 202.8 111.2 213.8 107.8 218.8 105.2 222.8 101.8 223.2 96.8 221.2 92.2 221.2 88.8 224.8 84.8 229.2 82.2 237.8 79.8 246.8 78.2 280.2 76.8 294.2 74.2 301.8 71.8 309.8 67.2 311.8 64.2ZM250.2 44.8L249.2 43.8 245.2 42.8 246.8 47.2 245.8 50.8 242.8 53.8 233.2 57.8 218.2 60.2 185.2 61.8 176.8 63.2 166.8 66.2 161.2 68.8 156.2 73.2 155.8 76.8 158.2 83.2 157.8 86.2 155.2 89.2 149.8 92.2 136.2 95.8 98.8 97.8 83.2 100.8 76.2 103.2 70.8 106.2 67.2 110.8 67.8 114.8 72.8 116.2 71.8 114.2 71.8 110.2 76.8 105.2 86.8 101.2 100.2 98.8 137.2 96.8 153.2 92.8 158.2 90.2 161.8 86.8 162.2 82.8 160.2 77.8 160.2 74.2 164.2 69.8 168.8 67.2 176.2 64.8 186.8 62.8 218.8 61.2 234.8 58.8 242.2 56.2 247.8 53.2 250.8 49.2ZM198.8 31.2L193.8 29.8 194.8 31.8 194.2 36.2 190.8 39.8 183.8 43.2 172.2 46.2 157.8 47.8 149.2 47.8 146.8 48.8 170.2 47.8 187.2 43.8 193.8 40.8 197.8 37.8 199.2 34.8Z"/><path fill="none" stroke="#1a2620" stroke-opacity="0.5" stroke-width="0.45" d="M47.8 334.8L54.8 335.2 61.2 338.8 67.2 345.8 72.2 356.2 67.2 345.8 61.2 338.8 54.8 335.2ZM96.8 313.8L105.8 315.8 113.8 320.8 122.2 329.8 134.2 347.2 142.8 355.8 152.8 361.2 159.2 363.2 168.8 364.2 173.2 366.8 181.2 376.2 184.8 384.8 181.2 376.2 173.2 366.8 168.8 364.2 159.2 363.2 152.8 361.2 142.8 355.8 134.2 347.2 122.2 329.8 113.8 320.8 105.8 315.8ZM340.8 311.2L327.8 338.2 322.8 354.8 322.2 369.8 323.2 375.2 326.8 383.2 324.8 379.8 322.2 369.8 322.8 354.8 327.8 338.2ZM225.8 324.2L218.2 315.8 208.2 309.2 203.2 307.8 193.8 307.8 188.8 309.2 180.8 314.2 172.2 325.2 168.8 336.8 169.8 347.8 168.8 336.8 172.2 325.2 180.8 314.2 188.8 309.2 193.8 307.8 203.2 307.8 208.2 309.2 218.2 315.8 225.8 325.2 224.2 329.2 216.2 336.2 210.2 338.2 199.2 339.2 191.8 343.8 199.2 339.2 210.2 338.2 216.2 336.2 224.2 329.2ZM269.8 292.8L261.2 292.2 255.8 294.8 251.8 298.8 250.2 298.2 253.2 304.8 255.2 312.8 255.8 330.8 252.2 347.8 242.2 368.2 233.8 356.8 225.8 348.8 218.2 344.2 209.8 342.2 218.2 344.2 225.8 348.8 233.8 356.8 242.2 368.8 252.8 347.2 258.8 349.2 268.8 348.2 275.2 344.8 280.8 339.2 285.2 331.2 286.8 325.8 286.8 316.8 285.2 311.2 278.2 299.2 274.2 295.2ZM256.2 327.8L260.8 329.8 267.2 336.2 272.2 344.8 271.8 346.8 264.2 349.2 256.2 348.8 252.2 346.8 254.2 340.2ZM261.2 292.2L268.2 292.2 274.2 295.2 281.8 304.2 285.2 311.2 286.8 316.8 286.8 325.8 285.2 331.2 280.8 339.2 272.8 346.2 269.2 339.2 264.8 333.2 260.8 329.8 255.8 327.2 255.2 312.8 253.2 304.8 250.8 300.2 253.8 296.2ZM99.8 282.8L109.8 291.8 112.8 296.2 112.8 298.2 111.2 300.8 104.8 306.8 100.8 308.8 94.2 309.8 100.8 308.8 106.2 305.8 111.2 300.8 113.2 296.8 109.8 291.8ZM385.8 265.8L385.8 275.8 383.2 289.2 379.8 298.8 370.2 317.2 366.2 327.8 363.8 340.2 363.8 348.8 363.8 340.2 366.2 327.8 370.2 317.2 379.8 298.8 383.2 289.2 385.8 275.8ZM357.8 256.2L361.8 258.2 367.8 264.2 372.8 273.2 367.8 264.2 361.8 258.2 355.8 255.8 350.8 255.8 346.2 257.2 339.8 262.8 338.8 262.2 341.2 267.2 343.8 276.2 344.2 291.2 343.8 276.2 341.2 267.2 339.2 263.8 346.2 257.2 350.8 255.8ZM24.2 248.2L31.2 255.2 39.8 260.2 46.2 262.2 54.8 262.8 59.2 261.8 64.2 259.2 79.8 245.8 86.2 242.2 90.2 241.2 100.2 241.8 105.2 243.2 114.8 248.8 122.8 256.8 137.8 277.8 145.2 284.8 152.2 288.8 160.8 291.2 170.8 290.8 178.2 287.2 195.2 272.8 201.2 270.2 209.8 269.8 217.8 271.8 229.2 278.8 236.2 286.2 247.8 302.2 236.2 286.2 229.2 278.8 217.8 271.8 209.8 269.8 201.2 270.2 195.2 272.8 178.2 287.2 170.8 290.8 160.8 291.2 152.2 288.8 145.2 284.8 137.8 277.8 122.8 256.8 114.8 248.8 105.2 243.2 100.2 241.8 90.2 241.2 86.2 242.2 79.8 245.8 64.2 259.2 59.2 261.8 54.8 262.8 49.2 262.8 39.8 260.2 31.2 255.2ZM47.8 198.8L53.8 199.2 59.8 201.8 65.8 207.8 70.8 216.2 73.2 224.2 73.2 232.8 71.2 239.8 68.8 243.8 71.2 239.8 73.2 232.8 73.2 224.2 70.8 216.2 65.8 207.8 59.8 201.8 55.8 199.8ZM61.2 193.2L57.8 194.8 53.2 195.2 57.8 194.8ZM96.8 177.8L104.2 179.2 114.8 185.8 121.8 193.2 133.8 210.8 143.2 220.2 152.2 225.2 156.8 226.8 170.8 229.2 173.8 231.2 180.2 238.8 185.2 249.2 186.2 253.8 186.2 260.8 184.8 266.8 181.8 272.8 173.8 281.2 172.2 281.8 166.2 271.8 160.2 265.8 156.2 263.8 147.8 263.8 142.8 266.2 138.8 270.2 137.2 269.8 140.2 274.8 144.2 278.8 149.2 282.2 155.8 284.8 165.8 284.8 173.8 281.2 181.8 272.8 184.8 266.8 186.2 260.8 186.2 253.8 185.2 249.2 180.2 238.8 177.2 234.8 170.8 229.2 156.8 226.8 152.2 225.2 143.2 220.2 133.8 210.8 121.8 193.2 114.8 185.8 104.2 179.2ZM138.2 270.8L140.8 267.8 146.2 264.2 150.2 263.2 156.2 263.8 160.2 265.8 166.2 271.8 171.8 282.2 167.8 284.2 162.8 285.2 155.8 284.8 151.2 283.2 144.2 278.8 140.2 274.8ZM340.8 175.2L336.2 186.2 326.8 204.8 322.8 218.8 322.8 237.2 324.2 242.8 327.2 248.2 324.2 242.8 322.8 237.2 322.8 218.8 326.8 204.8 336.2 186.2ZM225.8 188.2L215.8 177.8 211.2 174.8 204.8 172.2 194.8 171.8 184.2 175.8 174.8 185.2 170.8 192.8 169.2 197.8 169.2 209.8 171.2 216.2 174.2 221.8 171.2 223.2 165.8 223.8 171.2 223.2 176.8 220.8 189.8 209.2 197.2 204.2 204.8 202.2 210.8 202.2 218.2 199.2 223.2 194.8 225.8 190.8ZM191.2 208.2L178.2 219.8 174.8 221.8 173.8 221.2 170.2 213.2 171.2 211.8 175.8 209.2 182.2 207.2 190.2 207.2ZM225.8 189.2L223.2 194.8 218.2 199.2 214.2 201.2 199.8 203.2 191.2 208.2 190.2 207.2 182.2 207.2 175.8 209.2 170.8 212.2 169.8 211.8 168.8 200.8 170.8 192.8 173.8 186.8 182.8 176.8 189.2 173.2 194.8 171.8 202.2 171.8 209.2 173.8 215.8 177.8 222.8 184.8ZM270.8 157.2L267.8 156.2 261.8 156.2 256.8 158.2 251.2 163.2 250.2 162.8 253.8 170.2 255.2 176.8 255.2 199.2 251.8 213.2 242.2 232.8 233.2 220.2 226.2 213.2 216.8 207.8 210.2 206.2 216.8 207.8 226.2 213.2 233.2 220.2 242.2 233.2 252.2 211.8 257.8 213.2 265.2 213.2 270.2 211.8 278.8 205.8 284.8 196.8 286.8 189.8 286.8 181.2 284.8 174.2 277.2 162.2ZM256.2 192.2L261.2 194.2 266.8 199.8 271.2 206.8 272.8 210.2 265.2 213.2 257.8 213.2 252.2 211.2 254.2 204.8ZM261.8 156.2L267.8 156.2 275.2 160.2 282.2 169.2 286.2 178.8 286.8 189.8 284.8 196.8 278.8 205.8 273.2 210.2 266.8 199.8 261.2 194.2 255.8 191.8 255.2 176.8 253.8 170.2 250.8 164.2 255.2 159.2ZM99.2 146.8L103.8 149.8 108.8 154.8 112.8 160.2 112.8 162.2 110.2 166.2 104.2 171.2 99.2 173.2 94.2 173.8 99.2 173.2 105.8 170.2 110.2 166.2 113.2 160.8 108.8 154.8 103.8 149.8ZM385.8 130.2L385.8 140.2 383.8 151.8 380.2 161.8 371.2 179.2 366.2 191.8 363.8 204.8 363.8 213.2 363.8 204.8 366.2 191.8 371.2 179.2 380.2 161.8 383.8 151.8 385.8 140.2ZM358.8 120.8L362.2 122.8 367.2 127.8 372.8 137.8 367.2 127.8 360.8 121.8 357.2 120.2 351.8 119.8 344.8 122.2 339.8 126.8 338.8 126.2 343.2 137.8 344.2 144.2 344.2 155.2 343.8 140.8 339.8 127.2 342.8 123.8 347.8 120.8 351.8 119.8ZM269.2 116.8L264.2 120.2 252.8 123.8 241.2 125.2 213.2 126.2 196.8 129.2 190.8 131.2 183.2 135.2 179.2 140.2 172.2 146.2 165.8 135.2 160.8 130.2 155.2 127.8 146.8 128.2 142.2 130.8 138.8 134.2 137.2 133.8 137.2 134.8 139.8 138.2 148.2 145.8 155.2 148.8 163.8 149.2 169.2 147.8 175.2 144.2 184.8 134.2 196.8 129.2 213.2 126.2 241.2 125.2 252.8 123.8 264.2 120.2ZM138.2 135.2L142.2 130.8 146.8 128.2 155.2 127.8 160.8 130.2 165.8 135.2 169.2 140.2 171.8 146.2 163.8 149.2 155.2 148.8 144.8 143.2 139.8 138.2ZM129.2 123.8L132.2 120.8 138.2 117.8 148.8 114.8 158.2 113.8 148.8 114.8 138.2 117.8 133.8 119.8 129.2 123.8 129.2 130.2 136.8 140.8 147.2 150.2 154.2 153.8 159.8 155.2 169.2 155.2 177.8 151.8 185.2 145.2 184.2 140.8 184.8 139.2 184.2 140.8 185.2 145.2 177.8 151.8 169.2 155.2 159.8 155.2 154.2 153.8 145.8 149.2 136.8 140.8 129.2 130.2ZM72.8 116.2L71.8 114.2 71.8 110.8 71.8 114.2 72.8 116.2 66.8 121.8 57.8 126.2 47.8 126.8 36.2 122.8 28.8 117.2 24.2 112.2 28.8 117.2 36.2 122.8 47.8 126.8 55.8 126.8 60.8 125.2 66.8 121.8ZM360.2 105.8L345.2 108.2 332.8 113.8 330.8 115.8 329.8 119.8 330.8 122.8 334.8 127.2 335.2 129.2 336.2 130.2 335.8 128.8 330.8 122.8 329.8 119.8 330.2 116.8 332.8 113.8 345.2 108.2ZM273.2 103.2L272.8 104.8 275.2 113.2 271.8 120.2 269.2 131.2 269.8 137.2 271.2 141.8 251.2 146.2 245.2 149.2 241.8 152.8 241.2 155.8 242.2 159.2 247.8 166.2 242.2 159.2 241.2 155.8 241.8 152.8 245.2 149.2 251.2 146.2 262.8 143.2 286.2 141.2 292.2 148.8 294.8 153.8 296.8 161.2 297.2 176.2 295.8 185.8 291.2 199.2 281.2 218.8 277.2 229.8 275.2 240.8 275.2 254.2 276.8 261.8 280.2 269.8 290.8 282.2 294.2 288.2 297.2 300.8 297.2 312.2 295.8 321.8 292.2 332.8 278.2 362.2 275.8 372.8 275.2 385.2 275.8 372.8 278.2 362.2 290.8 336.2 295.2 323.8 297.2 312.2 297.2 302.2 304.2 300.2 308.2 297.8 314.2 290.2 314.2 287.8 304.8 277.8 301.2 275.2 292.8 271.8 284.2 271.2 282.2 272.2 276.8 261.8 275.2 249.8 281.8 242.2 287.8 238.2 296.2 235.8 306.8 236.8 316.2 241.8 323.2 248.8 336.2 265.8 323.2 248.8 316.2 241.8 306.8 236.8 296.2 235.8 290.2 237.2 281.8 242.2 276.2 248.8 275.2 248.8 275.2 240.8 277.2 229.8 281.2 218.8 291.2 199.2 294.8 189.8 297.2 176.2 297.2 166.8 307.8 162.2 313.2 156.2 314.2 151.8 303.2 140.8 294.2 136.2 288.2 135.2 281.8 135.8 278.2 136.8 271.2 140.8 270.2 139.8 269.2 132.8 269.8 126.8 271.8 120.2 275.2 113.2 273.2 107.2ZM282.2 272.2L284.2 271.2 290.2 271.2 296.2 272.8 304.8 277.8 312.2 285.8 314.2 288.8 313.2 292.2 305.2 299.8 297.8 301.8 293.2 286.2ZM270.8 141.2L273.2 139.2 281.8 135.8 288.2 135.2 294.2 136.2 299.2 138.2 305.8 142.8 313.2 151.2 314.2 154.2 312.2 157.8 307.8 162.2 302.2 165.2 297.8 166.2 296.8 164.8 296.8 161.2 294.8 153.8 290.2 145.8 286.2 141.2 271.8 142.2ZM225.8 97.8L231.8 105.8 241.2 111.8 249.2 113.2 255.8 112.2 249.2 113.2 241.2 111.8 234.2 107.8 227.2 100.8 226.8 98.8 231.8 93.8 238.2 91.2 244.8 91.8 248.8 93.8 253.2 97.8 257.2 103.2 259.8 108.8 257.2 103.2 253.2 97.8 248.8 93.8 244.8 91.8 236.2 91.8 231.8 93.8 226.8 98.2ZM156.2 88.2L147.2 93.2 136.2 95.8 105.2 97.2 89.2 99.2 76.2 103.2 68.8 108.2 76.2 103.2 89.2 99.2 105.2 97.2 136.2 95.8 147.2 93.2ZM357.8 80.2L355.8 82.2 349.8 85.2 339.8 87.8 326.2 89.2 299.2 90.2 284.2 93.2 272.8 98.2 262.8 108.8 260.2 110.2 262.8 108.8 272.8 98.2 284.2 93.2 299.2 90.2 326.2 89.2 339.8 87.8 349.8 85.2 355.8 82.2ZM246.8 77.2L233.8 79.2 224.8 82.2 220.2 84.8 217.2 88.2 217.2 92.2 219.2 99.8 218.2 101.8 214.2 105.2 204.8 109.2 192.2 111.8 189.2 111.8 187.8 110.8 188.8 111.2 187.2 112.2 204.8 109.2 214.2 105.2 218.2 101.8 219.2 99.8 217.2 92.2 217.2 88.2 220.2 84.8 224.8 82.2 233.8 79.2ZM160.2 74.8L162.2 85.2 158.2 93.2 156.8 99.2 156.8 107.8 158.2 112.8 156.8 107.8 156.8 99.2 158.2 93.2 162.2 85.2ZM244.8 51.8L242.8 53.8 237.8 56.2 226.2 59.2 210.8 60.8 190.2 61.2 176.8 63.2 164.2 67.2 157.2 71.8 164.2 67.2 176.8 63.2 190.2 61.2 210.8 60.8 226.2 59.2 237.8 56.2 242.8 53.8Z"/></g><path fill="none" stroke="#1a2620" stroke-opacity="0.45" stroke-width="0.7" d="M16.8 368.2L16.8 373.8 21.2 374.8 19.8 371.2ZM193.8 29.8L194.8 31.8 194.2 36.2 190.8 39.8 186.2 42.2 172.2 46.2 157.8 47.8 149.2 47.8 145.8 49.2 153.2 58.8 156.8 67.2 157.2 72.2 149.8 80.2 145.2 82.8 140.2 84.2 132.8 84.2 128.8 83.2 123.8 80.8 115.8 73.8 108.8 64.2 105.2 65.8 106.2 68.2 106.2 71.2 105.2 73.2 102.8 75.8 97.2 78.8 81.8 82.8 64.2 83.8 57.2 85.8 62.2 91.2 66.2 97.8 68.2 103.2 68.8 108.2 62.8 115.2 56.2 119.2 49.8 120.8 46.2 120.8 39.8 119.2 32.8 115.2 26.2 108.8 20.8 100.8 16.8 102.2 24.8 113.2 27.8 125.2 27.8 138.2 26.8 144.8 23.2 156.8 16.8 169.8 16.8 176.2 22.2 183.8 31.2 192.2 39.8 196.8 46.2 198.2 47.8 199.2 47.8 202.8 49.8 210.2 52.8 216.2 64.8 230.8 66.8 234.8 68.8 241.8 68.8 244.2 63.8 250.2 59.8 253.2 52.2 256.2 43.8 256.2 38.8 254.8 32.2 250.8 26.8 245.2 23.8 240.2 16.8 232.2 16.8 237.8 25.2 250.2 27.8 261.2 27.8 274.2 26.2 282.8 22.8 293.8 16.8 305.8 16.8 312.2 22.8 320.2 30.8 327.8 37.8 331.8 46.8 334.2 47.8 335.2 48.2 340.8 50.2 347.2 53.2 352.8 56.8 356.8 72.2 356.8 73.2 360.2 73.2 368.8 71.8 374.2 67.2 382.8 68.2 386.8 72.8 387.8 80.2 381.2 87.2 377.8 101.2 377.8 105.8 379.2 114.2 384.2 120.2 389.8 129.8 402.2 134.2 403.2 132.8 400.2 133.2 395.8 136.8 392.2 143.2 389.2 157.8 386.2 184.8 384.8 186.2 389.8 186.2 396.2 184.2 403.8 180.2 410.8 180.8 415.2 185.8 416.2 192.8 410.2 200.8 406.2 213.2 406.2 218.2 407.8 228.2 413.8 234.8 420.2 242.8 430.8 245.8 429.2 246.2 424.2 249.2 421.2 252.8 419.2 264.8 415.8 282.8 414.2 286.2 412.8 281.8 407.8 278.2 401.8 275.8 393.2 275.2 385.8 282.8 377.2 289.8 373.2 295.2 371.8 303.2 371.8 308.8 373.2 318.2 379.2 323.8 385.2 327.8 391.2 330.8 394.2 334.2 393.2 334.2 388.8 335.2 387.2 341.8 382.8 354.8 379.2 370.8 378.2 374.2 376.8 368.8 369.2 366.2 364.2 364.2 357.2 363.8 349.2 367.2 344.8 373.8 339.2 377.8 337.2 385.8 335.2 394.8 336.2 403.2 340.2 411.8 348.2 418.8 357.8 418.8 351.8 413.8 344.8 410.8 333.2 410.8 322.2 411.8 315.8 414.8 305.8 418.8 297.2 418.8 290.2 412.8 281.8 405.8 274.2 396.2 268.2 385.8 265.2 383.2 253.2 379.8 246.8 372.2 238.2 367.8 231.8 365.8 227.2 363.8 217.8 364.2 212.8 373.2 203.8 376.8 201.8 383.2 199.8 392.2 199.8 399.8 202.2 405.8 206.2 410.8 211.2 418.8 221.8 418.8 216.2 413.2 207.8 410.8 197.2 411.2 182.8 414.8 169.8 418.8 161.8 418.8 154.2 408.8 141.2 402.2 135.8 395.8 132.2 385.8 129.8 384.8 122.8 382.8 116.2 379.2 110.2 374.8 105.2 360.2 105.8 359.2 104.8 357.8 95.2 359.2 86.8 363.8 77.2 362.8 72.8 357.8 71.2 353.2 75.2 348.2 77.8 341.2 79.2 335.8 78.8 329.8 76.8 323.8 73.2 316.2 66.2 311.2 59.8 306.8 58.8 307.8 61.2 307.2 64.8 303.2 68.8 294.2 72.8 278.8 75.8 247.2 77.2 245.2 71.8 245.2 62.8 247.2 55.8 250.8 49.2 250.2 44.8 249.2 43.8 244.8 42.8 239.2 47.2 231.8 50.2 223.8 50.2 219.8 49.2 214.2 46.8 209.2 43.2 202.2 36.2 198.2 30.8ZM191.8 343.8L178.8 355.2 174.8 357.8 173.2 356.2 170.2 349.2 171.8 347.2 177.8 344.2 181.8 343.2ZM99.2 282.8L96.8 288.8 94.8 297.8 94.2 309.2 87.8 310.2 82.8 312.2 77.8 315.8 67.8 325.2 61.8 328.8 60.2 327.2 56.8 318.8 55.8 309.8 57.2 301.8 62.8 291.2 70.2 283.8 78.2 279.8 87.8 278.8 92.8 279.8ZM372.8 273.2L375.2 280.8 375.2 289.8 373.2 296.2 368.2 304.2 363.2 308.8 356.2 312.2 345.8 312.8 341.2 311.2 340.8 310.2 343.2 301.8 344.2 291.8 349.2 290.8 355.2 288.2ZM97.8 145.8L98.8 146.8 98.8 148.2 95.2 159.2 94.2 173.2 88.2 174.2 82.2 176.8 76.8 180.8 67.2 189.8 61.8 193.2 58.2 187.2 56.8 182.8 55.8 173.8 58.2 163.2 63.2 154.8 69.8 148.2 78.8 143.8 90.2 143.2ZM372.8 137.8L375.2 144.8 375.2 153.8 373.8 159.2 368.8 167.8 364.2 172.2 355.2 176.8 347.8 177.2 341.8 175.8 340.8 174.2 343.2 165.8 344.2 155.8 349.8 154.8 354.8 152.8 360.2 148.8 367.8 141.2ZM259.8 108.8L260.2 109.8 258.8 110.8 258.2 110.2ZM158.2 113.2L158.2 112.2 161.8 109.8 171.2 106.8 179.8 107.2 185.8 109.2 187.8 110.8 186.8 112.2 168.2 112.8 159.8 113.8Z"/>
<clipPath id="cu"><path d="M546.2 223.2L546.2 244.2 563.8 248.8 559.8 242.2 559.8 238.2 549.8 229.2ZM730.8 96.8L734.2 102.2 734.8 106.8 744.8 116.2 747.2 120.8 747.2 101.2ZM633.8 72.8L621.8 77.8 619.8 80.2 615.2 82.8 601.8 85.8 576.2 96.2 585.8 104.8 589.8 110.8 588.8 112.2 582.2 116.2 575.2 117.2 567.2 114.2 564.2 111.8 563.2 107.8 560.2 102.8 546.2 108.8 546.2 129.2 548.8 136.8 548.8 146.2 546.2 155.8 546.2 198.8 552.8 205.8 555.8 207.8 570.8 213.8 572.2 225.2 575.8 231.8 586.2 230.8 593.2 231.2 593.2 237.8 591.8 242.8 589.8 246.2 584.2 251.8 584.8 254.2 618.2 262.8 622.8 261.2 629.8 261.2 635.2 263.2 642.2 268.8 659.2 272.8 672.8 267.2 675.8 264.2 678.8 262.8 688.8 260.8 715.8 249.2 705.2 239.2 702.2 233.8 710.2 228.2 713.8 227.2 718.8 227.2 724.8 229.2 730.2 233.8 730.8 236.2 734.2 241.8 747.2 236.8 747.2 214.8 745.2 208.8 745.2 198.2 747.2 190.8 747.2 149.2 742.8 143.2 739.2 140.2 731.2 135.8 721.8 132.2 720.2 121.2 716.2 114.2 699.2 114.2 699.2 106.2 702.2 99.2 706.8 94.8 707.8 92.8 706.8 90.8 673.2 82.2 669.8 83.2 663.8 83.2 657.2 80.8 651.8 76.8ZM616.2 163.8L615.2 165.8 610.2 166.2 604.8 169.2 603.8 168.8 609.2 164.2 612.2 163.2Z"/></clipPath><g clip-path="url(#cu)"><g filter="url(#sm)"><path fill="#141b18" d="M546.2 223.2L546.2 244.2 563.8 248.8 559.8 242.2 559.8 238.2 549.8 229.2ZM730.8 96.8L734.2 102.2 734.8 106.8 744.8 116.2 747.2 120.8 747.2 101.2ZM633.8 72.8L621.8 77.8 619.8 80.2 615.2 82.8 601.8 85.8 576.2 96.2 585.8 104.8 589.8 110.8 588.8 112.2 582.2 116.2 575.2 117.2 567.2 114.2 564.2 111.8 563.2 107.8 560.2 102.8 546.2 108.8 546.2 129.2 548.8 136.8 548.8 146.2 546.2 155.8 546.2 198.8 552.8 205.8 555.8 207.8 570.8 213.8 572.2 225.2 575.8 231.8 586.2 230.8 593.2 231.2 593.2 237.8 591.8 242.8 589.8 246.2 584.2 251.8 584.8 254.2 618.2 262.8 622.8 261.2 629.8 261.2 635.2 263.2 642.2 268.8 659.2 272.8 672.8 267.2 675.8 264.2 678.8 262.8 688.8 260.8 715.8 249.2 705.2 239.2 702.2 233.8 710.2 228.2 713.8 227.2 718.8 227.2 724.8 229.2 730.2 233.8 730.8 236.2 734.2 241.8 747.2 236.8 747.2 214.8 745.2 208.8 745.2 198.2 747.2 190.8 747.2 149.2 742.8 143.2 739.2 140.2 731.2 135.8 721.8 132.2 720.2 121.2 716.2 114.2 699.2 114.2 699.2 106.2 702.2 99.2 706.8 94.8 707.8 92.8 706.8 90.8 673.2 82.2 669.8 83.2 663.8 83.2 657.2 80.8 651.8 76.8ZM616.2 163.8L615.2 165.8 610.2 166.2 604.8 169.2 603.8 168.8 609.2 164.2 612.2 163.2Z"/><path fill="#1b2420" d="M546.2 223.2L546.2 244.2 563.8 248.8 559.8 242.2 559.8 238.2 549.8 229.2ZM730.8 96.8L734.2 102.2 734.8 106.8 745.2 116.8 747.2 120.8 747.2 101.2ZM633.8 72.8L621.8 77.8 619.8 80.2 615.2 82.8 601.8 85.8 576.2 96.2 585.8 104.8 589.8 110.8 581.2 116.8 574.8 117.2 568.8 115.2 563.8 111.2 563.2 107.8 560.2 102.8 546.2 108.8 546.2 129.2 548.8 136.8 548.8 146.2 546.2 155.8 546.2 198.8 555.8 207.8 570.8 213.8 572.2 225.2 575.8 231.8 593.2 230.8 592.2 241.8 589.8 246.2 584.2 251.8 584.8 254.2 618.2 262.8 622.8 261.2 629.8 261.2 635.2 263.2 642.2 268.8 659.2 272.8 672.8 267.2 678.8 262.8 688.8 260.8 715.2 249.8 705.2 239.2 702.2 233.8 710.2 228.2 719.2 227.2 725.8 229.8 728.8 232.2 729.2 231.2 730.8 236.2 734.2 241.8 747.2 236.8 747.2 214.8 745.2 208.8 745.2 198.2 747.2 190.8 747.2 149.2 739.2 140.2 731.2 135.8 721.8 132.2 720.2 121.2 716.2 114.2 699.2 114.2 699.8 104.2 702.2 99.2 707.8 92.8 706.8 90.8 673.2 82.2 663.8 83.2 657.2 80.8 651.8 76.8ZM616.2 163.8L615.2 165.8 610.2 166.2 603.2 169.2 609.2 164.2 612.2 163.2Z"/><path fill="#222d27" d="M546.2 223.2L546.2 244.2 563.8 248.8 555.2 238.8 555.8 237.8 560.2 242.8 559.2 240.8 559.8 238.2 549.8 229.2ZM730.8 96.8L734.2 102.2 734.8 106.8 745.2 116.8 747.2 120.8 747.2 101.2ZM633.8 72.8L621.8 77.8 619.8 80.2 615.2 82.8 601.8 85.8 576.2 96.2 585.8 104.8 589.8 110.8 582.8 116.2 574.2 117.2 566.8 114.2 560.2 107.8 561.2 107.2 563.8 109.8 560.2 102.8 546.2 108.8 546.2 129.2 548.8 136.8 548.8 146.2 546.2 155.8 546.2 198.8 555.8 207.8 570.8 213.8 572.2 225.2 575.8 231.8 593.2 230.2 592.8 240.8 590.2 245.8 584.2 251.8 584.8 254.2 618.2 262.8 622.8 261.2 629.8 261.2 635.2 263.2 642.2 268.8 659.2 272.8 672.8 267.2 678.8 262.8 688.8 260.8 715.2 249.8 705.2 239.2 702.2 233.8 711.2 227.8 719.8 227.2 728.8 230.8 734.2 241.8 747.2 236.8 747.2 214.8 745.2 208.8 745.2 198.2 747.2 190.8 747.2 149.2 739.2 140.2 731.2 135.8 721.8 132.2 720.2 121.2 716.2 114.2 699.2 114.2 699.2 105.8 702.8 98.2 706.8 94.8 707.8 92.8 706.8 90.8 673.2 82.2 663.8 83.2 657.2 80.8 651.8 76.8ZM617.2 163.2L615.2 165.8 608.8 166.8 602.2 170.2 605.8 166.2 610.2 163.8ZM631.8 162.2L631.8 163.8 628.8 165.8 629.2 163.8ZM650.2 143.2L651.8 145.2 651.2 146.2 649.8 144.8ZM677.8 142.8L682.8 144.2 678.2 145.2Z"/><path fill="#28362f" d="M546.2 223.2L546.2 244.2 563.8 248.8 559.2 244.2 553.2 235.2 553.8 234.2 559.8 241.2 559.8 238.2 550.2 230.2ZM730.8 96.8L734.2 102.2 734.8 106.8 745.2 116.8 747.2 120.8 747.2 101.2ZM633.8 72.8L621.8 77.8 619.8 80.2 615.2 82.8 601.8 85.8 576.2 96.2 585.8 104.8 589.8 110.8 583.2 116.2 573.2 117.2 568.8 115.8 564.8 113.2 560.2 107.8 560.2 105.8 563.2 108.2 560.2 102.8 546.2 108.8 546.2 129.2 548.8 136.8 548.8 146.2 546.2 155.8 546.2 198.8 555.8 207.8 570.8 213.8 572.2 225.2 575.8 231.8 592.2 230.8 592.2 229.2 593.2 229.2 593.8 237.2 592.2 242.8 590.2 246.2 584.2 251.8 584.8 254.2 618.2 262.8 622.8 261.2 629.8 261.2 635.2 263.2 642.2 268.8 659.2 272.8 672.8 267.2 678.8 262.8 688.8 260.8 715.2 249.8 705.2 239.2 702.2 233.8 710.8 227.8 718.8 226.8 726.8 229.8 728.8 228.8 730.8 236.2 734.2 241.8 747.2 236.8 747.2 214.8 745.2 208.8 745.2 198.2 747.2 190.8 747.2 149.2 739.2 140.2 731.2 135.8 721.8 132.2 720.2 121.2 716.2 114.2 698.8 114.2 698.8 107.2 702.2 98.8 706.8 94.8 707.8 92.8 706.8 90.8 673.2 82.2 663.8 83.2 657.2 80.8 651.8 76.8ZM619.2 163.2L616.2 163.8 615.2 165.8 608.8 166.8 601.8 170.8 606.2 165.8 613.2 162.8ZM633.8 161.2L630.2 165.8 626.8 167.2 622.2 164.8 623.8 164.2 626.8 165.8 631.2 161.2ZM649.8 142.2L654.2 149.2 653.8 150.2 649.2 145.8ZM677.2 139.8L678.2 139.8 679.8 142.8 683.8 143.8 687.2 146.2 686.2 146.8 683.2 144.8 678.2 145.2Z"/><path fill="#2f3e37" d="M552.8 232.2L559.8 239.8 559.8 238.2ZM546.2 223.2L546.2 244.2 563.8 248.8 556.2 240.2ZM730.8 96.8L734.2 102.2 734.8 106.8 745.2 116.8 747.2 120.8 747.2 101.2ZM633.8 72.8L621.8 77.8 619.8 80.2 615.2 82.8 601.8 85.8 576.2 96.2 585.8 104.8 589.8 110.8 582.8 116.8 574.2 117.8 566.2 114.8 560.2 107.8 560.2 104.8 563.2 107.8 560.2 102.8 546.2 108.8 546.2 129.2 547.2 129.8 548.8 136.8 548.8 146.2 546.2 155.8 546.2 198.8 555.8 207.8 570.8 213.8 572.2 225.2 575.8 231.8 592.2 230.8 590.2 223.8 583.2 216.8 586.8 217.2 589.8 220.8 593.8 229.8 593.8 239.2 590.2 246.8 584.2 251.8 584.8 254.2 618.2 262.8 622.8 261.2 629.8 261.2 635.2 263.2 642.2 268.8 659.2 272.8 672.8 267.2 678.8 262.8 688.8 260.8 715.2 249.8 705.2 239.2 702.2 233.8 711.2 227.2 720.8 226.8 728.8 228.2 730.8 236.2 734.2 241.8 747.2 236.8 747.2 214.8 745.2 208.8 745.2 198.2 747.2 190.8 747.2 149.2 739.2 140.2 731.2 135.8 721.8 132.2 720.2 121.2 716.2 114.2 698.2 114.2 698.2 108.2 699.8 102.8 702.2 98.2 706.8 94.8 707.8 92.8 706.8 90.8 673.2 82.2 663.8 83.2 657.2 80.8 651.8 76.8ZM635.2 159.8L634.2 162.8 629.2 166.8 625.2 167.2 622.2 164.8 616.2 163.8 615.2 165.8 608.8 166.8 600.8 171.8 605.8 165.8 610.2 163.2 617.8 162.2 627.2 164.2 632.2 159.8ZM649.2 141.8L655.8 151.8 655.8 153.8 652.2 149.2 648.2 146.8ZM676.8 136.8L681.2 142.2 685.8 144.2 690.2 148.8 693.2 154.2 694.8 160.2 694.2 168.2 691.8 173.8 687.2 178.8 680.8 181.8 678.2 181.8 678.2 180.8 685.2 178.8 690.8 173.2 693.2 167.2 693.2 158.8 690.8 151.8 686.8 146.8 683.2 144.8 677.8 144.8Z"/><path fill="#36473e" d="M546.2 223.2L546.2 244.2 563.8 248.8 556.2 240.2ZM730.8 96.8L734.2 102.2 734.8 106.8 745.2 116.8 747.2 120.8 747.2 101.2ZM633.8 72.8L621.8 77.8 619.8 80.2 615.2 82.8 601.8 85.8 576.2 96.2 585.8 104.8 589.8 110.8 582.8 117.2 575.2 118.2 566.2 115.2 559.8 106.8 559.2 104.8 560.2 103.8 562.2 105.8 560.2 102.8 546.2 108.8 546.2 128.8 547.8 130.8 548.8 136.8 548.8 146.2 546.2 155.8 546.2 198.8 555.8 207.8 570.8 213.8 572.2 225.2 575.8 231.8 592.2 230.8 590.2 223.8 583.2 216.8 586.8 216.8 589.2 219.2 593.8 228.2 594.2 238.8 591.2 246.2 584.2 252.2 584.8 254.2 618.2 262.8 622.8 261.2 629.8 261.2 635.2 263.2 642.2 268.8 659.2 272.8 672.8 267.2 678.8 262.8 688.8 260.8 715.2 249.8 705.2 239.2 702.2 233.8 710.2 227.2 713.2 226.2 728.2 226.8 730.8 236.2 734.2 241.8 747.2 236.8 747.2 214.8 745.2 208.8 745.2 198.2 747.2 190.8 747.2 149.2 739.2 140.2 731.2 135.8 721.8 132.2 720.2 121.2 716.2 114.2 697.8 114.2 699.2 103.2 702.2 97.8 706.8 94.8 707.8 92.8 706.8 90.8 673.2 82.2 663.8 83.2 657.2 80.8 651.8 76.8ZM660.2 252.8L664.2 257.8 663.8 258.8 660.2 254.8ZM685.2 199.8L684.8 204.2 684.2 201.8ZM695.8 179.8L696.2 180.8 686.8 197.2 686.2 195.8 688.8 190.2ZM637.8 158.2L635.2 162.8 628.2 167.8 625.2 167.2 622.2 164.8 616.2 163.8 615.2 165.8 608.8 166.8 599.8 172.8 601.8 169.2 609.2 163.2 615.2 161.8 626.2 163.2 634.2 157.8 636.8 157.2ZM648.8 141.2L658.2 155.8 657.8 156.8 651.2 149.8 646.8 148.2ZM676.2 135.2L689.8 147.2 693.2 153.2 695.2 160.8 694.8 168.2 691.8 174.8 685.8 180.2 678.2 182.2 678.2 180.8 685.2 178.8 690.8 173.2 693.2 167.2 693.2 158.8 690.8 151.8 686.8 146.8 683.2 144.8 677.8 144.8ZM676.8 90.2L677.2 91.8 675.8 93.8 675.2 92.8Z"/><path fill="#3c5046" d="M546.2 223.2L546.2 244.2 563.8 248.8 556.2 240.2ZM730.8 96.8L734.2 102.2 734.8 106.8 745.2 116.8 747.2 120.8 747.2 101.2ZM633.8 72.8L621.8 77.8 619.8 80.2 615.2 82.8 601.8 85.8 576.2 96.2 585.8 104.8 589.8 110.8 582.8 117.8 572.8 118.2 567.8 116.2 560.2 107.8 559.2 104.8 560.8 103.8 560.2 102.8 546.2 108.8 546.2 128.8 547.8 130.8 548.8 136.8 548.8 146.2 546.2 155.8 546.2 198.8 555.8 207.8 570.8 213.8 572.2 225.2 575.8 231.8 592.2 230.8 590.2 223.8 583.2 216.8 587.8 216.8 590.2 219.8 594.2 228.2 594.8 239.8 591.2 247.8 584.2 252.8 584.8 254.2 618.2 262.8 622.8 261.2 629.8 261.2 635.2 263.2 642.2 268.8 659.2 272.8 672.8 267.2 678.8 262.8 688.8 260.8 715.2 249.8 705.2 239.2 702.2 233.8 704.8 230.2 710.2 226.8 716.8 225.2 723.2 226.2 728.2 225.2 730.8 236.2 734.2 241.8 747.2 236.8 747.2 214.8 745.2 208.8 745.2 198.2 747.2 190.8 747.2 149.2 739.2 140.2 731.2 135.8 721.8 132.2 720.2 121.2 716.2 114.2 696.8 114.2 698.8 103.2 700.8 99.2 706.8 94.8 707.8 92.8 706.8 90.8 673.2 82.2 663.8 83.2 653.2 78.8 651.8 76.8ZM659.8 251.8L666.2 259.8 665.8 260.8 661.2 256.2 659.2 252.8ZM636.8 236.8L638.8 236.2 641.8 237.8 640.2 238.2ZM697.8 176.2L697.8 178.2 686.8 197.2 683.8 210.8 683.2 206.2 686.2 194.8 691.8 183.8ZM720.2 170.8L720.8 172.8 718.8 178.8 712.2 189.8 711.8 188.8 717.2 179.2ZM641.2 154.2L640.8 156.8 636.8 162.2 629.8 167.8 625.2 167.2 622.2 164.8 616.2 163.8 615.2 165.8 608.8 166.8 599.2 173.2 601.2 169.2 609.2 162.8 614.8 161.2 625.2 162.2 633.2 157.2ZM561.8 142.2L563.2 141.8 567.8 143.8 565.8 144.2ZM648.2 140.8L659.2 157.2 658.8 158.8 651.8 151.2 643.2 151.8ZM558.8 140.8L559.8 140.2 562.2 141.8 560.8 142.2ZM675.8 134.2L689.2 145.8 693.8 153.2 695.8 160.8 694.8 170.8 691.8 176.2 686.2 180.8 679.2 182.8 677.8 182.2 678.2 180.8 685.2 178.8 690.8 173.2 693.2 167.2 693.2 158.8 690.8 151.8 686.8 146.8 683.2 144.8 677.8 144.8ZM616.8 115.2L617.2 116.2 615.2 119.8 614.8 118.2ZM676.8 89.2L677.2 91.8 675.2 94.2 674.8 92.8Z"/><path fill="#43594e" d="M546.2 223.2L546.2 244.2 563.8 248.8 556.2 240.2ZM730.8 96.8L734.2 102.2 734.8 106.8 745.2 116.8 747.2 120.8 747.2 101.2ZM633.8 72.8L621.8 77.8 619.8 80.2 615.2 82.8 601.8 85.8 576.2 96.2 585.8 104.8 589.8 110.8 584.2 115.8 583.8 118.2 572.8 118.8 569.2 117.2 561.2 109.2 559.8 106.8 559.8 103.2 546.2 108.8 546.2 128.8 550.8 134.2 549.8 134.8 547.8 132.8 548.8 146.2 546.2 155.8 546.2 198.8 555.8 207.8 570.8 213.8 572.2 225.2 575.8 231.8 592.2 230.8 590.2 223.8 583.2 216.8 588.8 216.8 590.8 219.2 595.2 230.2 595.2 242.2 594.2 246.8 584.8 254.2 618.2 262.8 622.8 261.2 629.8 261.2 635.2 263.2 642.2 268.8 659.2 272.8 672.8 267.2 678.8 262.8 688.8 260.8 715.2 249.8 705.2 239.2 702.2 233.8 702.2 232.2 709.8 226.2 714.8 224.8 725.2 225.2 728.2 224.2 730.8 236.2 734.2 241.8 747.2 236.8 747.2 214.8 745.2 208.8 745.2 198.2 747.2 190.8 747.2 149.2 739.2 140.2 731.2 135.8 721.8 132.2 720.2 121.2 716.2 114.2 695.8 114.2 698.2 103.2 700.2 99.2 706.8 94.8 707.8 92.8 706.8 90.8 673.2 82.2 663.8 83.2 653.2 79.2 651.8 76.8ZM659.2 250.8L668.8 263.2 661.2 256.2 658.8 251.8ZM635.2 236.2L637.8 235.8 647.2 240.2 646.2 240.8ZM620.8 195.2L623.2 194.2 630.2 194.8 627.8 195.8ZM574.2 187.8L577.8 186.8 584.2 187.2 582.2 188.2ZM721.8 162.2L722.2 166.2 719.8 176.8 715.8 185.2 710.8 192.2 710.2 191.2 719.2 174.2ZM659.8 158.8L659.2 159.8 652.2 152.8 649.2 152.2 645.2 154.2 635.2 164.8 630.2 168.2 625.2 167.2 620.8 164.2 616.2 163.8 615.2 165.8 610.2 166.2 605.8 168.2 598.2 174.2 600.8 169.2 606.2 163.8 613.8 160.8 626.2 160.8 638.2 153.2 643.8 147.8 647.8 140.2 651.2 144.2ZM555.8 139.2L556.8 138.8 570.8 144.8 568.8 145.2 563.8 143.8ZM674.2 131.8L683.2 138.2 691.2 147.2 694.8 154.2 696.2 160.2 696.2 168.8 694.2 176.2 699.8 173.8 686.8 197.2 683.8 210.8 683.2 204.2 684.8 197.8 692.8 178.8 682.8 182.8 678.2 183.2 677.8 181.2 685.2 178.8 689.8 174.8 693.2 167.2 693.2 158.8 690.8 151.8 686.8 146.8 683.2 144.8 677.8 144.8 677.2 139.8 673.8 132.8ZM617.2 114.8L617.8 115.8 615.2 120.2 614.8 118.2ZM676.8 88.8L677.2 91.8 674.2 95.2 674.2 92.8Z"/><path fill="#4a6256" d="M546.2 223.2L546.2 244.2 563.8 248.8 556.2 240.2ZM746.8 101.2L734.8 106.8 745.2 116.8 747.2 120.8ZM746.8 148.2L742.2 142.8 736.2 138.2 721.8 132.2 720.2 121.2 716.2 114.2 690.2 124.8 679.2 127.2 674.2 130.2 676.2 132.8 683.8 136.8 690.2 144.2 695.8 155.2 697.8 170.8 700.8 171.8 686.8 197.2 683.2 214.8 682.8 205.2 688.2 186.8 688.2 183.2 678.2 183.8 677.8 181.2 685.2 178.8 690.8 173.2 693.2 167.2 693.2 158.8 691.8 153.8 688.8 148.8 685.2 145.8 677.8 144.8 676.2 136.8 673.2 131.8 659.8 137.2 643.2 133.8 641.8 132.8 641.8 130.2 646.8 125.8 667.8 117.2 677.8 114.8 694.2 114.2 699.8 99.8 687.8 104.8 675.2 108.2 637.2 109.8 623.2 112.2 618.8 114.2 615.8 119.8 618.8 127.2 585.8 118.8 574.2 119.2 569.2 117.2 564.2 113.2 546.2 108.8 546.2 128.8 548.8 132.2 556.2 138.8 574.8 145.8 572.2 146.2 561.8 143.2 554.8 139.2 547.8 133.2 548.8 146.2 546.2 155.8 546.2 198.8 555.8 207.8 570.8 213.8 572.2 225.2 575.8 231.8 592.2 230.8 590.2 223.8 583.2 216.8 590.2 217.2 595.8 229.2 597.2 243.2 590.2 250.8 584.8 254.2 618.2 262.8 622.8 261.2 629.8 261.2 635.2 263.2 642.2 268.8 659.2 272.8 672.8 267.2 661.2 256.2 656.2 248.2 656.8 247.2 673.8 266.2 678.8 262.8 688.8 260.8 715.2 249.8 705.2 239.2 701.8 232.8 704.2 229.2 710.2 225.2 716.2 223.8 727.8 223.2 730.8 236.2 734.2 241.8 747.2 236.8 747.2 214.8 745.2 208.8 745.2 198.2 747.2 190.8ZM631.2 235.2L634.2 234.8 640.2 236.2 650.2 241.8 649.2 242.2 641.2 238.2ZM619.8 195.8L623.2 194.2 630.2 194.8 629.8 195.8 626.2 196.2ZM574.2 187.8L579.2 186.2 585.8 186.8 582.2 188.2ZM721.8 162.2L722.2 168.2 720.2 176.2 715.2 186.8 708.8 195.8 708.2 194.8 719.2 174.2ZM660.2 159.8L659.8 160.8 653.2 154.8 649.2 153.8 644.2 156.8 631.8 168.2 625.2 167.2 622.2 164.8 616.2 163.8 615.2 165.8 610.2 166.2 605.8 168.2 596.8 176.2 600.8 168.2 605.2 163.8 612.2 160.2 625.8 159.8 637.8 152.2 642.8 147.2 647.8 139.2ZM675.8 87.2L672.8 82.8 662.2 83.2 652.8 79.8 648.8 83.2 641.8 86.8 618.2 95.2 576.2 96.2 585.8 104.8 589.8 111.2 602.8 105.2 617.8 100.8 625.8 99.8 651.2 99.8 666.8 97.8 673.2 94.8Z"/><path fill="#506b5d" d="M546.2 223.2L546.2 244.2 563.8 248.8 556.2 240.2ZM746.8 101.2L734.8 106.8 745.2 116.8 747.2 120.8ZM746.8 148.2L742.2 142.8 736.2 138.2 721.8 132.2 720.2 121.2 716.2 114.2 690.2 124.8 679.2 127.2 674.8 129.8 678.8 133.2 685.8 136.2 688.8 139.2 695.8 153.2 698.8 167.2 701.8 169.2 686.8 197.2 684.2 206.8 683.2 216.8 682.2 206.8 686.2 186.2 684.8 184.8 678.8 184.8 677.8 180.8 678.8 179.2 680.2 180.8 685.2 178.8 690.8 173.2 693.2 167.2 693.2 158.8 691.8 153.8 685.2 145.8 677.8 144.8 676.2 136.8 673.2 131.8 659.8 137.2 643.2 133.8 641.8 132.8 641.8 130.2 643.8 127.8 652.8 122.8 673.2 115.2 692.8 113.8 694.2 112.2 698.8 100.2 675.2 108.2 637.2 109.8 623.2 112.2 618.8 114.2 615.8 120.8 618.8 127.2 585.8 118.8 574.2 119.2 569.2 117.2 564.2 113.2 546.2 108.8 546.2 128.8 548.8 132.2 556.2 138.8 564.8 142.8 576.8 146.2 573.2 146.8 563.2 144.2 552.8 138.2 547.8 133.8 548.8 136.8 548.8 146.2 546.2 155.8 546.2 198.8 555.8 207.8 570.8 213.8 572.2 225.2 575.8 231.8 592.2 230.8 590.8 224.8 585.8 218.2 583.2 216.8 590.8 216.8 596.2 228.2 597.8 237.8 599.2 240.8 590.2 250.8 584.8 254.2 618.2 262.8 622.8 261.2 629.8 261.2 635.2 263.2 642.2 268.8 659.2 272.8 672.8 267.2 661.2 256.2 657.8 249.8 653.2 244.8 643.8 239.2 629.8 235.2 629.8 234.2 642.2 236.8 651.2 241.8 674.2 265.8 678.8 262.8 688.8 260.8 715.8 249.2 705.2 239.2 701.8 232.8 701.8 231.2 706.8 226.2 711.8 223.8 727.8 222.2 729.8 233.2 734.2 241.8 747.2 236.8 747.2 214.8 745.2 208.8 745.2 198.2 747.2 190.8ZM619.2 196.2L623.2 194.2 629.8 194.2 631.8 195.2 625.2 196.8ZM586.8 186.2L582.2 188.2 574.8 188.2 573.2 187.2 580.8 185.8ZM722.2 158.2L722.8 167.2 720.2 177.2 713.8 189.8 708.2 196.8 707.8 195.8 719.2 174.2ZM660.8 161.2L660.2 162.2 653.8 156.2 649.2 155.2 644.2 158.2 632.2 168.8 625.2 167.2 620.8 164.2 616.2 163.8 615.2 165.8 610.2 166.2 605.8 168.2 595.8 177.2 599.2 169.2 605.2 162.8 614.2 158.8 624.2 158.8 629.8 156.8 642.2 146.2 647.2 138.8 659.2 157.2ZM674.2 86.2L672.2 84.2 661.8 83.8 652.2 80.2 641.8 86.8 617.8 95.8 591.2 95.2 576.2 96.2 585.8 104.8 589.8 111.2 602.8 105.2 617.8 100.8 625.8 99.8 651.2 99.8 666.8 97.8 672.2 95.8Z"/><path fill="#577365" d="M546.2 223.2L546.2 244.2 563.8 248.8 556.2 240.2ZM746.8 101.2L734.8 106.8 745.2 116.8 747.2 120.8ZM746.8 148.2L742.2 142.8 736.2 138.2 721.8 132.2 720.2 121.2 716.2 114.2 690.2 124.8 682.2 126.2 675.2 129.2 680.2 132.8 686.8 134.8 689.8 137.8 696.2 152.2 699.8 164.8 702.2 167.2 697.8 178.2 686.8 197.2 684.2 206.8 683.2 216.8 681.8 208.2 684.8 188.8 683.8 186.8 677.2 184.8 678.2 176.8 681.8 180.2 686.8 177.8 690.8 173.2 693.2 167.2 692.2 155.2 685.2 145.8 677.8 144.8 676.2 136.8 673.2 131.8 659.8 137.2 643.2 133.8 641.8 132.8 641.8 130.2 646.8 125.8 670.2 115.8 678.8 113.8 691.8 112.8 694.8 108.2 697.8 100.2 687.8 104.8 675.2 108.2 637.2 109.8 623.2 112.2 619.2 114.2 615.8 121.2 618.8 127.2 585.8 118.8 574.2 119.2 569.2 117.2 564.2 113.2 546.2 108.8 546.2 128.8 548.8 132.2 554.8 137.8 562.2 141.8 579.2 146.8 574.2 147.2 563.8 144.8 555.8 140.8 548.2 134.8 548.8 146.2 546.2 155.8 546.2 198.8 555.8 207.8 570.8 213.8 572.2 225.2 575.8 231.8 592.2 230.8 591.8 227.2 583.2 216.8 591.8 216.8 596.2 225.8 598.8 235.8 600.8 238.8 590.2 250.8 584.8 254.2 618.2 262.8 622.8 261.2 629.8 261.2 635.2 263.2 642.2 268.8 659.2 272.8 672.8 267.2 661.2 256.2 656.2 247.8 651.2 243.2 641.2 238.2 627.8 234.8 627.8 233.8 640.8 235.8 651.2 241.2 674.8 265.2 681.8 261.8 688.8 260.8 715.8 249.2 705.2 239.2 701.2 231.2 705.2 226.2 711.2 222.8 727.8 220.8 729.8 233.2 734.2 241.8 747.2 236.8 747.2 214.8 745.2 208.8 745.2 198.2 747.2 190.8ZM617.8 196.8L623.2 194.2 629.8 194.2 631.8 195.2 631.2 196.2 624.8 197.2ZM587.8 185.8L582.2 188.2 574.8 188.2 572.8 187.2 580.8 185.2ZM722.2 156.2L723.2 165.8 720.2 178.2 714.2 189.8 707.2 198.8 706.8 197.8 719.2 174.2ZM660.8 161.2L660.2 162.8 654.2 157.8 649.2 156.8 644.8 159.2 633.8 168.8 625.2 167.2 622.2 164.8 616.2 163.8 615.2 165.8 610.2 166.2 604.2 169.2 594.2 179.2 598.8 168.8 605.8 161.2 613.2 157.8 625.8 157.2 630.2 155.2 639.2 148.2 646.8 138.2 659.2 157.2ZM672.2 87.8L670.2 85.8 658.8 83.8 651.8 80.8 641.8 86.8 619.8 95.8 613.8 96.8 604.8 96.8 598.8 95.2 576.2 96.2 585.8 104.8 589.8 111.2 602.8 105.2 617.8 100.8 625.8 99.8 651.2 99.8 666.8 97.8 671.2 96.2Z"/><path fill="#5e7c6d" d="M546.2 223.2L546.2 244.2 563.8 248.8 556.2 240.2ZM746.8 101.2L734.8 106.8 745.2 116.8 747.2 120.8ZM746.8 148.2L742.2 142.8 736.2 138.2 727.2 134.2 721.8 133.2 720.2 121.2 716.2 114.2 690.2 124.8 682.2 126.2 676.2 128.8 679.8 131.2 686.8 132.8 691.2 136.2 700.2 162.2 703.2 165.8 697.8 178.2 686.8 197.2 682.8 217.8 681.8 214.8 681.8 201.8 683.2 191.2 680.8 187.2 677.2 185.8 678.2 173.2 679.8 172.8 681.8 180.2 686.8 177.8 692.2 170.2 693.2 158.8 684.2 145.2 677.8 144.8 676.2 136.8 673.2 131.8 659.8 137.2 643.2 133.8 641.8 132.8 641.8 130.2 646.8 125.8 670.2 115.2 690.8 111.8 692.8 109.8 696.8 100.8 687.8 104.8 675.2 108.2 637.2 109.8 623.2 112.2 619.8 113.8 616.2 121.2 618.8 127.2 585.8 118.8 574.2 119.2 569.2 117.2 564.2 113.2 546.2 108.8 546.2 128.8 548.8 132.2 554.8 137.8 562.2 141.8 581.8 147.2 574.2 147.8 563.8 145.2 555.8 141.2 548.2 135.8 548.8 146.2 546.2 155.8 546.2 198.8 555.8 207.8 570.8 213.8 572.2 225.2 575.8 231.8 592.2 230.8 592.2 229.2 588.8 225.8 583.2 216.8 593.8 217.2 599.2 233.2 602.2 237.2 590.2 250.8 584.8 254.2 618.2 262.8 622.8 261.2 629.8 261.2 635.2 263.2 642.2 268.8 659.2 272.8 672.8 267.2 661.2 256.2 656.2 247.8 651.2 243.2 643.8 239.2 626.2 234.2 626.2 233.2 638.8 234.8 649.8 239.8 657.2 245.8 675.2 264.2 681.8 261.8 688.8 260.8 715.8 249.2 705.2 239.2 701.2 231.2 701.8 228.2 709.8 221.8 727.8 219.2 729.8 233.2 734.2 241.8 747.2 236.8 747.2 214.8 745.2 208.8 745.2 198.2 747.2 190.8ZM616.8 197.2L623.2 194.2 629.8 194.2 633.2 195.8 625.2 197.8ZM589.8 184.2L582.2 188.2 574.8 188.2 571.8 186.8 579.8 184.8ZM722.8 155.2L723.8 164.8 720.2 179.2 714.8 189.8 705.8 201.8 705.2 200.8 719.2 174.2ZM660.8 161.2L660.2 163.8 652.8 158.2 648.8 158.2 634.8 169.2 625.2 167.2 620.8 164.2 616.2 163.8 615.2 165.8 610.2 166.2 604.2 169.2 592.2 181.2 598.8 167.2 606.2 159.2 613.8 156.2 623.8 156.2 630.8 153.8 640.8 145.2 646.2 137.8 651.2 144.2ZM670.8 89.2L668.2 86.8 650.8 81.8 624.2 94.8 617.2 96.8 602.2 97.2 595.2 95.2 576.2 96.2 585.8 104.8 589.8 111.2 602.8 105.2 617.8 100.8 625.8 99.8 651.2 99.8 666.8 97.8 670.8 96.2Z"/><path fill="#648575" d="M546.2 223.2L546.2 244.2 563.8 248.8 556.2 240.2ZM746.8 148.2L742.2 142.8 736.2 138.2 724.2 133.2 722.8 134.8 721.8 133.8 720.2 121.2 716.2 114.2 690.2 124.8 677.2 128.2 680.8 130.2 689.2 131.2 693.2 134.2 696.2 148.2 700.2 158.8 703.8 163.8 697.8 178.2 686.8 197.2 684.2 206.8 682.8 219.8 680.8 208.8 681.8 192.2 680.8 189.8 677.2 187.2 678.8 168.2 681.8 171.2 682.8 179.2 685.2 178.8 689.8 174.8 692.2 170.2 693.2 160.2 688.8 155.8 682.8 144.8 677.8 144.8 676.2 136.8 673.2 131.8 659.8 137.2 643.2 133.8 641.8 132.8 641.8 130.2 646.8 125.8 661.2 119.8 668.8 115.2 689.8 110.8 692.2 108.2 695.2 101.8 675.2 108.2 637.2 109.8 623.2 112.2 620.2 113.8 616.2 122.2 618.8 127.2 585.8 118.8 574.2 119.2 569.2 117.2 564.2 113.2 546.2 108.8 546.2 128.8 548.8 132.2 554.8 137.8 562.2 141.8 570.8 144.8 585.2 147.8 584.8 148.8 579.2 148.8 566.8 146.8 557.2 142.8 548.2 136.2 548.8 146.2 546.2 155.8 546.2 198.8 555.8 207.8 570.8 213.8 572.2 225.2 575.8 231.8 590.8 230.8 582.8 216.2 594.2 216.8 595.2 217.8 601.2 233.8 603.8 235.8 590.2 250.8 584.8 254.2 618.2 262.8 622.8 261.2 629.8 261.2 635.2 263.2 642.2 268.8 659.2 272.8 672.8 267.2 661.2 256.2 656.2 247.8 651.2 243.2 643.8 239.2 625.8 234.2 625.8 233.2 638.8 234.2 648.2 238.2 655.2 243.2 675.8 263.8 688.8 260.8 715.8 249.2 705.2 239.2 700.8 229.2 702.2 225.8 709.8 219.8 727.8 218.2 729.8 233.2 734.2 241.8 747.2 236.8 747.2 214.8 745.2 208.8 745.2 198.2 747.2 190.8ZM615.8 198.2L623.2 194.2 629.8 194.2 633.8 196.2 625.8 198.2ZM722.8 151.8L724.2 164.8 721.2 177.8 714.8 190.8 704.8 204.2 704.2 202.8 719.2 174.2ZM660.8 161.2L660.8 164.8 653.2 159.8 648.8 159.8 635.8 169.8 625.2 167.2 620.8 164.2 616.2 163.8 615.2 165.8 610.2 166.2 604.2 169.2 587.2 186.2 582.2 188.2 574.8 188.2 571.2 186.8 575.8 184.8 588.8 182.8 591.8 179.8 598.2 166.2 604.8 158.2 612.2 154.8 625.2 154.8 631.2 152.2 641.2 143.2 645.8 137.2 651.2 144.2ZM746.8 101.2L734.8 106.8 745.2 116.8 747.2 120.8ZM669.8 92.8L666.8 87.8 649.8 82.2 633.8 89.8 626.8 94.2 614.8 97.8 601.8 98.2 595.2 97.2 591.2 95.2 576.2 96.2 585.8 104.8 589.8 111.2 602.8 105.2 617.8 100.8 625.8 99.8 651.2 99.8 666.8 97.8 669.8 96.2Z"/><path fill="#6b8e7c" d="M546.2 223.2L546.2 244.2 563.8 248.8 556.2 240.2ZM746.8 148.2L739.2 140.2 731.2 135.8 725.8 133.8 722.2 136.8 720.2 121.2 716.2 114.2 690.2 124.8 678.2 127.8 684.2 129.2 693.8 129.2 696.2 131.2 696.8 145.8 700.2 155.8 704.2 161.8 701.2 171.2 686.8 197.2 684.2 206.8 682.8 221.8 680.2 210.2 680.2 193.2 676.8 188.8 678.2 180.2 678.8 165.2 681.8 164.8 684.2 166.8 684.2 179.2 690.8 173.2 693.2 167.2 693.2 162.8 690.8 162.8 687.8 160.2 686.2 153.2 682.2 144.8 677.8 144.8 676.2 136.8 673.2 131.8 659.8 137.2 643.2 133.8 641.8 132.8 641.8 130.2 646.8 125.8 660.2 119.8 667.2 115.2 688.8 109.8 691.8 106.8 693.8 102.2 683.2 106.2 671.8 108.8 637.2 109.8 623.2 112.2 620.8 113.8 616.8 122.2 618.8 127.2 585.8 118.8 574.2 119.2 569.2 117.2 564.2 113.2 546.2 108.8 546.2 128.8 556.2 138.8 570.8 144.8 585.2 147.8 595.2 147.2 605.2 140.8 603.2 144.2 598.2 148.2 583.8 149.8 573.2 148.8 563.8 146.2 548.8 137.8 548.8 146.2 546.2 155.8 546.2 198.8 555.8 207.8 570.8 213.8 572.2 225.2 575.8 231.8 586.8 230.8 584.8 222.8 581.8 217.2 582.2 216.2 596.2 216.8 599.2 226.8 601.8 231.8 605.2 234.8 590.2 250.8 584.8 254.2 618.2 262.8 622.8 261.2 629.8 261.2 635.2 263.2 642.2 268.8 659.2 272.8 672.8 267.2 661.2 256.2 656.2 247.8 651.2 243.2 643.8 239.2 622.8 233.2 636.8 233.2 649.2 238.2 657.2 244.2 672.8 260.2 677.2 263.2 688.8 260.8 715.8 249.2 705.2 239.2 701.2 231.2 700.2 225.8 703.2 221.2 707.8 217.8 727.8 216.8 729.8 233.2 734.2 241.8 747.2 236.8 747.2 214.8 745.2 208.8 745.2 198.2 747.2 190.8ZM614.2 199.2L623.2 194.2 629.8 194.2 634.8 196.2 626.8 198.8ZM722.8 147.8L724.8 157.8 723.2 173.2 716.2 189.2 702.8 209.2 704.2 202.8 719.2 174.2 721.8 162.2ZM660.8 161.2L660.8 165.8 655.2 161.8 650.2 160.8 644.2 163.8 636.8 170.2 625.2 167.2 620.8 164.2 616.2 163.8 615.2 165.8 610.2 166.2 604.2 169.2 590.8 183.8 585.2 187.2 574.8 188.2 570.2 186.2 587.8 181.8 591.8 177.2 597.8 164.8 604.2 155.2 610.8 152.8 627.8 152.8 633.8 149.2 645.2 136.2 651.2 144.2ZM746.8 101.2L734.8 106.8 745.2 116.8 747.2 120.8ZM668.2 93.2L667.2 90.8 664.2 88.2 648.2 83.2 636.2 88.8 625.8 95.2 615.2 98.2 594.2 99.2 589.2 98.2 587.2 95.8 576.2 96.2 585.8 104.8 589.8 111.2 602.8 105.2 617.8 100.8 625.8 99.8 651.2 99.8 668.2 97.2Z"/><path fill="#729784" d="M546.2 223.2L546.2 244.2 563.8 248.8 556.2 240.2ZM693.2 165.8L687.8 170.2 686.2 177.8 690.8 173.2ZM681.2 144.8L678.2 145.2 679.2 161.8 682.2 160.2 684.2 156.8 684.2 152.2ZM548.8 138.2L548.8 146.2 546.2 155.8 546.2 198.8 555.8 207.8 570.8 213.8 572.2 225.2 575.8 231.8 582.2 231.2 583.8 228.2 583.8 224.8 580.8 215.8 585.2 216.8 595.2 216.8 597.2 215.8 601.2 228.2 606.8 233.8 599.2 240.2 590.2 250.8 584.8 254.2 618.2 262.8 622.8 261.2 629.8 261.2 635.2 263.2 642.2 268.8 658.8 272.8 658.8 251.2 656.2 247.8 651.2 243.2 643.8 239.2 619.2 232.8 634.2 232.2 643.8 234.8 652.8 239.8 675.8 261.2 679.8 262.8 688.2 260.8 685.2 255.8 683.2 247.2 682.8 223.2 680.2 215.2 678.2 192.8 676.2 191.8 672.2 201.8 665.2 212.8 659.8 225.2 658.8 225.2 658.8 183.8 661.2 173.2 661.2 167.2 655.8 163.2 650.2 162.2 644.2 165.2 638.2 170.8 625.2 167.2 620.8 164.2 616.2 163.8 615.2 165.8 610.2 166.2 604.2 169.2 587.2 186.2 582.2 188.2 574.8 188.2 569.8 186.2 569.8 185.2 585.8 181.2 590.2 177.2 597.8 161.8 599.2 156.2 598.8 153.8 595.8 151.8 577.8 150.2 566.2 147.8 557.8 144.2ZM613.2 200.2L617.2 196.8 623.2 194.2 629.8 194.2 635.2 196.8 625.2 199.8ZM699.8 135.8L698.2 139.8 698.2 145.8 700.2 152.8 704.2 159.8 704.8 147.8 703.2 141.8ZM727.2 134.2L724.8 136.8 723.2 141.8 725.2 154.8 725.2 166.2 723.8 173.8 720.8 181.8 710.8 199.2 706.8 208.8 706.8 211.2 709.2 213.8 723.2 216.2 727.8 215.8 727.8 197.2 731.2 179.8 746.8 150.2 745.8 146.8 739.2 140.2ZM689.8 126.2L687.2 125.2 679.8 127.2 687.8 127.2ZM692.2 102.8L683.2 106.2 671.8 108.8 637.2 109.8 623.2 112.2 621.2 113.8 617.2 122.8 618.8 127.2 585.8 118.8 574.2 119.2 569.2 117.2 564.2 113.2 546.2 108.8 546.2 128.8 552.8 136.2 562.2 141.8 570.8 144.8 585.2 147.8 592.8 147.8 597.8 146.2 610.2 133.8 610.8 134.8 606.2 143.8 606.2 147.8 608.8 149.8 618.8 151.8 626.2 151.8 630.2 150.2 636.2 145.8 644.8 135.8 658.8 156.8 658.8 137.2 643.2 133.8 641.8 132.8 642.2 129.2 646.8 125.8 657.2 121.2 666.8 114.8 687.8 108.8ZM581.8 95.8L576.2 96.2 578.2 97.8ZM667.2 96.2L665.8 91.8 662.8 89.2 652.2 85.2 645.2 84.8 626.2 95.8 613.8 99.2 592.2 101.8 588.8 103.8 587.2 106.8 589.8 111.2 602.8 105.2 617.8 100.8 657.8 99.2 666.8 97.8Z"/><path fill="#78a08c" d="M546.2 223.2L546.2 244.2 563.8 248.8 556.2 240.2ZM692.2 169.8L689.8 172.2 688.2 176.2ZM680.2 144.8L678.2 145.2 679.2 158.8 682.2 154.8 682.2 150.2ZM548.8 139.2L548.8 146.2 546.2 155.8 546.2 198.8 555.8 207.8 570.8 213.8 572.2 225.2 575.8 231.8 578.2 230.8 581.8 225.8 579.8 215.8 595.2 216.8 598.8 215.2 602.2 227.2 605.8 231.2 609.8 232.8 604.2 235.2 590.2 250.8 584.8 254.2 618.2 262.8 622.8 261.2 629.8 261.2 635.2 263.2 642.2 268.8 658.8 272.8 658.8 251.2 653.2 244.8 643.8 239.2 635.2 236.2 617.8 232.8 617.8 231.8 630.8 231.2 639.8 232.8 650.2 237.2 676.2 260.2 680.2 261.8 688.2 260.8 685.2 255.8 683.8 250.2 682.8 225.2 679.8 216.2 678.2 198.2 676.8 193.8 675.8 193.2 672.2 201.8 665.2 212.8 659.8 225.2 658.8 225.2 658.8 183.8 660.8 177.2 661.2 167.8 656.2 164.8 650.2 163.8 645.8 165.8 639.8 170.8 625.2 167.2 620.8 164.2 616.2 163.8 615.2 165.8 610.2 166.2 604.2 169.2 587.2 186.2 582.2 188.2 574.8 188.2 568.2 185.2 583.8 180.8 589.2 176.2 594.8 164.8 594.8 156.2 590.2 153.2 564.2 147.8ZM611.2 202.2L615.8 197.8 623.2 194.2 629.8 194.2 636.2 197.2 627.2 200.2ZM701.2 138.2L699.8 145.8 701.2 151.8 704.2 157.2 704.8 147.8ZM728.2 134.8L724.8 141.2 726.2 164.2 724.2 174.2 710.2 204.2 711.2 210.2 720.2 214.2 727.8 214.2 727.8 197.2 730.2 182.8 746.8 150.2 746.8 148.2 742.2 142.8 736.2 138.2ZM690.8 103.2L683.2 106.2 671.8 108.8 637.2 109.8 623.2 112.2 617.8 123.2 618.8 127.2 585.8 118.8 574.2 119.2 569.2 117.2 564.2 113.2 546.2 108.8 546.2 128.8 552.8 136.2 562.2 141.8 570.8 144.8 585.2 147.8 592.8 147.8 597.8 146.2 612.2 131.8 612.8 132.8 609.2 141.8 609.8 144.8 611.8 147.2 620.2 150.2 626.8 150.2 631.2 148.2 639.2 141.2 644.2 134.8 658.8 156.8 658.8 137.2 643.2 133.8 641.8 132.8 642.2 129.2 668.2 113.2 686.8 107.8ZM663.8 92.2L661.2 90.2 652.8 86.8 646.8 85.8 641.8 87.2 624.2 97.2 594.2 103.8 588.8 109.2 589.8 111.2 602.8 105.2 617.8 100.8 657.8 99.2 665.8 97.8Z"/><path fill="#7fa894" d="M584.8 254.2L618.2 262.8 622.8 261.2 629.8 261.2 635.2 263.2 642.2 268.8 658.8 272.8 658.8 251.2 649.8 242.2 635.2 236.2 619.2 232.8 609.8 232.8 606.8 233.8 599.2 240.2 590.2 250.8ZM546.2 223.2L546.2 244.2 563.8 248.8 556.2 240.2ZM678.8 144.8L679.2 155.2 680.8 150.8ZM702.8 140.8L701.8 148.2 704.8 155.2 704.8 147.8ZM548.8 140.2L548.8 146.2 546.2 155.8 546.2 198.8 555.8 207.8 570.8 213.8 571.8 223.2 574.8 230.2 577.8 228.2 579.8 224.8 578.8 215.2 585.2 216.8 595.2 216.8 600.8 213.8 602.2 223.8 604.8 228.2 607.2 230.2 610.2 231.2 633.2 230.8 645.2 233.8 655.2 239.8 675.2 258.2 680.8 260.2 686.8 259.2 683.2 247.2 682.8 226.8 678.8 215.2 675.8 195.8 665.2 212.8 659.8 225.2 658.8 225.2 658.8 183.8 660.8 177.2 661.2 168.8 656.8 166.2 650.8 165.2 639.8 171.2 625.2 167.2 620.8 164.2 616.2 163.8 615.2 165.8 610.2 166.2 604.2 169.2 587.2 186.2 582.2 188.2 574.8 188.2 567.2 184.8 581.2 180.2 588.2 175.2 592.8 164.8 591.8 157.8 587.8 154.8 562.2 147.8ZM637.2 197.8L626.8 201.2 608.8 204.8 615.8 197.8 623.2 194.2 629.8 194.2ZM729.8 135.2L726.2 141.8 727.2 162.8 725.2 173.2 712.8 201.2 712.8 206.8 714.2 209.2 721.8 212.8 727.8 212.8 727.8 197.2 730.2 182.8 746.8 150.2 746.8 148.2 742.2 142.8 736.2 138.2ZM688.2 104.2L671.8 108.8 637.2 109.8 623.2 112.2 618.2 123.8 618.8 127.2 585.8 118.8 574.2 119.2 569.2 117.2 564.2 113.2 546.2 108.8 546.2 128.8 552.8 136.2 562.2 141.8 570.8 144.8 585.2 147.8 592.8 147.8 597.8 146.2 614.2 129.8 615.2 130.2 611.8 138.8 612.2 143.2 615.8 146.8 621.8 148.8 626.8 148.8 631.2 146.8 643.8 134.2 658.8 156.8 658.8 137.2 643.2 133.8 641.8 132.8 642.2 129.2 653.2 122.8 661.2 115.8 668.2 112.2 682.8 108.2ZM661.8 92.8L655.8 89.2 647.8 87.2 644.2 87.8 623.8 98.2 597.2 104.8 593.8 106.8 590.2 110.8 602.8 105.2 617.8 100.8 625.8 99.8 651.2 99.8 664.2 98.2Z"/><path fill="#86b19b" d="M584.8 254.2L618.2 262.8 622.8 261.2 629.8 261.2 635.2 263.2 642.2 268.8 658.8 272.8 658.8 251.2 649.8 242.2 635.2 236.2 619.2 232.8 609.8 232.8 606.8 233.8 599.2 240.2 590.2 250.8ZM546.2 223.2L546.2 244.2 563.8 248.8 556.2 240.2ZM703.8 143.2L703.2 146.8 704.8 152.2ZM548.8 141.8L548.2 149.2 546.2 155.8 546.2 198.8 555.8 207.8 570.8 213.8 571.8 223.2 573.8 228.2 577.8 224.2 577.2 215.2 585.2 216.8 596.8 216.2 601.2 213.8 615.8 197.8 621.2 194.8 629.8 194.2 637.8 198.2 636.8 199.2 613.8 205.2 605.2 210.8 603.2 214.2 602.8 220.2 605.8 226.8 612.8 230.2 631.2 229.8 644.2 232.2 654.2 237.8 675.2 256.8 678.8 258.2 686.2 257.2 683.2 247.2 682.8 228.8 678.8 218.8 674.2 197.2 665.2 212.8 659.8 225.2 658.8 225.2 658.8 183.8 661.2 173.2 660.2 169.2 652.2 166.8 646.8 168.8 642.2 172.2 633.2 168.8 625.2 167.2 620.8 164.2 616.2 163.8 615.2 165.8 610.2 166.2 604.2 169.2 587.2 186.2 582.2 188.2 574.8 188.2 566.2 183.8 581.2 178.8 585.8 175.8 590.2 167.2 589.2 159.2 583.8 155.2 563.8 149.2ZM731.2 135.8L727.8 143.2 728.2 163.8 726.8 171.2 714.8 199.8 715.2 206.2 718.2 209.2 723.2 211.2 727.8 210.8 727.8 197.2 730.2 182.8 746.8 150.2 746.8 148.2 742.2 142.8ZM684.2 105.8L667.2 109.2 637.2 109.8 625.2 111.8 619.2 123.2 618.8 127.2 585.8 118.8 574.2 119.2 569.2 117.2 564.2 113.2 546.2 108.8 546.2 128.8 552.8 136.2 562.2 141.8 570.8 144.8 585.2 147.8 592.8 147.8 597.8 146.2 616.2 128.2 613.8 137.2 614.2 141.2 616.2 144.2 623.2 147.2 628.2 146.8 632.8 144.2 643.2 133.8 648.2 139.8 658.8 156.8 658.8 137.2 643.2 133.8 641.8 132.8 641.8 130.2 661.8 114.2ZM662.8 98.2L661.2 95.2 657.2 91.8 650.2 89.2 644.8 89.2 626.2 98.2 605.2 103.8 594.8 108.8 611.8 102.2 620.8 100.2 651.2 99.8Z"/><path fill="#8cbaa3" d="M570.8 213.8L572.8 226.8 576.2 222.2 576.2 217.2 574.8 214.8ZM606.2 213.2L604.8 216.8 604.8 220.8 606.8 225.2 609.8 227.8 616.2 229.2 636.2 229.2 646.2 231.8 656.8 238.2 673.8 254.2 679.8 256.8 685.2 255.2 683.2 247.2 682.8 230.8 677.8 218.8 673.2 199.8 665.2 212.8 658.8 227.2 647.2 208.2 638.8 199.2 615.8 206.2 610.8 208.8ZM646.8 170.8L644.8 172.8 651.8 176.8 658.8 184.8 661.2 171.2 655.2 168.8 650.8 168.8ZM615.8 165.2L624.8 166.2 618.8 163.8 616.2 163.8ZM548.8 142.8L546.2 156.8 557.2 174.2 565.2 182.8 579.8 177.8 585.8 172.8 587.8 168.8 588.2 164.2 585.2 158.8 579.2 155.2 560.2 148.8ZM733.2 136.8L729.8 142.2 729.8 161.8 728.2 169.8 716.8 197.8 717.8 205.8 723.2 209.2 727.8 209.2 727.8 197.2 730.2 182.8 746.8 150.2 746.8 148.2 742.8 143.2ZM674.2 108.2L637.2 109.8 625.2 111.8 616.2 133.2 615.8 138.2 617.2 141.8 622.8 145.2 627.2 145.2 631.8 143.2 640.8 134.8 642.2 129.2 648.2 125.2 654.8 117.8 664.8 111.2ZM660.8 98.2L656.8 93.8 652.8 91.8 646.2 90.8 641.8 91.8 622.8 100.2 651.2 99.8Z"/><path fill="#93c3ab" d="M570.8 213.8L572.2 224.2 574.2 221.8 574.8 217.8 574.2 215.2ZM607.8 214.8L606.8 220.2 610.8 226.2 615.2 227.8 638.2 228.2 647.8 230.8 655.8 235.8 673.2 252.2 678.8 254.8 684.8 253.2 683.2 247.2 682.8 232.8 676.8 219.2 672.2 202.2 665.2 212.8 658.8 227.2 647.2 208.2 640.2 200.2 618.8 206.8 612.8 209.8ZM647.2 172.8L646.8 173.8 651.8 176.8 658.8 184.8 661.2 172.8 656.8 170.8 651.2 170.8ZM615.8 165.2L624.8 166.2 618.8 163.8 616.2 163.8ZM548.8 144.2L546.2 156.8 557.2 174.2 563.8 181.8 576.8 177.2 583.2 172.8 585.2 169.2 585.8 165.2 582.2 159.2ZM735.2 137.8L733.2 139.2 731.2 145.2 731.2 162.8 730.2 167.8 719.8 192.8 718.2 198.8 719.2 203.8 721.8 206.2 726.2 207.8 727.8 207.2 728.2 192.8 731.2 179.8 746.8 150.2 746.8 148.2 742.8 143.2ZM666.8 109.2L637.2 109.8 627.2 111.2 618.2 131.2 617.8 137.2 618.8 139.8 623.2 143.2 628.2 143.2 632.2 141.2 638.8 135.2 642.2 129.2 655.2 115.2 660.2 111.8ZM658.2 98.8L653.2 94.2 646.8 92.8 638.8 94.8 627.2 99.8 651.2 99.8Z"/><path fill="#9accb3" d="M570.8 213.8L571.8 221.2 572.8 214.8ZM609.2 217.2L610.2 222.8 614.2 225.8 619.2 226.8 638.8 226.8 647.8 228.8 654.8 232.8 673.8 250.8 678.2 252.8 680.8 252.8 684.2 250.8 682.8 235.2 675.8 220.2 670.8 204.8 665.2 212.8 658.8 227.2 647.2 208.2 641.2 201.2 619.2 208.2 613.2 211.8ZM649.8 173.8L648.8 174.8 658.8 184.8 660.8 173.8 655.2 172.2ZM615.8 165.2L624.8 166.2 618.8 163.8 616.2 163.8ZM548.8 145.8L546.2 156.8 557.2 174.2 562.2 180.2 575.8 175.8 581.2 171.8 582.8 168.8 582.8 164.2 578.8 159.2ZM736.8 138.8L734.2 142.2 733.2 146.8 733.2 162.8 732.2 167.2 720.2 196.2 720.8 201.8 724.8 205.2 727.8 205.2 728.2 192.8 731.2 179.8 746.8 150.2 746.8 148.2 742.8 143.2ZM661.8 109.2L637.2 109.8 628.2 111.2 620.2 129.2 619.8 136.8 620.8 138.8 624.2 141.2 628.2 141.2 631.8 139.8 638.8 133.2 649.8 118.2 655.2 112.8ZM655.2 99.2L650.2 95.8 644.2 95.2 631.2 99.8Z"/><path fill="#a1d4bb" d="M612.2 216.2L611.8 220.2 615.8 224.2 619.2 225.2 642.8 225.2 649.2 226.8 655.8 230.8 674.2 249.2 680.8 250.2 683.2 248.2 682.8 238.2 668.8 207.2 658.8 227.2 649.2 211.2 642.2 202.2 623.2 208.2 615.8 212.2ZM651.8 175.2L650.8 176.2 658.8 184.8 660.8 175.8 658.8 174.8ZM615.8 165.2L624.8 166.2 618.8 163.8 616.2 163.8ZM548.2 147.2L546.2 156.8 560.8 178.8 573.2 174.8 579.2 170.2 580.2 165.2 576.8 160.2 568.8 155.8ZM739.2 140.2L736.8 142.8 735.8 146.2 735.2 165.2 724.8 186.8 722.2 194.2 722.8 200.8 725.8 203.2 727.8 203.2 728.8 189.2 731.2 179.8 746.8 150.2 745.8 146.8ZM656.2 109.2L630.2 110.8 621.8 129.2 621.2 133.8 622.2 136.8 625.8 139.2 628.2 139.2 633.2 136.8 638.8 131.2 649.8 114.8ZM636.2 99.8L651.2 99.8 648.2 98.2 641.2 98.2Z"/><path fill="#a8ddc3" d="M614.2 217.8L614.8 220.8 620.2 223.8 648.2 223.2 651.2 224.2 658.8 230.2 666.2 240.2 673.2 246.8 676.2 248.2 679.8 248.2 681.8 246.2 682.2 241.8 680.2 235.2 667.2 210.2 658.8 227.2 643.8 203.8 624.8 209.2 618.2 212.8ZM652.8 177.8L658.8 184.8 660.8 177.2 654.8 176.8ZM736.2 170.2L727.8 183.2 724.2 191.8 723.8 197.2 725.2 200.2 727.2 201.2 730.2 182.8ZM615.8 165.2L624.8 166.2 618.8 163.8 616.2 163.8ZM548.2 148.8L546.2 156.8 558.8 176.2 570.2 173.8 576.8 169.2 577.2 164.8 572.8 159.8ZM741.2 142.2L740.2 142.2 738.2 146.8 739.2 163.2 736.8 169.2 746.8 150.2 745.8 146.8ZM650.2 109.2L632.2 110.8 626.8 119.8 623.8 127.2 623.2 133.8 624.8 136.2 627.2 137.2 631.2 136.2 637.8 130.2Z"/><path fill="#b0e6cb" d="M664.8 214.2L659.2 225.8 667.8 239.8 673.8 245.2 678.2 246.2 680.8 242.2 679.2 235.8 671.8 222.8ZM654.8 220.8L645.8 206.2 636.8 207.2 624.8 210.8 620.2 213.2 616.8 218.2 618.8 221.2 624.2 222.8 633.8 222.2 645.2 219.8 652.8 219.8ZM731.2 180.2L725.8 191.8 725.8 196.8 727.2 198.8ZM654.8 179.8L658.8 184.8 660.2 179.2 657.2 178.8ZM615.8 165.2L623.8 165.8 618.8 163.8 616.2 163.8ZM547.8 150.8L546.2 156.8 557.2 173.8 567.8 172.2 574.2 168.2 574.2 164.2 568.8 159.2 553.8 152.2ZM743.2 144.2L741.2 146.8 741.2 153.2 742.8 158.8 746.8 150.2 746.8 148.2ZM642.2 109.8L637.8 109.8 635.2 111.2 628.2 119.8 624.8 129.2 625.2 133.2 626.8 134.8 632.2 133.8 639.2 125.8 642.8 117.2 643.2 113.2Z"/><path fill="#b8efd3" d="M665.8 223.2L664.2 225.2 664.2 228.8 667.8 237.2 672.8 242.8 677.8 243.8 678.8 238.8 676.8 233.2 670.8 225.2ZM646.8 211.2L642.2 209.2 630.8 210.2 621.2 214.8 619.8 218.8 624.8 221.2 634.8 220.2 643.2 216.8 646.2 214.2ZM729.8 185.2L727.2 191.2 728.2 196.2ZM659.8 181.2L657.2 182.2 658.8 184.8ZM615.8 165.2L621.8 165.8 622.2 164.8 616.2 163.8ZM547.2 152.8L546.2 156.8 554.8 170.2 564.2 170.8 568.2 169.8 571.2 167.2 571.2 164.2 567.2 160.2 555.8 154.8ZM745.2 146.2L744.2 148.2 745.2 153.8 746.8 150.2ZM637.8 114.8L633.8 115.8 629.2 120.8 626.8 126.8 626.8 131.2 628.2 132.8 632.2 131.8 637.2 126.2 639.8 119.2 639.2 116.2Z"/><path fill="#c0f8dc" d="M669.2 228.8L668.2 229.8 669.2 236.2 673.2 240.8 676.2 241.2 676.8 237.2 674.8 232.8 671.2 229.2ZM638.8 213.2L636.2 211.8 629.8 212.2 623.8 215.2 622.8 217.8 624.8 219.2 632.8 218.8 636.8 216.8ZM616.2 163.8L618.2 165.8 620.8 164.2ZM547.2 157.2L551.2 164.8 554.8 166.8 565.2 167.8 567.8 165.8 565.8 161.8 558.2 157.8 551.8 155.8 548.8 155.8ZM635.8 118.8L633.2 119.2 630.2 122.2 628.8 125.2 628.8 129.8 632.8 129.2 635.2 126.2 636.8 122.8Z"/></g><path fill="#a2cbb7" stroke="#26342d" stroke-opacity="0.35" stroke-width="0.5" d="M584.8 254.2L618.2 262.8 622.8 261.2 629.8 261.2 635.2 263.2 642.2 268.8 658.8 272.8 658.8 251.2 656.2 247.8 649.8 242.2 635.2 236.2 619.2 232.8 609.8 232.8 604.2 235.2 599.2 240.2 590.2 250.8ZM546.2 223.2L546.2 244.2 563.8 248.8 556.2 240.2ZM546.2 157.2L546.2 198.8 552.8 205.8 555.8 207.8 564.8 211.8 577.2 215.2 585.2 216.8 595.2 216.8 601.2 213.8 608.8 204.8 617.2 196.8 623.2 194.2 629.8 194.2 636.8 197.2 644.2 203.8 649.8 211.2 658.8 226.8 658.8 185.2 656.2 181.8 648.2 174.8 640.8 171.2 627.2 167.2 617.8 165.8 610.2 166.2 604.2 169.2 595.2 179.2 587.2 186.2 582.2 188.2 574.8 188.2 567.8 185.2 560.2 178.8 552.8 168.2ZM642.8 133.2L648.2 139.8 658.8 156.8 658.8 137.2ZM546.2 108.8L546.2 128.8 552.8 136.2 556.2 138.8 570.8 144.8 585.2 147.8 595.2 147.2 600.8 144.2 614.2 129.8 618.2 127.2 585.8 118.8 579.2 119.8 574.2 119.2 569.2 117.2 564.2 113.2Z"/><path fill="#81a292" stroke="#26342d" stroke-opacity="0.35" stroke-width="0.5" d="M659.2 252.2L659.2 272.8 672.8 267.2 661.2 256.2ZM747.2 149.2L744.2 157.2 734.8 173.2 731.8 179.8 728.8 192.8 728.8 228.2 730.8 236.2 734.2 241.8 747.2 236.8 747.2 214.8 745.2 208.8 745.2 198.2 747.2 190.8ZM673.2 131.8L659.2 137.2 659.2 158.2 660.8 161.2 661.8 167.2 661.2 177.2 659.2 183.8 659.2 225.2 664.8 212.8 674.8 195.8 677.8 184.2 678.8 172.8 678.2 146.2 676.2 136.8ZM716.2 114.2L689.2 124.8 701.2 136.8 704.8 145.2 705.2 156.8 703.8 164.2 701.2 171.2 686.8 197.2 684.2 206.8 683.2 216.8 683.2 241.8 684.8 252.8 688.8 260.8 715.8 249.2 705.2 239.2 702.8 235.2 700.2 226.2 700.2 217.2 701.8 209.8 704.2 202.8 717.2 179.2 721.2 165.8 722.2 156.2 721.8 128.8 719.8 119.8ZM746.8 101.2L734.8 106.8 745.2 116.8 747.2 120.8Z"/><path fill="#4f6359" stroke="#26342d" stroke-opacity="0.35" stroke-width="0.5" d="M714.8 114.2L680.2 115.2 671.2 116.8 658.8 120.8 646.8 126.2 642.8 129.2 642.2 132.8 657.2 136.8 659.8 136.8 672.8 131.2 675.2 128.8 679.2 126.8 690.2 124.2ZM563.8 112.8L559.8 106.8 559.8 103.2 546.8 108.2ZM730.8 96.8L734.2 102.2 734.8 105.8 746.2 101.2ZM707.8 91.8L706.8 90.8 672.8 82.2 676.8 87.8 677.2 91.8 674.2 95.2 671.2 96.8 657.8 99.8 625.8 100.2 617.8 101.2 602.8 105.8 588.2 112.2 584.2 115.8 584.2 118.2 618.8 126.8 615.2 121.2 614.8 118.2 617.2 114.8 623.2 111.8 637.2 109.2 667.2 108.8 679.8 106.8 691.8 102.8 701.8 98.2 706.8 94.8ZM652.8 77.2L633.8 72.8 621.8 77.8 619.8 80.2 615.2 82.8 601.8 85.8 577.2 95.8 591.2 94.8 613.2 94.8 622.2 93.2 633.2 89.8 648.8 82.8 652.2 79.8Z"/><path fill="none" stroke="#1a2620" stroke-opacity="0.5" stroke-width="0.45" d="M643.2 239.2L653.2 244.8 657.8 249.8 661.2 255.8 657.8 249.8 653.2 244.8ZM550.2 230.2L557.8 241.8 560.8 244.2ZM725.8 229.8L729.8 232.8 728.8 230.8 727.8 231.2ZM570.8 213.2L585.2 217.2 590.8 223.8 593.2 230.8 590.2 222.8 584.8 216.8ZM716.8 180.2L708.8 193.8 701.8 209.8 700.2 217.2 700.2 226.2 702.2 233.2 700.2 226.2 700.2 217.2 701.8 209.8 708.8 193.8ZM602.2 171.2L588.8 185.2 582.2 188.2 579.2 188.2 582.2 188.2 588.8 185.2ZM631.8 162.2L626.2 166.8 623.8 164.8 619.2 163.2 616.2 163.2 622.2 164.2 625.2 166.2 624.8 166.8 615.8 165.8 627.2 166.8 630.2 165.2ZM677.2 139.8L678.8 153.2 678.8 172.8 677.2 187.2 674.8 195.8 664.8 212.8 659.2 225.2 657.8 225.2 647.8 208.2 640.2 199.8 634.2 195.8 629.8 194.2 626.2 194.2 629.8 194.2 634.2 195.8 640.2 199.8 647.8 208.2 658.8 226.8 664.8 212.8 674.8 195.8 677.2 187.2 677.8 181.8 682.2 180.8 686.8 178.2 691.2 173.2 693.8 167.2 694.2 160.8 690.8 150.8 685.8 145.2 682.8 143.8 678.2 143.8ZM683.2 144.2L689.2 148.8 692.2 153.8 693.8 158.8 693.8 167.2 691.2 173.2 686.8 178.2 683.2 180.2 678.2 181.2 678.8 153.2 677.8 145.2 678.8 144.2ZM721.8 132.8L722.2 156.2 719.8 172.2 722.2 156.2ZM615.2 117.8L615.2 121.2 618.8 126.8 614.2 129.8 605.8 139.2 597.8 146.2 592.8 147.8 585.2 147.8 566.2 143.2 585.2 147.8 592.8 147.8 597.8 146.2 600.8 144.2 614.2 129.8 618.8 126.8 615.2 121.2ZM699.2 114.8L680.2 115.2 667.8 117.8 656.2 121.8 646.8 126.2 642.8 129.2 642.2 132.8 650.2 142.8 650.2 145.2 654.2 149.8 648.2 139.8 642.2 132.8 642.2 130.2 643.8 128.2 656.2 121.8 671.2 116.8 680.2 115.2ZM560.8 107.8L564.2 112.2 563.2 109.2ZM676.2 93.2L671.2 96.8 661.8 99.2 651.2 100.2 625.8 100.2 617.8 101.2 602.8 105.8 589.8 111.8 602.8 105.8 617.8 101.2 625.8 100.2 651.2 100.2 661.8 99.2 671.2 96.8Z"/></g><path fill="none" stroke="#1a2620" stroke-opacity="0.45" stroke-width="0.7" d="M546.2 223.2L546.2 244.2 563.8 248.8 559.8 242.2 559.8 238.2 549.8 229.2ZM730.8 96.8L734.2 102.2 734.8 106.8 744.8 116.2 747.2 120.8 747.2 101.2ZM633.8 72.8L621.8 77.8 619.8 80.2 615.2 82.8 601.8 85.8 576.2 96.2 585.8 104.8 589.8 110.8 588.8 112.2 582.2 116.2 575.2 117.2 567.2 114.2 564.2 111.8 563.2 107.8 560.2 102.8 546.2 108.8 546.2 129.2 548.8 136.8 548.8 146.2 546.2 155.8 546.2 198.8 552.8 205.8 555.8 207.8 570.8 213.8 572.2 225.2 575.8 231.8 586.2 230.8 593.2 231.2 593.2 237.8 591.8 242.8 589.8 246.2 584.2 251.8 584.8 254.2 618.2 262.8 622.8 261.2 629.8 261.2 635.2 263.2 642.2 268.8 659.2 272.8 672.8 267.2 675.8 264.2 678.8 262.8 688.8 260.8 715.8 249.2 705.2 239.2 702.2 233.8 710.2 228.2 713.8 227.2 718.8 227.2 724.8 229.2 730.2 233.8 730.8 236.2 734.2 241.8 747.2 236.8 747.2 214.8 745.2 208.8 745.2 198.2 747.2 190.8 747.2 149.2 742.8 143.2 739.2 140.2 731.2 135.8 721.8 132.2 720.2 121.2 716.2 114.2 699.2 114.2 699.2 106.2 702.2 99.2 706.8 94.8 707.8 92.8 706.8 90.8 673.2 82.2 669.8 83.2 663.8 83.2 657.2 80.8 651.8 76.8ZM616.2 163.8L615.2 165.8 610.2 166.2 604.8 169.2 603.8 168.8 609.2 164.2 612.2 163.2Z"/>
<path fill="none" stroke="#7c7674" stroke-width="1.1" d="M16.5 373.7L17.4 373.3"/><path fill="none" stroke="#7c7674" stroke-width="1.1" d="M20.2 372.2L58.4 356.5"/><path fill="none" stroke="#928c8a" stroke-width="1.1" d="M16.5 373.7L129.3 402.3"/><path fill="none" stroke="#8d8785" stroke-width="1.1" d="M16.5 373.7L16.5 237.8"/><path fill="none" stroke="#a7a19f" stroke-width="1.1" d="M129.3 402.3L242.2 431"/><path fill="none" stroke="#999391" stroke-width="1.1" d="M16.5 237.8L16.5 102"/><path fill="none" stroke="#86807e" stroke-width="1.1" d="M16.5 237.8L17.4 237.5"/><path fill="none" stroke="#86807e" stroke-width="1.1" d="M20.2 236.3L58.4 220.7"/><path fill="none" stroke="#9d9795" stroke-width="1.1" d="M16.5 237.8L129.3 266.5"/><path fill="none" stroke="#a29c9a" stroke-width="1.1" d="M129.3 402.3L129.3 266.5"/><path fill="none" stroke="#b3adab" stroke-width="1.1" d="M129.3 266.5L242.2 295.1"/><path fill="none" stroke="#aea8a6" stroke-width="1.1" d="M129.3 266.5L129.3 130.6"/><path fill="none" stroke="#918b89" stroke-width="1.1" d="M16.5 102L105 65.8"/><path fill="none" stroke="#a9a3a1" stroke-width="1.1" d="M16.5 102L129.3 130.6"/><path fill="none" stroke="#b8b2b0" stroke-width="1.1" d="M242.2 431L242.2 295.1"/><path fill="none" stroke="#797371" stroke-width="1.1" d="M105 65.8L193.5 29.5"/><path fill="none" stroke="#b8b2b0" stroke-width="1.1" d="M129.3 130.6L242.2 159.3"/><path fill="none" stroke="#b8b2b0" stroke-width="1.1" d="M242.2 295.1L242.2 159.3"/><path fill="none" stroke="#8f8987" stroke-width="1.1" d="M129.3 402.3L130.3 402"/><path fill="none" stroke="#8f8987" stroke-width="1.1" d="M133.1 400.8L171.3 385.2"/><path fill="none" stroke="#7a7472" stroke-width="1.1" d="M173.4 354.8L177.3 355.8"/><path fill="none" stroke="#8c8684" stroke-width="1.1" d="M278.9 381.6L330.7 394.8"/><path fill="none" stroke="#807a78" stroke-width="1.1" d="M105 72.3L105 65.8"/><path fill="none" stroke="#9a9492" stroke-width="1.1" d="M129.3 266.5L130.3 266.1"/><path fill="none" stroke="#9a9492" stroke-width="1.1" d="M133.1 265L171.3 249.3"/><path fill="none" stroke="#847e7c" stroke-width="1.1" d="M173.4 219L177.3 220"/><path fill="none" stroke="#989290" stroke-width="1.1" d="M278.9 245.8L330.7 258.9"/><path fill="none" stroke="#938d8b" stroke-width="1.1" d="M217.8 101.9L217.8 94.4"/><path fill="none" stroke="#a6a09e" stroke-width="1.1" d="M129.3 130.6L217.8 94.4"/><path fill="none" stroke="#8f8987" stroke-width="1.1" d="M105 65.8L217.8 94.4"/><path fill="none" stroke="#9c9694" stroke-width="1.1" d="M330.7 394.8L330.7 258.9"/><path fill="none" stroke="#8c8684" stroke-width="1.1" d="M217.8 94.4L306.4 58.1"/><path fill="none" stroke="#a39d9b" stroke-width="1.1" d="M217.8 94.4L330.7 123.1"/><path fill="none" stroke="#a8a2a0" stroke-width="1.1" d="M330.7 258.9L330.7 123.1"/><path fill="none" stroke="#a49e9c" stroke-width="1.1" d="M242.2 431L330.7 394.8"/><path fill="none" stroke="#8a8482" stroke-width="1.1" d="M330.7 394.8L419.2 358.5"/><path fill="none" stroke="#756f6d" stroke-width="1.1" d="M367.9 345.5L419.2 358.5"/><path fill="none" stroke="#6a6462" stroke-width="1.1" d="M193.5 36L193.5 29.5"/><path fill="none" stroke="#b0aaa8" stroke-width="1.1" d="M242.2 295.1L330.7 258.9"/><path fill="none" stroke="#958f8d" stroke-width="1.1" d="M330.7 258.9L419.2 222.7"/><path fill="none" stroke="#7f7977" stroke-width="1.1" d="M367.4 209.5L419.2 222.7"/><path fill="none" stroke="#7b7573" stroke-width="1.1" d="M306.4 65.2L306.4 58.1"/>
<path fill="none" stroke="#3ee81c" stroke-width="2.5" d="M193.5 29.5L419.2 86.8"/><path fill="none" stroke="#f04622" stroke-width="2.5" d="M242.2 159.3L419.2 86.8"/><path fill="none" stroke="#2a78ee" stroke-width="2.5" d="M419.2 86.8L419.2 358.5"/>
<path fill="none" stroke="#3ee81c" stroke-width="1.9" d="M634.5 72.3L747.3 101"/><path fill="none" stroke="#f04622" stroke-width="1.9" d="M658.8 137.2L747.3 101"/><path fill="none" stroke="#2a78ee" stroke-width="1.9" d="M747.3 101L747.3 236.8"/>
<g fill="none" stroke-width="1.1"><path stroke="#505050" d="M692 508L692 420"/><path stroke="#595959" d="M692 508L764.5 526.5"/><path stroke="#5d5d5d" d="M634.5 531.8L692 508"/><path stroke="#626262" d="M692 420L692 332"/><path stroke="#686868" d="M692 420L764.5 438.5"/><path stroke="#6b6b6b" d="M634.5 443.8L692 420"/><path stroke="#6e6e6e" d="M764.5 526.5L764.5 438.5"/><path stroke="#737373" d="M764.5 526.5L837 545"/><path stroke="#747474" d="M634.5 531.8L634.5 443.8"/><path stroke="#767676" d="M707 550.2L764.5 526.5"/><path stroke="#787878" d="M634.5 355.8L692 332"/><path stroke="#797979" d="M634.5 531.8L707 550.2"/><path stroke="#7a7a7a" d="M764.5 438.5L764.5 350.5"/><path stroke="#7c7c7c" d="M577 555.5L634.5 531.8"/><path stroke="#7f7f7f" d="M764.5 438.5L837 457"/><path stroke="#808080" d="M634.5 443.8L634.5 355.8"/><path stroke="#828282" d="M707 462.2L764.5 438.5"/><path stroke="#848484" d="M634.5 443.8L707 462.2"/><path stroke="#878787" d="M577 467.5L634.5 443.8"/><path stroke="#898989" d="M707 550.2L707 462.2"/><path stroke="#8b8b8b" d="M779.5 568.8L837 545"/><path stroke="#8d8d8d" d="M707 374.2L764.5 350.5"/><path stroke="#8e8e8e" d="M707 550.2L779.5 568.8"/><path stroke="#8e8e8e" d="M577 555.5L577 467.5"/><path stroke="#909090" d="M634.5 355.8L707 374.2"/><path stroke="#909090" d="M649.5 574L707 550.2"/><path stroke="#929292" d="M577 379.5L634.5 355.8"/><path stroke="#939393" d="M577 555.5L649.5 574"/><path stroke="#949494" d="M707 462.2L707 374.2"/><path stroke="#969696" d="M779.5 480.8L837 457"/><path stroke="#989898" d="M707 462.2L779.5 480.8"/><path stroke="#999999" d="M577 467.5L577 379.5"/><path stroke="#9b9b9b" d="M649.5 486L707 462.2"/><path stroke="#9d9d9d" d="M779.5 568.8L779.5 480.8"/><path stroke="#9d9d9d" d="M577 467.5L649.5 486"/><path stroke="#a2a2a2" d="M649.5 574L649.5 486"/><path stroke="#a3a3a3" d="M707 374.2L779.5 392.8"/><path stroke="#a3a3a3" d="M722 592.5L779.5 568.8"/><path stroke="#a5a5a5" d="M649.5 398L707 374.2"/><path stroke="#a6a6a6" d="M649.5 574L722 592.5"/><path stroke="#a7a7a7" d="M779.5 480.8L779.5 392.8"/><path stroke="#a8a8a8" d="M577 379.5L649.5 398"/><path stroke="#acacac" d="M649.5 486L649.5 398"/><path stroke="#adadad" d="M722 504.5L779.5 480.8"/><path stroke="#b0b0b0" d="M649.5 486L722 504.5"/><path stroke="#b4b4b4" d="M722 592.5L722 504.5"/><path stroke="#bababa" d="M649.5 398L722 416.5"/><path stroke="#bebebe" d="M722 504.5L722 416.5"/></g>
<path fill="none" stroke="#3ee81c" stroke-width="2.1" d="M692 332L837 369"/><path fill="none" stroke="#f04622" stroke-width="2.1" d="M722 416.5L837 369"/><path fill="none" stroke="#2a78ee" stroke-width="2.1" d="M837 369L837 545"/>
<path stroke="#5438de" stroke-width="6.2" stroke-linecap="butt" d="M383 378L383 410"/><path fill="#5438de" d="M383 437.3L364.7 408L401.3 408Z"/><path stroke="#5438de" stroke-width="7" stroke-linecap="round" d="M428.5 316.5L518.4 252.6"/><path fill="#5438de" d="M541 236.5L527.3 268.5L506.3 239Z"/><path stroke="#5438de" stroke-width="7" stroke-linecap="round" d="M428.5 346.5L533.5 377.8"/><path fill="#5438de" d="M559.5 385.5L526.7 393.6L536.5 360.8Z"/>

<rect x="486.5" y="66" width="146.5" height="36" rx="18" fill="#9a8beb"/>
<rect x="540.5" y="315.8" width="147.5" height="35.6" rx="17.8" fill="#9a8beb"/>
<rect x="252" y="448.5" width="262" height="121.5" rx="14" fill="#9a8beb"/>
<g fill="#ffffff" stroke="#ffffff" stroke-width="0.35" font-family="'Liberation Sans', sans-serif" font-weight="bold" font-size="23.6">
<text x="502" y="92" textLength="119" lengthAdjust="spacingAndGlyphs">UNIT CELL</text>
<text x="555.3" y="341" textLength="111.7" lengthAdjust="spacingAndGlyphs">CELL MAP</text>
<text x="275" y="486.3" textLength="200.5" lengthAdjust="spacingAndGlyphs">PARAMETERS EX.</text>
<text x="276" y="517.2" textLength="133" lengthAdjust="spacingAndGlyphs">THICKNESS</text>
<text x="275" y="548.1" textLength="155.5" lengthAdjust="spacingAndGlyphs">BIAS LENGTH</text>
</g>
</svg>
</body></html>
